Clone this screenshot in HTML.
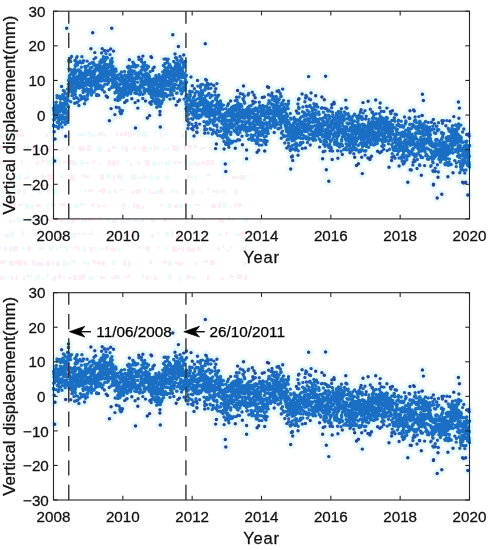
<!DOCTYPE html>
<html><head><meta charset="utf-8"><title>Vertical displacement</title>
<style>html,body{margin:0;padding:0;background:#fff;width:488px;height:550px;overflow:hidden}svg{display:block}</style>
</head><body>
<svg width="488" height="550" viewBox="0 0 488 550">
<rect width="488" height="550" fill="#fff"/>
<g opacity="0.5"><path d="M16 131h2v6h-2zM20 133h4v4h-4zM45 134h3v3h-3zM67 132h3v2h-3zM98 132h5v4h-5zM116 132h2v4h-2zM120 132h3v4h-3zM124 131h3v5h-3zM128 132h3v5h-3zM134 132h2v3h-2zM160 132h2v5h-2zM198 132h4v5h-4zM207 131h2v6h-2zM222 132h4v6h-4zM234 132h3v5h-3zM239 132h4v5h-4zM244 132h5v3h-5zM0 146h5v3h-5zM24 146h2v5h-2zM32 145h4v5h-4zM47 146h4v6h-4zM56 149h5v2h-5zM66 147h2v4h-2zM78 146h5v5h-5zM83 147h2v4h-2zM87 145h4v6h-4zM107 149h4v3h-4zM112 146h4v3h-4zM125 146h3v6h-3zM133 147h3v3h-3zM142 146h5v6h-5zM154 145h2v5h-2zM172 145h5v6h-5zM184 145h2v5h-2zM188 145h4v4h-4zM194 145h3v3h-3zM202 147h4v2h-4zM216 146h3v4h-3zM232 147h4v2h-4zM237 146h4v6h-4zM0 160h2v4h-2zM4 160h2v5h-2zM8 164h2v2h-2zM11 163h3v2h-3zM21 160h2v5h-2zM36 161h3v4h-3zM41 160h4v3h-4zM52 161h5v4h-5zM63 160h2v4h-2zM66 160h2v4h-2zM69 160h5v5h-5zM85 162h4v2h-4zM93 160h2v4h-2zM108 160h3v6h-3zM112 160h4v6h-4zM117 160h2v5h-2zM130 163h2v3h-2zM138 161h2v4h-2zM145 160h5v6h-5zM158 162h2v3h-2zM173 161h4v3h-4zM178 161h4v3h-4zM196 162h4v4h-4zM201 161h4v4h-4zM206 160h3v6h-3zM210 160h4v5h-4zM3 175h2v4h-2zM23 177h4v2h-4zM35 176h3v5h-3zM41 174h3v6h-3zM48 174h5v6h-5zM70 175h5v6h-5zM82 174h2v3h-2zM84 175h5v3h-5zM100 174h4v6h-4zM113 175h2v6h-2zM117 174h4v5h-4zM143 174h2v5h-2zM187 175h2v5h-2zM206 174h5v2h-5zM223 175h2v3h-2zM232 176h4v3h-4zM237 176h2v3h-2zM240 175h4v5h-4zM6 190h2v4h-2zM17 190h4v4h-4zM47 190h3v3h-3zM88 189h5v3h-5zM98 190h4v2h-4zM102 188h3v6h-3zM113 190h4v3h-4zM131 191h4v3h-4zM136 189h5v5h-5zM149 189h2v5h-2zM152 192h4v2h-4zM160 188h3v6h-3zM191 189h3v6h-3zM207 188h2v3h-2zM216 189h2v5h-2zM222 190h4v3h-4zM235 189h2v6h-2zM3 204h5v3h-5zM10 203h5v6h-5zM18 204h5v2h-5zM36 204h5v3h-5zM51 203h2v4h-2zM60 203h5v3h-5zM91 204h2v3h-2zM93 204h2v2h-2zM97 204h3v4h-3zM101 205h5v2h-5zM122 203h2v6h-2zM133 203h2v5h-2zM136 204h4v5h-4zM142 206h2v3h-2zM174 204h4v4h-4zM184 204h2v3h-2zM195 204h5v2h-5zM211 204h5v4h-5zM218 203h3v5h-3zM234 203h3v4h-3zM238 203h4v4h-4zM9 220h3v3h-3zM34 219h4v3h-4zM49 218h4v4h-4zM55 217h3v4h-3zM60 220h3v3h-3zM71 217h4v6h-4zM75 217h5v3h-5zM85 219h2v3h-2zM88 217h5v4h-5zM94 217h3v2h-3zM99 217h3v3h-3zM112 220h3v3h-3zM122 217h2v6h-2zM142 218h2v5h-2zM151 219h4v3h-4zM163 217h4v5h-4zM202 217h2v3h-2zM204 219h2v2h-2zM219 218h5v5h-5zM228 217h2v4h-2zM5 234h4v3h-4zM33 233h4v3h-4zM47 231h3v3h-3zM51 233h4v4h-4zM58 233h4v4h-4zM64 233h2v4h-2zM77 233h3v2h-3zM82 233h4v2h-4zM91 231h2v4h-2zM110 231h3v4h-3zM126 232h4v5h-4zM134 233h3v3h-3zM151 234h3v4h-3zM176 232h4v5h-4zM181 234h2v4h-2zM193 232h3v3h-3zM204 232h3v3h-3zM225 232h3v3h-3zM240 232h3v4h-3zM243 231h3v4h-3zM4 247h3v4h-3zM14 246h4v5h-4zM27 246h4v5h-4zM74 246h3v3h-3zM78 247h2v4h-2zM90 247h3v5h-3zM94 247h3v2h-3zM105 246h4v4h-4zM111 248h5v4h-5zM138 246h3v3h-3zM146 246h4v5h-4zM157 246h2v3h-2zM172 246h5v6h-5zM178 248h3v2h-3zM182 247h2v5h-2zM187 247h4v5h-4zM191 248h4v4h-4zM197 246h4v5h-4zM217 247h3v4h-3zM222 245h2v3h-2zM230 246h2v3h-2zM245 246h2v5h-2zM0 260h4v4h-4zM4 260h2v3h-2zM9 261h5v5h-5zM15 260h3v5h-3zM18 260h4v6h-4zM23 261h4v4h-4zM32 260h2v5h-2zM35 262h2v4h-2zM38 262h4v4h-4zM46 261h4v5h-4zM52 262h2v3h-2zM56 261h4v5h-4zM92 260h4v3h-4zM97 261h4v4h-4zM102 261h3v5h-3zM123 260h3v6h-3zM128 261h2v6h-2zM149 260h3v4h-3zM161 261h3v2h-3zM164 260h3v4h-3zM175 261h2v3h-2zM178 262h5v4h-5zM195 262h2v4h-2zM204 260h4v3h-4zM210 260h5v5h-5zM244 262h2v4h-2zM0 276h3v4h-3zM11 276h2v4h-2zM16 275h2v5h-2zM23 276h2v4h-2zM29 275h3v2h-3zM53 276h3v5h-3zM58 274h3v5h-3zM68 277h4v2h-4zM73 275h4v5h-4zM79 275h4v5h-4zM83 274h2v5h-2zM100 276h5v3h-5zM111 277h3v2h-3zM114 275h3v4h-3zM124 276h3v2h-3zM128 274h2v3h-2zM146 275h2v5h-2zM149 276h2v3h-2zM154 276h3v4h-3zM188 275h3v4h-3zM207 275h2v5h-2zM220 278h2v2h-2zM222 277h2v3h-2zM230 275h4v3h-4zM237 274h5v5h-5zM244 275h3v5h-3z" fill="#ffdcef"/><path d="M0 134h2v3h-2zM5 132h3v4h-3zM11 133h5v3h-5zM51 132h2v4h-2zM54 132h2v5h-2zM77 133h4v3h-4zM81 133h4v3h-4zM87 131h3v4h-3zM90 133h3v4h-3zM94 134h3v3h-3zM104 133h2v4h-2zM137 131h3v6h-3zM142 131h5v6h-5zM154 131h3v2h-3zM164 133h3v3h-3zM181 133h3v5h-3zM186 132h3v5h-3zM192 131h4v4h-4zM210 133h4v3h-4zM216 132h2v5h-2zM219 131h2v6h-2zM227 133h5v3h-5zM11 146h4v5h-4zM26 146h4v6h-4zM39 147h3v5h-3zM62 147h2v4h-2zM71 146h3v3h-3zM97 146h5v6h-5zM122 146h2v5h-2zM139 148h2v3h-2zM148 147h4v3h-4zM157 146h2v5h-2zM163 148h3v3h-3zM167 147h3v4h-3zM177 146h3v5h-3zM200 147h2v4h-2zM221 146h2v4h-2zM225 146h5v4h-5zM47 160h5v5h-5zM59 160h2v6h-2zM74 161h3v5h-3zM80 160h4v5h-4zM90 161h2v2h-2zM100 162h2v3h-2zM126 160h3v2h-3zM152 161h5v5h-5zM161 161h2v4h-2zM165 161h4v5h-4zM169 160h2v5h-2zM184 160h3v5h-3zM189 161h5v5h-5zM193 160h3v5h-3zM220 160h5v6h-5zM230 160h5v2h-5zM242 162h3v3h-3zM0 174h2v3h-2zM7 177h2v2h-2zM12 176h5v4h-5zM18 174h3v6h-3zM27 175h3v4h-3zM45 175h3v3h-3zM60 175h3v3h-3zM106 174h5v5h-5zM121 176h2v4h-2zM131 174h5v6h-5zM138 177h4v2h-4zM145 176h3v3h-3zM150 175h3v5h-3zM155 176h5v4h-5zM165 175h4v5h-4zM189 176h4v3h-4zM195 175h2v5h-2zM243 175h3v5h-3zM247 175h2v2h-2zM0 191h4v3h-4zM11 188h4v6h-4zM23 189h3v6h-3zM34 188h3v3h-3zM38 190h4v4h-4zM52 189h5v6h-5zM85 189h2v3h-2zM107 191h5v3h-5zM119 189h5v2h-5zM144 188h2v3h-2zM156 190h4v4h-4zM171 189h3v4h-3zM175 189h3v5h-3zM201 191h3v3h-3zM212 190h4v3h-4zM219 190h2v4h-2zM0 203h2v4h-2zM25 203h4v6h-4zM30 205h4v4h-4zM47 203h2v6h-2zM53 203h3v4h-3zM67 203h2v4h-2zM69 206h2v3h-2zM74 204h5v4h-5zM80 203h4v3h-4zM124 203h2v4h-2zM128 206h2v2h-2zM160 204h3v2h-3zM168 203h4v5h-4zM179 203h4v5h-4zM188 205h4v3h-4zM222 203h5v5h-5zM230 206h2v2h-2zM13 219h2v4h-2zM17 217h3v5h-3zM21 217h3v5h-3zM25 218h5v3h-5zM30 217h4v6h-4zM40 217h3v6h-3zM66 221h4v2h-4zM82 217h2v6h-2zM105 217h2v2h-2zM106 218h3v3h-3zM115 217h2v6h-2zM126 218h4v3h-4zM133 220h5v2h-5zM139 220h3v2h-3zM186 218h2v5h-2zM232 218h2v4h-2zM244 217h4v5h-4zM10 231h2v6h-2zM12 232h2v5h-2zM21 231h3v6h-3zM37 232h5v4h-5zM72 233h4v5h-4zM87 233h3v2h-3zM104 234h2v3h-2zM107 233h2v4h-2zM131 233h3v3h-3zM138 232h3v3h-3zM157 232h2v3h-2zM165 232h4v5h-4zM171 231h3v6h-3zM208 232h3v2h-3zM218 233h4v3h-4zM235 233h5v3h-5zM0 247h2v2h-2zM9 246h5v6h-5zM21 247h4v3h-4zM39 246h5v4h-5zM49 246h4v5h-4zM56 248h2v3h-2zM59 245h2v3h-2zM61 246h4v2h-4zM66 246h2v6h-2zM69 246h2v2h-2zM83 246h3v6h-3zM99 248h5v2h-5zM117 248h4v3h-4zM142 247h4v2h-4zM164 247h3v3h-3zM227 249h2v3h-2zM241 246h4v4h-4zM42 263h3v3h-3zM62 260h4v6h-4zM68 262h2v4h-2zM71 260h5v3h-5zM83 260h2v4h-2zM85 262h5v3h-5zM112 260h4v5h-4zM168 261h4v5h-4zM3 276h2v4h-2zM7 276h2v2h-2zM26 274h3v4h-3zM35 275h5v5h-5zM42 278h2v2h-2zM46 274h3v3h-3zM51 278h2v3h-2zM63 275h2v4h-2zM88 276h5v4h-5zM94 276h3v2h-3zM117 275h3v4h-3zM142 274h2v4h-2zM168 274h4v5h-4zM179 276h2v5h-2zM186 275h2v5h-2zM192 276h4v3h-4z" fill="#d4f8f8"/></g>
<path d="M53.5 125.1h0M53.6 126.0h0M53.7 108.2h0M53.8 119.8h0M53.9 110.6h0M54.0 126.2h0M54.1 113.9h0M54.2 131.8h0M54.3 119.6h0M54.4 119.8h0M54.5 108.8h0M54.6 112.8h0M54.7 161.0h0M54.8 106.0h0M54.9 112.4h0M55.0 139.0h0M55.2 106.5h0M55.3 114.7h0M55.4 116.9h0M55.5 110.6h0M55.6 118.0h0M55.7 109.8h0M55.8 102.5h0M55.9 105.0h0M56.0 117.3h0M56.1 126.3h0M56.2 113.9h0M56.3 114.5h0M56.4 102.1h0M56.5 117.0h0M56.6 115.1h0M56.7 105.6h0M56.8 117.7h0M56.9 114.4h0M57.0 95.6h0M57.1 97.8h0M57.2 106.3h0M57.2 109.8h0M57.3 122.2h0M57.4 106.8h0M57.5 111.7h0M57.6 110.0h0M57.7 117.3h0M57.8 112.2h0M57.9 113.8h0M58.0 108.8h0M58.1 97.5h0M58.2 108.2h0M58.3 128.3h0M58.4 121.3h0M58.5 127.4h0M58.6 119.4h0M58.7 105.8h0M58.8 107.3h0M58.9 117.2h0M59.0 108.4h0M59.1 118.4h0M59.2 124.9h0M59.3 124.7h0M59.4 119.1h0M59.5 96.2h0M59.6 123.7h0M59.7 97.7h0M59.8 96.8h0M59.9 111.8h0M60.1 110.2h0M60.2 115.7h0M60.3 124.3h0M60.4 102.8h0M60.5 109.2h0M60.6 99.2h0M60.7 97.2h0M60.9 105.4h0M61.0 105.4h0M61.0 109.2h0M61.1 105.0h0M61.2 119.5h0M61.3 104.2h0M61.4 106.1h0M61.5 116.7h0M61.6 86.4h0M61.7 117.5h0M61.8 116.4h0M61.9 104.8h0M62.0 126.9h0M62.1 115.3h0M62.2 122.5h0M62.3 116.8h0M62.4 108.3h0M62.5 103.7h0M62.6 95.8h0M62.7 98.6h0M62.8 94.7h0M62.8 110.4h0M62.9 111.0h0M63.1 95.0h0M63.2 110.9h0M63.3 112.0h0M63.4 90.5h0M63.5 97.8h0M63.6 103.4h0M63.7 97.9h0M63.8 96.5h0M63.9 118.9h0M64.0 106.1h0M64.1 109.3h0M64.2 103.9h0M64.4 111.9h0M64.5 91.5h0M64.6 99.9h0M64.7 113.2h0M64.7 121.7h0M64.8 117.2h0M64.9 104.7h0M65.0 99.6h0M65.1 102.4h0M65.2 124.3h0M65.3 108.4h0M65.4 99.9h0M65.5 101.9h0M65.6 93.4h0M65.7 136.2h0M65.8 99.7h0M66.0 111.4h0M66.1 102.9h0M66.2 100.8h0M66.4 98.0h0M66.6 110.6h0M66.6 97.9h0M66.7 116.5h0M66.8 118.9h0M66.9 99.2h0M67.0 105.3h0M67.1 121.0h0M67.2 113.2h0M67.3 104.5h0M67.4 89.1h0M67.5 94.2h0M67.6 96.7h0M67.8 122.5h0M67.9 105.6h0M68.0 99.8h0M68.1 100.7h0M68.2 100.4h0M68.4 106.9h0M68.4 84.1h0M68.5 80.5h0M68.6 89.8h0M68.7 92.2h0M68.8 60.4h0M68.9 86.5h0M69.0 69.0h0M69.1 61.8h0M69.2 90.4h0M69.3 78.0h0M69.4 84.4h0M69.5 75.7h0M69.7 77.6h0M69.8 61.3h0M69.9 74.9h0M70.0 80.9h0M70.1 69.5h0M70.2 83.5h0M70.3 87.1h0M70.3 58.3h0M70.4 88.9h0M70.5 85.6h0M70.6 80.2h0M70.7 61.5h0M70.8 101.8h0M70.9 70.0h0M71.0 88.5h0M71.1 86.0h0M71.2 84.3h0M71.3 90.4h0M71.4 91.3h0M71.5 78.9h0M71.6 56.5h0M71.7 73.1h0M71.8 73.0h0M71.9 95.5h0M72.0 80.7h0M72.1 92.3h0M72.2 72.7h0M72.2 82.7h0M72.4 80.0h0M72.5 81.2h0M72.6 86.1h0M72.7 95.5h0M72.8 74.5h0M72.9 94.1h0M73.0 92.0h0M73.1 83.2h0M73.3 87.2h0M73.4 77.5h0M73.5 70.0h0M73.6 77.6h0M73.7 78.1h0M73.8 79.9h0M73.9 71.5h0M74.0 98.5h0M74.0 76.4h0M74.1 89.4h0M74.2 92.3h0M74.3 79.9h0M74.4 83.9h0M74.5 74.1h0M74.6 69.0h0M74.7 103.3h0M74.8 80.7h0M74.9 60.4h0M75.0 90.4h0M75.1 65.5h0M75.2 79.0h0M75.3 94.4h0M75.4 91.2h0M75.5 72.9h0M75.6 70.4h0M75.7 87.3h0M75.8 82.7h0M75.9 77.4h0M75.9 97.5h0M76.0 65.9h0M76.1 63.8h0M76.3 58.1h0M76.4 81.1h0M76.5 61.7h0M76.6 85.2h0M76.7 88.1h0M76.8 102.4h0M76.9 70.4h0M77.0 83.7h0M77.1 56.6h0M77.2 76.7h0M77.3 78.1h0M77.4 98.1h0M77.5 65.0h0M77.6 83.6h0M77.7 81.6h0M77.8 102.1h0M77.8 70.7h0M77.9 70.1h0M78.0 86.0h0M78.1 79.0h0M78.2 76.0h0M78.3 70.3h0M78.4 78.9h0M78.5 62.7h0M78.6 82.4h0M78.7 86.0h0M78.8 84.6h0M78.9 105.4h0M79.0 88.0h0M79.1 69.9h0M79.2 77.3h0M79.3 88.1h0M79.4 76.5h0M79.5 100.1h0M79.6 82.8h0M79.6 74.7h0M79.7 73.0h0M79.8 87.7h0M79.9 70.8h0M80.0 61.2h0M80.1 84.2h0M80.2 72.5h0M80.3 95.5h0M80.4 99.6h0M80.5 73.8h0M80.6 79.5h0M80.7 77.9h0M80.8 85.8h0M80.9 82.9h0M81.0 71.8h0M81.1 62.7h0M81.2 82.1h0M81.3 96.4h0M81.4 67.2h0M81.5 73.9h0M81.7 73.1h0M81.8 78.1h0M81.9 56.7h0M82.0 79.2h0M82.1 74.8h0M82.2 98.4h0M82.3 85.7h0M82.4 86.8h0M82.5 80.2h0M82.6 76.4h0M82.7 87.4h0M82.8 62.6h0M82.9 90.6h0M83.0 84.4h0M83.1 77.5h0M83.2 92.4h0M83.3 74.2h0M83.3 73.6h0M83.4 82.8h0M83.5 60.8h0M83.6 79.1h0M83.7 77.1h0M83.8 89.5h0M84.0 96.7h0M84.1 86.2h0M84.2 83.1h0M84.3 84.5h0M84.4 98.0h0M84.5 103.8h0M84.7 91.3h0M84.8 98.2h0M84.9 66.5h0M85.0 85.6h0M85.1 85.1h0M85.2 90.9h0M85.2 70.9h0M85.3 73.8h0M85.4 77.5h0M85.5 100.3h0M85.6 68.2h0M85.7 76.0h0M85.8 74.4h0M85.9 67.5h0M86.0 81.8h0M86.1 81.6h0M86.2 72.7h0M86.4 75.6h0M86.5 82.3h0M86.6 79.5h0M86.7 84.9h0M86.8 88.8h0M86.9 70.5h0M87.0 79.8h0M87.1 61.1h0M87.1 95.3h0M87.2 82.2h0M87.3 98.9h0M87.4 84.1h0M87.5 95.9h0M87.6 65.9h0M87.7 74.4h0M87.8 91.8h0M87.9 72.1h0M88.0 90.1h0M88.1 93.3h0M88.2 81.4h0M88.3 84.6h0M88.4 90.8h0M88.5 83.4h0M88.6 89.7h0M88.7 79.0h0M88.8 79.8h0M89.0 72.0h0M89.2 83.9h0M89.3 92.7h0M89.4 92.5h0M89.5 81.7h0M89.6 63.8h0M89.7 70.7h0M89.8 85.5h0M89.9 69.6h0M90.0 90.6h0M90.1 68.8h0M90.2 82.8h0M90.3 71.2h0M90.4 72.6h0M90.5 81.6h0M90.6 75.5h0M90.7 89.4h0M90.8 79.4h0M90.8 67.8h0M90.9 48.7h0M91.0 71.5h0M91.1 77.6h0M91.2 88.6h0M91.3 67.8h0M91.4 94.9h0M91.5 86.3h0M91.7 74.6h0M91.8 90.2h0M91.9 62.7h0M92.1 67.1h0M92.2 83.7h0M92.3 83.5h0M92.4 91.1h0M92.5 91.9h0M92.6 73.4h0M92.7 71.5h0M92.8 74.2h0M92.9 75.0h0M93.0 83.2h0M93.1 73.9h0M93.2 92.2h0M93.3 77.4h0M93.4 62.6h0M93.5 64.1h0M93.6 81.9h0M93.7 80.6h0M93.8 63.3h0M94.0 59.1h0M94.1 91.9h0M94.2 81.2h0M94.3 74.5h0M94.4 64.5h0M94.5 85.1h0M94.5 70.2h0M94.6 79.6h0M94.8 52.6h0M94.9 72.1h0M95.0 77.7h0M95.1 79.6h0M95.2 65.6h0M95.3 69.3h0M95.4 86.9h0M95.5 78.1h0M95.6 89.3h0M95.7 57.6h0M95.8 88.8h0M95.9 89.0h0M96.0 82.5h0M96.1 85.4h0M96.2 70.2h0M96.3 67.5h0M96.4 77.8h0M96.4 86.5h0M96.5 67.2h0M96.6 95.5h0M96.7 94.5h0M96.8 67.8h0M96.9 77.9h0M97.0 65.2h0M97.1 77.0h0M97.2 87.5h0M97.3 79.9h0M97.4 69.0h0M97.5 82.3h0M97.6 81.6h0M97.7 88.5h0M97.8 86.1h0M97.9 65.9h0M98.0 69.7h0M98.1 85.9h0M98.2 85.0h0M98.3 79.7h0M98.3 68.5h0M98.4 85.7h0M98.5 75.6h0M98.6 95.3h0M98.7 86.4h0M98.8 69.5h0M98.9 64.7h0M99.0 85.2h0M99.1 81.3h0M99.2 65.5h0M99.3 77.3h0M99.5 78.7h0M99.6 68.0h0M99.7 71.2h0M99.8 61.9h0M100.0 65.0h0M100.1 78.6h0M100.1 74.0h0M100.2 73.3h0M100.3 86.3h0M100.4 85.2h0M100.5 62.8h0M100.6 88.4h0M100.7 62.4h0M100.8 69.5h0M100.9 73.7h0M101.0 66.8h0M101.1 67.4h0M101.2 60.0h0M101.3 76.0h0M101.4 74.2h0M101.5 74.4h0M101.6 53.0h0M101.7 62.3h0M101.8 80.9h0M101.9 75.0h0M102.0 78.6h0M102.0 71.4h0M102.1 69.4h0M102.2 48.6h0M102.3 89.8h0M102.4 61.3h0M102.5 67.2h0M102.6 78.6h0M102.7 73.1h0M102.8 76.6h0M102.9 71.1h0M103.0 61.6h0M103.1 86.8h0M103.2 58.5h0M103.3 75.4h0M103.4 56.7h0M103.5 67.6h0M103.7 59.4h0M103.8 66.1h0M103.9 60.9h0M103.9 71.2h0M104.0 80.1h0M104.1 65.1h0M104.2 64.7h0M104.3 50.8h0M104.4 91.9h0M104.5 73.8h0M104.6 61.2h0M104.7 84.4h0M104.8 74.1h0M104.9 50.7h0M105.0 57.7h0M105.1 80.7h0M105.2 57.7h0M105.3 60.1h0M105.4 64.2h0M105.5 68.2h0M105.6 69.6h0M105.7 80.7h0M105.7 77.2h0M105.8 64.7h0M105.9 70.6h0M106.0 53.6h0M106.1 75.4h0M106.2 96.0h0M106.4 75.4h0M106.5 69.3h0M106.6 68.3h0M106.7 71.4h0M106.8 80.4h0M106.9 57.2h0M107.0 78.8h0M107.1 65.1h0M107.2 75.1h0M107.3 84.2h0M107.4 58.1h0M107.5 97.3h0M107.6 80.7h0M107.6 67.9h0M107.7 75.8h0M107.8 64.8h0M107.9 73.3h0M108.0 76.8h0M108.1 50.7h0M108.2 74.5h0M108.3 73.9h0M108.4 83.1h0M108.5 79.8h0M108.7 65.9h0M108.8 66.8h0M108.9 72.4h0M109.0 79.4h0M109.1 65.6h0M109.2 89.4h0M109.4 120.7h0M109.5 75.0h0M109.5 80.9h0M109.6 71.0h0M109.8 79.2h0M109.9 80.5h0M110.0 54.6h0M110.1 65.2h0M110.2 71.7h0M110.3 72.1h0M110.4 63.0h0M110.5 64.8h0M110.6 60.5h0M110.7 49.0h0M110.8 75.1h0M110.9 70.5h0M111.0 73.8h0M111.1 108.6h0M111.2 87.7h0M111.3 73.9h0M111.3 68.0h0M111.4 80.3h0M111.5 63.5h0M111.6 62.3h0M111.7 79.5h0M111.8 61.4h0M111.9 58.4h0M112.0 71.5h0M112.1 86.1h0M112.2 62.0h0M112.3 78.5h0M112.4 80.9h0M112.5 76.2h0M112.7 83.3h0M112.8 67.5h0M112.9 70.7h0M113.0 66.5h0M113.1 73.1h0M113.2 87.1h0M113.2 81.0h0M113.3 71.0h0M113.4 84.0h0M113.5 51.1h0M113.6 82.9h0M113.7 86.6h0M113.8 69.5h0M113.9 73.8h0M114.0 81.8h0M114.1 84.0h0M114.2 77.8h0M114.3 74.0h0M114.4 74.9h0M114.5 85.8h0M114.6 78.7h0M114.7 74.9h0M114.8 76.0h0M114.9 114.6h0M115.0 93.0h0M115.1 92.1h0M115.2 99.8h0M115.3 83.3h0M115.4 76.2h0M115.5 79.5h0M115.6 87.2h0M115.7 85.9h0M115.8 68.9h0M115.9 84.3h0M116.0 83.7h0M116.1 71.2h0M116.2 83.4h0M116.3 107.3h0M116.4 83.3h0M116.5 90.9h0M116.6 88.2h0M116.7 76.7h0M116.8 82.6h0M116.9 89.9h0M116.9 78.5h0M117.0 83.1h0M117.1 86.4h0M117.2 84.6h0M117.3 85.1h0M117.4 91.1h0M117.5 92.3h0M117.6 87.6h0M117.7 97.4h0M117.8 100.5h0M117.9 75.0h0M118.0 90.4h0M118.1 88.4h0M118.2 89.5h0M118.3 88.0h0M118.4 88.1h0M118.5 87.7h0M118.6 96.4h0M118.7 79.2h0M118.8 95.5h0M118.8 78.3h0M119.0 107.8h0M119.1 99.4h0M119.2 79.0h0M119.3 90.4h0M119.4 95.7h0M119.5 85.3h0M119.7 99.6h0M119.8 88.5h0M119.9 111.4h0M120.0 93.9h0M120.1 95.9h0M120.2 84.1h0M120.3 80.9h0M120.4 98.1h0M120.5 73.7h0M120.6 95.7h0M120.7 110.3h0M120.7 113.6h0M120.8 74.6h0M120.9 90.9h0M121.0 96.5h0M121.1 97.5h0M121.2 113.7h0M121.3 76.5h0M121.4 90.7h0M121.5 71.9h0M121.6 91.6h0M121.7 112.9h0M121.8 81.0h0M121.9 93.0h0M122.0 91.6h0M122.1 79.5h0M122.2 91.7h0M122.3 77.4h0M122.4 88.9h0M122.5 110.6h0M122.5 83.6h0M122.6 94.6h0M122.7 76.3h0M122.8 78.8h0M122.9 87.7h0M123.0 82.1h0M123.1 82.5h0M123.2 90.8h0M123.3 79.0h0M123.4 90.1h0M123.5 81.6h0M123.6 97.1h0M123.7 86.5h0M123.8 83.3h0M124.0 95.1h0M124.1 91.3h0M124.2 92.4h0M124.3 79.7h0M124.4 94.0h0M124.4 82.4h0M124.5 71.5h0M124.6 83.0h0M124.7 102.5h0M124.8 85.1h0M124.9 75.9h0M125.0 89.0h0M125.1 75.0h0M125.2 79.8h0M125.3 81.7h0M125.4 88.4h0M125.5 90.8h0M125.6 88.1h0M125.7 84.8h0M125.8 80.2h0M125.9 81.1h0M126.0 88.2h0M126.1 84.4h0M126.2 81.1h0M126.3 101.0h0M126.3 92.4h0M126.4 92.7h0M126.5 86.7h0M126.6 87.3h0M126.7 87.1h0M126.8 93.1h0M126.9 77.7h0M127.0 81.5h0M127.1 100.5h0M127.2 84.0h0M127.3 95.2h0M127.5 67.0h0M127.6 88.4h0M127.7 87.7h0M127.8 82.8h0M128.0 85.5h0M128.1 84.0h0M128.1 68.0h0M128.2 81.1h0M128.3 74.9h0M128.4 72.0h0M128.6 92.7h0M128.7 66.2h0M128.8 76.0h0M128.9 73.3h0M129.0 91.3h0M129.1 74.5h0M129.2 78.5h0M129.3 87.9h0M129.4 59.8h0M129.6 76.7h0M129.7 84.6h0M129.8 80.2h0M129.9 73.0h0M130.0 70.8h0M130.1 76.1h0M130.2 69.7h0M130.5 67.0h0M130.7 93.7h0M130.8 86.2h0M130.9 90.6h0M131.0 80.3h0M131.1 66.8h0M131.2 88.7h0M131.3 91.4h0M131.4 83.9h0M131.5 70.6h0M131.6 86.1h0M131.7 81.7h0M131.8 77.6h0M131.8 98.7h0M131.9 72.8h0M132.0 77.0h0M132.1 74.7h0M132.2 90.0h0M132.3 87.9h0M132.4 86.1h0M132.5 77.6h0M132.6 79.3h0M132.7 78.7h0M132.8 62.1h0M132.9 66.8h0M133.0 86.9h0M133.1 86.1h0M133.2 62.5h0M133.3 82.7h0M133.4 65.8h0M133.5 63.6h0M133.6 84.9h0M133.7 82.2h0M133.7 78.7h0M133.8 88.1h0M133.9 89.2h0M134.0 83.4h0M134.1 71.0h0M134.3 83.9h0M134.4 81.5h0M134.5 84.0h0M134.7 93.0h0M134.8 64.6h0M135.1 102.6h0M135.2 85.8h0M135.3 73.8h0M135.4 93.2h0M135.5 128.0h0M135.6 66.9h0M135.6 87.8h0M135.7 77.2h0M135.8 90.3h0M135.9 74.2h0M136.0 78.4h0M136.1 77.1h0M136.2 65.7h0M136.3 74.6h0M136.4 65.9h0M136.5 72.9h0M136.6 91.1h0M136.7 76.6h0M136.8 74.3h0M136.9 93.5h0M137.1 65.9h0M137.2 78.5h0M137.3 75.5h0M137.4 88.0h0M137.4 78.4h0M137.5 76.1h0M137.6 82.3h0M137.7 78.3h0M137.8 108.1h0M137.9 65.6h0M138.0 90.1h0M138.1 100.7h0M138.2 88.6h0M138.3 87.3h0M138.4 73.6h0M138.5 88.1h0M138.6 76.2h0M138.7 88.5h0M138.8 57.1h0M138.9 73.6h0M139.0 59.6h0M139.1 89.0h0M139.3 72.4h0M139.3 88.4h0M139.4 73.2h0M139.5 72.2h0M139.6 94.8h0M139.7 90.2h0M139.8 90.5h0M139.9 93.8h0M140.0 86.2h0M140.1 88.4h0M140.2 93.2h0M140.3 77.9h0M140.4 73.5h0M140.5 91.9h0M140.7 84.4h0M140.8 78.8h0M140.9 81.1h0M141.0 85.8h0M141.1 70.8h0M141.2 70.4h0M141.2 72.1h0M141.3 80.9h0M141.4 59.1h0M141.5 61.5h0M141.6 82.8h0M141.7 80.0h0M141.8 67.0h0M141.9 86.7h0M142.1 74.8h0M142.2 78.3h0M142.3 85.7h0M142.5 81.0h0M142.6 94.3h0M142.7 84.1h0M142.8 98.5h0M142.9 56.1h0M143.1 63.7h0M143.2 66.5h0M143.3 75.6h0M143.4 68.7h0M143.5 66.0h0M143.6 68.5h0M143.7 69.6h0M143.8 87.9h0M143.9 74.6h0M144.0 84.3h0M144.1 90.8h0M144.2 90.5h0M144.3 75.0h0M144.5 69.0h0M144.6 93.1h0M144.7 62.4h0M144.8 65.2h0M144.9 83.6h0M144.9 84.6h0M145.0 80.8h0M145.1 70.4h0M145.2 84.1h0M145.3 91.3h0M145.4 77.1h0M145.5 101.0h0M145.6 79.3h0M145.7 69.3h0M145.9 77.9h0M146.0 73.3h0M146.1 76.2h0M146.2 74.0h0M146.3 79.9h0M146.4 89.7h0M146.5 83.8h0M146.6 82.4h0M146.7 69.2h0M146.8 65.7h0M146.8 77.7h0M146.9 89.5h0M147.0 89.3h0M147.1 84.1h0M147.2 68.5h0M147.3 117.9h0M147.4 83.0h0M147.5 90.2h0M147.6 73.9h0M147.7 79.9h0M148.0 83.6h0M148.1 82.1h0M148.2 66.5h0M148.4 85.0h0M148.5 66.8h0M148.6 89.9h0M148.6 83.2h0M148.7 75.0h0M148.8 85.1h0M148.9 92.2h0M149.0 86.7h0M149.1 93.2h0M149.2 79.2h0M149.3 84.2h0M149.4 78.8h0M149.5 76.4h0M149.6 115.6h0M149.7 81.7h0M149.8 102.7h0M149.9 83.3h0M150.0 93.7h0M150.1 84.1h0M150.2 71.7h0M150.3 102.2h0M150.4 83.5h0M150.5 86.3h0M150.5 87.3h0M150.6 79.3h0M150.7 85.5h0M150.8 91.0h0M150.9 93.3h0M151.0 56.8h0M151.1 90.3h0M151.2 104.3h0M151.3 95.8h0M151.4 90.4h0M151.5 90.7h0M151.6 57.6h0M151.7 97.5h0M151.9 82.0h0M152.0 92.3h0M152.2 101.2h0M152.3 96.0h0M152.4 91.8h0M152.4 79.7h0M152.5 83.5h0M152.6 91.7h0M152.7 70.6h0M152.8 86.5h0M152.9 68.6h0M153.0 95.0h0M153.1 84.4h0M153.2 81.9h0M153.3 98.8h0M153.4 87.5h0M153.5 87.9h0M153.6 94.3h0M153.7 84.1h0M153.8 79.7h0M153.9 78.8h0M154.0 92.1h0M154.1 88.4h0M154.2 67.1h0M154.2 101.5h0M154.4 88.6h0M154.5 82.1h0M154.6 89.5h0M154.7 84.7h0M154.8 89.6h0M154.9 83.9h0M155.0 78.8h0M155.1 93.9h0M155.2 89.8h0M155.3 92.5h0M155.4 96.0h0M155.5 92.4h0M155.6 103.5h0M155.7 85.1h0M155.8 75.7h0M155.9 75.6h0M156.1 79.7h0M156.3 101.7h0M156.4 77.1h0M156.5 99.1h0M156.6 92.5h0M156.7 107.2h0M156.8 102.5h0M156.9 83.5h0M157.0 88.9h0M157.1 93.2h0M157.2 100.3h0M157.4 87.3h0M157.5 96.0h0M157.6 81.0h0M157.7 79.2h0M157.9 104.8h0M158.0 96.1h0M158.0 94.2h0M158.1 102.7h0M158.2 102.0h0M158.3 90.0h0M158.4 92.8h0M158.5 93.5h0M158.6 96.0h0M158.7 85.5h0M158.8 102.5h0M158.9 99.6h0M159.0 74.7h0M159.1 77.3h0M159.2 106.3h0M159.3 103.6h0M159.4 86.4h0M159.5 101.9h0M159.6 92.5h0M159.8 94.4h0M159.8 84.3h0M159.9 114.8h0M160.0 111.5h0M160.1 101.8h0M160.2 79.5h0M160.3 126.9h0M160.4 106.4h0M160.5 84.5h0M160.6 82.3h0M160.7 91.7h0M160.8 92.5h0M160.9 84.8h0M161.0 77.1h0M161.1 87.2h0M161.3 103.8h0M161.4 88.4h0M161.5 91.4h0M161.6 96.4h0M161.7 84.5h0M161.7 89.7h0M161.8 88.9h0M161.9 77.0h0M162.0 81.1h0M162.1 101.9h0M162.2 100.9h0M162.3 79.5h0M162.4 90.6h0M162.5 92.5h0M162.6 92.6h0M162.7 71.9h0M162.8 75.4h0M162.9 90.4h0M163.1 94.0h0M163.2 82.3h0M163.3 86.7h0M163.4 65.5h0M163.5 96.1h0M163.6 99.5h0M163.6 83.6h0M163.7 80.7h0M163.9 78.9h0M164.0 72.5h0M164.1 59.1h0M164.2 82.7h0M164.3 84.5h0M164.4 96.2h0M164.5 76.3h0M164.6 70.2h0M164.7 81.2h0M164.8 66.9h0M165.0 78.2h0M165.1 63.5h0M165.2 75.2h0M165.3 88.9h0M165.4 84.7h0M165.4 93.5h0M165.5 95.5h0M165.6 75.7h0M165.7 69.7h0M165.8 58.9h0M165.9 78.8h0M166.0 80.5h0M166.1 89.1h0M166.2 68.3h0M166.3 85.5h0M166.5 83.9h0M166.6 71.2h0M166.7 72.4h0M166.8 96.4h0M166.9 70.5h0M167.0 76.5h0M167.1 81.7h0M167.2 81.9h0M167.3 60.5h0M167.3 62.5h0M167.4 59.6h0M167.5 89.0h0M167.6 84.1h0M167.7 68.7h0M167.8 89.5h0M168.0 84.6h0M168.1 95.3h0M168.2 59.1h0M168.4 66.9h0M168.5 72.8h0M168.6 75.2h0M168.7 81.4h0M168.9 81.2h0M169.0 71.1h0M169.1 84.2h0M169.2 65.0h0M169.2 82.0h0M169.3 85.7h0M169.4 64.2h0M169.5 78.4h0M169.7 71.5h0M169.8 81.0h0M170.0 99.1h0M170.2 71.4h0M170.3 90.1h0M170.4 66.0h0M170.5 92.0h0M170.6 95.1h0M170.7 73.6h0M170.8 72.4h0M170.9 75.5h0M171.0 88.5h0M171.0 67.7h0M171.1 90.9h0M171.2 81.0h0M171.3 84.2h0M171.4 80.1h0M171.5 67.9h0M171.6 82.6h0M171.7 70.7h0M171.8 69.4h0M171.9 93.1h0M172.0 87.7h0M172.1 79.9h0M172.2 82.0h0M172.3 73.0h0M172.4 95.1h0M172.5 75.9h0M172.7 68.6h0M172.8 77.6h0M172.9 89.6h0M172.9 75.8h0M173.1 81.1h0M173.2 70.2h0M173.3 76.6h0M173.4 68.5h0M173.6 79.9h0M173.7 61.4h0M173.8 98.4h0M173.9 85.6h0M174.0 70.7h0M174.1 90.4h0M174.3 68.2h0M174.4 87.4h0M174.5 74.4h0M174.6 84.4h0M174.7 79.7h0M174.8 73.5h0M174.8 76.3h0M174.9 79.0h0M175.0 54.0h0M175.1 75.2h0M175.2 84.9h0M175.3 66.2h0M175.4 67.2h0M175.5 63.3h0M175.6 57.7h0M175.7 84.7h0M175.8 64.9h0M175.9 64.2h0M176.0 75.4h0M176.1 73.0h0M176.2 105.1h0M176.4 81.2h0M176.6 57.9h0M176.6 93.2h0M176.7 80.8h0M176.8 72.7h0M176.9 69.9h0M177.0 59.5h0M177.1 93.0h0M177.2 75.2h0M177.3 67.1h0M177.4 88.6h0M177.5 76.1h0M177.6 66.1h0M177.7 62.7h0M177.8 70.4h0M177.9 101.5h0M178.0 77.0h0M178.1 71.9h0M178.2 78.8h0M178.3 76.4h0M178.4 46.4h0M178.5 77.9h0M178.5 85.4h0M178.6 73.5h0M178.7 79.0h0M178.8 78.9h0M178.9 76.8h0M179.0 68.3h0M179.1 73.6h0M179.2 87.8h0M179.3 77.3h0M179.4 71.3h0M179.5 100.0h0M179.6 64.7h0M179.7 68.3h0M179.8 85.8h0M179.9 72.9h0M180.0 56.5h0M180.1 60.7h0M180.2 76.7h0M180.3 67.3h0M180.4 82.8h0M180.4 90.4h0M180.5 70.7h0M180.6 73.7h0M180.7 71.1h0M180.8 76.4h0M180.9 73.0h0M181.0 81.3h0M181.1 71.6h0M181.2 68.0h0M181.3 76.9h0M181.4 68.3h0M181.5 93.8h0M181.6 84.1h0M181.7 62.1h0M181.8 59.0h0M181.9 73.9h0M182.0 77.4h0M182.1 88.9h0M182.2 72.8h0M182.2 68.8h0M182.3 91.1h0M182.4 70.9h0M182.5 71.6h0M182.6 72.1h0M182.7 87.6h0M182.8 71.2h0M183.0 91.3h0M183.1 61.9h0M183.2 75.3h0M183.3 88.1h0M183.4 63.3h0M183.5 65.2h0M183.6 83.1h0M183.7 54.9h0M183.8 86.6h0M183.9 73.6h0M184.0 65.0h0M184.1 99.1h0M184.2 66.9h0M184.4 77.4h0M184.5 77.0h0M184.6 87.4h0M184.7 73.6h0M184.8 87.5h0M184.9 86.4h0M185.0 81.3h0M185.1 89.0h0M185.2 61.4h0M185.3 90.1h0M185.4 84.4h0M185.5 80.1h0M185.6 76.9h0M185.7 75.8h0M185.8 83.0h0M185.9 102.0h0M185.9 108.6h0M186.0 104.3h0M186.1 96.2h0M186.2 97.4h0M186.3 110.1h0M186.4 75.3h0M186.5 82.1h0M186.6 94.6h0M186.7 101.9h0M186.9 101.1h0M187.0 110.4h0M187.1 115.7h0M187.2 108.4h0M187.3 107.3h0M187.4 111.7h0M187.5 121.0h0M187.6 108.3h0M187.7 98.4h0M187.8 110.4h0M187.8 104.6h0M187.9 128.4h0M188.0 107.3h0M188.1 106.3h0M188.2 119.0h0M188.3 124.9h0M188.4 100.1h0M188.5 114.4h0M188.6 99.2h0M188.7 109.9h0M188.9 97.6h0M189.0 109.0h0M189.1 122.7h0M189.2 106.0h0M189.4 108.9h0M189.5 97.3h0M189.6 110.4h0M189.7 109.7h0M189.7 94.9h0M189.8 91.3h0M189.9 96.1h0M190.0 92.9h0M190.1 99.8h0M190.2 96.0h0M190.3 94.8h0M190.5 100.4h0M190.6 104.4h0M190.8 103.5h0M191.0 76.9h0M191.1 105.0h0M191.2 108.0h0M191.3 112.8h0M191.4 105.6h0M191.5 102.4h0M191.5 118.6h0M191.6 128.6h0M191.7 101.8h0M191.8 124.2h0M192.0 102.3h0M192.1 103.7h0M192.2 91.8h0M192.3 85.7h0M192.4 101.0h0M192.6 111.9h0M192.7 119.2h0M192.8 114.7h0M192.9 104.9h0M193.0 129.8h0M193.1 104.5h0M193.2 105.6h0M193.3 97.8h0M193.4 109.4h0M193.4 104.3h0M193.5 114.1h0M193.6 110.9h0M193.7 126.4h0M193.9 104.0h0M194.0 135.9h0M194.1 103.6h0M194.2 101.2h0M194.3 117.1h0M194.4 88.7h0M194.5 114.6h0M194.7 96.1h0M194.8 104.3h0M194.9 116.9h0M195.0 93.5h0M195.1 105.4h0M195.2 103.5h0M195.3 100.3h0M195.3 105.9h0M195.4 110.1h0M195.5 100.2h0M195.6 110.5h0M195.7 104.9h0M195.8 113.6h0M195.9 123.3h0M196.0 113.7h0M196.1 111.6h0M196.2 105.6h0M196.3 91.8h0M196.4 125.7h0M196.5 104.3h0M196.7 131.9h0M196.8 118.1h0M196.9 111.8h0M197.0 132.4h0M197.1 127.7h0M197.1 104.0h0M197.2 104.9h0M197.3 107.2h0M197.4 115.3h0M197.5 80.5h0M197.6 107.8h0M197.7 116.1h0M197.8 86.1h0M197.9 98.7h0M198.0 110.3h0M198.1 91.9h0M198.3 104.1h0M198.4 98.4h0M198.5 103.2h0M198.6 118.1h0M198.7 117.9h0M198.8 104.1h0M198.9 117.9h0M199.0 115.0h0M199.0 94.8h0M199.1 110.4h0M199.3 105.5h0M199.4 98.4h0M199.5 104.6h0M199.6 124.1h0M199.7 98.7h0M199.8 95.1h0M199.9 96.0h0M200.0 109.7h0M200.1 102.0h0M200.2 97.1h0M200.3 87.6h0M200.4 109.7h0M200.5 85.9h0M200.6 85.9h0M200.7 97.1h0M200.8 84.7h0M200.9 96.4h0M200.9 116.8h0M201.0 93.0h0M201.1 102.6h0M201.2 101.6h0M201.3 104.7h0M201.4 90.5h0M201.5 100.0h0M201.6 114.8h0M201.7 100.8h0M201.8 98.0h0M201.9 115.2h0M202.0 111.7h0M202.1 111.2h0M202.2 113.8h0M202.3 102.6h0M202.4 94.7h0M202.5 84.4h0M202.6 92.7h0M202.7 94.7h0M202.7 93.3h0M202.8 91.1h0M202.9 111.3h0M203.0 98.7h0M203.1 103.1h0M203.2 108.4h0M203.6 112.3h0M203.7 112.9h0M203.8 110.1h0M203.9 121.6h0M204.0 100.9h0M204.1 107.3h0M204.2 105.8h0M204.3 103.1h0M204.4 98.6h0M204.5 114.1h0M204.6 108.4h0M204.6 126.1h0M204.7 133.3h0M204.8 130.1h0M204.9 89.1h0M205.0 128.8h0M205.1 101.7h0M205.2 89.9h0M205.3 112.7h0M205.4 88.1h0M205.5 85.5h0M205.6 96.2h0M205.7 79.4h0M205.8 100.0h0M205.9 116.0h0M206.0 101.2h0M206.1 112.6h0M206.2 122.8h0M206.3 122.5h0M206.4 80.2h0M206.5 113.8h0M206.5 107.8h0M206.6 129.2h0M206.7 105.9h0M206.8 110.3h0M206.9 112.3h0M207.0 121.8h0M207.1 124.2h0M207.2 116.3h0M207.3 104.1h0M207.4 83.1h0M207.5 95.2h0M207.6 86.1h0M207.7 101.9h0M207.8 108.6h0M207.9 123.2h0M208.0 107.6h0M208.1 132.9h0M208.2 111.2h0M208.3 88.5h0M208.3 103.8h0M208.4 94.4h0M208.5 112.2h0M208.6 124.0h0M208.7 113.4h0M208.8 112.4h0M208.9 93.5h0M209.0 84.5h0M209.1 116.5h0M209.2 112.0h0M209.3 109.5h0M209.4 111.9h0M209.5 122.5h0M209.6 106.8h0M209.7 103.7h0M209.8 119.3h0M209.9 122.3h0M210.0 109.5h0M210.1 128.7h0M210.2 97.5h0M210.2 120.3h0M210.3 111.6h0M210.5 113.8h0M210.6 115.4h0M210.7 121.1h0M210.8 129.5h0M210.9 88.3h0M211.0 105.8h0M211.1 105.7h0M211.2 84.1h0M211.3 110.2h0M211.4 102.5h0M211.5 108.8h0M211.6 95.1h0M211.7 103.3h0M211.8 105.6h0M212.0 112.4h0M212.1 111.0h0M212.1 95.8h0M212.2 134.1h0M212.3 111.2h0M212.5 114.7h0M212.6 113.4h0M212.7 133.2h0M212.8 101.3h0M212.9 120.0h0M213.0 112.8h0M213.1 123.6h0M213.2 129.9h0M213.3 115.5h0M213.4 132.1h0M213.5 121.5h0M213.6 114.2h0M213.7 110.6h0M213.8 109.9h0M213.9 112.3h0M213.9 85.5h0M214.0 105.6h0M214.1 125.2h0M214.3 118.2h0M214.4 118.8h0M214.5 113.2h0M214.6 118.3h0M214.7 121.3h0M214.8 91.8h0M214.9 110.8h0M215.0 115.4h0M215.1 114.4h0M215.2 114.1h0M215.3 95.1h0M215.4 106.0h0M215.5 98.4h0M215.6 148.6h0M215.7 108.0h0M215.8 99.4h0M215.8 88.7h0M215.9 111.7h0M216.0 132.3h0M216.1 105.2h0M216.2 119.3h0M216.3 133.4h0M216.4 143.9h0M216.5 99.9h0M216.6 98.3h0M216.7 104.0h0M216.8 124.9h0M216.9 83.6h0M217.0 126.5h0M217.1 113.7h0M217.2 129.9h0M217.3 97.3h0M217.4 107.7h0M217.5 102.5h0M217.6 112.0h0M217.7 113.9h0M217.7 111.1h0M217.9 135.6h0M218.0 101.6h0M218.1 102.6h0M218.2 118.1h0M218.3 113.7h0M218.5 110.1h0M218.6 95.2h0M218.7 108.7h0M218.8 113.3h0M218.9 119.9h0M219.1 131.8h0M219.2 121.1h0M219.3 113.3h0M219.4 117.2h0M219.5 113.4h0M219.5 105.5h0M219.6 109.2h0M219.8 111.2h0M219.9 106.8h0M220.0 112.6h0M220.1 115.3h0M220.2 109.6h0M220.3 135.7h0M220.5 100.9h0M220.6 131.1h0M220.7 106.2h0M220.8 116.1h0M220.9 103.4h0M221.0 116.2h0M221.1 128.0h0M221.2 104.3h0M221.3 115.0h0M221.4 116.0h0M221.4 116.6h0M221.5 105.9h0M221.6 108.3h0M221.7 115.4h0M221.8 136.6h0M221.9 123.3h0M222.0 117.4h0M222.2 120.7h0M222.3 114.7h0M222.4 120.5h0M222.5 105.5h0M222.6 121.1h0M222.7 120.3h0M222.8 118.3h0M222.9 138.0h0M223.0 109.2h0M223.1 115.7h0M223.2 124.3h0M223.3 134.6h0M223.4 119.0h0M223.5 105.1h0M223.7 129.6h0M223.8 134.8h0M223.9 117.5h0M224.0 141.5h0M224.1 149.0h0M224.2 128.2h0M224.3 131.3h0M224.4 126.6h0M224.5 116.2h0M224.6 119.8h0M224.7 126.5h0M224.8 131.2h0M224.9 129.7h0M225.0 117.0h0M225.1 113.3h0M225.1 114.1h0M225.2 116.6h0M225.3 163.9h0M225.4 136.8h0M225.5 128.8h0M225.6 122.7h0M225.7 144.3h0M225.9 108.6h0M226.0 121.8h0M226.2 132.9h0M226.3 123.7h0M226.4 129.8h0M226.5 134.8h0M226.6 119.9h0M226.7 131.3h0M226.9 142.8h0M227.0 133.7h0M227.1 127.6h0M227.2 139.1h0M227.3 111.5h0M227.4 139.4h0M227.5 105.8h0M227.6 116.1h0M227.7 137.8h0M227.9 125.3h0M228.0 113.0h0M228.1 129.3h0M228.2 141.2h0M228.3 125.8h0M228.4 103.7h0M228.5 144.9h0M228.6 120.8h0M228.7 127.3h0M228.8 128.9h0M228.9 147.2h0M228.9 131.4h0M229.0 115.4h0M229.1 120.7h0M229.2 139.6h0M229.3 109.5h0M229.4 143.3h0M229.5 120.2h0M229.6 125.9h0M229.7 113.7h0M229.8 123.5h0M230.1 114.7h0M230.3 127.2h0M230.4 115.2h0M230.5 122.5h0M230.6 101.0h0M230.7 134.4h0M230.7 111.9h0M230.8 120.4h0M230.9 123.6h0M231.0 132.2h0M231.1 120.0h0M231.2 142.6h0M231.3 141.2h0M231.4 116.4h0M231.5 143.0h0M231.6 107.5h0M231.7 127.5h0M231.8 121.2h0M231.9 123.1h0M232.0 118.8h0M232.1 126.9h0M232.2 127.8h0M232.3 124.8h0M232.4 110.7h0M232.5 109.5h0M232.6 107.7h0M232.6 118.3h0M232.7 124.8h0M232.8 142.1h0M232.9 114.5h0M233.0 112.0h0M233.1 126.5h0M233.2 112.0h0M233.3 106.2h0M233.4 120.1h0M233.5 108.6h0M233.6 117.2h0M233.8 141.1h0M233.9 126.0h0M234.0 125.1h0M234.1 113.8h0M234.2 130.1h0M234.3 124.9h0M234.4 130.9h0M234.5 119.8h0M234.5 118.5h0M234.6 107.7h0M234.7 109.8h0M234.8 117.2h0M234.9 116.2h0M235.0 117.7h0M235.1 117.7h0M235.2 100.6h0M235.3 148.3h0M235.4 120.9h0M235.5 115.1h0M235.6 105.4h0M235.7 131.6h0M235.8 114.5h0M235.9 108.4h0M236.0 123.8h0M236.1 141.1h0M236.2 122.7h0M236.3 132.6h0M236.3 110.6h0M236.4 128.3h0M236.5 97.2h0M236.6 116.5h0M236.7 127.6h0M236.8 124.0h0M236.9 130.9h0M237.0 113.4h0M237.1 100.3h0M237.2 120.4h0M237.3 106.9h0M237.4 128.9h0M237.5 114.1h0M237.6 90.4h0M237.7 134.2h0M237.8 103.0h0M237.9 103.6h0M238.0 139.7h0M238.1 134.4h0M238.2 128.9h0M238.2 105.8h0M238.3 122.3h0M238.4 119.2h0M238.5 108.8h0M238.6 115.7h0M238.7 114.4h0M238.8 120.8h0M238.9 103.7h0M239.0 126.1h0M239.1 97.0h0M239.2 120.8h0M239.3 126.2h0M239.4 109.1h0M239.5 111.3h0M239.6 140.0h0M239.7 113.9h0M239.8 132.5h0M239.9 126.3h0M240.0 107.1h0M240.0 126.6h0M240.1 112.1h0M240.2 120.8h0M240.3 93.4h0M240.4 117.3h0M240.5 130.0h0M240.7 129.1h0M240.8 126.7h0M240.9 114.4h0M241.0 115.9h0M241.1 104.4h0M241.2 113.8h0M241.3 114.3h0M241.5 111.8h0M241.6 117.2h0M241.7 112.1h0M241.8 106.3h0M241.9 106.2h0M241.9 121.9h0M242.0 136.3h0M242.1 124.9h0M242.2 112.0h0M242.4 144.7h0M242.5 117.0h0M242.6 109.8h0M242.7 121.8h0M242.8 128.3h0M242.9 94.2h0M243.0 98.6h0M243.1 118.0h0M243.2 99.2h0M243.3 99.4h0M243.4 128.1h0M243.5 86.0h0M243.7 125.7h0M243.8 117.7h0M243.8 127.5h0M243.9 113.6h0M244.0 130.0h0M244.1 114.5h0M244.2 101.6h0M244.3 111.9h0M244.4 117.6h0M244.5 96.3h0M244.6 125.2h0M244.7 103.2h0M244.8 118.3h0M244.9 112.2h0M245.0 114.5h0M245.1 113.4h0M245.2 115.6h0M245.3 124.3h0M245.4 121.8h0M245.5 109.9h0M245.6 116.4h0M245.6 129.0h0M245.7 123.6h0M245.8 123.5h0M245.9 116.0h0M246.0 113.3h0M246.1 114.4h0M246.2 123.3h0M246.3 115.4h0M246.4 131.9h0M246.6 149.9h0M246.7 116.5h0M246.8 135.5h0M246.9 127.1h0M247.0 130.3h0M247.1 108.6h0M247.2 130.4h0M247.3 112.9h0M247.5 122.1h0M247.5 131.0h0M247.6 135.1h0M247.7 111.0h0M247.8 112.0h0M247.9 107.4h0M248.0 95.0h0M248.1 113.5h0M248.2 113.4h0M248.3 118.3h0M248.4 115.6h0M248.5 121.1h0M248.6 127.6h0M248.7 93.5h0M248.8 139.2h0M248.9 114.2h0M249.0 112.0h0M249.1 106.2h0M249.2 128.8h0M249.3 119.7h0M249.4 122.9h0M249.4 130.3h0M249.5 118.2h0M249.6 122.5h0M249.7 124.3h0M249.8 109.7h0M249.9 130.4h0M250.0 112.7h0M250.1 125.6h0M250.2 113.0h0M250.3 117.3h0M250.4 128.8h0M250.5 129.8h0M250.6 127.4h0M250.7 128.4h0M250.8 116.3h0M250.9 109.6h0M251.0 105.7h0M251.1 134.9h0M251.2 117.6h0M251.3 137.9h0M251.4 136.2h0M251.6 129.2h0M251.7 126.9h0M251.8 137.5h0M251.9 140.3h0M252.0 113.0h0M252.1 128.9h0M252.2 139.3h0M252.3 92.1h0M252.4 117.6h0M252.5 123.5h0M252.6 111.8h0M252.7 128.9h0M252.8 101.2h0M252.9 138.2h0M253.0 135.6h0M253.1 121.8h0M253.1 129.3h0M253.2 103.7h0M253.3 139.4h0M253.4 129.2h0M253.6 117.9h0M253.7 114.1h0M253.8 109.0h0M253.9 116.9h0M254.0 95.0h0M254.1 126.7h0M254.2 119.1h0M254.3 111.1h0M254.4 125.1h0M254.5 124.9h0M254.6 127.0h0M254.7 129.2h0M254.8 135.0h0M254.9 128.3h0M255.0 140.1h0M255.0 117.4h0M255.1 140.8h0M255.2 97.7h0M255.3 102.1h0M255.4 109.2h0M255.5 124.8h0M255.6 129.3h0M255.7 108.0h0M255.8 120.4h0M255.9 116.0h0M256.0 131.2h0M256.1 110.2h0M256.2 132.3h0M256.3 121.7h0M256.4 143.4h0M256.5 130.8h0M256.6 117.2h0M256.7 128.6h0M256.8 128.6h0M256.8 114.1h0M256.9 124.3h0M257.0 108.9h0M257.1 152.2h0M257.2 117.0h0M257.3 137.0h0M257.4 142.1h0M257.5 139.2h0M257.6 113.6h0M257.7 136.7h0M257.8 131.7h0M257.9 117.1h0M258.0 128.2h0M258.2 118.7h0M258.3 134.6h0M258.4 120.8h0M258.5 111.5h0M258.6 120.5h0M258.7 150.2h0M258.8 116.6h0M258.9 123.6h0M259.0 135.0h0M259.1 107.9h0M259.2 144.9h0M259.3 102.2h0M259.5 131.8h0M259.7 105.8h0M259.8 124.9h0M259.9 140.0h0M260.0 123.2h0M260.1 120.4h0M260.2 117.9h0M260.3 111.8h0M260.4 134.9h0M260.5 118.5h0M260.6 115.6h0M260.8 127.6h0M260.9 135.4h0M261.0 135.6h0M261.1 115.5h0M261.2 114.9h0M261.3 134.1h0M261.4 140.2h0M261.5 109.7h0M261.6 133.1h0M261.7 122.5h0M261.8 133.9h0M261.9 145.1h0M262.0 122.9h0M262.1 126.6h0M262.2 107.4h0M262.3 97.5h0M262.4 126.6h0M262.4 112.3h0M262.5 112.0h0M262.6 130.5h0M262.7 134.6h0M262.8 105.4h0M262.9 128.7h0M263.0 124.7h0M263.1 127.8h0M263.2 125.9h0M263.3 131.5h0M263.4 115.5h0M263.6 109.5h0M263.7 128.8h0M263.8 140.7h0M263.9 123.8h0M264.0 141.9h0M264.1 131.9h0M264.2 109.8h0M264.3 97.0h0M264.3 119.9h0M264.4 136.9h0M264.5 115.2h0M264.7 150.9h0M264.8 132.6h0M264.9 106.4h0M265.0 115.4h0M265.1 140.2h0M265.2 143.3h0M265.3 113.3h0M265.4 123.7h0M265.5 129.8h0M265.6 117.7h0M265.8 128.7h0M265.9 144.4h0M266.0 111.8h0M266.1 128.8h0M266.2 132.7h0M266.2 136.3h0M266.3 117.3h0M266.4 129.5h0M266.5 112.3h0M266.6 122.6h0M266.8 106.1h0M266.9 123.1h0M267.0 126.0h0M267.1 141.2h0M267.3 130.4h0M267.4 108.6h0M267.5 86.8h0M267.7 131.0h0M267.8 128.2h0M267.9 111.7h0M268.0 109.8h0M268.0 123.1h0M268.1 113.9h0M268.2 133.5h0M268.3 117.8h0M268.4 103.4h0M268.5 94.7h0M268.6 87.5h0M268.7 117.0h0M268.8 108.6h0M268.9 100.8h0M269.1 108.1h0M269.2 122.7h0M269.3 109.6h0M269.4 102.4h0M269.5 122.2h0M269.6 122.7h0M269.7 107.7h0M269.8 109.4h0M269.9 102.3h0M269.9 112.7h0M270.0 121.3h0M270.1 118.8h0M270.2 125.8h0M270.3 124.8h0M270.4 120.2h0M270.5 119.3h0M270.6 120.7h0M270.7 128.0h0M270.8 114.1h0M270.9 120.5h0M271.0 95.9h0M271.1 110.4h0M271.3 117.9h0M271.4 103.8h0M271.5 112.6h0M271.6 119.0h0M271.8 95.2h0M271.9 104.9h0M272.0 92.9h0M272.1 99.6h0M272.2 104.1h0M272.3 111.7h0M272.4 126.0h0M272.5 104.8h0M272.6 112.3h0M272.7 105.2h0M272.8 113.2h0M272.9 121.3h0M273.0 125.0h0M273.1 104.8h0M273.3 97.8h0M273.4 116.4h0M273.5 107.6h0M273.6 96.7h0M273.6 122.8h0M273.7 117.0h0M273.8 126.1h0M273.9 99.0h0M274.0 109.8h0M274.1 118.3h0M274.2 132.4h0M274.3 115.0h0M274.4 101.1h0M274.5 116.3h0M274.6 117.8h0M274.7 105.2h0M275.0 127.3h0M275.1 112.1h0M275.2 105.6h0M275.3 124.9h0M275.4 122.4h0M275.5 109.7h0M275.5 113.8h0M275.6 115.4h0M275.7 110.1h0M275.8 109.9h0M275.9 123.4h0M276.0 120.4h0M276.1 107.2h0M276.2 115.6h0M276.3 96.5h0M276.4 122.4h0M276.5 99.5h0M276.6 103.5h0M276.7 112.7h0M276.8 106.6h0M276.9 102.6h0M277.0 91.3h0M277.1 124.7h0M277.2 105.2h0M277.3 113.9h0M277.4 114.7h0M277.4 98.7h0M277.5 102.6h0M277.6 124.1h0M277.7 115.5h0M277.9 109.5h0M278.0 128.8h0M278.1 101.9h0M278.2 113.0h0M278.4 110.1h0M278.5 108.1h0M278.6 90.7h0M278.7 111.6h0M278.8 116.2h0M278.9 91.5h0M279.0 117.9h0M279.1 118.3h0M279.2 128.5h0M279.2 99.5h0M279.3 109.0h0M279.4 106.7h0M279.5 110.4h0M279.6 114.0h0M279.7 121.7h0M279.8 121.7h0M280.0 107.5h0M280.1 111.2h0M280.4 93.6h0M280.5 121.8h0M280.6 118.6h0M280.7 125.0h0M280.8 96.8h0M280.9 127.5h0M281.0 104.0h0M281.1 96.2h0M281.1 114.9h0M281.2 104.7h0M281.3 138.3h0M281.4 117.9h0M281.5 132.9h0M281.7 111.5h0M281.8 113.5h0M281.9 122.7h0M282.1 102.6h0M282.2 109.6h0M282.3 120.0h0M282.4 119.9h0M282.5 131.2h0M282.6 116.2h0M282.7 89.1h0M282.8 122.4h0M282.9 109.2h0M283.0 120.6h0M283.0 104.8h0M283.1 109.1h0M283.2 117.1h0M283.3 135.3h0M283.4 120.5h0M283.5 100.4h0M283.6 117.4h0M283.7 107.2h0M283.8 120.3h0M283.9 136.6h0M284.0 109.7h0M284.1 111.0h0M284.2 121.6h0M284.3 119.3h0M284.4 111.5h0M284.5 122.0h0M284.6 111.0h0M284.7 117.5h0M284.8 142.9h0M284.8 116.9h0M284.9 122.3h0M285.0 125.1h0M285.1 110.9h0M285.2 121.8h0M285.3 110.1h0M285.4 104.1h0M285.5 115.7h0M285.6 136.0h0M285.7 126.8h0M285.8 107.9h0M285.9 122.1h0M286.0 129.0h0M286.1 121.0h0M286.2 114.5h0M286.3 117.8h0M286.4 113.6h0M286.5 131.4h0M286.6 125.3h0M286.7 125.5h0M286.7 123.2h0M286.8 148.0h0M286.9 126.6h0M287.0 140.0h0M287.1 108.4h0M287.2 106.8h0M287.3 105.8h0M287.4 116.5h0M287.5 132.1h0M287.6 115.6h0M287.7 129.6h0M287.8 120.5h0M287.9 138.8h0M288.0 135.5h0M288.1 123.5h0M288.2 108.6h0M288.3 130.2h0M288.4 103.8h0M288.5 101.1h0M288.5 146.2h0M288.6 131.9h0M288.7 143.2h0M288.8 134.1h0M288.9 139.2h0M289.0 134.1h0M289.1 122.4h0M289.2 123.2h0M289.4 131.2h0M289.5 134.2h0M289.6 132.8h0M289.7 132.7h0M289.8 127.4h0M289.9 134.1h0M290.0 128.2h0M290.1 149.5h0M290.2 124.7h0M290.3 113.5h0M290.4 131.8h0M290.4 150.6h0M290.5 118.1h0M290.6 137.8h0M290.7 169.0h0M290.8 136.4h0M290.9 126.7h0M291.0 129.3h0M291.1 119.2h0M291.2 126.5h0M291.3 132.3h0M291.5 156.9h0M291.6 146.8h0M291.8 131.5h0M291.9 125.6h0M292.0 145.7h0M292.1 140.7h0M292.2 128.0h0M292.3 156.0h0M292.3 156.4h0M292.4 136.1h0M292.5 130.4h0M292.6 139.0h0M292.7 160.4h0M292.8 133.1h0M292.9 149.0h0M293.0 125.6h0M293.2 134.4h0M293.3 130.1h0M293.4 125.6h0M293.5 139.4h0M293.6 123.4h0M293.8 118.5h0M293.9 128.4h0M294.0 117.4h0M294.1 140.4h0M294.1 122.2h0M294.2 129.8h0M294.3 144.6h0M294.4 133.9h0M294.5 139.2h0M294.6 139.4h0M294.7 131.8h0M294.8 120.3h0M294.9 136.6h0M295.0 131.3h0M295.1 150.1h0M295.2 131.5h0M295.3 119.1h0M295.4 123.1h0M295.5 127.1h0M295.6 138.8h0M295.7 144.1h0M295.8 133.7h0M295.9 148.3h0M296.0 147.1h0M296.1 121.4h0M296.2 143.2h0M296.4 110.9h0M296.5 148.8h0M296.6 126.7h0M296.7 145.5h0M296.8 129.5h0M296.9 143.7h0M297.0 130.8h0M297.1 132.9h0M297.2 136.3h0M297.3 124.8h0M297.4 112.9h0M297.5 137.5h0M297.6 120.0h0M297.7 129.3h0M297.8 130.5h0M297.9 104.0h0M298.0 155.3h0M298.1 137.6h0M298.2 150.8h0M298.3 133.0h0M298.4 131.8h0M298.5 99.4h0M298.6 124.8h0M298.7 107.5h0M298.8 113.2h0M298.9 133.6h0M299.0 98.7h0M299.1 108.4h0M299.2 125.9h0M299.3 125.4h0M299.4 121.8h0M299.5 145.3h0M299.6 137.0h0M299.7 123.3h0M299.7 120.7h0M299.8 137.8h0M299.9 130.7h0M300.0 130.3h0M300.1 128.4h0M300.2 118.2h0M300.3 125.0h0M300.4 124.2h0M300.5 142.7h0M300.7 138.2h0M300.8 121.8h0M300.9 144.3h0M301.1 122.0h0M301.2 132.8h0M301.4 134.3h0M301.6 116.8h0M301.6 132.3h0M301.7 134.3h0M301.8 132.0h0M301.9 123.2h0M302.1 94.0h0M302.3 148.4h0M302.4 123.4h0M302.5 125.9h0M302.6 111.7h0M302.7 127.2h0M302.8 142.4h0M302.9 106.9h0M303.0 135.3h0M303.1 123.0h0M303.2 138.4h0M303.3 135.2h0M303.4 128.1h0M303.5 112.1h0M303.5 112.2h0M303.6 129.3h0M303.7 116.3h0M303.9 126.6h0M304.1 120.9h0M304.2 120.4h0M304.3 114.8h0M304.4 129.5h0M304.5 123.7h0M304.6 119.6h0M304.7 121.1h0M304.8 131.6h0M304.9 101.8h0M305.0 127.6h0M305.1 113.2h0M305.3 119.7h0M305.3 129.2h0M305.4 148.0h0M305.5 97.9h0M305.6 124.7h0M305.7 136.7h0M305.8 120.6h0M305.9 95.4h0M306.0 116.1h0M306.1 136.7h0M306.2 127.6h0M306.3 106.3h0M306.4 138.7h0M306.5 124.2h0M306.6 125.6h0M306.7 96.4h0M306.8 125.5h0M306.9 106.5h0M307.0 130.1h0M307.1 131.6h0M307.2 110.2h0M307.3 114.7h0M307.4 142.5h0M307.5 114.5h0M307.7 114.4h0M307.8 129.3h0M307.9 119.4h0M308.0 118.8h0M308.1 127.8h0M308.2 128.9h0M308.4 129.9h0M308.5 125.2h0M308.6 137.7h0M308.7 122.5h0M308.8 139.7h0M308.9 121.1h0M309.0 123.0h0M309.1 134.2h0M309.1 111.9h0M309.2 99.0h0M309.3 106.3h0M309.4 138.1h0M309.5 126.2h0M309.6 119.3h0M309.7 122.6h0M309.8 129.0h0M309.9 122.0h0M310.0 105.5h0M310.1 115.5h0M310.2 144.9h0M310.3 129.8h0M310.4 126.8h0M310.5 114.9h0M310.6 99.8h0M310.7 134.4h0M310.8 121.9h0M310.9 126.4h0M310.9 130.8h0M311.0 117.1h0M311.1 93.0h0M311.2 138.6h0M311.3 134.1h0M311.4 107.7h0M311.5 118.1h0M311.6 115.6h0M311.7 127.7h0M311.9 126.3h0M312.0 116.4h0M312.1 127.7h0M312.2 134.9h0M312.3 121.8h0M312.4 111.1h0M312.5 133.9h0M312.6 109.3h0M312.7 113.5h0M312.8 131.9h0M312.8 121.6h0M313.0 122.2h0M313.1 114.2h0M313.2 140.2h0M313.3 137.1h0M313.4 137.6h0M313.5 109.5h0M313.6 120.4h0M313.7 116.9h0M313.8 117.9h0M313.9 103.8h0M314.0 136.2h0M314.1 109.2h0M314.3 131.8h0M314.4 113.6h0M314.5 106.4h0M314.7 138.7h0M314.7 117.7h0M314.8 125.8h0M314.9 126.0h0M315.0 122.1h0M315.1 135.1h0M315.2 134.1h0M315.3 115.0h0M315.4 112.9h0M315.5 129.6h0M315.6 140.1h0M315.7 95.7h0M315.8 110.1h0M315.9 118.9h0M316.0 135.3h0M316.1 130.1h0M316.2 120.4h0M316.3 134.7h0M316.4 104.5h0M316.5 121.8h0M316.5 118.9h0M316.6 135.7h0M316.7 134.3h0M316.8 133.0h0M316.9 120.5h0M317.0 126.9h0M317.1 127.3h0M317.2 120.2h0M317.3 121.3h0M317.4 106.6h0M317.6 126.5h0M317.7 136.1h0M317.8 124.4h0M317.9 107.1h0M318.0 130.9h0M318.1 123.8h0M318.2 128.7h0M318.3 119.8h0M318.4 121.6h0M318.4 134.2h0M318.5 127.4h0M318.6 113.7h0M318.7 112.0h0M318.8 114.0h0M318.9 114.8h0M319.0 128.9h0M319.1 129.3h0M319.2 114.2h0M319.3 138.9h0M319.5 125.9h0M319.6 147.1h0M319.7 129.8h0M319.8 133.7h0M320.0 139.7h0M320.1 118.8h0M320.2 134.3h0M320.3 130.0h0M320.3 128.8h0M320.4 134.5h0M320.5 127.0h0M320.6 131.7h0M320.7 123.7h0M320.8 141.4h0M320.9 131.7h0M321.0 130.0h0M321.2 129.9h0M321.3 133.2h0M321.4 124.7h0M321.5 108.2h0M321.6 128.1h0M321.7 128.2h0M321.8 131.2h0M321.9 97.0h0M322.0 107.8h0M322.1 120.3h0M322.1 118.6h0M322.2 135.2h0M322.3 128.7h0M322.6 158.8h0M322.7 125.6h0M322.8 137.1h0M322.9 136.2h0M323.0 121.0h0M323.1 123.5h0M323.2 151.8h0M323.3 126.1h0M323.4 112.3h0M323.5 134.8h0M323.6 124.4h0M323.7 144.3h0M324.0 117.6h0M324.0 140.4h0M324.1 142.1h0M324.2 131.1h0M324.3 99.7h0M324.4 134.6h0M324.5 142.3h0M324.6 122.1h0M324.7 124.9h0M324.8 108.2h0M324.9 151.1h0M325.0 146.3h0M325.1 131.3h0M325.2 123.3h0M325.3 123.5h0M325.4 115.0h0M325.5 145.2h0M325.6 137.4h0M325.7 129.4h0M325.8 118.0h0M325.9 122.3h0M325.9 132.8h0M326.0 139.9h0M326.1 117.6h0M326.2 116.9h0M326.3 169.7h0M326.4 130.1h0M326.5 109.0h0M326.6 142.2h0M326.7 134.5h0M326.8 136.1h0M326.9 133.6h0M327.0 138.4h0M327.1 134.6h0M327.2 128.9h0M327.3 133.5h0M327.4 120.6h0M327.5 129.3h0M327.6 128.4h0M327.7 111.1h0M327.7 124.7h0M327.8 126.6h0M327.9 128.7h0M328.0 127.7h0M328.1 121.8h0M328.2 137.9h0M328.3 145.3h0M328.4 110.2h0M328.5 115.1h0M328.6 134.4h0M328.7 147.3h0M328.8 133.8h0M329.0 126.9h0M329.1 119.1h0M329.2 130.9h0M329.3 132.4h0M329.4 111.0h0M329.5 136.7h0M329.6 116.4h0M329.6 118.3h0M329.7 144.5h0M329.8 125.7h0M329.9 135.5h0M330.0 140.1h0M330.1 150.7h0M330.2 147.4h0M330.3 124.2h0M330.4 133.7h0M330.5 126.0h0M330.6 141.6h0M330.8 133.0h0M330.9 132.4h0M331.0 147.3h0M331.1 148.7h0M331.2 124.1h0M331.3 127.5h0M331.4 140.1h0M331.5 130.4h0M331.5 121.4h0M331.6 107.8h0M331.7 139.6h0M331.8 122.0h0M331.9 104.4h0M332.0 128.4h0M332.1 112.0h0M332.2 159.4h0M332.4 112.2h0M332.5 129.3h0M332.6 151.1h0M332.7 120.0h0M332.8 116.8h0M332.9 115.0h0M333.0 115.1h0M333.1 129.4h0M333.2 137.8h0M333.3 134.5h0M333.3 129.5h0M333.5 124.3h0M333.6 134.7h0M333.7 128.5h0M333.8 118.8h0M333.9 125.2h0M334.0 102.2h0M334.2 103.7h0M334.4 142.5h0M334.5 135.7h0M334.6 144.3h0M334.7 142.6h0M334.8 122.6h0M334.9 140.6h0M335.0 141.2h0M335.1 132.1h0M335.2 119.6h0M335.2 133.1h0M335.3 133.1h0M335.4 118.2h0M335.5 123.4h0M335.6 123.6h0M335.7 117.8h0M335.8 140.8h0M335.9 126.4h0M336.0 136.3h0M336.1 116.8h0M336.2 119.3h0M336.3 141.1h0M336.4 113.2h0M336.5 142.6h0M336.6 115.1h0M336.7 126.4h0M336.8 139.1h0M336.9 142.0h0M337.0 132.4h0M337.1 129.1h0M337.1 137.2h0M337.2 122.2h0M337.3 145.3h0M337.4 128.9h0M337.5 128.8h0M337.6 150.8h0M337.7 125.2h0M337.8 143.6h0M337.9 158.2h0M338.0 136.0h0M338.1 131.5h0M338.3 118.1h0M338.4 134.5h0M338.5 111.4h0M338.6 111.8h0M338.7 115.9h0M338.8 113.1h0M338.9 124.6h0M338.9 135.3h0M339.0 121.1h0M339.2 117.3h0M339.3 125.9h0M339.4 131.6h0M339.5 147.1h0M339.6 120.7h0M339.7 124.5h0M339.8 144.0h0M340.0 127.5h0M340.1 120.1h0M340.2 129.9h0M340.3 119.4h0M340.4 119.7h0M340.5 146.0h0M340.7 132.2h0M340.8 122.9h0M340.8 117.8h0M340.9 112.0h0M341.0 151.2h0M341.1 129.4h0M341.2 120.1h0M341.3 114.2h0M341.4 108.7h0M341.5 139.7h0M341.6 133.1h0M341.7 141.1h0M341.8 119.1h0M341.9 144.4h0M342.0 114.8h0M342.1 117.8h0M342.2 123.1h0M342.3 154.5h0M342.4 136.9h0M342.5 120.1h0M342.6 145.7h0M342.6 131.8h0M342.7 130.3h0M342.8 118.5h0M342.9 125.7h0M343.1 125.9h0M343.2 134.4h0M343.3 129.1h0M343.4 130.8h0M343.5 120.7h0M343.6 131.4h0M343.7 117.1h0M343.9 149.4h0M344.0 115.2h0M344.2 131.5h0M344.3 116.2h0M344.4 128.5h0M344.5 119.4h0M344.5 111.9h0M344.6 136.2h0M344.7 128.7h0M344.9 131.7h0M345.0 127.3h0M345.1 148.9h0M345.2 131.8h0M345.3 132.8h0M345.4 139.1h0M345.5 132.2h0M345.6 148.1h0M345.7 113.4h0M345.8 100.1h0M345.9 107.7h0M346.0 140.3h0M346.1 143.8h0M346.2 126.7h0M346.3 149.8h0M346.4 127.5h0M346.5 138.5h0M346.6 134.2h0M346.7 127.2h0M346.8 129.7h0M346.9 108.3h0M347.0 122.9h0M347.1 145.6h0M347.2 118.8h0M347.3 146.3h0M347.4 129.4h0M347.5 145.2h0M347.6 140.3h0M347.8 115.0h0M347.9 137.2h0M348.0 138.3h0M348.1 137.3h0M348.2 134.4h0M348.2 113.7h0M348.3 144.7h0M348.4 145.4h0M348.5 124.0h0M348.6 149.7h0M348.7 135.2h0M348.8 117.6h0M348.9 130.9h0M349.0 136.7h0M349.1 139.4h0M349.2 141.9h0M349.3 144.1h0M349.4 129.5h0M349.5 116.5h0M349.6 119.8h0M349.7 137.9h0M349.8 139.9h0M349.9 123.1h0M350.0 152.8h0M350.1 136.6h0M350.2 135.3h0M350.3 144.6h0M350.4 147.8h0M350.5 127.4h0M350.6 151.2h0M350.7 143.7h0M350.8 139.3h0M350.9 130.7h0M351.0 148.0h0M351.1 118.9h0M351.2 135.5h0M351.3 134.9h0M351.4 136.2h0M351.5 139.9h0M351.6 143.6h0M351.7 118.5h0M351.8 129.7h0M351.9 133.4h0M352.0 120.4h0M352.0 140.6h0M352.1 124.8h0M352.2 132.0h0M352.3 142.8h0M352.4 123.4h0M352.5 150.0h0M352.6 124.7h0M352.7 142.9h0M352.8 127.6h0M352.9 116.2h0M353.0 125.8h0M353.1 139.7h0M353.2 133.0h0M353.3 137.0h0M353.4 146.5h0M353.5 145.8h0M353.6 132.3h0M353.7 126.5h0M353.8 153.7h0M353.8 133.7h0M353.9 127.0h0M354.0 131.7h0M354.1 144.8h0M354.3 120.9h0M354.4 147.4h0M354.5 125.5h0M354.6 114.3h0M354.7 157.3h0M354.8 130.2h0M354.9 129.6h0M355.0 130.7h0M355.1 142.4h0M355.2 137.1h0M355.3 149.8h0M355.4 131.8h0M355.5 127.0h0M355.6 141.2h0M355.7 144.2h0M355.7 138.9h0M355.8 133.4h0M355.9 132.6h0M356.1 134.5h0M356.2 132.5h0M356.3 148.7h0M356.5 165.4h0M356.6 126.0h0M356.7 116.5h0M356.8 149.9h0M356.9 141.1h0M357.0 129.7h0M357.1 122.0h0M357.2 125.6h0M357.3 118.2h0M357.4 133.8h0M357.5 128.3h0M357.6 128.3h0M357.6 138.2h0M357.7 119.0h0M357.8 125.8h0M357.9 121.6h0M358.0 137.7h0M358.1 121.0h0M358.2 145.5h0M358.3 128.5h0M358.4 163.8h0M358.5 144.9h0M358.6 124.4h0M358.7 138.3h0M358.9 131.0h0M359.0 152.1h0M359.1 114.9h0M359.2 126.0h0M359.3 133.3h0M359.4 128.1h0M359.4 129.1h0M359.5 116.4h0M359.6 130.4h0M359.7 150.2h0M359.8 135.9h0M359.9 117.9h0M360.0 126.2h0M360.1 137.8h0M360.2 125.7h0M360.3 131.5h0M360.4 112.2h0M360.5 151.4h0M360.6 143.3h0M360.8 125.0h0M360.9 135.4h0M361.0 128.7h0M361.1 109.8h0M361.2 136.4h0M361.3 129.9h0M361.3 139.2h0M361.4 140.0h0M361.5 144.2h0M361.6 149.7h0M361.7 157.3h0M361.8 116.7h0M361.9 133.9h0M362.1 119.5h0M362.2 131.2h0M362.3 173.6h0M362.4 124.7h0M362.5 124.2h0M362.6 146.6h0M362.7 118.4h0M362.8 143.9h0M362.9 137.8h0M363.0 102.6h0M363.1 131.5h0M363.2 113.0h0M363.2 136.5h0M363.3 125.3h0M363.5 131.8h0M363.6 127.5h0M363.7 142.4h0M363.8 143.1h0M363.9 128.4h0M364.0 150.7h0M364.1 142.2h0M364.2 124.8h0M364.3 139.5h0M364.4 142.7h0M364.5 145.3h0M364.6 130.6h0M364.7 136.5h0M364.8 130.5h0M364.9 134.4h0M365.0 110.6h0M365.0 137.3h0M365.1 155.1h0M365.2 130.8h0M365.3 132.1h0M365.4 130.3h0M365.5 150.9h0M365.6 118.9h0M365.7 132.5h0M365.8 132.6h0M365.9 150.6h0M366.0 126.5h0M366.1 132.8h0M366.2 116.3h0M366.3 136.9h0M366.4 146.5h0M366.5 130.5h0M366.6 142.7h0M366.7 127.1h0M366.8 144.6h0M366.9 133.5h0M366.9 134.6h0M367.0 132.3h0M367.1 137.9h0M367.3 141.3h0M367.4 132.6h0M367.6 138.6h0M367.7 130.0h0M367.8 135.0h0M367.9 158.0h0M368.0 132.5h0M368.1 101.2h0M368.2 128.2h0M368.3 124.8h0M368.4 140.9h0M368.5 137.2h0M368.6 147.2h0M368.7 122.3h0M368.8 119.4h0M368.8 125.1h0M368.9 126.7h0M369.0 127.0h0M369.1 131.9h0M369.2 128.4h0M369.3 131.4h0M369.4 127.8h0M369.5 142.5h0M369.6 138.8h0M369.7 124.9h0M369.8 135.4h0M369.9 159.5h0M370.1 130.0h0M370.2 157.9h0M370.3 109.3h0M370.4 123.1h0M370.5 123.6h0M370.6 139.1h0M370.6 144.4h0M370.7 133.8h0M370.8 131.1h0M370.9 140.2h0M371.0 129.5h0M371.2 123.3h0M371.3 124.3h0M371.4 143.2h0M371.5 156.2h0M371.7 122.0h0M371.8 138.7h0M371.9 126.0h0M372.0 112.2h0M372.1 112.2h0M372.2 127.8h0M372.3 118.3h0M372.4 112.1h0M372.5 130.5h0M372.5 127.9h0M372.6 121.2h0M372.7 131.4h0M372.8 136.7h0M372.9 139.5h0M373.0 130.8h0M373.1 138.0h0M373.2 121.7h0M373.3 134.7h0M373.4 114.0h0M373.5 116.9h0M373.6 145.0h0M373.7 118.3h0M373.8 135.3h0M373.9 115.0h0M374.0 124.8h0M374.1 140.9h0M374.2 122.9h0M374.3 137.0h0M374.4 126.8h0M374.6 126.1h0M374.7 132.2h0M374.8 126.1h0M375.0 141.9h0M375.1 124.1h0M375.2 144.3h0M375.3 123.3h0M375.4 125.0h0M375.5 122.2h0M375.6 136.7h0M375.7 100.0h0M375.8 132.9h0M375.9 128.5h0M376.0 138.8h0M376.1 113.8h0M376.2 135.5h0M376.2 118.8h0M376.3 140.9h0M376.4 126.5h0M376.5 134.3h0M376.6 119.4h0M376.7 133.3h0M376.8 139.8h0M377.2 124.8h0M377.3 143.5h0M377.4 140.8h0M377.5 121.1h0M377.6 151.2h0M377.7 121.2h0M377.8 134.4h0M377.9 140.2h0M378.0 127.0h0M378.1 122.5h0M378.1 136.3h0M378.2 131.7h0M378.3 120.5h0M378.4 121.0h0M378.5 130.2h0M378.7 138.3h0M378.9 140.3h0M379.0 136.3h0M379.1 121.7h0M379.2 122.9h0M379.3 126.0h0M379.4 113.6h0M379.5 132.8h0M379.6 118.5h0M379.7 133.8h0M379.8 107.8h0M379.9 152.8h0M380.0 126.2h0M380.0 124.4h0M380.1 128.8h0M380.2 103.0h0M380.3 116.2h0M380.4 120.8h0M380.5 139.7h0M380.6 123.9h0M380.7 133.8h0M380.9 129.1h0M381.0 127.3h0M381.1 135.1h0M381.2 122.5h0M381.3 111.2h0M381.4 117.9h0M381.5 127.2h0M381.6 151.5h0M381.7 117.4h0M381.8 146.1h0M381.8 131.9h0M381.9 135.1h0M382.0 122.3h0M382.1 138.9h0M382.2 120.8h0M382.3 142.0h0M382.4 140.2h0M382.5 129.6h0M382.7 146.3h0M382.8 129.8h0M382.9 123.9h0M383.0 144.7h0M383.1 119.4h0M383.2 136.3h0M383.3 123.7h0M383.4 127.5h0M383.5 135.1h0M383.6 135.9h0M383.7 149.3h0M383.7 137.9h0M383.8 138.7h0M383.9 111.5h0M384.0 118.6h0M384.1 145.5h0M384.2 121.1h0M384.3 127.6h0M384.4 134.4h0M384.5 125.0h0M384.6 121.3h0M384.7 136.6h0M384.8 133.3h0M384.9 128.4h0M385.1 141.4h0M385.2 128.2h0M385.3 131.2h0M385.4 138.0h0M385.5 139.8h0M385.6 126.9h0M385.6 120.5h0M385.7 126.7h0M385.8 140.1h0M386.0 122.0h0M386.1 128.6h0M386.2 123.8h0M386.3 117.4h0M386.4 140.7h0M386.6 132.2h0M386.7 137.3h0M386.8 140.5h0M386.9 108.1h0M387.0 120.1h0M387.2 150.6h0M387.3 125.9h0M387.4 137.0h0M387.4 117.9h0M387.5 129.9h0M387.7 132.8h0M387.8 129.3h0M387.9 126.6h0M388.1 130.6h0M388.2 133.4h0M388.3 132.5h0M388.4 125.2h0M388.5 143.7h0M388.6 131.0h0M388.7 132.4h0M388.8 136.5h0M388.9 122.8h0M389.0 167.3h0M389.2 135.2h0M389.3 140.7h0M389.3 125.1h0M389.4 136.5h0M389.5 130.7h0M389.6 126.9h0M389.7 149.2h0M389.8 126.2h0M389.9 139.7h0M390.0 134.2h0M390.1 132.6h0M390.2 122.3h0M390.3 123.1h0M390.4 111.6h0M390.5 129.5h0M390.6 136.8h0M390.7 137.1h0M390.8 124.2h0M390.9 113.5h0M391.0 127.7h0M391.1 138.0h0M391.2 128.5h0M391.2 128.7h0M391.3 131.3h0M391.4 140.0h0M391.6 160.4h0M391.7 144.6h0M391.8 120.4h0M391.9 130.0h0M392.0 157.3h0M392.1 132.6h0M392.2 153.6h0M392.4 110.8h0M392.5 131.2h0M392.6 147.0h0M392.8 124.8h0M393.0 142.9h0M393.0 127.9h0M393.1 134.2h0M393.2 147.8h0M393.3 127.3h0M393.4 149.9h0M393.7 120.3h0M393.8 134.8h0M393.9 147.2h0M394.0 156.2h0M394.1 117.8h0M394.2 119.8h0M394.3 150.4h0M394.4 118.0h0M394.5 134.7h0M394.6 139.3h0M394.7 137.9h0M394.8 140.1h0M394.9 121.2h0M394.9 135.7h0M395.0 158.2h0M395.1 114.2h0M395.2 128.0h0M395.3 150.3h0M395.4 142.2h0M395.5 148.5h0M395.6 138.0h0M395.7 134.2h0M395.8 136.1h0M395.9 145.7h0M396.1 148.3h0M396.2 129.9h0M396.3 140.7h0M396.5 114.7h0M396.6 149.2h0M396.7 131.4h0M396.7 139.8h0M396.8 148.9h0M396.9 125.1h0M397.0 139.1h0M397.2 150.6h0M397.3 144.2h0M397.4 129.2h0M397.5 154.4h0M397.6 125.2h0M397.7 133.0h0M397.8 143.9h0M397.9 125.6h0M398.1 121.2h0M398.2 134.2h0M398.3 139.0h0M398.4 120.2h0M398.5 124.2h0M398.6 151.5h0M398.6 143.4h0M398.7 143.6h0M398.9 145.8h0M399.0 158.1h0M399.1 166.0h0M399.2 140.4h0M399.3 140.3h0M399.4 125.5h0M399.5 147.8h0M399.7 142.2h0M399.8 138.5h0M399.9 146.5h0M400.0 142.9h0M400.1 133.0h0M400.2 141.8h0M400.3 126.7h0M400.4 150.3h0M400.5 139.5h0M400.5 157.8h0M400.6 143.2h0M400.7 149.9h0M400.8 126.6h0M400.9 133.6h0M401.0 136.3h0M401.2 121.3h0M401.3 125.8h0M401.4 134.1h0M401.5 150.0h0M401.6 158.6h0M401.7 142.6h0M401.8 146.4h0M401.9 149.7h0M402.0 145.7h0M402.1 161.2h0M402.2 125.6h0M402.3 155.5h0M402.3 150.2h0M402.4 136.2h0M402.5 161.1h0M402.6 132.2h0M402.7 132.1h0M402.8 146.3h0M402.9 155.0h0M403.1 148.3h0M403.2 163.9h0M403.3 127.2h0M403.4 142.4h0M403.5 151.4h0M403.6 153.4h0M403.8 136.5h0M403.9 125.9h0M404.0 157.4h0M404.1 149.4h0M404.2 162.9h0M404.2 135.1h0M404.4 140.9h0M404.5 117.0h0M404.6 144.0h0M404.7 147.6h0M404.8 150.6h0M404.9 132.8h0M405.0 161.0h0M405.1 133.9h0M405.2 139.6h0M405.3 148.1h0M405.4 123.5h0M405.6 130.2h0M405.8 120.9h0M405.9 147.2h0M406.0 136.0h0M406.1 122.1h0M406.1 149.0h0M406.2 144.8h0M406.3 155.8h0M406.4 143.5h0M406.5 142.7h0M406.6 146.5h0M406.7 150.1h0M406.8 159.7h0M406.9 157.0h0M407.0 142.3h0M407.1 134.2h0M407.2 147.3h0M407.4 151.1h0M407.5 133.9h0M407.6 134.9h0M407.7 149.9h0M407.8 182.3h0M407.9 133.6h0M407.9 137.0h0M408.0 150.7h0M408.1 138.3h0M408.2 141.4h0M408.3 128.2h0M408.4 150.9h0M408.5 130.8h0M408.6 135.9h0M408.7 152.4h0M408.8 128.7h0M408.9 130.3h0M409.0 155.8h0M409.1 117.9h0M409.2 153.8h0M409.3 151.1h0M409.4 144.2h0M409.5 131.6h0M409.6 133.7h0M409.7 141.5h0M409.8 124.6h0M409.8 118.5h0M409.9 124.2h0M410.0 110.8h0M410.1 137.9h0M410.2 169.8h0M410.4 145.3h0M410.5 152.4h0M410.6 138.9h0M410.7 138.8h0M410.8 154.1h0M410.9 153.2h0M411.0 143.0h0M411.1 142.2h0M411.3 170.0h0M411.4 128.6h0M411.5 139.5h0M411.6 139.9h0M411.7 136.4h0M411.7 151.7h0M411.8 140.4h0M411.9 127.7h0M412.1 127.2h0M412.2 134.3h0M412.3 142.9h0M412.4 149.2h0M412.5 124.3h0M412.7 149.4h0M412.8 144.5h0M412.9 164.9h0M413.0 149.7h0M413.1 162.1h0M413.3 125.0h0M413.4 137.3h0M413.5 148.2h0M413.5 142.7h0M413.6 110.0h0M413.7 125.2h0M413.8 155.2h0M413.9 141.0h0M414.0 153.9h0M414.1 159.6h0M414.2 137.3h0M414.3 110.9h0M414.4 121.0h0M414.5 138.8h0M414.6 143.7h0M414.7 136.9h0M414.8 127.1h0M414.9 156.5h0M415.0 161.3h0M415.1 117.0h0M415.2 135.9h0M415.3 120.2h0M415.4 136.4h0M415.4 121.7h0M415.5 146.4h0M415.6 133.2h0M415.7 120.7h0M415.8 127.0h0M415.9 144.5h0M416.0 128.4h0M416.1 146.9h0M416.2 156.0h0M416.3 132.8h0M416.4 122.4h0M416.5 128.9h0M416.6 153.9h0M416.7 128.6h0M416.8 138.7h0M416.9 144.4h0M417.0 168.5h0M417.1 126.8h0M417.2 128.3h0M417.3 132.9h0M417.3 159.5h0M417.4 143.3h0M417.5 126.7h0M417.6 129.2h0M417.7 132.9h0M417.8 141.7h0M417.9 145.5h0M418.0 145.2h0M418.1 142.5h0M418.2 149.1h0M418.3 154.1h0M418.4 143.7h0M418.5 127.3h0M418.6 130.0h0M418.7 148.4h0M418.8 116.6h0M419.0 152.0h0M419.1 133.2h0M419.1 125.6h0M419.3 123.1h0M419.4 165.0h0M419.5 126.5h0M419.6 123.8h0M419.7 121.2h0M419.8 165.2h0M419.9 146.5h0M420.0 139.6h0M420.1 143.7h0M420.2 122.3h0M420.3 146.5h0M420.4 123.6h0M420.5 131.6h0M420.6 155.8h0M420.7 150.2h0M420.8 143.9h0M420.9 137.1h0M421.0 126.3h0M421.0 140.5h0M421.1 127.4h0M421.2 157.4h0M421.3 175.2h0M421.4 142.6h0M421.5 133.1h0M421.6 143.0h0M421.7 150.9h0M421.8 133.7h0M421.9 115.5h0M422.0 140.2h0M422.1 147.7h0M422.2 149.2h0M422.3 115.4h0M422.4 139.6h0M422.5 157.5h0M422.6 124.6h0M422.7 126.4h0M422.8 150.5h0M422.9 127.9h0M422.9 129.4h0M423.0 133.7h0M423.1 127.5h0M423.2 146.5h0M423.3 140.7h0M423.4 146.2h0M423.5 130.8h0M423.6 147.8h0M423.7 135.3h0M423.8 123.6h0M423.9 141.6h0M424.0 144.6h0M424.1 141.7h0M424.2 138.7h0M424.4 142.7h0M424.5 143.2h0M424.6 165.6h0M424.7 127.3h0M424.7 148.2h0M424.8 143.7h0M425.0 150.9h0M425.1 128.9h0M425.2 151.9h0M425.3 135.0h0M425.4 126.9h0M425.5 121.4h0M425.6 143.5h0M425.7 133.9h0M425.8 155.8h0M425.9 125.9h0M426.0 127.2h0M426.1 131.5h0M426.2 131.9h0M426.3 140.7h0M426.4 147.9h0M426.5 128.8h0M426.6 126.5h0M426.6 154.4h0M426.7 130.9h0M426.8 139.0h0M426.9 131.4h0M427.1 138.9h0M427.2 128.8h0M427.3 129.9h0M427.4 131.7h0M427.5 159.0h0M427.6 132.5h0M427.7 141.9h0M427.8 156.1h0M427.9 134.1h0M428.0 159.1h0M428.1 132.0h0M428.2 122.4h0M428.3 148.9h0M428.4 131.8h0M428.5 137.5h0M428.5 135.2h0M428.7 159.3h0M428.8 135.8h0M428.9 141.6h0M429.0 134.4h0M429.1 143.2h0M429.3 130.3h0M429.4 140.2h0M429.5 135.4h0M429.6 127.2h0M429.7 141.5h0M429.8 131.8h0M429.9 141.0h0M430.0 137.6h0M430.1 150.2h0M430.2 134.7h0M430.3 129.3h0M430.3 145.0h0M430.4 134.7h0M430.5 139.1h0M430.6 157.5h0M430.7 140.1h0M430.8 166.2h0M431.0 150.3h0M431.1 165.8h0M431.2 142.2h0M431.3 152.4h0M431.4 122.2h0M431.5 145.4h0M431.6 145.0h0M431.7 152.5h0M431.8 142.1h0M431.9 151.8h0M432.0 155.9h0M432.1 146.0h0M432.2 155.0h0M432.2 129.8h0M432.4 159.4h0M432.5 146.5h0M432.6 153.9h0M432.7 162.1h0M432.8 126.1h0M432.9 170.8h0M433.0 128.7h0M433.1 162.8h0M433.2 145.0h0M433.3 119.4h0M433.4 171.5h0M433.5 184.2h0M433.6 158.7h0M433.7 144.4h0M433.8 153.0h0M433.9 147.0h0M434.0 158.1h0M434.1 145.3h0M434.1 129.1h0M434.2 151.4h0M434.3 145.3h0M434.4 132.8h0M434.5 123.6h0M434.6 154.1h0M434.7 143.7h0M434.8 154.0h0M434.9 155.0h0M435.0 152.2h0M435.1 155.0h0M435.2 168.1h0M435.3 171.2h0M435.4 156.4h0M435.5 146.3h0M435.6 133.5h0M435.7 154.2h0M435.8 150.0h0M435.9 140.4h0M436.0 139.5h0M436.1 149.7h0M436.2 149.0h0M436.3 126.3h0M436.4 152.5h0M436.5 154.4h0M436.6 153.8h0M436.7 143.6h0M436.8 151.9h0M436.9 126.3h0M437.0 152.9h0M437.1 139.4h0M437.2 198.0h0M437.3 129.7h0M437.4 164.7h0M437.5 130.8h0M437.6 149.2h0M437.7 150.7h0M437.8 153.2h0M437.8 154.3h0M437.9 153.7h0M438.0 177.3h0M438.1 154.8h0M438.2 149.1h0M438.3 172.0h0M438.4 150.7h0M438.5 122.8h0M438.6 145.4h0M438.7 154.5h0M438.8 129.7h0M438.9 159.3h0M439.0 151.7h0M439.1 156.4h0M439.2 152.7h0M439.3 141.3h0M439.4 143.0h0M439.5 158.5h0M439.6 151.4h0M439.7 148.9h0M439.7 154.7h0M439.8 150.3h0M440.0 158.4h0M440.2 158.5h0M440.3 149.4h0M440.4 162.0h0M440.5 144.9h0M440.6 152.2h0M440.7 160.7h0M440.8 157.1h0M440.9 155.5h0M441.0 151.8h0M441.1 148.5h0M441.2 152.3h0M441.3 160.1h0M441.4 133.0h0M441.5 139.2h0M441.5 148.6h0M441.6 132.4h0M441.7 146.0h0M441.8 194.3h0M441.9 148.8h0M442.0 120.8h0M442.1 138.2h0M442.2 137.6h0M442.3 154.5h0M442.4 142.8h0M442.5 123.3h0M442.6 144.8h0M442.7 137.2h0M442.8 135.1h0M442.9 142.3h0M443.0 152.8h0M443.1 147.1h0M443.2 144.0h0M443.3 157.2h0M443.4 120.7h0M443.4 146.2h0M443.5 148.5h0M443.6 133.5h0M443.7 155.5h0M443.8 149.9h0M443.9 158.9h0M444.0 149.5h0M444.1 154.3h0M444.2 143.4h0M444.3 151.3h0M444.4 156.8h0M444.5 153.2h0M444.6 151.2h0M444.8 155.8h0M444.9 163.9h0M445.0 141.9h0M445.1 148.1h0M445.2 163.7h0M445.2 143.7h0M445.3 164.7h0M445.4 147.6h0M445.5 149.2h0M445.6 156.6h0M445.7 159.4h0M445.8 157.9h0M445.9 125.7h0M446.0 152.8h0M446.1 152.1h0M446.2 138.5h0M446.3 144.8h0M446.5 137.4h0M446.6 164.0h0M446.7 162.4h0M446.8 120.6h0M446.9 150.2h0M447.0 153.1h0M447.1 147.7h0M447.1 137.9h0M447.2 163.2h0M447.3 145.8h0M447.4 153.2h0M447.5 141.0h0M447.6 146.7h0M447.7 154.8h0M447.8 158.6h0M447.9 176.7h0M448.0 136.8h0M448.1 165.2h0M448.2 152.6h0M448.3 128.4h0M448.4 152.5h0M448.5 140.4h0M448.6 149.8h0M448.7 139.1h0M448.8 146.7h0M448.9 152.9h0M449.0 131.1h0M449.0 149.7h0M449.1 162.1h0M449.2 150.2h0M449.3 140.0h0M449.4 159.1h0M449.5 136.8h0M449.6 163.9h0M449.7 121.0h0M449.8 153.0h0M449.9 137.7h0M450.0 164.7h0M450.1 150.0h0M450.2 143.8h0M450.3 140.1h0M450.4 145.3h0M450.5 145.6h0M450.6 151.6h0M450.7 149.5h0M450.8 140.6h0M450.8 137.5h0M450.9 136.4h0M451.0 132.2h0M451.1 129.8h0M451.2 164.4h0M451.3 149.4h0M451.4 145.1h0M451.5 150.5h0M451.6 130.8h0M451.7 134.1h0M451.8 143.9h0M451.9 141.1h0M452.0 127.7h0M452.1 146.2h0M452.2 145.7h0M452.3 131.6h0M452.4 136.6h0M452.5 125.6h0M452.6 137.8h0M452.7 133.4h0M452.7 148.4h0M452.8 152.9h0M452.9 142.1h0M453.0 172.8h0M453.1 137.3h0M453.2 130.8h0M453.3 141.1h0M453.4 144.6h0M453.5 129.4h0M453.6 142.5h0M453.7 130.6h0M453.8 116.6h0M454.0 133.6h0M454.2 131.1h0M454.3 136.2h0M454.4 139.0h0M454.5 138.7h0M454.6 141.1h0M454.6 129.4h0M454.8 160.6h0M454.9 145.0h0M455.0 134.3h0M455.1 151.6h0M455.2 143.1h0M455.3 149.9h0M455.4 136.8h0M455.5 131.9h0M455.6 125.0h0M455.7 136.0h0M455.8 150.2h0M455.9 138.9h0M456.0 135.2h0M456.1 125.5h0M456.2 166.6h0M456.3 137.5h0M456.4 162.9h0M456.4 133.5h0M456.5 136.6h0M456.6 136.0h0M456.7 131.5h0M456.8 137.3h0M457.0 149.2h0M457.1 137.7h0M457.3 127.9h0M457.4 143.1h0M457.5 141.7h0M457.6 156.2h0M457.7 128.9h0M457.8 148.4h0M457.9 151.3h0M458.0 148.1h0M458.1 153.1h0M458.2 146.2h0M458.3 128.8h0M458.3 134.5h0M458.4 127.4h0M458.5 126.9h0M458.6 123.9h0M458.7 138.9h0M458.8 127.3h0M458.9 118.3h0M459.0 161.4h0M459.1 161.7h0M459.2 140.0h0M459.4 149.7h0M459.5 157.5h0M459.6 141.8h0M459.7 155.5h0M459.8 172.8h0M459.9 147.0h0M460.0 145.5h0M460.1 139.8h0M460.2 136.5h0M460.2 145.4h0M460.3 150.4h0M460.4 155.6h0M460.5 167.1h0M460.6 164.7h0M460.7 136.9h0M460.8 141.1h0M460.9 125.1h0M461.0 150.8h0M461.1 169.9h0M461.2 139.9h0M461.3 137.6h0M461.4 163.3h0M461.5 168.6h0M461.6 148.4h0M461.7 142.2h0M461.8 163.5h0M461.9 154.7h0M462.0 159.9h0M462.0 164.8h0M462.1 166.6h0M462.2 149.9h0M462.3 156.0h0M462.4 159.7h0M462.5 182.3h0M462.6 132.0h0M462.7 163.2h0M462.8 154.0h0M462.9 165.6h0M463.0 148.2h0M463.1 170.1h0M463.2 151.6h0M463.3 154.9h0M463.4 142.2h0M463.5 183.0h0M463.6 160.5h0M463.7 155.8h0M463.8 128.9h0M463.9 170.3h0M463.9 149.9h0M464.0 159.7h0M464.1 149.8h0M464.2 146.0h0M464.3 152.0h0M464.4 150.6h0M464.5 150.5h0M464.6 160.6h0M464.7 156.4h0M464.8 173.1h0M464.9 158.1h0M465.0 163.0h0M465.1 157.1h0M465.3 145.8h0M465.4 150.0h0M465.5 149.0h0M465.6 141.8h0M465.7 182.2h0M465.8 149.7h0M465.8 155.1h0M465.9 156.0h0M466.0 170.0h0M466.1 148.7h0M466.2 141.8h0M466.3 152.2h0M466.4 156.2h0M466.5 147.9h0M466.6 144.7h0M466.7 134.4h0M466.8 141.3h0M467.0 154.0h0M467.2 154.7h0M467.3 154.0h0M467.4 153.3h0M467.5 161.8h0M467.6 147.2h0M467.6 164.2h0M467.7 165.5h0M467.8 152.2h0M467.9 163.0h0M468.0 159.3h0M468.1 157.2h0M468.2 147.4h0M468.3 156.8h0M468.4 158.2h0M468.5 151.5h0M468.6 154.5h0M468.7 165.1h0M468.8 133.9h0M468.9 162.3h0M469.0 145.9h0M469.1 136.1h0M469.2 164.5h0M469.3 156.3h0M469.4 166.9h0M469.5 145.4h0M66.7 28.2h0M92.7 32.7h0M111.7 28.2h0M172.8 34.7h0M205.3 43.7h0M225.8 171.5h0M246.6 158.7h0M308.6 76.6h0M325.6 76.3h0M328.8 181.2h0M433.4 185.0h0M467.8 195.0h0M422.4 94.3h0M423.4 100.5h0M458.4 101.9h0M459.4 108.1h0" stroke="#e4fafa" stroke-width="9" stroke-linecap="round" fill="none"/>
<path d="M54.7 161.0h0M55.0 139.0h0M65.7 136.2h0M90.9 48.7h0M107.5 97.3h0M109.4 120.7h0M111.1 108.6h0M135.5 128.0h0M137.8 108.1h0M147.3 117.9h0M149.6 115.6h0M151.0 56.8h0M151.6 57.6h0M159.9 114.8h0M160.3 126.9h0M176.2 105.1h0M178.4 46.4h0M215.6 148.6h0M216.4 143.9h0M225.3 163.9h0M235.3 148.3h0M237.6 90.4h0M242.4 144.7h0M243.5 86.0h0M246.6 149.9h0M257.1 152.2h0M264.7 150.9h0M267.5 86.8h0M268.6 87.5h0M290.7 169.0h0M315.7 95.7h0M321.9 97.0h0M322.6 158.8h0M324.3 99.7h0M326.3 169.7h0M332.2 159.4h0M345.8 100.1h0M354.7 157.3h0M356.5 165.4h0M358.4 163.8h0M362.3 173.6h0M363.0 102.6h0M368.1 101.2h0M375.7 100.0h0M389.0 167.3h0M407.8 182.3h0M421.3 175.2h0M433.5 184.2h0M437.2 198.0h0M438.0 177.3h0M441.8 194.3h0M447.9 176.7h0M453.0 172.8h0M453.8 116.6h0M66.7 28.2h0M92.7 32.7h0M111.7 28.2h0M172.8 34.7h0M205.3 43.7h0M225.8 171.5h0M246.6 158.7h0M308.6 76.6h0M325.6 76.3h0M328.8 181.2h0M433.4 185.0h0M467.8 195.0h0M422.4 94.3h0M423.4 100.5h0M458.4 101.9h0M459.4 108.1h0" stroke="#2a3a94" stroke-width="3.45" stroke-linecap="round" fill="none"/>
<path d="M54.2 131.8h0M61.6 86.4h0M94.8 52.6h0M98.6 95.3h0M102.2 48.6h0M106.2 96.0h0M110.7 49.0h0M113.5 51.1h0M114.9 114.6h0M116.3 107.3h0M124.7 102.5h0M126.3 101.0h0M129.4 59.8h0M131.8 98.7h0M135.1 102.6h0M138.1 100.7h0M138.8 57.1h0M142.9 56.1h0M145.5 101.0h0M154.2 67.1h0M160.0 111.5h0M175.0 54.0h0M177.9 101.5h0M179.5 100.0h0M183.7 54.9h0M191.0 76.9h0M192.3 85.7h0M194.0 135.9h0M197.0 132.4h0M197.5 80.5h0M204.7 133.3h0M205.7 79.4h0M215.8 88.7h0M216.9 83.6h0M224.1 149.0h0M230.6 101.0h0M252.3 92.1h0M252.8 101.2h0M254.0 95.0h0M255.2 97.7h0M258.7 150.2h0M262.3 97.5h0M264.3 97.0h0M274.2 132.4h0M278.6 90.7h0M282.7 89.1h0M291.5 156.9h0M292.3 156.4h0M292.7 160.4h0M296.4 110.9h0M298.0 155.3h0M298.5 99.4h0M299.0 98.7h0M302.1 94.0h0M305.4 148.0h0M310.2 144.9h0M311.1 93.0h0M319.6 147.1h0M323.2 151.8h0M331.9 104.4h0M334.0 102.2h0M334.2 103.7h0M337.9 158.2h0M342.3 154.5h0M345.9 107.7h0M361.1 109.8h0M361.7 157.3h0M367.9 158.0h0M369.9 159.5h0M370.2 157.9h0M371.5 156.2h0M377.6 151.2h0M379.8 107.8h0M379.9 152.8h0M380.2 103.0h0M386.9 108.1h0M390.4 111.6h0M391.6 160.4h0M392.0 157.3h0M392.4 110.8h0M399.1 166.0h0M409.1 117.9h0M410.0 110.8h0M410.2 169.8h0M411.3 170.0h0M413.6 110.0h0M414.3 110.9h0M417.0 168.5h0M419.8 165.2h0M421.9 115.5h0M422.3 115.4h0M424.6 165.6h0M433.3 119.4h0M435.3 171.2h0M442.0 120.8h0M445.9 125.7h0M449.7 121.0h0M458.9 118.3h0M462.5 182.3h0M463.5 183.0h0M465.7 182.2h0M466.7 134.4h0M468.8 133.9h0M469.1 136.1h0" stroke="#2548a6" stroke-width="3.45" stroke-linecap="round" fill="none"/>
<path d="M67.1 121.0h0M67.8 122.5h0M68.8 60.4h0M69.1 61.8h0M69.8 61.3h0M70.3 58.3h0M71.6 56.5h0M74.7 103.3h0M76.8 102.4h0M77.1 56.6h0M78.9 105.4h0M81.9 56.7h0M83.5 60.8h0M84.5 103.8h0M87.1 61.1h0M94.0 59.1h0M95.7 57.6h0M96.6 95.5h0M101.6 53.0h0M104.3 50.8h0M104.4 91.9h0M104.9 50.7h0M108.1 50.7h0M109.2 89.4h0M115.2 99.8h0M119.0 107.8h0M119.9 111.4h0M120.7 110.3h0M120.7 113.6h0M121.2 113.7h0M121.7 112.9h0M122.5 110.6h0M127.1 100.5h0M139.0 59.6h0M141.4 59.1h0M142.8 98.5h0M149.8 102.7h0M150.3 102.2h0M151.2 104.3h0M152.7 70.6h0M152.9 68.6h0M164.1 59.1h0M165.8 58.9h0M167.3 60.5h0M167.4 59.6h0M170.0 99.1h0M173.8 98.4h0M175.6 57.7h0M180.0 56.5h0M185.2 61.4h0M187.5 121.0h0M187.9 128.4h0M188.2 119.0h0M188.3 124.9h0M189.1 122.7h0M191.6 128.6h0M193.0 129.8h0M193.7 126.4h0M194.4 88.7h0M195.9 123.3h0M196.4 125.7h0M196.7 131.9h0M197.1 127.7h0M199.6 124.1h0M204.8 130.1h0M205.0 128.8h0M206.4 80.2h0M211.2 84.1h0M213.9 85.5h0M214.8 91.8h0M218.6 95.2h0M228.4 103.7h0M228.9 147.2h0M236.1 141.1h0M236.5 97.2h0M238.0 139.7h0M239.6 140.0h0M240.3 93.4h0M242.0 136.3h0M242.9 94.2h0M243.0 98.6h0M243.2 99.2h0M243.3 99.4h0M248.0 95.0h0M248.7 93.5h0M253.2 103.7h0M255.3 102.1h0M259.3 102.2h0M265.2 143.3h0M265.9 144.4h0M267.1 141.2h0M268.5 94.7h0M271.8 95.2h0M272.0 92.9h0M277.0 91.3h0M278.9 91.5h0M281.1 96.2h0M281.3 138.3h0M284.8 142.9h0M286.8 148.0h0M288.5 101.1h0M288.5 146.2h0M290.1 149.5h0M292.3 156.0h0M297.4 112.9h0M297.9 104.0h0M298.7 107.5h0M302.3 148.4h0M304.9 101.8h0M305.5 97.9h0M305.9 95.4h0M306.3 106.3h0M306.7 96.4h0M306.9 106.5h0M309.2 99.0h0M310.6 99.8h0M316.4 104.5h0M321.5 108.2h0M322.0 107.8h0M324.8 108.2h0M324.9 151.1h0M326.5 109.0h0M330.1 150.7h0M331.1 148.7h0M331.6 107.8h0M332.6 151.1h0M337.6 150.8h0M341.4 108.7h0M346.9 108.3h0M350.0 152.8h0M353.8 153.7h0M360.4 112.2h0M365.0 110.6h0M365.1 155.1h0M365.6 118.9h0M366.2 116.3h0M370.3 109.3h0M372.0 112.2h0M372.1 112.2h0M372.4 112.1h0M381.3 111.2h0M381.6 151.5h0M382.7 146.3h0M383.7 149.3h0M383.9 111.5h0M387.2 150.6h0M390.9 113.5h0M394.0 156.2h0M395.0 158.2h0M395.1 114.2h0M396.5 114.7h0M403.2 163.9h0M404.2 162.9h0M404.5 117.0h0M409.8 118.5h0M412.9 164.9h0M413.1 162.1h0M414.1 159.6h0M415.0 161.3h0M415.1 117.0h0M418.8 116.6h0M419.4 165.0h0M421.2 157.4h0M430.8 166.2h0M431.1 165.8h0M431.4 122.2h0M432.9 170.8h0M433.4 171.5h0M434.5 123.6h0M435.2 168.1h0M437.4 164.7h0M438.3 172.0h0M438.5 122.8h0M442.5 123.3h0M443.4 120.7h0M446.8 120.6h0M454.8 160.6h0M459.8 172.8h0M463.8 128.9h0M464.8 173.1h0" stroke="#2058b4" stroke-width="3.45" stroke-linecap="round" fill="none"/>
<path d="M53.5 125.1h0M53.6 126.0h0M54.0 126.2h0M56.1 126.3h0M57.0 95.6h0M57.1 97.8h0M58.3 128.3h0M58.5 127.4h0M59.5 96.2h0M62.0 126.9h0M63.4 90.5h0M64.5 91.5h0M65.2 124.3h0M67.2 113.2h0M69.0 69.0h0M70.1 69.5h0M70.7 61.5h0M74.0 98.5h0M74.9 60.4h0M75.9 97.5h0M76.1 63.8h0M76.3 58.1h0M76.5 61.7h0M77.4 98.1h0M77.8 102.1h0M78.5 62.7h0M79.5 100.1h0M80.0 61.2h0M80.3 95.5h0M80.4 99.6h0M81.1 62.7h0M81.3 96.4h0M82.2 98.4h0M82.8 62.6h0M84.4 98.0h0M84.8 98.2h0M84.9 66.5h0M85.5 100.3h0M87.3 98.9h0M91.9 62.7h0M96.7 94.5h0M102.3 89.8h0M106.0 53.6h0M106.9 57.2h0M110.0 54.6h0M111.8 61.4h0M111.9 58.4h0M115.8 68.9h0M117.8 100.5h0M121.5 71.9h0M127.5 67.0h0M128.1 68.0h0M128.7 66.2h0M132.8 62.1h0M133.2 62.5h0M133.5 63.6h0M134.8 64.6h0M135.6 66.9h0M136.2 65.7h0M136.4 65.9h0M137.1 65.9h0M141.5 61.5h0M142.6 94.3h0M144.7 62.4h0M150.2 71.7h0M152.2 101.2h0M155.8 75.7h0M155.9 75.6h0M156.7 107.2h0M163.4 65.5h0M165.1 63.5h0M166.8 96.4h0M167.3 62.5h0M168.1 95.3h0M168.2 59.1h0M170.6 95.1h0M172.4 95.1h0M173.7 61.4h0M176.6 57.9h0M176.6 93.2h0M177.0 59.5h0M177.1 93.0h0M181.5 93.8h0M181.8 59.0h0M183.1 61.9h0M183.4 63.3h0M184.0 65.0h0M184.1 99.1h0M186.5 82.1h0M187.1 115.7h0M189.8 91.3h0M191.5 118.6h0M191.8 124.2h0M192.2 91.8h0M192.7 119.2h0M196.3 91.8h0M197.8 86.1h0M200.5 85.9h0M200.6 85.9h0M200.8 84.7h0M202.5 84.4h0M203.9 121.6h0M204.6 126.1h0M205.5 85.5h0M206.2 122.8h0M206.3 122.5h0M206.6 129.2h0M207.4 83.1h0M207.5 95.2h0M207.6 86.1h0M208.1 132.9h0M208.3 88.5h0M208.4 94.4h0M208.9 93.5h0M209.0 84.5h0M210.1 128.7h0M210.8 129.5h0M210.9 88.3h0M211.6 95.1h0M212.1 95.8h0M212.2 134.1h0M212.7 133.2h0M213.2 129.9h0M213.4 132.1h0M214.1 125.2h0M215.3 95.1h0M216.0 132.3h0M216.3 133.4h0M216.6 98.3h0M216.8 124.9h0M217.0 126.5h0M217.2 129.9h0M217.3 97.3h0M217.9 135.6h0M220.3 135.7h0M221.8 136.6h0M222.9 138.0h0M224.0 141.5h0M225.7 144.3h0M226.9 142.8h0M227.5 105.8h0M228.5 144.9h0M231.3 141.2h0M231.5 143.0h0M232.8 142.1h0M233.8 141.1h0M235.2 100.6h0M237.1 100.3h0M237.7 134.2h0M238.1 134.4h0M239.1 97.0h0M244.2 101.6h0M244.5 96.3h0M244.7 103.2h0M246.8 135.5h0M248.8 139.2h0M249.1 106.2h0M251.0 105.7h0M251.3 137.9h0M256.4 143.4h0M257.0 108.9h0M257.4 142.1h0M259.2 144.9h0M259.7 105.8h0M261.9 145.1h0M262.8 105.4h0M263.8 140.7h0M264.0 141.9h0M265.1 140.2h0M268.2 133.5h0M271.0 95.9h0M273.3 97.8h0M273.6 96.7h0M278.0 128.8h0M279.2 128.5h0M280.4 93.6h0M280.8 96.8h0M281.5 132.9h0M282.5 131.2h0M283.3 135.3h0M283.5 100.4h0M283.9 136.6h0M287.0 140.0h0M288.4 103.8h0M288.7 143.2h0M290.3 113.5h0M290.4 150.6h0M292.9 149.0h0M293.8 118.5h0M294.0 117.4h0M295.1 150.1h0M295.3 119.1h0M296.0 147.1h0M296.5 148.8h0M298.2 150.8h0M298.8 113.2h0M299.1 108.4h0M299.5 145.3h0M300.5 142.7h0M300.9 144.3h0M302.8 142.4h0M302.9 106.9h0M305.1 113.2h0M306.4 138.7h0M307.4 142.5h0M309.3 106.3h0M310.0 105.5h0M313.2 140.2h0M313.9 103.8h0M314.5 106.4h0M317.4 106.6h0M317.9 107.1h0M320.8 141.4h0M323.7 144.3h0M325.0 146.3h0M325.4 115.0h0M325.5 145.2h0M327.7 111.1h0M328.4 110.2h0M328.7 147.3h0M329.4 111.0h0M330.2 147.4h0M331.0 147.3h0M332.1 112.0h0M332.4 112.2h0M338.5 111.4h0M338.6 111.8h0M339.5 147.1h0M340.5 146.0h0M341.0 151.2h0M343.9 149.4h0M344.5 111.9h0M348.2 113.7h0M350.6 151.2h0M352.5 150.0h0M352.9 116.2h0M354.6 114.3h0M356.7 116.5h0M359.0 152.1h0M359.1 114.9h0M359.5 116.4h0M359.7 150.2h0M359.9 117.9h0M360.5 151.4h0M361.8 116.7h0M362.7 118.4h0M363.2 113.0h0M364.0 150.7h0M365.5 150.9h0M365.9 150.6h0M368.6 147.2h0M373.4 114.0h0M373.6 145.0h0M373.9 115.0h0M376.1 113.8h0M379.4 113.6h0M381.8 146.1h0M384.1 145.5h0M386.3 117.4h0M388.5 143.7h0M389.7 149.2h0M391.8 120.4h0M392.2 153.6h0M393.7 120.3h0M394.1 117.8h0M394.2 119.8h0M394.4 118.0h0M398.1 121.2h0M398.4 120.2h0M399.0 158.1h0M400.5 157.8h0M401.3 125.8h0M402.1 161.2h0M402.5 161.1h0M404.0 157.4h0M405.0 161.0h0M405.4 123.5h0M405.8 120.9h0M406.1 122.1h0M406.8 159.7h0M415.3 120.2h0M416.2 156.0h0M417.3 159.5h0M420.6 155.8h0M422.5 157.5h0M425.5 121.4h0M425.8 155.8h0M427.5 159.0h0M428.0 159.1h0M428.2 122.4h0M428.7 159.3h0M432.7 162.1h0M432.8 126.1h0M433.1 162.8h0M434.4 132.8h0M435.6 133.5h0M436.0 139.5h0M436.3 126.3h0M436.9 126.3h0M437.1 139.4h0M437.3 129.7h0M437.5 130.8h0M438.8 129.7h0M441.4 133.0h0M441.6 132.4h0M442.8 135.1h0M443.6 133.5h0M444.9 163.9h0M445.3 164.7h0M446.6 164.0h0M448.1 165.2h0M448.3 128.4h0M449.6 163.9h0M450.0 164.7h0M451.2 164.4h0M452.5 125.6h0M455.6 125.0h0M456.2 166.6h0M456.4 162.9h0M458.5 126.9h0M458.6 123.9h0M460.9 125.1h0M461.1 169.9h0M462.6 132.0h0M463.1 170.1h0M463.9 170.3h0M466.0 170.0h0M466.2 141.8h0M466.8 141.3h0M467.7 165.5h0M468.7 165.1h0M469.2 164.5h0M469.4 166.9h0M469.5 145.4h0" stroke="#1c66be" stroke-width="3.45" stroke-linecap="round" fill="none"/>
<path d="M53.7 108.2h0M53.8 119.8h0M53.9 110.6h0M54.1 113.9h0M54.3 119.6h0M54.4 119.8h0M54.5 108.8h0M54.6 112.8h0M54.8 106.0h0M54.9 112.4h0M55.2 106.5h0M55.3 114.7h0M55.4 116.9h0M55.5 110.6h0M55.6 118.0h0M55.7 109.8h0M55.8 102.5h0M55.9 105.0h0M56.0 117.3h0M56.2 113.9h0M56.3 114.5h0M56.4 102.1h0M56.5 117.0h0M56.6 115.1h0M56.7 105.6h0M56.8 117.7h0M56.9 114.4h0M57.2 106.3h0M57.2 109.8h0M57.3 122.2h0M57.4 106.8h0M57.5 111.7h0M57.6 110.0h0M57.7 117.3h0M57.8 112.2h0M57.9 113.8h0M58.0 108.8h0M58.1 97.5h0M58.2 108.2h0M58.4 121.3h0M58.6 119.4h0M58.7 105.8h0M58.8 107.3h0M58.9 117.2h0M59.0 108.4h0M59.1 118.4h0M59.2 124.9h0M59.3 124.7h0M59.4 119.1h0M59.6 123.7h0M59.7 97.7h0M59.8 96.8h0M59.9 111.8h0M60.1 110.2h0M60.2 115.7h0M60.3 124.3h0M60.4 102.8h0M60.5 109.2h0M60.6 99.2h0M60.7 97.2h0M60.9 105.4h0M61.0 105.4h0M61.0 109.2h0M61.1 105.0h0M61.2 119.5h0M61.3 104.2h0M61.4 106.1h0M61.5 116.7h0M61.7 117.5h0M61.8 116.4h0M61.9 104.8h0M62.1 115.3h0M62.2 122.5h0M62.3 116.8h0M62.4 108.3h0M62.5 103.7h0M62.6 95.8h0M62.7 98.6h0M62.8 94.7h0M62.8 110.4h0M62.9 111.0h0M63.1 95.0h0M63.2 110.9h0M63.3 112.0h0M63.5 97.8h0M63.6 103.4h0M63.7 97.9h0M63.8 96.5h0M63.9 118.9h0M64.0 106.1h0M64.1 109.3h0M64.2 103.9h0M64.4 111.9h0M64.6 99.9h0M64.7 113.2h0M64.7 121.7h0M64.8 117.2h0M64.9 104.7h0M65.0 99.6h0M65.1 102.4h0M65.3 108.4h0M65.4 99.9h0M65.5 101.9h0M65.6 93.4h0M65.8 99.7h0M66.0 111.4h0M66.1 102.9h0M66.2 100.8h0M66.4 98.0h0M66.6 110.6h0M66.6 97.9h0M66.7 116.5h0M66.8 118.9h0M66.9 99.2h0M67.0 105.3h0M67.3 104.5h0M67.4 89.1h0M67.5 94.2h0M67.6 96.7h0M67.9 105.6h0M68.0 99.8h0M68.1 100.7h0M68.2 100.4h0M68.4 106.9h0M68.4 84.1h0M68.5 80.5h0M68.6 89.8h0M68.7 92.2h0M68.9 86.5h0M69.2 90.4h0M69.3 78.0h0M69.4 84.4h0M69.5 75.7h0M69.7 77.6h0M69.9 74.9h0M70.0 80.9h0M70.2 83.5h0M70.3 87.1h0M70.4 88.9h0M70.5 85.6h0M70.6 80.2h0M70.8 101.8h0M70.9 70.0h0M71.0 88.5h0M71.1 86.0h0M71.2 84.3h0M71.3 90.4h0M71.4 91.3h0M71.5 78.9h0M71.7 73.1h0M71.8 73.0h0M71.9 95.5h0M72.0 80.7h0M72.1 92.3h0M72.2 72.7h0M72.2 82.7h0M72.4 80.0h0M72.5 81.2h0M72.6 86.1h0M72.7 95.5h0M72.8 74.5h0M72.9 94.1h0M73.0 92.0h0M73.1 83.2h0M73.3 87.2h0M73.4 77.5h0M73.5 70.0h0M73.6 77.6h0M73.7 78.1h0M73.8 79.9h0M73.9 71.5h0M74.0 76.4h0M74.1 89.4h0M74.2 92.3h0M74.3 79.9h0M74.4 83.9h0M74.5 74.1h0M74.6 69.0h0M74.8 80.7h0M75.0 90.4h0M75.1 65.5h0M75.2 79.0h0M75.3 94.4h0M75.4 91.2h0M75.5 72.9h0M75.6 70.4h0M75.7 87.3h0M75.8 82.7h0M75.9 77.4h0M76.0 65.9h0M76.4 81.1h0M76.6 85.2h0M76.7 88.1h0M76.9 70.4h0M77.0 83.7h0M77.2 76.7h0M77.3 78.1h0M77.5 65.0h0M77.6 83.6h0M77.7 81.6h0M77.8 70.7h0M77.9 70.1h0M78.0 86.0h0M78.1 79.0h0M78.2 76.0h0M78.3 70.3h0M78.4 78.9h0M78.6 82.4h0M78.7 86.0h0M78.8 84.6h0M79.0 88.0h0M79.1 69.9h0M79.2 77.3h0M79.3 88.1h0M79.4 76.5h0M79.6 82.8h0M79.6 74.7h0M79.7 73.0h0M79.8 87.7h0M79.9 70.8h0M80.1 84.2h0M80.2 72.5h0M80.5 73.8h0M80.6 79.5h0M80.7 77.9h0M80.8 85.8h0M80.9 82.9h0M81.0 71.8h0M81.2 82.1h0M81.4 67.2h0M81.5 73.9h0M81.7 73.1h0M81.8 78.1h0M82.0 79.2h0M82.1 74.8h0M82.3 85.7h0M82.4 86.8h0M82.5 80.2h0M82.6 76.4h0M82.7 87.4h0M82.9 90.6h0M83.0 84.4h0M83.1 77.5h0M83.2 92.4h0M83.3 74.2h0M83.3 73.6h0M83.4 82.8h0M83.6 79.1h0M83.7 77.1h0M83.8 89.5h0M84.0 96.7h0M84.1 86.2h0M84.2 83.1h0M84.3 84.5h0M84.7 91.3h0M85.0 85.6h0M85.1 85.1h0M85.2 90.9h0M85.2 70.9h0M85.3 73.8h0M85.4 77.5h0M85.6 68.2h0M85.7 76.0h0M85.8 74.4h0M85.9 67.5h0M86.0 81.8h0M86.1 81.6h0M86.2 72.7h0M86.4 75.6h0M86.5 82.3h0M86.6 79.5h0M86.7 84.9h0M86.8 88.8h0M86.9 70.5h0M87.0 79.8h0M87.1 95.3h0M87.2 82.2h0M87.4 84.1h0M87.5 95.9h0M87.6 65.9h0M87.7 74.4h0M87.8 91.8h0M87.9 72.1h0M88.0 90.1h0M88.1 93.3h0M88.2 81.4h0M88.3 84.6h0M88.4 90.8h0M88.5 83.4h0M88.6 89.7h0M88.7 79.0h0M88.8 79.8h0M89.0 72.0h0M89.2 83.9h0M89.3 92.7h0M89.4 92.5h0M89.5 81.7h0M89.6 63.8h0M89.7 70.7h0M89.8 85.5h0M89.9 69.6h0M90.0 90.6h0M90.1 68.8h0M90.2 82.8h0M90.3 71.2h0M90.4 72.6h0M90.5 81.6h0M90.6 75.5h0M90.7 89.4h0M90.8 79.4h0M90.8 67.8h0M91.0 71.5h0M91.1 77.6h0M91.2 88.6h0M91.3 67.8h0M91.4 94.9h0M91.5 86.3h0M91.7 74.6h0M91.8 90.2h0M92.1 67.1h0M92.2 83.7h0M92.3 83.5h0M92.4 91.1h0M92.5 91.9h0M92.6 73.4h0M92.7 71.5h0M92.8 74.2h0M92.9 75.0h0M93.0 83.2h0M93.1 73.9h0M93.2 92.2h0M93.3 77.4h0M93.4 62.6h0M93.5 64.1h0M93.6 81.9h0M93.7 80.6h0M93.8 63.3h0M94.1 91.9h0M94.2 81.2h0M94.3 74.5h0M94.4 64.5h0M94.5 85.1h0M94.5 70.2h0M94.6 79.6h0M94.9 72.1h0M95.0 77.7h0M95.1 79.6h0M95.2 65.6h0M95.3 69.3h0M95.4 86.9h0M95.5 78.1h0M95.6 89.3h0M95.8 88.8h0M95.9 89.0h0M96.0 82.5h0M96.1 85.4h0M96.2 70.2h0M96.3 67.5h0M96.4 77.8h0M96.4 86.5h0M96.5 67.2h0M96.8 67.8h0M96.9 77.9h0M97.0 65.2h0M97.1 77.0h0M97.2 87.5h0M97.3 79.9h0M97.4 69.0h0M97.5 82.3h0M97.6 81.6h0M97.7 88.5h0M97.8 86.1h0M97.9 65.9h0M98.0 69.7h0M98.1 85.9h0M98.2 85.0h0M98.3 79.7h0M98.3 68.5h0M98.4 85.7h0M98.5 75.6h0M98.7 86.4h0M98.8 69.5h0M98.9 64.7h0M99.0 85.2h0M99.1 81.3h0M99.2 65.5h0M99.3 77.3h0M99.5 78.7h0M99.6 68.0h0M99.7 71.2h0M99.8 61.9h0M100.0 65.0h0M100.1 78.6h0M100.1 74.0h0M100.2 73.3h0M100.3 86.3h0M100.4 85.2h0M100.5 62.8h0M100.6 88.4h0M100.7 62.4h0M100.8 69.5h0M100.9 73.7h0M101.0 66.8h0M101.1 67.4h0M101.2 60.0h0M101.3 76.0h0M101.4 74.2h0M101.5 74.4h0M101.7 62.3h0M101.8 80.9h0M101.9 75.0h0M102.0 78.6h0M102.0 71.4h0M102.1 69.4h0M102.4 61.3h0M102.5 67.2h0M102.6 78.6h0M102.7 73.1h0M102.8 76.6h0M102.9 71.1h0M103.0 61.6h0M103.1 86.8h0M103.2 58.5h0M103.3 75.4h0M103.4 56.7h0M103.5 67.6h0M103.7 59.4h0M103.8 66.1h0M103.9 60.9h0M103.9 71.2h0M104.0 80.1h0M104.1 65.1h0M104.2 64.7h0M104.5 73.8h0M104.6 61.2h0M104.7 84.4h0M104.8 74.1h0M105.0 57.7h0M105.1 80.7h0M105.2 57.7h0M105.3 60.1h0M105.4 64.2h0M105.5 68.2h0M105.6 69.6h0M105.7 80.7h0M105.7 77.2h0M105.8 64.7h0M105.9 70.6h0M106.1 75.4h0M106.4 75.4h0M106.5 69.3h0M106.6 68.3h0M106.7 71.4h0M106.8 80.4h0M107.0 78.8h0M107.1 65.1h0M107.2 75.1h0M107.3 84.2h0M107.4 58.1h0M107.6 80.7h0M107.6 67.9h0M107.7 75.8h0M107.8 64.8h0M107.9 73.3h0M108.0 76.8h0M108.2 74.5h0M108.3 73.9h0M108.4 83.1h0M108.5 79.8h0M108.7 65.9h0M108.8 66.8h0M108.9 72.4h0M109.0 79.4h0M109.1 65.6h0M109.5 75.0h0M109.5 80.9h0M109.6 71.0h0M109.8 79.2h0M109.9 80.5h0M110.1 65.2h0M110.2 71.7h0M110.3 72.1h0M110.4 63.0h0M110.5 64.8h0M110.6 60.5h0M110.8 75.1h0M110.9 70.5h0M111.0 73.8h0M111.2 87.7h0M111.3 73.9h0M111.3 68.0h0M111.4 80.3h0M111.5 63.5h0M111.6 62.3h0M111.7 79.5h0M112.0 71.5h0M112.1 86.1h0M112.2 62.0h0M112.3 78.5h0M112.4 80.9h0M112.5 76.2h0M112.7 83.3h0M112.8 67.5h0M112.9 70.7h0M113.0 66.5h0M113.1 73.1h0M113.2 87.1h0M113.2 81.0h0M113.3 71.0h0M113.4 84.0h0M113.6 82.9h0M113.7 86.6h0M113.8 69.5h0M113.9 73.8h0M114.0 81.8h0M114.1 84.0h0M114.2 77.8h0M114.3 74.0h0M114.4 74.9h0M114.5 85.8h0M114.6 78.7h0M114.7 74.9h0M114.8 76.0h0M115.0 93.0h0M115.1 92.1h0M115.3 83.3h0M115.4 76.2h0M115.5 79.5h0M115.6 87.2h0M115.7 85.9h0M115.9 84.3h0M116.0 83.7h0M116.1 71.2h0M116.2 83.4h0M116.4 83.3h0M116.5 90.9h0M116.6 88.2h0M116.7 76.7h0M116.8 82.6h0M116.9 89.9h0M116.9 78.5h0M117.0 83.1h0M117.1 86.4h0M117.2 84.6h0M117.3 85.1h0M117.4 91.1h0M117.5 92.3h0M117.6 87.6h0M117.7 97.4h0M117.9 75.0h0M118.0 90.4h0M118.1 88.4h0M118.2 89.5h0M118.3 88.0h0M118.4 88.1h0M118.5 87.7h0M118.6 96.4h0M118.7 79.2h0M118.8 95.5h0M118.8 78.3h0M119.1 99.4h0M119.2 79.0h0M119.3 90.4h0M119.4 95.7h0M119.5 85.3h0M119.7 99.6h0M119.8 88.5h0M120.0 93.9h0M120.1 95.9h0M120.2 84.1h0M120.3 80.9h0M120.4 98.1h0M120.5 73.7h0M120.6 95.7h0M120.8 74.6h0M120.9 90.9h0M121.0 96.5h0M121.1 97.5h0M121.3 76.5h0M121.4 90.7h0M121.6 91.6h0M121.8 81.0h0M121.9 93.0h0M122.0 91.6h0M122.1 79.5h0M122.2 91.7h0M122.3 77.4h0M122.4 88.9h0M122.5 83.6h0M122.6 94.6h0M122.7 76.3h0M122.8 78.8h0M122.9 87.7h0M123.0 82.1h0M123.1 82.5h0M123.2 90.8h0M123.3 79.0h0M123.4 90.1h0M123.5 81.6h0M123.6 97.1h0M123.7 86.5h0M123.8 83.3h0M124.0 95.1h0M124.1 91.3h0M124.2 92.4h0M124.3 79.7h0M124.4 94.0h0M124.4 82.4h0M124.5 71.5h0M124.6 83.0h0M124.8 85.1h0M124.9 75.9h0M125.0 89.0h0M125.1 75.0h0M125.2 79.8h0M125.3 81.7h0M125.4 88.4h0M125.5 90.8h0M125.6 88.1h0M125.7 84.8h0M125.8 80.2h0M125.9 81.1h0M126.0 88.2h0M126.1 84.4h0M126.2 81.1h0M126.3 92.4h0M126.4 92.7h0M126.5 86.7h0M126.6 87.3h0M126.7 87.1h0M126.8 93.1h0M126.9 77.7h0M127.0 81.5h0M127.2 84.0h0M127.3 95.2h0M127.6 88.4h0M127.7 87.7h0M127.8 82.8h0M128.0 85.5h0M128.1 84.0h0M128.2 81.1h0M128.3 74.9h0M128.4 72.0h0M128.6 92.7h0M128.8 76.0h0M128.9 73.3h0M129.0 91.3h0M129.1 74.5h0M129.2 78.5h0M129.3 87.9h0M129.6 76.7h0M129.7 84.6h0M129.8 80.2h0M129.9 73.0h0M130.0 70.8h0M130.1 76.1h0M130.2 69.7h0M130.5 67.0h0M130.7 93.7h0M130.8 86.2h0M130.9 90.6h0M131.0 80.3h0M131.1 66.8h0M131.2 88.7h0M131.3 91.4h0M131.4 83.9h0M131.5 70.6h0M131.6 86.1h0M131.7 81.7h0M131.8 77.6h0M131.9 72.8h0M132.0 77.0h0M132.1 74.7h0M132.2 90.0h0M132.3 87.9h0M132.4 86.1h0M132.5 77.6h0M132.6 79.3h0M132.7 78.7h0M132.9 66.8h0M133.0 86.9h0M133.1 86.1h0M133.3 82.7h0M133.4 65.8h0M133.6 84.9h0M133.7 82.2h0M133.7 78.7h0M133.8 88.1h0M133.9 89.2h0M134.0 83.4h0M134.1 71.0h0M134.3 83.9h0M134.4 81.5h0M134.5 84.0h0M134.7 93.0h0M135.2 85.8h0M135.3 73.8h0M135.4 93.2h0M135.6 87.8h0M135.7 77.2h0M135.8 90.3h0M135.9 74.2h0M136.0 78.4h0M136.1 77.1h0M136.3 74.6h0M136.5 72.9h0M136.6 91.1h0M136.7 76.6h0M136.8 74.3h0M136.9 93.5h0M137.2 78.5h0M137.3 75.5h0M137.4 88.0h0M137.4 78.4h0M137.5 76.1h0M137.6 82.3h0M137.7 78.3h0M137.9 65.6h0M138.0 90.1h0M138.2 88.6h0M138.3 87.3h0M138.4 73.6h0M138.5 88.1h0M138.6 76.2h0M138.7 88.5h0M138.9 73.6h0M139.1 89.0h0M139.3 72.4h0M139.3 88.4h0M139.4 73.2h0M139.5 72.2h0M139.6 94.8h0M139.7 90.2h0M139.8 90.5h0M139.9 93.8h0M140.0 86.2h0M140.1 88.4h0M140.2 93.2h0M140.3 77.9h0M140.4 73.5h0M140.5 91.9h0M140.7 84.4h0M140.8 78.8h0M140.9 81.1h0M141.0 85.8h0M141.1 70.8h0M141.2 70.4h0M141.2 72.1h0M141.3 80.9h0M141.6 82.8h0M141.7 80.0h0M141.8 67.0h0M141.9 86.7h0M142.1 74.8h0M142.2 78.3h0M142.3 85.7h0M142.5 81.0h0M142.7 84.1h0M143.1 63.7h0M143.2 66.5h0M143.3 75.6h0M143.4 68.7h0M143.5 66.0h0M143.6 68.5h0M143.7 69.6h0M143.8 87.9h0M143.9 74.6h0M144.0 84.3h0M144.1 90.8h0M144.2 90.5h0M144.3 75.0h0M144.5 69.0h0M144.6 93.1h0M144.8 65.2h0M144.9 83.6h0M144.9 84.6h0M145.0 80.8h0M145.1 70.4h0M145.2 84.1h0M145.3 91.3h0M145.4 77.1h0M145.6 79.3h0M145.7 69.3h0M145.9 77.9h0M146.0 73.3h0M146.1 76.2h0M146.2 74.0h0M146.3 79.9h0M146.4 89.7h0M146.5 83.8h0M146.6 82.4h0M146.7 69.2h0M146.8 65.7h0M146.8 77.7h0M146.9 89.5h0M147.0 89.3h0M147.1 84.1h0M147.2 68.5h0M147.4 83.0h0M147.5 90.2h0M147.6 73.9h0M147.7 79.9h0M148.0 83.6h0M148.1 82.1h0M148.2 66.5h0M148.4 85.0h0M148.5 66.8h0M148.6 89.9h0M148.6 83.2h0M148.7 75.0h0M148.8 85.1h0M148.9 92.2h0M149.0 86.7h0M149.1 93.2h0M149.2 79.2h0M149.3 84.2h0M149.4 78.8h0M149.5 76.4h0M149.7 81.7h0M149.9 83.3h0M150.0 93.7h0M150.1 84.1h0M150.4 83.5h0M150.5 86.3h0M150.5 87.3h0M150.6 79.3h0M150.7 85.5h0M150.8 91.0h0M150.9 93.3h0M151.1 90.3h0M151.3 95.8h0M151.4 90.4h0M151.5 90.7h0M151.7 97.5h0M151.9 82.0h0M152.0 92.3h0M152.3 96.0h0M152.4 91.8h0M152.4 79.7h0M152.5 83.5h0M152.6 91.7h0M152.8 86.5h0M153.0 95.0h0M153.1 84.4h0M153.2 81.9h0M153.3 98.8h0M153.4 87.5h0M153.5 87.9h0M153.6 94.3h0M153.7 84.1h0M153.8 79.7h0M153.9 78.8h0M154.0 92.1h0M154.1 88.4h0M154.2 101.5h0M154.4 88.6h0M154.5 82.1h0M154.6 89.5h0M154.7 84.7h0M154.8 89.6h0M154.9 83.9h0M155.0 78.8h0M155.1 93.9h0M155.2 89.8h0M155.3 92.5h0M155.4 96.0h0M155.5 92.4h0M155.6 103.5h0M155.7 85.1h0M156.1 79.7h0M156.3 101.7h0M156.4 77.1h0M156.5 99.1h0M156.6 92.5h0M156.8 102.5h0M156.9 83.5h0M157.0 88.9h0M157.1 93.2h0M157.2 100.3h0M157.4 87.3h0M157.5 96.0h0M157.6 81.0h0M157.7 79.2h0M157.9 104.8h0M158.0 96.1h0M158.0 94.2h0M158.1 102.7h0M158.2 102.0h0M158.3 90.0h0M158.4 92.8h0M158.5 93.5h0M158.6 96.0h0M158.7 85.5h0M158.8 102.5h0M158.9 99.6h0M159.0 74.7h0M159.1 77.3h0M159.2 106.3h0M159.3 103.6h0M159.4 86.4h0M159.5 101.9h0M159.6 92.5h0M159.8 94.4h0M159.8 84.3h0M160.1 101.8h0M160.2 79.5h0M160.4 106.4h0M160.5 84.5h0M160.6 82.3h0M160.7 91.7h0M160.8 92.5h0M160.9 84.8h0M161.0 77.1h0M161.1 87.2h0M161.3 103.8h0M161.4 88.4h0M161.5 91.4h0M161.6 96.4h0M161.7 84.5h0M161.7 89.7h0M161.8 88.9h0M161.9 77.0h0M162.0 81.1h0M162.1 101.9h0M162.2 100.9h0M162.3 79.5h0M162.4 90.6h0M162.5 92.5h0M162.6 92.6h0M162.7 71.9h0M162.8 75.4h0M162.9 90.4h0M163.1 94.0h0M163.2 82.3h0M163.3 86.7h0M163.5 96.1h0M163.6 99.5h0M163.6 83.6h0M163.7 80.7h0M163.9 78.9h0M164.0 72.5h0M164.2 82.7h0M164.3 84.5h0M164.4 96.2h0M164.5 76.3h0M164.6 70.2h0M164.7 81.2h0M164.8 66.9h0M165.0 78.2h0M165.2 75.2h0M165.3 88.9h0M165.4 84.7h0M165.4 93.5h0M165.5 95.5h0M165.6 75.7h0M165.7 69.7h0M165.9 78.8h0M166.0 80.5h0M166.1 89.1h0M166.2 68.3h0M166.3 85.5h0M166.5 83.9h0M166.6 71.2h0M166.7 72.4h0M166.9 70.5h0M167.0 76.5h0M167.1 81.7h0M167.2 81.9h0M167.5 89.0h0M167.6 84.1h0M167.7 68.7h0M167.8 89.5h0M168.0 84.6h0M168.4 66.9h0M168.5 72.8h0M168.6 75.2h0M168.7 81.4h0M168.9 81.2h0M169.0 71.1h0M169.1 84.2h0M169.2 65.0h0M169.2 82.0h0M169.3 85.7h0M169.4 64.2h0M169.5 78.4h0M169.7 71.5h0M169.8 81.0h0M170.2 71.4h0M170.3 90.1h0M170.4 66.0h0M170.5 92.0h0M170.7 73.6h0M170.8 72.4h0M170.9 75.5h0M171.0 88.5h0M171.0 67.7h0M171.1 90.9h0M171.2 81.0h0M171.3 84.2h0M171.4 80.1h0M171.5 67.9h0M171.6 82.6h0M171.7 70.7h0M171.8 69.4h0M171.9 93.1h0M172.0 87.7h0M172.1 79.9h0M172.2 82.0h0M172.3 73.0h0M172.5 75.9h0M172.7 68.6h0M172.8 77.6h0M172.9 89.6h0M172.9 75.8h0M173.1 81.1h0M173.2 70.2h0M173.3 76.6h0M173.4 68.5h0M173.6 79.9h0M173.9 85.6h0M174.0 70.7h0M174.1 90.4h0M174.3 68.2h0M174.4 87.4h0M174.5 74.4h0M174.6 84.4h0M174.7 79.7h0M174.8 73.5h0M174.8 76.3h0M174.9 79.0h0M175.1 75.2h0M175.2 84.9h0M175.3 66.2h0M175.4 67.2h0M175.5 63.3h0M175.7 84.7h0M175.8 64.9h0M175.9 64.2h0M176.0 75.4h0M176.1 73.0h0M176.4 81.2h0M176.7 80.8h0M176.8 72.7h0M176.9 69.9h0M177.2 75.2h0M177.3 67.1h0M177.4 88.6h0M177.5 76.1h0M177.6 66.1h0M177.7 62.7h0M177.8 70.4h0M178.0 77.0h0M178.1 71.9h0M178.2 78.8h0M178.3 76.4h0M178.5 77.9h0M178.5 85.4h0M178.6 73.5h0M178.7 79.0h0M178.8 78.9h0M178.9 76.8h0M179.0 68.3h0M179.1 73.6h0M179.2 87.8h0M179.3 77.3h0M179.4 71.3h0M179.6 64.7h0M179.7 68.3h0M179.8 85.8h0M179.9 72.9h0M180.1 60.7h0M180.2 76.7h0M180.3 67.3h0M180.4 82.8h0M180.4 90.4h0M180.5 70.7h0M180.6 73.7h0M180.7 71.1h0M180.8 76.4h0M180.9 73.0h0M181.0 81.3h0M181.1 71.6h0M181.2 68.0h0M181.3 76.9h0M181.4 68.3h0M181.6 84.1h0M181.7 62.1h0M181.9 73.9h0M182.0 77.4h0M182.1 88.9h0M182.2 72.8h0M182.2 68.8h0M182.3 91.1h0M182.4 70.9h0M182.5 71.6h0M182.6 72.1h0M182.7 87.6h0M182.8 71.2h0M183.0 91.3h0M183.2 75.3h0M183.3 88.1h0M183.5 65.2h0M183.6 83.1h0M183.8 86.6h0M183.9 73.6h0M184.2 66.9h0M184.4 77.4h0M184.5 77.0h0M184.6 87.4h0M184.7 73.6h0M184.8 87.5h0M184.9 86.4h0M185.0 81.3h0M185.1 89.0h0M185.3 90.1h0M185.4 84.4h0M185.5 80.1h0M185.6 76.9h0M185.7 75.8h0M185.8 83.0h0M185.9 102.0h0M185.9 108.6h0M186.0 104.3h0M186.1 96.2h0M186.2 97.4h0M186.3 110.1h0M186.4 75.3h0M186.6 94.6h0M186.7 101.9h0M186.9 101.1h0M187.0 110.4h0M187.2 108.4h0M187.3 107.3h0M187.4 111.7h0M187.6 108.3h0M187.7 98.4h0M187.8 110.4h0M187.8 104.6h0M188.0 107.3h0M188.1 106.3h0M188.4 100.1h0M188.5 114.4h0M188.6 99.2h0M188.7 109.9h0M188.9 97.6h0M189.0 109.0h0M189.2 106.0h0M189.4 108.9h0M189.5 97.3h0M189.6 110.4h0M189.7 109.7h0M189.7 94.9h0M189.9 96.1h0M190.0 92.9h0M190.1 99.8h0M190.2 96.0h0M190.3 94.8h0M190.5 100.4h0M190.6 104.4h0M190.8 103.5h0M191.1 105.0h0M191.2 108.0h0M191.3 112.8h0M191.4 105.6h0M191.5 102.4h0M191.7 101.8h0M192.0 102.3h0M192.1 103.7h0M192.4 101.0h0M192.6 111.9h0M192.8 114.7h0M192.9 104.9h0M193.1 104.5h0M193.2 105.6h0M193.3 97.8h0M193.4 109.4h0M193.4 104.3h0M193.5 114.1h0M193.6 110.9h0M193.9 104.0h0M194.1 103.6h0M194.2 101.2h0M194.3 117.1h0M194.5 114.6h0M194.7 96.1h0M194.8 104.3h0M194.9 116.9h0M195.0 93.5h0M195.1 105.4h0M195.2 103.5h0M195.3 100.3h0M195.3 105.9h0M195.4 110.1h0M195.5 100.2h0M195.6 110.5h0M195.7 104.9h0M195.8 113.6h0M196.0 113.7h0M196.1 111.6h0M196.2 105.6h0M196.5 104.3h0M196.8 118.1h0M196.9 111.8h0M197.1 104.0h0M197.2 104.9h0M197.3 107.2h0M197.4 115.3h0M197.6 107.8h0M197.7 116.1h0M197.9 98.7h0M198.0 110.3h0M198.1 91.9h0M198.3 104.1h0M198.4 98.4h0M198.5 103.2h0M198.6 118.1h0M198.7 117.9h0M198.8 104.1h0M198.9 117.9h0M199.0 115.0h0M199.0 94.8h0M199.1 110.4h0M199.3 105.5h0M199.4 98.4h0M199.5 104.6h0M199.7 98.7h0M199.8 95.1h0M199.9 96.0h0M200.0 109.7h0M200.1 102.0h0M200.2 97.1h0M200.3 87.6h0M200.4 109.7h0M200.7 97.1h0M200.9 96.4h0M200.9 116.8h0M201.0 93.0h0M201.1 102.6h0M201.2 101.6h0M201.3 104.7h0M201.4 90.5h0M201.5 100.0h0M201.6 114.8h0M201.7 100.8h0M201.8 98.0h0M201.9 115.2h0M202.0 111.7h0M202.1 111.2h0M202.2 113.8h0M202.3 102.6h0M202.4 94.7h0M202.6 92.7h0M202.7 94.7h0M202.7 93.3h0M202.8 91.1h0M202.9 111.3h0M203.0 98.7h0M203.1 103.1h0M203.2 108.4h0M203.6 112.3h0M203.7 112.9h0M203.8 110.1h0M204.0 100.9h0M204.1 107.3h0M204.2 105.8h0M204.3 103.1h0M204.4 98.6h0M204.5 114.1h0M204.6 108.4h0M204.9 89.1h0M205.1 101.7h0M205.2 89.9h0M205.3 112.7h0M205.4 88.1h0M205.6 96.2h0M205.8 100.0h0M205.9 116.0h0M206.0 101.2h0M206.1 112.6h0M206.5 113.8h0M206.5 107.8h0M206.7 105.9h0M206.8 110.3h0M206.9 112.3h0M207.0 121.8h0M207.1 124.2h0M207.2 116.3h0M207.3 104.1h0M207.7 101.9h0M207.8 108.6h0M207.9 123.2h0M208.0 107.6h0M208.2 111.2h0M208.3 103.8h0M208.5 112.2h0M208.6 124.0h0M208.7 113.4h0M208.8 112.4h0M209.1 116.5h0M209.2 112.0h0M209.3 109.5h0M209.4 111.9h0M209.5 122.5h0M209.6 106.8h0M209.7 103.7h0M209.8 119.3h0M209.9 122.3h0M210.0 109.5h0M210.2 97.5h0M210.2 120.3h0M210.3 111.6h0M210.5 113.8h0M210.6 115.4h0M210.7 121.1h0M211.0 105.8h0M211.1 105.7h0M211.3 110.2h0M211.4 102.5h0M211.5 108.8h0M211.7 103.3h0M211.8 105.6h0M212.0 112.4h0M212.1 111.0h0M212.3 111.2h0M212.5 114.7h0M212.6 113.4h0M212.8 101.3h0M212.9 120.0h0M213.0 112.8h0M213.1 123.6h0M213.3 115.5h0M213.5 121.5h0M213.6 114.2h0M213.7 110.6h0M213.8 109.9h0M213.9 112.3h0M214.0 105.6h0M214.3 118.2h0M214.4 118.8h0M214.5 113.2h0M214.6 118.3h0M214.7 121.3h0M214.9 110.8h0M215.0 115.4h0M215.1 114.4h0M215.2 114.1h0M215.4 106.0h0M215.5 98.4h0M215.7 108.0h0M215.8 99.4h0M215.9 111.7h0M216.1 105.2h0M216.2 119.3h0M216.5 99.9h0M216.7 104.0h0M217.1 113.7h0M217.4 107.7h0M217.5 102.5h0M217.6 112.0h0M217.7 113.9h0M217.7 111.1h0M218.0 101.6h0M218.1 102.6h0M218.2 118.1h0M218.3 113.7h0M218.5 110.1h0M218.7 108.7h0M218.8 113.3h0M218.9 119.9h0M219.1 131.8h0M219.2 121.1h0M219.3 113.3h0M219.4 117.2h0M219.5 113.4h0M219.5 105.5h0M219.6 109.2h0M219.8 111.2h0M219.9 106.8h0M220.0 112.6h0M220.1 115.3h0M220.2 109.6h0M220.5 100.9h0M220.6 131.1h0M220.7 106.2h0M220.8 116.1h0M220.9 103.4h0M221.0 116.2h0M221.1 128.0h0M221.2 104.3h0M221.3 115.0h0M221.4 116.0h0M221.4 116.6h0M221.5 105.9h0M221.6 108.3h0M221.7 115.4h0M221.9 123.3h0M222.0 117.4h0M222.2 120.7h0M222.3 114.7h0M222.4 120.5h0M222.5 105.5h0M222.6 121.1h0M222.7 120.3h0M222.8 118.3h0M223.0 109.2h0M223.1 115.7h0M223.2 124.3h0M223.3 134.6h0M223.4 119.0h0M223.5 105.1h0M223.7 129.6h0M223.8 134.8h0M223.9 117.5h0M224.2 128.2h0M224.3 131.3h0M224.4 126.6h0M224.5 116.2h0M224.6 119.8h0M224.7 126.5h0M224.8 131.2h0M224.9 129.7h0M225.0 117.0h0M225.1 113.3h0M225.1 114.1h0M225.2 116.6h0M225.4 136.8h0M225.5 128.8h0M225.6 122.7h0M225.9 108.6h0M226.0 121.8h0M226.2 132.9h0M226.3 123.7h0M226.4 129.8h0M226.5 134.8h0M226.6 119.9h0M226.7 131.3h0M227.0 133.7h0M227.1 127.6h0M227.2 139.1h0M227.3 111.5h0M227.4 139.4h0M227.6 116.1h0M227.7 137.8h0M227.9 125.3h0M228.0 113.0h0M228.1 129.3h0M228.2 141.2h0M228.3 125.8h0M228.6 120.8h0M228.7 127.3h0M228.8 128.9h0M228.9 131.4h0M229.0 115.4h0M229.1 120.7h0M229.2 139.6h0M229.3 109.5h0M229.4 143.3h0M229.5 120.2h0M229.6 125.9h0M229.7 113.7h0M229.8 123.5h0M230.1 114.7h0M230.3 127.2h0M230.4 115.2h0M230.5 122.5h0M230.7 134.4h0M230.7 111.9h0M230.8 120.4h0M230.9 123.6h0M231.0 132.2h0M231.1 120.0h0M231.2 142.6h0M231.4 116.4h0M231.6 107.5h0M231.7 127.5h0M231.8 121.2h0M231.9 123.1h0M232.0 118.8h0M232.1 126.9h0M232.2 127.8h0M232.3 124.8h0M232.4 110.7h0M232.5 109.5h0M232.6 107.7h0M232.6 118.3h0M232.7 124.8h0M232.9 114.5h0M233.0 112.0h0M233.1 126.5h0M233.2 112.0h0M233.3 106.2h0M233.4 120.1h0M233.5 108.6h0M233.6 117.2h0M233.9 126.0h0M234.0 125.1h0M234.1 113.8h0M234.2 130.1h0M234.3 124.9h0M234.4 130.9h0M234.5 119.8h0M234.5 118.5h0M234.6 107.7h0M234.7 109.8h0M234.8 117.2h0M234.9 116.2h0M235.0 117.7h0M235.1 117.7h0M235.4 120.9h0M235.5 115.1h0M235.6 105.4h0M235.7 131.6h0M235.8 114.5h0M235.9 108.4h0M236.0 123.8h0M236.2 122.7h0M236.3 132.6h0M236.3 110.6h0M236.4 128.3h0M236.6 116.5h0M236.7 127.6h0M236.8 124.0h0M236.9 130.9h0M237.0 113.4h0M237.2 120.4h0M237.3 106.9h0M237.4 128.9h0M237.5 114.1h0M237.8 103.0h0M237.9 103.6h0M238.2 128.9h0M238.2 105.8h0M238.3 122.3h0M238.4 119.2h0M238.5 108.8h0M238.6 115.7h0M238.7 114.4h0M238.8 120.8h0M238.9 103.7h0M239.0 126.1h0M239.2 120.8h0M239.3 126.2h0M239.4 109.1h0M239.5 111.3h0M239.7 113.9h0M239.8 132.5h0M239.9 126.3h0M240.0 107.1h0M240.0 126.6h0M240.1 112.1h0M240.2 120.8h0M240.4 117.3h0M240.5 130.0h0M240.7 129.1h0M240.8 126.7h0M240.9 114.4h0M241.0 115.9h0M241.1 104.4h0M241.2 113.8h0M241.3 114.3h0M241.5 111.8h0M241.6 117.2h0M241.7 112.1h0M241.8 106.3h0M241.9 106.2h0M241.9 121.9h0M242.1 124.9h0M242.2 112.0h0M242.5 117.0h0M242.6 109.8h0M242.7 121.8h0M242.8 128.3h0M243.1 118.0h0M243.4 128.1h0M243.7 125.7h0M243.8 117.7h0M243.8 127.5h0M243.9 113.6h0M244.0 130.0h0M244.1 114.5h0M244.3 111.9h0M244.4 117.6h0M244.6 125.2h0M244.8 118.3h0M244.9 112.2h0M245.0 114.5h0M245.1 113.4h0M245.2 115.6h0M245.3 124.3h0M245.4 121.8h0M245.5 109.9h0M245.6 116.4h0M245.6 129.0h0M245.7 123.6h0M245.8 123.5h0M245.9 116.0h0M246.0 113.3h0M246.1 114.4h0M246.2 123.3h0M246.3 115.4h0M246.4 131.9h0M246.7 116.5h0M246.9 127.1h0M247.0 130.3h0M247.1 108.6h0M247.2 130.4h0M247.3 112.9h0M247.5 122.1h0M247.5 131.0h0M247.6 135.1h0M247.7 111.0h0M247.8 112.0h0M247.9 107.4h0M248.1 113.5h0M248.2 113.4h0M248.3 118.3h0M248.4 115.6h0M248.5 121.1h0M248.6 127.6h0M248.9 114.2h0M249.0 112.0h0M249.2 128.8h0M249.3 119.7h0M249.4 122.9h0M249.4 130.3h0M249.5 118.2h0M249.6 122.5h0M249.7 124.3h0M249.8 109.7h0M249.9 130.4h0M250.0 112.7h0M250.1 125.6h0M250.2 113.0h0M250.3 117.3h0M250.4 128.8h0M250.5 129.8h0M250.6 127.4h0M250.7 128.4h0M250.8 116.3h0M250.9 109.6h0M251.1 134.9h0M251.2 117.6h0M251.4 136.2h0M251.6 129.2h0M251.7 126.9h0M251.8 137.5h0M251.9 140.3h0M252.0 113.0h0M252.1 128.9h0M252.2 139.3h0M252.4 117.6h0M252.5 123.5h0M252.6 111.8h0M252.7 128.9h0M252.9 138.2h0M253.0 135.6h0M253.1 121.8h0M253.1 129.3h0M253.3 139.4h0M253.4 129.2h0M253.6 117.9h0M253.7 114.1h0M253.8 109.0h0M253.9 116.9h0M254.1 126.7h0M254.2 119.1h0M254.3 111.1h0M254.4 125.1h0M254.5 124.9h0M254.6 127.0h0M254.7 129.2h0M254.8 135.0h0M254.9 128.3h0M255.0 140.1h0M255.0 117.4h0M255.1 140.8h0M255.4 109.2h0M255.5 124.8h0M255.6 129.3h0M255.7 108.0h0M255.8 120.4h0M255.9 116.0h0M256.0 131.2h0M256.1 110.2h0M256.2 132.3h0M256.3 121.7h0M256.5 130.8h0M256.6 117.2h0M256.7 128.6h0M256.8 128.6h0M256.8 114.1h0M256.9 124.3h0M257.2 117.0h0M257.3 137.0h0M257.5 139.2h0M257.6 113.6h0M257.7 136.7h0M257.8 131.7h0M257.9 117.1h0M258.0 128.2h0M258.2 118.7h0M258.3 134.6h0M258.4 120.8h0M258.5 111.5h0M258.6 120.5h0M258.8 116.6h0M258.9 123.6h0M259.0 135.0h0M259.1 107.9h0M259.5 131.8h0M259.8 124.9h0M259.9 140.0h0M260.0 123.2h0M260.1 120.4h0M260.2 117.9h0M260.3 111.8h0M260.4 134.9h0M260.5 118.5h0M260.6 115.6h0M260.8 127.6h0M260.9 135.4h0M261.0 135.6h0M261.1 115.5h0M261.2 114.9h0M261.3 134.1h0M261.4 140.2h0M261.5 109.7h0M261.6 133.1h0M261.7 122.5h0M261.8 133.9h0M262.0 122.9h0M262.1 126.6h0M262.2 107.4h0M262.4 126.6h0M262.4 112.3h0M262.5 112.0h0M262.6 130.5h0M262.7 134.6h0M262.9 128.7h0M263.0 124.7h0M263.1 127.8h0M263.2 125.9h0M263.3 131.5h0M263.4 115.5h0M263.6 109.5h0M263.7 128.8h0M263.9 123.8h0M264.1 131.9h0M264.2 109.8h0M264.3 119.9h0M264.4 136.9h0M264.5 115.2h0M264.8 132.6h0M264.9 106.4h0M265.0 115.4h0M265.3 113.3h0M265.4 123.7h0M265.5 129.8h0M265.6 117.7h0M265.8 128.7h0M266.0 111.8h0M266.1 128.8h0M266.2 132.7h0M266.2 136.3h0M266.3 117.3h0M266.4 129.5h0M266.5 112.3h0M266.6 122.6h0M266.8 106.1h0M266.9 123.1h0M267.0 126.0h0M267.3 130.4h0M267.4 108.6h0M267.7 131.0h0M267.8 128.2h0M267.9 111.7h0M268.0 109.8h0M268.0 123.1h0M268.1 113.9h0M268.3 117.8h0M268.4 103.4h0M268.7 117.0h0M268.8 108.6h0M268.9 100.8h0M269.1 108.1h0M269.2 122.7h0M269.3 109.6h0M269.4 102.4h0M269.5 122.2h0M269.6 122.7h0M269.7 107.7h0M269.8 109.4h0M269.9 102.3h0M269.9 112.7h0M270.0 121.3h0M270.1 118.8h0M270.2 125.8h0M270.3 124.8h0M270.4 120.2h0M270.5 119.3h0M270.6 120.7h0M270.7 128.0h0M270.8 114.1h0M270.9 120.5h0M271.1 110.4h0M271.3 117.9h0M271.4 103.8h0M271.5 112.6h0M271.6 119.0h0M271.9 104.9h0M272.1 99.6h0M272.2 104.1h0M272.3 111.7h0M272.4 126.0h0M272.5 104.8h0M272.6 112.3h0M272.7 105.2h0M272.8 113.2h0M272.9 121.3h0M273.0 125.0h0M273.1 104.8h0M273.4 116.4h0M273.5 107.6h0M273.6 122.8h0M273.7 117.0h0M273.8 126.1h0M273.9 99.0h0M274.0 109.8h0M274.1 118.3h0M274.3 115.0h0M274.4 101.1h0M274.5 116.3h0M274.6 117.8h0M274.7 105.2h0M275.0 127.3h0M275.1 112.1h0M275.2 105.6h0M275.3 124.9h0M275.4 122.4h0M275.5 109.7h0M275.5 113.8h0M275.6 115.4h0M275.7 110.1h0M275.8 109.9h0M275.9 123.4h0M276.0 120.4h0M276.1 107.2h0M276.2 115.6h0M276.3 96.5h0M276.4 122.4h0M276.5 99.5h0M276.6 103.5h0M276.7 112.7h0M276.8 106.6h0M276.9 102.6h0M277.1 124.7h0M277.2 105.2h0M277.3 113.9h0M277.4 114.7h0M277.4 98.7h0M277.5 102.6h0M277.6 124.1h0M277.7 115.5h0M277.9 109.5h0M278.1 101.9h0M278.2 113.0h0M278.4 110.1h0M278.5 108.1h0M278.7 111.6h0M278.8 116.2h0M279.0 117.9h0M279.1 118.3h0M279.2 99.5h0M279.3 109.0h0M279.4 106.7h0M279.5 110.4h0M279.6 114.0h0M279.7 121.7h0M279.8 121.7h0M280.0 107.5h0M280.1 111.2h0M280.5 121.8h0M280.6 118.6h0M280.7 125.0h0M280.9 127.5h0M281.0 104.0h0M281.1 114.9h0M281.2 104.7h0M281.4 117.9h0M281.7 111.5h0M281.8 113.5h0M281.9 122.7h0M282.1 102.6h0M282.2 109.6h0M282.3 120.0h0M282.4 119.9h0M282.6 116.2h0M282.8 122.4h0M282.9 109.2h0M283.0 120.6h0M283.0 104.8h0M283.1 109.1h0M283.2 117.1h0M283.4 120.5h0M283.6 117.4h0M283.7 107.2h0M283.8 120.3h0M284.0 109.7h0M284.1 111.0h0M284.2 121.6h0M284.3 119.3h0M284.4 111.5h0M284.5 122.0h0M284.6 111.0h0M284.7 117.5h0M284.8 116.9h0M284.9 122.3h0M285.0 125.1h0M285.1 110.9h0M285.2 121.8h0M285.3 110.1h0M285.4 104.1h0M285.5 115.7h0M285.6 136.0h0M285.7 126.8h0M285.8 107.9h0M285.9 122.1h0M286.0 129.0h0M286.1 121.0h0M286.2 114.5h0M286.3 117.8h0M286.4 113.6h0M286.5 131.4h0M286.6 125.3h0M286.7 125.5h0M286.7 123.2h0M286.9 126.6h0M287.1 108.4h0M287.2 106.8h0M287.3 105.8h0M287.4 116.5h0M287.5 132.1h0M287.6 115.6h0M287.7 129.6h0M287.8 120.5h0M287.9 138.8h0M288.0 135.5h0M288.1 123.5h0M288.2 108.6h0M288.3 130.2h0M288.6 131.9h0M288.8 134.1h0M288.9 139.2h0M289.0 134.1h0M289.1 122.4h0M289.2 123.2h0M289.4 131.2h0M289.5 134.2h0M289.6 132.8h0M289.7 132.7h0M289.8 127.4h0M289.9 134.1h0M290.0 128.2h0M290.2 124.7h0M290.4 131.8h0M290.5 118.1h0M290.6 137.8h0M290.8 136.4h0M290.9 126.7h0M291.0 129.3h0M291.1 119.2h0M291.2 126.5h0M291.3 132.3h0M291.6 146.8h0M291.8 131.5h0M291.9 125.6h0M292.0 145.7h0M292.1 140.7h0M292.2 128.0h0M292.4 136.1h0M292.5 130.4h0M292.6 139.0h0M292.8 133.1h0M293.0 125.6h0M293.2 134.4h0M293.3 130.1h0M293.4 125.6h0M293.5 139.4h0M293.6 123.4h0M293.9 128.4h0M294.1 140.4h0M294.1 122.2h0M294.2 129.8h0M294.3 144.6h0M294.4 133.9h0M294.5 139.2h0M294.6 139.4h0M294.7 131.8h0M294.8 120.3h0M294.9 136.6h0M295.0 131.3h0M295.2 131.5h0M295.4 123.1h0M295.5 127.1h0M295.6 138.8h0M295.7 144.1h0M295.8 133.7h0M295.9 148.3h0M296.1 121.4h0M296.2 143.2h0M296.6 126.7h0M296.7 145.5h0M296.8 129.5h0M296.9 143.7h0M297.0 130.8h0M297.1 132.9h0M297.2 136.3h0M297.3 124.8h0M297.5 137.5h0M297.6 120.0h0M297.7 129.3h0M297.8 130.5h0M298.1 137.6h0M298.3 133.0h0M298.4 131.8h0M298.6 124.8h0M298.9 133.6h0M299.2 125.9h0M299.3 125.4h0M299.4 121.8h0M299.6 137.0h0M299.7 123.3h0M299.7 120.7h0M299.8 137.8h0M299.9 130.7h0M300.0 130.3h0M300.1 128.4h0M300.2 118.2h0M300.3 125.0h0M300.4 124.2h0M300.7 138.2h0M300.8 121.8h0M301.1 122.0h0M301.2 132.8h0M301.4 134.3h0M301.6 116.8h0M301.6 132.3h0M301.7 134.3h0M301.8 132.0h0M301.9 123.2h0M302.4 123.4h0M302.5 125.9h0M302.6 111.7h0M302.7 127.2h0M303.0 135.3h0M303.1 123.0h0M303.2 138.4h0M303.3 135.2h0M303.4 128.1h0M303.5 112.1h0M303.5 112.2h0M303.6 129.3h0M303.7 116.3h0M303.9 126.6h0M304.1 120.9h0M304.2 120.4h0M304.3 114.8h0M304.4 129.5h0M304.5 123.7h0M304.6 119.6h0M304.7 121.1h0M304.8 131.6h0M305.0 127.6h0M305.3 119.7h0M305.3 129.2h0M305.6 124.7h0M305.7 136.7h0M305.8 120.6h0M306.0 116.1h0M306.1 136.7h0M306.2 127.6h0M306.5 124.2h0M306.6 125.6h0M306.8 125.5h0M307.0 130.1h0M307.1 131.6h0M307.2 110.2h0M307.3 114.7h0M307.5 114.5h0M307.7 114.4h0M307.8 129.3h0M307.9 119.4h0M308.0 118.8h0M308.1 127.8h0M308.2 128.9h0M308.4 129.9h0M308.5 125.2h0M308.6 137.7h0M308.7 122.5h0M308.8 139.7h0M308.9 121.1h0M309.0 123.0h0M309.1 134.2h0M309.1 111.9h0M309.4 138.1h0M309.5 126.2h0M309.6 119.3h0M309.7 122.6h0M309.8 129.0h0M309.9 122.0h0M310.1 115.5h0M310.3 129.8h0M310.4 126.8h0M310.5 114.9h0M310.7 134.4h0M310.8 121.9h0M310.9 126.4h0M310.9 130.8h0M311.0 117.1h0M311.2 138.6h0M311.3 134.1h0M311.4 107.7h0M311.5 118.1h0M311.6 115.6h0M311.7 127.7h0M311.9 126.3h0M312.0 116.4h0M312.1 127.7h0M312.2 134.9h0M312.3 121.8h0M312.4 111.1h0M312.5 133.9h0M312.6 109.3h0M312.7 113.5h0M312.8 131.9h0M312.8 121.6h0M313.0 122.2h0M313.1 114.2h0M313.3 137.1h0M313.4 137.6h0M313.5 109.5h0M313.6 120.4h0M313.7 116.9h0M313.8 117.9h0M314.0 136.2h0M314.1 109.2h0M314.3 131.8h0M314.4 113.6h0M314.7 138.7h0M314.7 117.7h0M314.8 125.8h0M314.9 126.0h0M315.0 122.1h0M315.1 135.1h0M315.2 134.1h0M315.3 115.0h0M315.4 112.9h0M315.5 129.6h0M315.6 140.1h0M315.8 110.1h0M315.9 118.9h0M316.0 135.3h0M316.1 130.1h0M316.2 120.4h0M316.3 134.7h0M316.5 121.8h0M316.5 118.9h0M316.6 135.7h0M316.7 134.3h0M316.8 133.0h0M316.9 120.5h0M317.0 126.9h0M317.1 127.3h0M317.2 120.2h0M317.3 121.3h0M317.6 126.5h0M317.7 136.1h0M317.8 124.4h0M318.0 130.9h0M318.1 123.8h0M318.2 128.7h0M318.3 119.8h0M318.4 121.6h0M318.4 134.2h0M318.5 127.4h0M318.6 113.7h0M318.7 112.0h0M318.8 114.0h0M318.9 114.8h0M319.0 128.9h0M319.1 129.3h0M319.2 114.2h0M319.3 138.9h0M319.5 125.9h0M319.7 129.8h0M319.8 133.7h0M320.0 139.7h0M320.1 118.8h0M320.2 134.3h0M320.3 130.0h0M320.3 128.8h0M320.4 134.5h0M320.5 127.0h0M320.6 131.7h0M320.7 123.7h0M320.9 131.7h0M321.0 130.0h0M321.2 129.9h0M321.3 133.2h0M321.4 124.7h0M321.6 128.1h0M321.7 128.2h0M321.8 131.2h0M322.1 120.3h0M322.1 118.6h0M322.2 135.2h0M322.3 128.7h0M322.7 125.6h0M322.8 137.1h0M322.9 136.2h0M323.0 121.0h0M323.1 123.5h0M323.3 126.1h0M323.4 112.3h0M323.5 134.8h0M323.6 124.4h0M324.0 117.6h0M324.0 140.4h0M324.1 142.1h0M324.2 131.1h0M324.4 134.6h0M324.5 142.3h0M324.6 122.1h0M324.7 124.9h0M325.1 131.3h0M325.2 123.3h0M325.3 123.5h0M325.6 137.4h0M325.7 129.4h0M325.8 118.0h0M325.9 122.3h0M325.9 132.8h0M326.0 139.9h0M326.1 117.6h0M326.2 116.9h0M326.4 130.1h0M326.6 142.2h0M326.7 134.5h0M326.8 136.1h0M326.9 133.6h0M327.0 138.4h0M327.1 134.6h0M327.2 128.9h0M327.3 133.5h0M327.4 120.6h0M327.5 129.3h0M327.6 128.4h0M327.7 124.7h0M327.8 126.6h0M327.9 128.7h0M328.0 127.7h0M328.1 121.8h0M328.2 137.9h0M328.3 145.3h0M328.5 115.1h0M328.6 134.4h0M328.8 133.8h0M329.0 126.9h0M329.1 119.1h0M329.2 130.9h0M329.3 132.4h0M329.5 136.7h0M329.6 116.4h0M329.6 118.3h0M329.7 144.5h0M329.8 125.7h0M329.9 135.5h0M330.0 140.1h0M330.3 124.2h0M330.4 133.7h0M330.5 126.0h0M330.6 141.6h0M330.8 133.0h0M330.9 132.4h0M331.2 124.1h0M331.3 127.5h0M331.4 140.1h0M331.5 130.4h0M331.5 121.4h0M331.7 139.6h0M331.8 122.0h0M332.0 128.4h0M332.5 129.3h0M332.7 120.0h0M332.8 116.8h0M332.9 115.0h0M333.0 115.1h0M333.1 129.4h0M333.2 137.8h0M333.3 134.5h0M333.3 129.5h0M333.5 124.3h0M333.6 134.7h0M333.7 128.5h0M333.8 118.8h0M333.9 125.2h0M334.4 142.5h0M334.5 135.7h0M334.6 144.3h0M334.7 142.6h0M334.8 122.6h0M334.9 140.6h0M335.0 141.2h0M335.1 132.1h0M335.2 119.6h0M335.2 133.1h0M335.3 133.1h0M335.4 118.2h0M335.5 123.4h0M335.6 123.6h0M335.7 117.8h0M335.8 140.8h0M335.9 126.4h0M336.0 136.3h0M336.1 116.8h0M336.2 119.3h0M336.3 141.1h0M336.4 113.2h0M336.5 142.6h0M336.6 115.1h0M336.7 126.4h0M336.8 139.1h0M336.9 142.0h0M337.0 132.4h0M337.1 129.1h0M337.1 137.2h0M337.2 122.2h0M337.3 145.3h0M337.4 128.9h0M337.5 128.8h0M337.7 125.2h0M337.8 143.6h0M338.0 136.0h0M338.1 131.5h0M338.3 118.1h0M338.4 134.5h0M338.7 115.9h0M338.8 113.1h0M338.9 124.6h0M338.9 135.3h0M339.0 121.1h0M339.2 117.3h0M339.3 125.9h0M339.4 131.6h0M339.6 120.7h0M339.7 124.5h0M339.8 144.0h0M340.0 127.5h0M340.1 120.1h0M340.2 129.9h0M340.3 119.4h0M340.4 119.7h0M340.7 132.2h0M340.8 122.9h0M340.8 117.8h0M340.9 112.0h0M341.1 129.4h0M341.2 120.1h0M341.3 114.2h0M341.5 139.7h0M341.6 133.1h0M341.7 141.1h0M341.8 119.1h0M341.9 144.4h0M342.0 114.8h0M342.1 117.8h0M342.2 123.1h0M342.4 136.9h0M342.5 120.1h0M342.6 145.7h0M342.6 131.8h0M342.7 130.3h0M342.8 118.5h0M342.9 125.7h0M343.1 125.9h0M343.2 134.4h0M343.3 129.1h0M343.4 130.8h0M343.5 120.7h0M343.6 131.4h0M343.7 117.1h0M344.0 115.2h0M344.2 131.5h0M344.3 116.2h0M344.4 128.5h0M344.5 119.4h0M344.6 136.2h0M344.7 128.7h0M344.9 131.7h0M345.0 127.3h0M345.1 148.9h0M345.2 131.8h0M345.3 132.8h0M345.4 139.1h0M345.5 132.2h0M345.6 148.1h0M345.7 113.4h0M346.0 140.3h0M346.1 143.8h0M346.2 126.7h0M346.3 149.8h0M346.4 127.5h0M346.5 138.5h0M346.6 134.2h0M346.7 127.2h0M346.8 129.7h0M347.0 122.9h0M347.1 145.6h0M347.2 118.8h0M347.3 146.3h0M347.4 129.4h0M347.5 145.2h0M347.6 140.3h0M347.8 115.0h0M347.9 137.2h0M348.0 138.3h0M348.1 137.3h0M348.2 134.4h0M348.3 144.7h0M348.4 145.4h0M348.5 124.0h0M348.6 149.7h0M348.7 135.2h0M348.8 117.6h0M348.9 130.9h0M349.0 136.7h0M349.1 139.4h0M349.2 141.9h0M349.3 144.1h0M349.4 129.5h0M349.5 116.5h0M349.6 119.8h0M349.7 137.9h0M349.8 139.9h0M349.9 123.1h0M350.1 136.6h0M350.2 135.3h0M350.3 144.6h0M350.4 147.8h0M350.5 127.4h0M350.7 143.7h0M350.8 139.3h0M350.9 130.7h0M351.0 148.0h0M351.1 118.9h0M351.2 135.5h0M351.3 134.9h0M351.4 136.2h0M351.5 139.9h0M351.6 143.6h0M351.7 118.5h0M351.8 129.7h0M351.9 133.4h0M352.0 120.4h0M352.0 140.6h0M352.1 124.8h0M352.2 132.0h0M352.3 142.8h0M352.4 123.4h0M352.6 124.7h0M352.7 142.9h0M352.8 127.6h0M353.0 125.8h0M353.1 139.7h0M353.2 133.0h0M353.3 137.0h0M353.4 146.5h0M353.5 145.8h0M353.6 132.3h0M353.7 126.5h0M353.8 133.7h0M353.9 127.0h0M354.0 131.7h0M354.1 144.8h0M354.3 120.9h0M354.4 147.4h0M354.5 125.5h0M354.8 130.2h0M354.9 129.6h0M355.0 130.7h0M355.1 142.4h0M355.2 137.1h0M355.3 149.8h0M355.4 131.8h0M355.5 127.0h0M355.6 141.2h0M355.7 144.2h0M355.7 138.9h0M355.8 133.4h0M355.9 132.6h0M356.1 134.5h0M356.2 132.5h0M356.3 148.7h0M356.6 126.0h0M356.8 149.9h0M356.9 141.1h0M357.0 129.7h0M357.1 122.0h0M357.2 125.6h0M357.3 118.2h0M357.4 133.8h0M357.5 128.3h0M357.6 128.3h0M357.6 138.2h0M357.7 119.0h0M357.8 125.8h0M357.9 121.6h0M358.0 137.7h0M358.1 121.0h0M358.2 145.5h0M358.3 128.5h0M358.5 144.9h0M358.6 124.4h0M358.7 138.3h0M358.9 131.0h0M359.2 126.0h0M359.3 133.3h0M359.4 128.1h0M359.4 129.1h0M359.6 130.4h0M359.8 135.9h0M360.0 126.2h0M360.1 137.8h0M360.2 125.7h0M360.3 131.5h0M360.6 143.3h0M360.8 125.0h0M360.9 135.4h0M361.0 128.7h0M361.2 136.4h0M361.3 129.9h0M361.3 139.2h0M361.4 140.0h0M361.5 144.2h0M361.6 149.7h0M361.9 133.9h0M362.1 119.5h0M362.2 131.2h0M362.4 124.7h0M362.5 124.2h0M362.6 146.6h0M362.8 143.9h0M362.9 137.8h0M363.1 131.5h0M363.2 136.5h0M363.3 125.3h0M363.5 131.8h0M363.6 127.5h0M363.7 142.4h0M363.8 143.1h0M363.9 128.4h0M364.1 142.2h0M364.2 124.8h0M364.3 139.5h0M364.4 142.7h0M364.5 145.3h0M364.6 130.6h0M364.7 136.5h0M364.8 130.5h0M364.9 134.4h0M365.0 137.3h0M365.2 130.8h0M365.3 132.1h0M365.4 130.3h0M365.7 132.5h0M365.8 132.6h0M366.0 126.5h0M366.1 132.8h0M366.3 136.9h0M366.4 146.5h0M366.5 130.5h0M366.6 142.7h0M366.7 127.1h0M366.8 144.6h0M366.9 133.5h0M366.9 134.6h0M367.0 132.3h0M367.1 137.9h0M367.3 141.3h0M367.4 132.6h0M367.6 138.6h0M367.7 130.0h0M367.8 135.0h0M368.0 132.5h0M368.2 128.2h0M368.3 124.8h0M368.4 140.9h0M368.5 137.2h0M368.7 122.3h0M368.8 119.4h0M368.8 125.1h0M368.9 126.7h0M369.0 127.0h0M369.1 131.9h0M369.2 128.4h0M369.3 131.4h0M369.4 127.8h0M369.5 142.5h0M369.6 138.8h0M369.7 124.9h0M369.8 135.4h0M370.1 130.0h0M370.4 123.1h0M370.5 123.6h0M370.6 139.1h0M370.6 144.4h0M370.7 133.8h0M370.8 131.1h0M370.9 140.2h0M371.0 129.5h0M371.2 123.3h0M371.3 124.3h0M371.4 143.2h0M371.7 122.0h0M371.8 138.7h0M371.9 126.0h0M372.2 127.8h0M372.3 118.3h0M372.5 130.5h0M372.5 127.9h0M372.6 121.2h0M372.7 131.4h0M372.8 136.7h0M372.9 139.5h0M373.0 130.8h0M373.1 138.0h0M373.2 121.7h0M373.3 134.7h0M373.5 116.9h0M373.7 118.3h0M373.8 135.3h0M374.0 124.8h0M374.1 140.9h0M374.2 122.9h0M374.3 137.0h0M374.4 126.8h0M374.6 126.1h0M374.7 132.2h0M374.8 126.1h0M375.0 141.9h0M375.1 124.1h0M375.2 144.3h0M375.3 123.3h0M375.4 125.0h0M375.5 122.2h0M375.6 136.7h0M375.8 132.9h0M375.9 128.5h0M376.0 138.8h0M376.2 135.5h0M376.2 118.8h0M376.3 140.9h0M376.4 126.5h0M376.5 134.3h0M376.6 119.4h0M376.7 133.3h0M376.8 139.8h0M377.2 124.8h0M377.3 143.5h0M377.4 140.8h0M377.5 121.1h0M377.7 121.2h0M377.8 134.4h0M377.9 140.2h0M378.0 127.0h0M378.1 122.5h0M378.1 136.3h0M378.2 131.7h0M378.3 120.5h0M378.4 121.0h0M378.5 130.2h0M378.7 138.3h0M378.9 140.3h0M379.0 136.3h0M379.1 121.7h0M379.2 122.9h0M379.3 126.0h0M379.5 132.8h0M379.6 118.5h0M379.7 133.8h0M380.0 126.2h0M380.0 124.4h0M380.1 128.8h0M380.3 116.2h0M380.4 120.8h0M380.5 139.7h0M380.6 123.9h0M380.7 133.8h0M380.9 129.1h0M381.0 127.3h0M381.1 135.1h0M381.2 122.5h0M381.4 117.9h0M381.5 127.2h0M381.7 117.4h0M381.8 131.9h0M381.9 135.1h0M382.0 122.3h0M382.1 138.9h0M382.2 120.8h0M382.3 142.0h0M382.4 140.2h0M382.5 129.6h0M382.8 129.8h0M382.9 123.9h0M383.0 144.7h0M383.1 119.4h0M383.2 136.3h0M383.3 123.7h0M383.4 127.5h0M383.5 135.1h0M383.6 135.9h0M383.7 137.9h0M383.8 138.7h0M384.0 118.6h0M384.2 121.1h0M384.3 127.6h0M384.4 134.4h0M384.5 125.0h0M384.6 121.3h0M384.7 136.6h0M384.8 133.3h0M384.9 128.4h0M385.1 141.4h0M385.2 128.2h0M385.3 131.2h0M385.4 138.0h0M385.5 139.8h0M385.6 126.9h0M385.6 120.5h0M385.7 126.7h0M385.8 140.1h0M386.0 122.0h0M386.1 128.6h0M386.2 123.8h0M386.4 140.7h0M386.6 132.2h0M386.7 137.3h0M386.8 140.5h0M387.0 120.1h0M387.3 125.9h0M387.4 137.0h0M387.4 117.9h0M387.5 129.9h0M387.7 132.8h0M387.8 129.3h0M387.9 126.6h0M388.1 130.6h0M388.2 133.4h0M388.3 132.5h0M388.4 125.2h0M388.6 131.0h0M388.7 132.4h0M388.8 136.5h0M388.9 122.8h0M389.2 135.2h0M389.3 140.7h0M389.3 125.1h0M389.4 136.5h0M389.5 130.7h0M389.6 126.9h0M389.8 126.2h0M389.9 139.7h0M390.0 134.2h0M390.1 132.6h0M390.2 122.3h0M390.3 123.1h0M390.5 129.5h0M390.6 136.8h0M390.7 137.1h0M390.8 124.2h0M391.0 127.7h0M391.1 138.0h0M391.2 128.5h0M391.2 128.7h0M391.3 131.3h0M391.4 140.0h0M391.7 144.6h0M391.9 130.0h0M392.1 132.6h0M392.5 131.2h0M392.6 147.0h0M392.8 124.8h0M393.0 142.9h0M393.0 127.9h0M393.1 134.2h0M393.2 147.8h0M393.3 127.3h0M393.4 149.9h0M393.8 134.8h0M393.9 147.2h0M394.3 150.4h0M394.5 134.7h0M394.6 139.3h0M394.7 137.9h0M394.8 140.1h0M394.9 121.2h0M394.9 135.7h0M395.2 128.0h0M395.3 150.3h0M395.4 142.2h0M395.5 148.5h0M395.6 138.0h0M395.7 134.2h0M395.8 136.1h0M395.9 145.7h0M396.1 148.3h0M396.2 129.9h0M396.3 140.7h0M396.6 149.2h0M396.7 131.4h0M396.7 139.8h0M396.8 148.9h0M396.9 125.1h0M397.0 139.1h0M397.2 150.6h0M397.3 144.2h0M397.4 129.2h0M397.5 154.4h0M397.6 125.2h0M397.7 133.0h0M397.8 143.9h0M397.9 125.6h0M398.2 134.2h0M398.3 139.0h0M398.5 124.2h0M398.6 151.5h0M398.6 143.4h0M398.7 143.6h0M398.9 145.8h0M399.2 140.4h0M399.3 140.3h0M399.4 125.5h0M399.5 147.8h0M399.7 142.2h0M399.8 138.5h0M399.9 146.5h0M400.0 142.9h0M400.1 133.0h0M400.2 141.8h0M400.3 126.7h0M400.4 150.3h0M400.5 139.5h0M400.6 143.2h0M400.7 149.9h0M400.8 126.6h0M400.9 133.6h0M401.0 136.3h0M401.2 121.3h0M401.4 134.1h0M401.5 150.0h0M401.6 158.6h0M401.7 142.6h0M401.8 146.4h0M401.9 149.7h0M402.0 145.7h0M402.2 125.6h0M402.3 155.5h0M402.3 150.2h0M402.4 136.2h0M402.6 132.2h0M402.7 132.1h0M402.8 146.3h0M402.9 155.0h0M403.1 148.3h0M403.3 127.2h0M403.4 142.4h0M403.5 151.4h0M403.6 153.4h0M403.8 136.5h0M403.9 125.9h0M404.1 149.4h0M404.2 135.1h0M404.4 140.9h0M404.6 144.0h0M404.7 147.6h0M404.8 150.6h0M404.9 132.8h0M405.1 133.9h0M405.2 139.6h0M405.3 148.1h0M405.6 130.2h0M405.9 147.2h0M406.0 136.0h0M406.1 149.0h0M406.2 144.8h0M406.3 155.8h0M406.4 143.5h0M406.5 142.7h0M406.6 146.5h0M406.7 150.1h0M406.9 157.0h0M407.0 142.3h0M407.1 134.2h0M407.2 147.3h0M407.4 151.1h0M407.5 133.9h0M407.6 134.9h0M407.7 149.9h0M407.9 133.6h0M407.9 137.0h0M408.0 150.7h0M408.1 138.3h0M408.2 141.4h0M408.3 128.2h0M408.4 150.9h0M408.5 130.8h0M408.6 135.9h0M408.7 152.4h0M408.8 128.7h0M408.9 130.3h0M409.0 155.8h0M409.2 153.8h0M409.3 151.1h0M409.4 144.2h0M409.5 131.6h0M409.6 133.7h0M409.7 141.5h0M409.8 124.6h0M409.9 124.2h0M410.1 137.9h0M410.4 145.3h0M410.5 152.4h0M410.6 138.9h0M410.7 138.8h0M410.8 154.1h0M410.9 153.2h0M411.0 143.0h0M411.1 142.2h0M411.4 128.6h0M411.5 139.5h0M411.6 139.9h0M411.7 136.4h0M411.7 151.7h0M411.8 140.4h0M411.9 127.7h0M412.1 127.2h0M412.2 134.3h0M412.3 142.9h0M412.4 149.2h0M412.5 124.3h0M412.7 149.4h0M412.8 144.5h0M413.0 149.7h0M413.3 125.0h0M413.4 137.3h0M413.5 148.2h0M413.5 142.7h0M413.7 125.2h0M413.8 155.2h0M413.9 141.0h0M414.0 153.9h0M414.2 137.3h0M414.4 121.0h0M414.5 138.8h0M414.6 143.7h0M414.7 136.9h0M414.8 127.1h0M414.9 156.5h0M415.2 135.9h0M415.4 136.4h0M415.4 121.7h0M415.5 146.4h0M415.6 133.2h0M415.7 120.7h0M415.8 127.0h0M415.9 144.5h0M416.0 128.4h0M416.1 146.9h0M416.3 132.8h0M416.4 122.4h0M416.5 128.9h0M416.6 153.9h0M416.7 128.6h0M416.8 138.7h0M416.9 144.4h0M417.1 126.8h0M417.2 128.3h0M417.3 132.9h0M417.4 143.3h0M417.5 126.7h0M417.6 129.2h0M417.7 132.9h0M417.8 141.7h0M417.9 145.5h0M418.0 145.2h0M418.1 142.5h0M418.2 149.1h0M418.3 154.1h0M418.4 143.7h0M418.5 127.3h0M418.6 130.0h0M418.7 148.4h0M419.0 152.0h0M419.1 133.2h0M419.1 125.6h0M419.3 123.1h0M419.5 126.5h0M419.6 123.8h0M419.7 121.2h0M419.9 146.5h0M420.0 139.6h0M420.1 143.7h0M420.2 122.3h0M420.3 146.5h0M420.4 123.6h0M420.5 131.6h0M420.7 150.2h0M420.8 143.9h0M420.9 137.1h0M421.0 126.3h0M421.0 140.5h0M421.1 127.4h0M421.4 142.6h0M421.5 133.1h0M421.6 143.0h0M421.7 150.9h0M421.8 133.7h0M422.0 140.2h0M422.1 147.7h0M422.2 149.2h0M422.4 139.6h0M422.6 124.6h0M422.7 126.4h0M422.8 150.5h0M422.9 127.9h0M422.9 129.4h0M423.0 133.7h0M423.1 127.5h0M423.2 146.5h0M423.3 140.7h0M423.4 146.2h0M423.5 130.8h0M423.6 147.8h0M423.7 135.3h0M423.8 123.6h0M423.9 141.6h0M424.0 144.6h0M424.1 141.7h0M424.2 138.7h0M424.4 142.7h0M424.5 143.2h0M424.7 127.3h0M424.7 148.2h0M424.8 143.7h0M425.0 150.9h0M425.1 128.9h0M425.2 151.9h0M425.3 135.0h0M425.4 126.9h0M425.6 143.5h0M425.7 133.9h0M425.9 125.9h0M426.0 127.2h0M426.1 131.5h0M426.2 131.9h0M426.3 140.7h0M426.4 147.9h0M426.5 128.8h0M426.6 126.5h0M426.6 154.4h0M426.7 130.9h0M426.8 139.0h0M426.9 131.4h0M427.1 138.9h0M427.2 128.8h0M427.3 129.9h0M427.4 131.7h0M427.6 132.5h0M427.7 141.9h0M427.8 156.1h0M427.9 134.1h0M428.1 132.0h0M428.3 148.9h0M428.4 131.8h0M428.5 137.5h0M428.5 135.2h0M428.8 135.8h0M428.9 141.6h0M429.0 134.4h0M429.1 143.2h0M429.3 130.3h0M429.4 140.2h0M429.5 135.4h0M429.6 127.2h0M429.7 141.5h0M429.8 131.8h0M429.9 141.0h0M430.0 137.6h0M430.1 150.2h0M430.2 134.7h0M430.3 129.3h0M430.3 145.0h0M430.4 134.7h0M430.5 139.1h0M430.6 157.5h0M430.7 140.1h0M431.0 150.3h0M431.2 142.2h0M431.3 152.4h0M431.5 145.4h0M431.6 145.0h0M431.7 152.5h0M431.8 142.1h0M431.9 151.8h0M432.0 155.9h0M432.1 146.0h0M432.2 155.0h0M432.2 129.8h0M432.4 159.4h0M432.5 146.5h0M432.6 153.9h0M433.0 128.7h0M433.2 145.0h0M433.6 158.7h0M433.7 144.4h0M433.8 153.0h0M433.9 147.0h0M434.0 158.1h0M434.1 145.3h0M434.1 129.1h0M434.2 151.4h0M434.3 145.3h0M434.6 154.1h0M434.7 143.7h0M434.8 154.0h0M434.9 155.0h0M435.0 152.2h0M435.1 155.0h0M435.4 156.4h0M435.5 146.3h0M435.7 154.2h0M435.8 150.0h0M435.9 140.4h0M436.1 149.7h0M436.2 149.0h0M436.4 152.5h0M436.5 154.4h0M436.6 153.8h0M436.7 143.6h0M436.8 151.9h0M437.0 152.9h0M437.6 149.2h0M437.7 150.7h0M437.8 153.2h0M437.8 154.3h0M437.9 153.7h0M438.1 154.8h0M438.2 149.1h0M438.4 150.7h0M438.6 145.4h0M438.7 154.5h0M438.9 159.3h0M439.0 151.7h0M439.1 156.4h0M439.2 152.7h0M439.3 141.3h0M439.4 143.0h0M439.5 158.5h0M439.6 151.4h0M439.7 148.9h0M439.7 154.7h0M439.8 150.3h0M440.0 158.4h0M440.2 158.5h0M440.3 149.4h0M440.4 162.0h0M440.5 144.9h0M440.6 152.2h0M440.7 160.7h0M440.8 157.1h0M440.9 155.5h0M441.0 151.8h0M441.1 148.5h0M441.2 152.3h0M441.3 160.1h0M441.5 139.2h0M441.5 148.6h0M441.7 146.0h0M441.9 148.8h0M442.1 138.2h0M442.2 137.6h0M442.3 154.5h0M442.4 142.8h0M442.6 144.8h0M442.7 137.2h0M442.9 142.3h0M443.0 152.8h0M443.1 147.1h0M443.2 144.0h0M443.3 157.2h0M443.4 146.2h0M443.5 148.5h0M443.7 155.5h0M443.8 149.9h0M443.9 158.9h0M444.0 149.5h0M444.1 154.3h0M444.2 143.4h0M444.3 151.3h0M444.4 156.8h0M444.5 153.2h0M444.6 151.2h0M444.8 155.8h0M445.0 141.9h0M445.1 148.1h0M445.2 163.7h0M445.2 143.7h0M445.4 147.6h0M445.5 149.2h0M445.6 156.6h0M445.7 159.4h0M445.8 157.9h0M446.0 152.8h0M446.1 152.1h0M446.2 138.5h0M446.3 144.8h0M446.5 137.4h0M446.7 162.4h0M446.9 150.2h0M447.0 153.1h0M447.1 147.7h0M447.1 137.9h0M447.2 163.2h0M447.3 145.8h0M447.4 153.2h0M447.5 141.0h0M447.6 146.7h0M447.7 154.8h0M447.8 158.6h0M448.0 136.8h0M448.2 152.6h0M448.4 152.5h0M448.5 140.4h0M448.6 149.8h0M448.7 139.1h0M448.8 146.7h0M448.9 152.9h0M449.0 131.1h0M449.0 149.7h0M449.1 162.1h0M449.2 150.2h0M449.3 140.0h0M449.4 159.1h0M449.5 136.8h0M449.8 153.0h0M449.9 137.7h0M450.1 150.0h0M450.2 143.8h0M450.3 140.1h0M450.4 145.3h0M450.5 145.6h0M450.6 151.6h0M450.7 149.5h0M450.8 140.6h0M450.8 137.5h0M450.9 136.4h0M451.0 132.2h0M451.1 129.8h0M451.3 149.4h0M451.4 145.1h0M451.5 150.5h0M451.6 130.8h0M451.7 134.1h0M451.8 143.9h0M451.9 141.1h0M452.0 127.7h0M452.1 146.2h0M452.2 145.7h0M452.3 131.6h0M452.4 136.6h0M452.6 137.8h0M452.7 133.4h0M452.7 148.4h0M452.8 152.9h0M452.9 142.1h0M453.1 137.3h0M453.2 130.8h0M453.3 141.1h0M453.4 144.6h0M453.5 129.4h0M453.6 142.5h0M453.7 130.6h0M454.0 133.6h0M454.2 131.1h0M454.3 136.2h0M454.4 139.0h0M454.5 138.7h0M454.6 141.1h0M454.6 129.4h0M454.9 145.0h0M455.0 134.3h0M455.1 151.6h0M455.2 143.1h0M455.3 149.9h0M455.4 136.8h0M455.5 131.9h0M455.7 136.0h0M455.8 150.2h0M455.9 138.9h0M456.0 135.2h0M456.1 125.5h0M456.3 137.5h0M456.4 133.5h0M456.5 136.6h0M456.6 136.0h0M456.7 131.5h0M456.8 137.3h0M457.0 149.2h0M457.1 137.7h0M457.3 127.9h0M457.4 143.1h0M457.5 141.7h0M457.6 156.2h0M457.7 128.9h0M457.8 148.4h0M457.9 151.3h0M458.0 148.1h0M458.1 153.1h0M458.2 146.2h0M458.3 128.8h0M458.3 134.5h0M458.4 127.4h0M458.7 138.9h0M458.8 127.3h0M459.0 161.4h0M459.1 161.7h0M459.2 140.0h0M459.4 149.7h0M459.5 157.5h0M459.6 141.8h0M459.7 155.5h0M459.9 147.0h0M460.0 145.5h0M460.1 139.8h0M460.2 136.5h0M460.2 145.4h0M460.3 150.4h0M460.4 155.6h0M460.5 167.1h0M460.6 164.7h0M460.7 136.9h0M460.8 141.1h0M461.0 150.8h0M461.2 139.9h0M461.3 137.6h0M461.4 163.3h0M461.5 168.6h0M461.6 148.4h0M461.7 142.2h0M461.8 163.5h0M461.9 154.7h0M462.0 159.9h0M462.0 164.8h0M462.1 166.6h0M462.2 149.9h0M462.3 156.0h0M462.4 159.7h0M462.7 163.2h0M462.8 154.0h0M462.9 165.6h0M463.0 148.2h0M463.2 151.6h0M463.3 154.9h0M463.4 142.2h0M463.6 160.5h0M463.7 155.8h0M463.9 149.9h0M464.0 159.7h0M464.1 149.8h0M464.2 146.0h0M464.3 152.0h0M464.4 150.6h0M464.5 150.5h0M464.6 160.6h0M464.7 156.4h0M464.9 158.1h0M465.0 163.0h0M465.1 157.1h0M465.3 145.8h0M465.4 150.0h0M465.5 149.0h0M465.6 141.8h0M465.8 149.7h0M465.8 155.1h0M465.9 156.0h0M466.1 148.7h0M466.3 152.2h0M466.4 156.2h0M466.5 147.9h0M466.6 144.7h0M467.0 154.0h0M467.2 154.7h0M467.3 154.0h0M467.4 153.3h0M467.5 161.8h0M467.6 147.2h0M467.6 164.2h0M467.8 152.2h0M467.9 163.0h0M468.0 159.3h0M468.1 157.2h0M468.2 147.4h0M468.3 156.8h0M468.4 158.2h0M468.5 151.5h0M468.6 154.5h0M468.9 162.3h0M469.0 145.9h0M469.3 156.3h0" stroke="#1a6ec4" stroke-width="3.45" stroke-linecap="round" fill="none"/>
<line x1="68.75" y1="218.90" x2="68.75" y2="11.20" stroke="#333" stroke-width="1.4" stroke-dasharray="15.3 9.1"/>
<line x1="185.93" y1="218.90" x2="185.93" y2="11.20" stroke="#333" stroke-width="1.4" stroke-dasharray="15.3 9.1"/>
<g stroke="#262626" stroke-width="1.1" fill="none"><line x1="53.50" y1="218.90" x2="53.50" y2="214.70"/>
<line x1="53.50" y1="11.20" x2="53.50" y2="15.40"/>
<line x1="122.83" y1="218.90" x2="122.83" y2="214.70"/>
<line x1="122.83" y1="11.20" x2="122.83" y2="15.40"/>
<line x1="192.17" y1="218.90" x2="192.17" y2="214.70"/>
<line x1="192.17" y1="11.20" x2="192.17" y2="15.40"/>
<line x1="261.50" y1="218.90" x2="261.50" y2="214.70"/>
<line x1="261.50" y1="11.20" x2="261.50" y2="15.40"/>
<line x1="330.83" y1="218.90" x2="330.83" y2="214.70"/>
<line x1="330.83" y1="11.20" x2="330.83" y2="15.40"/>
<line x1="400.17" y1="218.90" x2="400.17" y2="214.70"/>
<line x1="400.17" y1="11.20" x2="400.17" y2="15.40"/>
<line x1="469.50" y1="218.90" x2="469.50" y2="214.70"/>
<line x1="469.50" y1="11.20" x2="469.50" y2="15.40"/>
<line x1="53.50" y1="218.90" x2="57.70" y2="218.90"/>
<line x1="469.50" y1="218.90" x2="465.30" y2="218.90"/>
<line x1="53.50" y1="184.28" x2="57.70" y2="184.28"/>
<line x1="469.50" y1="184.28" x2="465.30" y2="184.28"/>
<line x1="53.50" y1="149.67" x2="57.70" y2="149.67"/>
<line x1="469.50" y1="149.67" x2="465.30" y2="149.67"/>
<line x1="53.50" y1="115.05" x2="57.70" y2="115.05"/>
<line x1="469.50" y1="115.05" x2="465.30" y2="115.05"/>
<line x1="53.50" y1="80.43" x2="57.70" y2="80.43"/>
<line x1="469.50" y1="80.43" x2="465.30" y2="80.43"/>
<line x1="53.50" y1="45.82" x2="57.70" y2="45.82"/>
<line x1="469.50" y1="45.82" x2="465.30" y2="45.82"/>
<line x1="53.50" y1="11.20" x2="57.70" y2="11.20"/>
<line x1="469.50" y1="11.20" x2="465.30" y2="11.20"/>
<rect x="53.5" y="11.2" width="416.0" height="207.70000000000002" fill="none"/></g>
<g font-family="Liberation Sans, Arial, sans-serif" font-size="15.2" fill="#111" stroke="#111" stroke-width="0.28"><text x="53.50" y="240.50" text-anchor="middle">2008</text>
<text x="122.83" y="240.50" text-anchor="middle">2010</text>
<text x="192.17" y="240.50" text-anchor="middle">2012</text>
<text x="261.50" y="240.50" text-anchor="middle">2014</text>
<text x="330.83" y="240.50" text-anchor="middle">2016</text>
<text x="400.17" y="240.50" text-anchor="middle">2018</text>
<text x="469.50" y="240.50" text-anchor="middle">2020</text>
<text x="48.80" y="224.50" text-anchor="end">−30</text>
<text x="48.80" y="189.88" text-anchor="end">−20</text>
<text x="48.80" y="155.27" text-anchor="end">−10</text>
<text x="45.50" y="120.65" text-anchor="end">0</text>
<text x="45.50" y="86.03" text-anchor="end">10</text>
<text x="45.50" y="51.42" text-anchor="end">20</text>
<text x="45.50" y="16.80" text-anchor="end">30</text></g>
<text x="14.6" y="115.05" transform="rotate(-90 14.6 115.05)" text-anchor="middle" font-family="Liberation Sans, Arial, sans-serif" font-size="16.9" fill="#111" stroke="#111" stroke-width="0.28">Vertical displacement(mm)</text>
<text x="261.50" y="262.50" text-anchor="middle" font-family="Liberation Sans, Arial, sans-serif" font-size="16.6" letter-spacing="0.7" fill="#111" stroke="#111" stroke-width="0.28">Year</text>
<path d="M53.5 388.5h0M53.6 389.3h0M53.7 371.5h0M53.8 383.1h0M53.9 373.9h0M54.0 389.5h0M54.1 377.3h0M54.2 395.1h0M54.3 382.9h0M54.4 383.1h0M54.5 372.1h0M54.6 376.1h0M54.7 424.2h0M54.8 369.4h0M54.9 375.8h0M55.0 402.3h0M55.2 369.8h0M55.3 378.1h0M55.4 380.2h0M55.5 373.9h0M55.6 381.3h0M55.7 373.2h0M55.8 365.9h0M55.9 368.3h0M56.0 380.6h0M56.1 389.6h0M56.2 377.2h0M56.3 377.9h0M56.4 365.5h0M56.5 380.3h0M56.6 378.5h0M56.7 369.0h0M56.8 381.0h0M56.9 377.8h0M57.0 359.0h0M57.1 361.1h0M57.2 369.6h0M57.2 373.2h0M57.3 385.5h0M57.4 370.1h0M57.5 375.1h0M57.6 373.4h0M57.7 380.7h0M57.8 375.5h0M57.9 377.2h0M58.0 372.1h0M58.1 360.9h0M58.2 371.5h0M58.3 391.6h0M58.4 384.7h0M58.5 390.7h0M58.6 382.7h0M58.7 369.2h0M58.8 370.6h0M58.9 380.5h0M59.0 371.7h0M59.1 381.7h0M59.2 388.3h0M59.3 388.0h0M59.4 382.4h0M59.5 359.5h0M59.6 387.0h0M59.7 361.1h0M59.8 360.1h0M59.9 375.1h0M60.1 373.5h0M60.2 379.1h0M60.3 387.6h0M60.4 366.1h0M60.5 372.5h0M60.6 362.5h0M60.7 360.5h0M60.9 368.7h0M61.0 368.8h0M61.0 372.6h0M61.1 368.4h0M61.2 382.8h0M61.3 367.6h0M61.4 369.4h0M61.5 380.0h0M61.6 349.8h0M61.7 380.9h0M61.8 379.7h0M61.9 368.2h0M62.0 390.2h0M62.1 378.6h0M62.2 385.8h0M62.3 380.1h0M62.4 371.7h0M62.5 367.1h0M62.6 359.1h0M62.7 362.0h0M62.8 358.1h0M62.8 373.7h0M62.9 374.4h0M63.1 358.3h0M63.2 374.2h0M63.3 375.4h0M63.4 353.9h0M63.5 361.2h0M63.6 366.7h0M63.7 361.3h0M63.8 359.9h0M63.9 382.2h0M64.0 369.5h0M64.1 372.6h0M64.2 367.3h0M64.4 375.2h0M64.5 354.9h0M64.6 363.3h0M64.7 376.6h0M64.7 385.0h0M64.8 380.5h0M64.9 368.0h0M65.0 362.9h0M65.1 365.8h0M65.2 387.7h0M65.3 371.7h0M65.4 363.3h0M65.5 365.3h0M65.6 356.7h0M65.7 399.4h0M65.8 363.1h0M66.0 374.8h0M66.1 366.3h0M66.2 364.2h0M66.4 361.3h0M66.6 373.9h0M66.6 361.3h0M66.7 379.8h0M66.8 382.2h0M66.9 362.6h0M67.0 368.7h0M67.1 384.3h0M67.2 376.6h0M67.3 367.9h0M67.4 352.5h0M67.5 357.6h0M67.6 360.1h0M67.8 385.8h0M67.9 369.0h0M68.0 363.2h0M68.1 364.0h0M68.2 363.8h0M68.4 370.2h0M68.4 347.5h0M68.5 343.9h0M68.6 353.1h0M68.7 355.6h0M68.8 358.6h0M68.9 384.6h0M69.0 367.1h0M69.1 360.0h0M69.2 388.5h0M69.3 376.1h0M69.4 382.5h0M69.5 373.9h0M69.7 375.8h0M69.8 359.5h0M69.9 373.0h0M70.0 379.0h0M70.1 367.6h0M70.2 381.6h0M70.3 385.2h0M70.3 356.5h0M70.4 387.0h0M70.5 383.7h0M70.6 378.4h0M70.7 359.6h0M70.8 399.8h0M70.9 368.2h0M71.0 386.6h0M71.1 384.1h0M71.2 382.4h0M71.3 388.5h0M71.4 389.4h0M71.5 377.0h0M71.6 354.6h0M71.7 371.2h0M71.8 371.1h0M71.9 393.6h0M72.0 378.8h0M72.1 390.4h0M72.2 370.8h0M72.2 380.8h0M72.4 378.1h0M72.5 379.3h0M72.6 384.3h0M72.7 393.6h0M72.8 372.6h0M72.9 392.2h0M73.0 390.2h0M73.1 381.3h0M73.3 385.4h0M73.4 375.7h0M73.5 368.2h0M73.6 375.8h0M73.7 376.3h0M73.8 378.0h0M73.9 369.6h0M74.0 396.6h0M74.0 374.5h0M74.1 387.5h0M74.2 390.4h0M74.3 378.1h0M74.4 382.0h0M74.5 372.3h0M74.6 367.1h0M74.7 401.3h0M74.8 378.8h0M74.9 358.5h0M75.0 388.5h0M75.1 363.7h0M75.2 377.1h0M75.3 392.4h0M75.4 389.3h0M75.5 371.0h0M75.6 368.5h0M75.7 385.4h0M75.8 380.8h0M75.9 375.5h0M75.9 395.6h0M76.0 364.0h0M76.1 361.9h0M76.3 356.3h0M76.4 379.2h0M76.5 359.8h0M76.6 383.4h0M76.7 386.2h0M76.8 400.5h0M76.9 368.5h0M77.0 381.8h0M77.1 354.7h0M77.2 374.8h0M77.3 376.2h0M77.4 396.1h0M77.5 363.1h0M77.6 381.7h0M77.7 379.7h0M77.8 400.1h0M77.8 368.8h0M77.9 368.2h0M78.0 384.1h0M78.1 377.2h0M78.2 374.2h0M78.3 368.5h0M78.4 377.0h0M78.5 360.9h0M78.6 380.5h0M78.7 384.1h0M78.8 382.7h0M78.9 403.4h0M79.0 386.1h0M79.1 368.0h0M79.2 375.4h0M79.3 386.3h0M79.4 374.6h0M79.5 398.2h0M79.6 380.9h0M79.6 372.8h0M79.7 371.1h0M79.8 385.8h0M79.9 369.0h0M80.0 359.4h0M80.1 382.3h0M80.2 370.7h0M80.3 393.6h0M80.4 397.6h0M80.5 371.9h0M80.6 377.6h0M80.7 376.1h0M80.8 383.9h0M80.9 381.0h0M81.0 370.0h0M81.1 360.9h0M81.2 380.2h0M81.3 394.5h0M81.4 365.3h0M81.5 372.0h0M81.7 371.2h0M81.8 376.2h0M81.9 354.8h0M82.0 377.3h0M82.1 372.9h0M82.2 396.5h0M82.3 383.8h0M82.4 384.9h0M82.5 378.3h0M82.6 374.6h0M82.7 385.5h0M82.8 360.7h0M82.9 388.7h0M83.0 382.5h0M83.1 375.7h0M83.2 390.5h0M83.3 372.3h0M83.3 371.7h0M83.4 381.0h0M83.5 359.0h0M83.6 377.2h0M83.7 375.2h0M83.8 387.6h0M84.0 394.8h0M84.1 384.3h0M84.2 381.2h0M84.3 382.6h0M84.4 396.1h0M84.5 401.9h0M84.7 389.4h0M84.8 396.3h0M84.9 364.6h0M85.0 383.7h0M85.1 383.2h0M85.2 389.0h0M85.2 369.0h0M85.3 371.9h0M85.4 375.6h0M85.5 398.3h0M85.6 366.3h0M85.7 374.1h0M85.8 372.5h0M85.9 365.7h0M86.0 380.0h0M86.1 379.7h0M86.2 370.8h0M86.4 373.8h0M86.5 380.5h0M86.6 377.6h0M86.7 383.1h0M86.8 386.9h0M86.9 368.7h0M87.0 378.0h0M87.1 359.2h0M87.1 393.4h0M87.2 380.3h0M87.3 397.0h0M87.4 382.2h0M87.5 394.0h0M87.6 364.1h0M87.7 372.6h0M87.8 389.9h0M87.9 370.3h0M88.0 388.2h0M88.1 391.4h0M88.2 379.5h0M88.3 382.7h0M88.4 388.9h0M88.5 381.5h0M88.6 387.9h0M88.7 377.2h0M88.8 378.0h0M89.0 370.1h0M89.2 382.0h0M89.3 390.8h0M89.4 390.6h0M89.5 379.8h0M89.6 362.0h0M89.7 368.8h0M89.8 383.6h0M89.9 367.8h0M90.0 388.7h0M90.1 367.0h0M90.2 380.9h0M90.3 369.3h0M90.4 370.7h0M90.5 379.7h0M90.6 373.6h0M90.7 387.5h0M90.8 377.5h0M90.8 365.9h0M90.9 346.9h0M91.0 369.6h0M91.1 375.7h0M91.2 386.7h0M91.3 365.9h0M91.4 393.0h0M91.5 384.5h0M91.7 372.8h0M91.8 388.3h0M91.9 360.9h0M92.1 365.2h0M92.2 381.8h0M92.3 381.6h0M92.4 389.2h0M92.5 390.0h0M92.6 371.5h0M92.7 369.6h0M92.8 372.3h0M92.9 373.1h0M93.0 381.3h0M93.1 372.1h0M93.2 390.3h0M93.3 375.5h0M93.4 360.8h0M93.5 362.2h0M93.6 380.0h0M93.7 378.7h0M93.8 361.5h0M94.0 357.3h0M94.1 390.0h0M94.2 379.3h0M94.3 372.6h0M94.4 362.7h0M94.5 383.2h0M94.5 368.3h0M94.6 377.7h0M94.8 350.8h0M94.9 370.2h0M95.0 375.8h0M95.1 377.7h0M95.2 363.7h0M95.3 367.4h0M95.4 385.0h0M95.5 376.2h0M95.6 387.4h0M95.7 355.8h0M95.8 386.9h0M95.9 387.1h0M96.0 380.7h0M96.1 383.5h0M96.2 368.4h0M96.3 365.6h0M96.4 375.9h0M96.4 384.7h0M96.5 365.4h0M96.6 393.6h0M96.7 392.6h0M96.8 365.9h0M96.9 376.0h0M97.0 363.3h0M97.1 375.2h0M97.2 385.6h0M97.3 378.0h0M97.4 367.1h0M97.5 380.4h0M97.6 379.7h0M97.7 386.6h0M97.8 384.2h0M97.9 364.1h0M98.0 367.9h0M98.1 384.0h0M98.2 383.1h0M98.3 377.9h0M98.3 366.7h0M98.4 383.8h0M98.5 373.7h0M98.6 393.4h0M98.7 384.5h0M98.8 367.6h0M98.9 362.8h0M99.0 383.3h0M99.1 379.4h0M99.2 363.6h0M99.3 375.4h0M99.5 376.8h0M99.6 366.1h0M99.7 369.3h0M99.8 360.1h0M100.0 363.1h0M100.1 376.8h0M100.1 372.1h0M100.2 371.5h0M100.3 384.4h0M100.4 383.3h0M100.5 361.0h0M100.6 386.5h0M100.7 360.6h0M100.8 367.6h0M100.9 371.8h0M101.0 365.0h0M101.1 365.5h0M101.2 358.1h0M101.3 374.2h0M101.4 372.4h0M101.5 372.5h0M101.6 351.2h0M101.7 360.4h0M101.8 379.1h0M101.9 373.1h0M102.0 376.8h0M102.0 369.5h0M102.1 367.5h0M102.2 346.8h0M102.3 387.9h0M102.4 359.4h0M102.5 365.4h0M102.6 376.7h0M102.7 371.2h0M102.8 374.7h0M102.9 369.3h0M103.0 359.7h0M103.1 385.0h0M103.2 356.7h0M103.3 373.5h0M103.4 354.8h0M103.5 365.7h0M103.7 357.6h0M103.8 364.2h0M103.9 359.1h0M103.9 369.3h0M104.0 378.2h0M104.1 363.2h0M104.2 362.8h0M104.3 349.0h0M104.4 390.0h0M104.5 371.9h0M104.6 359.4h0M104.7 382.5h0M104.8 372.3h0M104.9 348.9h0M105.0 355.9h0M105.1 378.8h0M105.2 355.8h0M105.3 358.3h0M105.4 362.3h0M105.5 366.3h0M105.6 367.7h0M105.7 378.8h0M105.7 375.3h0M105.8 362.8h0M105.9 368.8h0M106.0 351.7h0M106.1 373.5h0M106.2 394.1h0M106.4 373.6h0M106.5 367.5h0M106.6 366.4h0M106.7 369.6h0M106.8 378.5h0M106.9 355.4h0M107.0 376.9h0M107.1 363.2h0M107.2 373.2h0M107.3 382.3h0M107.4 356.3h0M107.5 395.4h0M107.6 378.9h0M107.6 366.1h0M107.7 374.0h0M107.8 362.9h0M107.9 371.4h0M108.0 374.9h0M108.1 348.9h0M108.2 372.6h0M108.3 372.0h0M108.4 381.3h0M108.5 377.9h0M108.7 364.1h0M108.8 364.9h0M108.9 370.5h0M109.0 377.5h0M109.1 363.7h0M109.2 387.5h0M109.4 418.8h0M109.5 373.1h0M109.5 379.0h0M109.6 369.1h0M109.8 377.3h0M109.9 378.7h0M110.0 352.7h0M110.1 363.3h0M110.2 369.8h0M110.3 370.2h0M110.4 361.1h0M110.5 363.0h0M110.6 358.7h0M110.7 347.2h0M110.8 373.2h0M110.9 368.6h0M111.0 372.0h0M111.1 406.7h0M111.2 385.9h0M111.3 372.0h0M111.3 366.2h0M111.4 378.4h0M111.5 361.7h0M111.6 360.5h0M111.7 377.6h0M111.8 359.6h0M111.9 356.6h0M112.0 369.6h0M112.1 384.3h0M112.2 360.1h0M112.3 376.6h0M112.4 379.0h0M112.5 374.4h0M112.7 381.4h0M112.8 365.6h0M112.9 368.8h0M113.0 364.7h0M113.1 371.3h0M113.2 385.2h0M113.2 379.1h0M113.3 369.1h0M113.4 382.1h0M113.5 349.3h0M113.6 381.0h0M113.7 384.7h0M113.8 367.7h0M113.9 371.9h0M114.0 379.9h0M114.1 382.2h0M114.2 375.9h0M114.3 372.1h0M114.4 373.1h0M114.5 383.9h0M114.6 376.9h0M114.7 373.0h0M114.8 374.1h0M114.9 412.6h0M115.0 391.1h0M115.1 390.2h0M115.2 397.9h0M115.3 381.5h0M115.4 374.3h0M115.5 377.6h0M115.6 385.3h0M115.7 384.0h0M115.8 367.0h0M115.9 382.4h0M116.0 381.8h0M116.1 369.3h0M116.2 381.5h0M116.3 405.3h0M116.4 381.4h0M116.5 389.0h0M116.6 386.3h0M116.7 374.8h0M116.8 380.7h0M116.9 388.0h0M116.9 376.6h0M117.0 381.2h0M117.1 384.6h0M117.2 382.7h0M117.3 383.2h0M117.4 389.2h0M117.5 390.4h0M117.6 385.7h0M117.7 395.5h0M117.8 398.5h0M117.9 373.2h0M118.0 388.5h0M118.1 386.5h0M118.2 387.6h0M118.3 386.1h0M118.4 386.2h0M118.5 385.8h0M118.6 394.5h0M118.7 377.3h0M118.8 393.5h0M118.8 376.5h0M119.0 405.9h0M119.1 397.5h0M119.2 377.1h0M119.3 388.5h0M119.4 393.8h0M119.5 383.4h0M119.7 397.7h0M119.8 386.6h0M119.9 409.4h0M120.0 392.0h0M120.1 394.0h0M120.2 382.3h0M120.3 379.0h0M120.4 396.2h0M120.5 371.8h0M120.6 393.7h0M120.7 408.4h0M120.7 411.6h0M120.8 372.8h0M120.9 389.0h0M121.0 394.6h0M121.1 395.6h0M121.2 411.8h0M121.3 374.6h0M121.4 388.8h0M121.5 370.1h0M121.6 389.7h0M121.7 411.0h0M121.8 379.2h0M121.9 391.1h0M122.0 389.7h0M122.1 377.6h0M122.2 389.8h0M122.3 375.5h0M122.4 387.0h0M122.5 408.7h0M122.5 381.7h0M122.6 392.7h0M122.7 374.4h0M122.8 377.0h0M122.9 385.8h0M123.0 380.3h0M123.1 380.6h0M123.2 388.9h0M123.3 377.1h0M123.4 388.2h0M123.5 379.7h0M123.6 395.2h0M123.7 384.6h0M123.8 381.4h0M124.0 393.2h0M124.1 389.4h0M124.2 390.5h0M124.3 377.8h0M124.4 392.1h0M124.4 380.5h0M124.5 369.6h0M124.6 381.1h0M124.7 400.6h0M124.8 383.2h0M124.9 374.0h0M125.0 387.1h0M125.1 373.2h0M125.2 377.9h0M125.3 379.8h0M125.4 386.5h0M125.5 388.9h0M125.6 386.2h0M125.7 383.0h0M125.8 378.3h0M125.9 379.2h0M126.0 386.3h0M126.1 382.5h0M126.2 379.2h0M126.3 399.1h0M126.3 390.5h0M126.4 390.8h0M126.5 384.8h0M126.6 385.4h0M126.7 385.2h0M126.8 391.2h0M126.9 375.8h0M127.0 379.6h0M127.1 398.6h0M127.2 382.1h0M127.3 393.3h0M127.5 365.1h0M127.6 386.5h0M127.7 385.8h0M127.8 381.0h0M128.0 383.6h0M128.1 382.2h0M128.1 366.2h0M128.2 379.2h0M128.3 373.1h0M128.4 370.1h0M128.6 390.8h0M128.7 364.3h0M128.8 374.2h0M128.9 371.4h0M129.0 389.4h0M129.1 372.7h0M129.2 376.6h0M129.3 386.0h0M129.4 357.9h0M129.6 374.8h0M129.7 382.7h0M129.8 378.4h0M129.9 371.2h0M130.0 368.9h0M130.1 374.2h0M130.2 367.8h0M130.5 365.1h0M130.7 391.8h0M130.8 384.3h0M130.9 388.7h0M131.0 378.4h0M131.1 365.0h0M131.2 386.8h0M131.3 389.5h0M131.4 382.0h0M131.5 368.8h0M131.6 384.2h0M131.7 379.8h0M131.8 375.8h0M131.8 396.8h0M131.9 370.9h0M132.0 375.2h0M132.1 372.9h0M132.2 388.1h0M132.3 386.0h0M132.4 384.2h0M132.5 375.7h0M132.6 377.4h0M132.7 376.8h0M132.8 360.2h0M132.9 365.0h0M133.0 385.0h0M133.1 384.3h0M133.2 360.7h0M133.3 380.8h0M133.4 364.0h0M133.5 361.8h0M133.6 383.0h0M133.7 380.3h0M133.7 376.8h0M133.8 386.2h0M133.9 387.3h0M134.0 381.6h0M134.1 369.1h0M134.3 382.0h0M134.4 379.6h0M134.5 382.2h0M134.7 391.1h0M134.8 362.8h0M135.1 400.7h0M135.2 384.0h0M135.3 371.9h0M135.4 391.3h0M135.5 426.0h0M135.6 365.0h0M135.6 385.9h0M135.7 375.4h0M135.8 388.4h0M135.9 372.4h0M136.0 376.5h0M136.1 375.2h0M136.2 363.8h0M136.3 372.7h0M136.4 364.0h0M136.5 371.1h0M136.6 389.2h0M136.7 374.7h0M136.8 372.5h0M136.9 391.6h0M137.1 364.1h0M137.2 376.6h0M137.3 373.6h0M137.4 386.1h0M137.4 376.5h0M137.5 374.3h0M137.6 380.5h0M137.7 376.4h0M137.8 406.2h0M137.9 363.7h0M138.0 388.2h0M138.1 398.8h0M138.2 386.7h0M138.3 385.4h0M138.4 371.8h0M138.5 386.2h0M138.6 374.3h0M138.7 386.6h0M138.8 355.3h0M138.9 371.7h0M139.0 357.7h0M139.1 387.2h0M139.3 370.5h0M139.3 386.6h0M139.4 371.3h0M139.5 370.3h0M139.6 392.9h0M139.7 388.3h0M139.8 388.6h0M139.9 391.9h0M140.0 384.3h0M140.1 386.5h0M140.2 391.3h0M140.3 376.0h0M140.4 371.6h0M140.5 390.0h0M140.7 382.5h0M140.8 376.9h0M140.9 379.3h0M141.0 383.9h0M141.1 368.9h0M141.2 368.6h0M141.2 370.2h0M141.3 379.0h0M141.4 357.3h0M141.5 359.7h0M141.6 380.9h0M141.7 378.1h0M141.8 365.1h0M141.9 384.8h0M142.1 372.9h0M142.2 376.4h0M142.3 383.8h0M142.5 379.1h0M142.6 392.4h0M142.7 382.2h0M142.8 396.6h0M142.9 354.2h0M143.1 361.9h0M143.2 364.6h0M143.3 373.8h0M143.4 366.9h0M143.5 364.2h0M143.6 366.7h0M143.7 367.7h0M143.8 386.0h0M143.9 372.8h0M144.0 382.4h0M144.1 388.9h0M144.2 388.6h0M144.3 373.2h0M144.5 367.2h0M144.6 391.2h0M144.7 360.5h0M144.8 363.4h0M144.9 381.8h0M144.9 382.7h0M145.0 378.9h0M145.1 368.6h0M145.2 382.2h0M145.3 389.4h0M145.4 375.2h0M145.5 399.1h0M145.6 377.4h0M145.7 367.4h0M145.9 376.0h0M146.0 371.4h0M146.1 374.4h0M146.2 372.2h0M146.3 378.0h0M146.4 387.8h0M146.5 381.9h0M146.6 380.5h0M146.7 367.4h0M146.8 363.8h0M146.8 375.9h0M146.9 387.6h0M147.0 387.4h0M147.1 382.2h0M147.2 366.7h0M147.3 416.0h0M147.4 381.1h0M147.5 388.3h0M147.6 372.1h0M147.7 378.0h0M148.0 381.7h0M148.1 380.2h0M148.2 364.7h0M148.4 383.1h0M148.5 364.9h0M148.6 388.0h0M148.6 381.3h0M148.7 373.2h0M148.8 383.2h0M148.9 390.3h0M149.0 384.9h0M149.1 391.3h0M149.2 377.3h0M149.3 382.3h0M149.4 377.0h0M149.5 374.5h0M149.6 413.6h0M149.7 379.8h0M149.8 400.8h0M149.9 381.4h0M150.0 391.8h0M150.1 382.2h0M150.2 369.8h0M150.3 400.3h0M150.4 381.6h0M150.5 384.4h0M150.5 385.4h0M150.6 377.4h0M150.7 383.6h0M150.8 389.1h0M150.9 391.4h0M151.0 355.0h0M151.1 388.4h0M151.2 402.4h0M151.3 393.9h0M151.4 388.5h0M151.5 388.8h0M151.6 355.7h0M151.7 395.6h0M151.9 380.1h0M152.0 390.4h0M152.2 399.3h0M152.3 394.1h0M152.4 389.9h0M152.4 377.8h0M152.5 381.6h0M152.6 389.8h0M152.7 368.7h0M152.8 384.6h0M152.9 366.7h0M153.0 393.1h0M153.1 382.5h0M153.2 380.1h0M153.3 396.9h0M153.4 385.6h0M153.5 386.0h0M153.6 392.4h0M153.7 382.3h0M153.8 377.8h0M153.9 377.0h0M154.0 390.2h0M154.1 386.5h0M154.2 365.3h0M154.2 399.5h0M154.4 386.7h0M154.5 380.2h0M154.6 387.7h0M154.7 382.8h0M154.8 387.7h0M154.9 382.1h0M155.0 377.0h0M155.1 392.0h0M155.2 387.9h0M155.3 390.6h0M155.4 394.1h0M155.5 390.5h0M155.6 401.6h0M155.7 383.2h0M155.8 373.8h0M155.9 373.7h0M156.1 377.8h0M156.3 399.8h0M156.4 375.2h0M156.5 397.2h0M156.6 390.6h0M156.7 405.3h0M156.8 400.5h0M156.9 381.6h0M157.0 387.0h0M157.1 391.3h0M157.2 398.4h0M157.4 385.4h0M157.5 394.1h0M157.6 379.1h0M157.7 377.3h0M157.9 402.9h0M158.0 394.2h0M158.0 392.3h0M158.1 400.7h0M158.2 400.1h0M158.3 388.1h0M158.4 390.9h0M158.5 391.6h0M158.6 394.1h0M158.7 383.6h0M158.8 400.5h0M158.9 397.7h0M159.0 372.8h0M159.1 375.4h0M159.2 404.4h0M159.3 401.7h0M159.4 384.5h0M159.5 400.0h0M159.6 390.6h0M159.8 392.5h0M159.8 382.4h0M159.9 412.9h0M160.0 409.6h0M160.1 399.9h0M160.2 377.7h0M160.3 425.0h0M160.4 404.4h0M160.5 382.6h0M160.6 380.4h0M160.7 389.8h0M160.8 390.6h0M160.9 382.9h0M161.0 375.2h0M161.1 385.3h0M161.3 401.9h0M161.4 386.5h0M161.5 389.5h0M161.6 394.5h0M161.7 382.6h0M161.7 387.8h0M161.8 387.0h0M161.9 375.1h0M162.0 379.2h0M162.1 399.9h0M162.2 399.0h0M162.3 377.6h0M162.4 388.7h0M162.5 390.6h0M162.6 390.7h0M162.7 370.1h0M162.8 373.6h0M162.9 388.5h0M163.1 392.1h0M163.2 380.5h0M163.3 384.9h0M163.4 363.6h0M163.5 394.2h0M163.6 397.5h0M163.6 381.7h0M163.7 378.8h0M163.9 377.0h0M164.0 370.6h0M164.1 357.3h0M164.2 380.9h0M164.3 382.6h0M164.4 394.3h0M164.5 374.4h0M164.6 368.3h0M164.7 379.3h0M164.8 365.1h0M165.0 376.4h0M165.1 361.7h0M165.2 373.3h0M165.3 387.0h0M165.4 382.8h0M165.4 391.6h0M165.5 393.6h0M165.6 373.8h0M165.7 367.8h0M165.8 357.1h0M165.9 376.9h0M166.0 378.6h0M166.1 387.2h0M166.2 366.5h0M166.3 383.6h0M166.5 382.0h0M166.6 369.3h0M166.7 370.5h0M166.8 394.5h0M166.9 368.7h0M167.0 374.6h0M167.1 379.8h0M167.2 380.0h0M167.3 358.6h0M167.3 360.7h0M167.4 357.8h0M167.5 387.1h0M167.6 382.2h0M167.7 366.8h0M167.8 387.6h0M168.0 382.7h0M168.1 393.4h0M168.2 357.3h0M168.4 365.0h0M168.5 371.0h0M168.6 373.3h0M168.7 379.5h0M168.9 379.3h0M169.0 369.2h0M169.1 382.3h0M169.2 363.2h0M169.2 380.1h0M169.3 383.8h0M169.4 362.4h0M169.5 376.6h0M169.7 369.6h0M169.8 379.1h0M170.0 397.2h0M170.2 369.5h0M170.3 388.2h0M170.4 364.2h0M170.5 390.1h0M170.6 393.2h0M170.7 371.7h0M170.8 370.5h0M170.9 373.6h0M171.0 386.6h0M171.0 365.9h0M171.1 389.0h0M171.2 379.1h0M171.3 382.3h0M171.4 378.2h0M171.5 366.1h0M171.6 380.7h0M171.7 368.8h0M171.8 367.6h0M171.9 391.2h0M172.0 385.8h0M172.1 378.1h0M172.2 380.1h0M172.3 371.2h0M172.4 393.2h0M172.5 374.0h0M172.7 366.8h0M172.8 375.7h0M172.9 387.7h0M172.9 373.9h0M173.1 379.2h0M173.2 368.3h0M173.3 374.7h0M173.4 366.7h0M173.6 378.1h0M173.7 359.5h0M173.8 396.4h0M173.9 383.7h0M174.0 368.8h0M174.1 388.5h0M174.3 366.3h0M174.4 385.5h0M174.5 372.6h0M174.6 382.5h0M174.7 377.8h0M174.8 371.7h0M174.8 374.4h0M174.9 377.2h0M175.0 352.2h0M175.1 373.3h0M175.2 383.0h0M175.3 364.3h0M175.4 365.4h0M175.5 361.4h0M175.6 355.9h0M175.7 382.8h0M175.8 363.1h0M175.9 362.3h0M176.0 373.6h0M176.1 371.2h0M176.2 403.2h0M176.4 379.3h0M176.6 356.0h0M176.6 391.3h0M176.7 379.0h0M176.8 370.9h0M176.9 368.0h0M177.0 357.6h0M177.1 391.1h0M177.2 373.3h0M177.3 365.3h0M177.4 386.7h0M177.5 374.2h0M177.6 364.2h0M177.7 360.9h0M177.8 368.5h0M177.9 399.6h0M178.0 375.2h0M178.1 370.1h0M178.2 377.0h0M178.3 374.6h0M178.4 344.6h0M178.5 376.1h0M178.5 383.5h0M178.6 371.6h0M178.7 377.1h0M178.8 377.1h0M178.9 374.9h0M179.0 366.4h0M179.1 371.7h0M179.2 385.9h0M179.3 375.4h0M179.4 369.4h0M179.5 398.1h0M179.6 362.8h0M179.7 366.5h0M179.8 383.9h0M179.9 371.0h0M180.0 354.7h0M180.1 358.8h0M180.2 374.8h0M180.3 365.4h0M180.4 380.9h0M180.4 388.5h0M180.5 368.8h0M180.6 371.9h0M180.7 369.3h0M180.8 374.6h0M180.9 371.1h0M181.0 379.4h0M181.1 369.7h0M181.2 366.2h0M181.3 375.0h0M181.4 366.4h0M181.5 391.9h0M181.6 382.2h0M181.7 360.2h0M181.8 357.1h0M181.9 372.0h0M182.0 375.5h0M182.1 387.0h0M182.2 371.0h0M182.2 366.9h0M182.3 389.2h0M182.4 369.1h0M182.5 369.8h0M182.6 370.3h0M182.7 385.7h0M182.8 369.3h0M183.0 389.4h0M183.1 360.0h0M183.2 373.4h0M183.3 386.2h0M183.4 361.5h0M183.5 363.4h0M183.6 381.2h0M183.7 353.1h0M183.8 384.7h0M183.9 371.7h0M184.0 363.2h0M184.1 397.2h0M184.2 365.0h0M184.4 375.6h0M184.5 375.1h0M184.6 385.6h0M184.7 371.7h0M184.8 385.6h0M184.9 384.5h0M185.0 379.4h0M185.1 387.1h0M185.2 359.6h0M185.3 388.2h0M185.4 382.6h0M185.5 378.2h0M185.6 375.1h0M185.7 373.9h0M185.8 381.2h0M185.9 400.1h0M185.9 384.2h0M186.0 379.9h0M186.1 371.8h0M186.2 373.1h0M186.3 385.7h0M186.4 351.0h0M186.5 357.7h0M186.6 370.3h0M186.7 377.6h0M186.9 376.7h0M187.0 386.0h0M187.1 391.3h0M187.2 384.0h0M187.3 382.9h0M187.4 387.3h0M187.5 396.6h0M187.6 383.9h0M187.7 374.0h0M187.8 386.0h0M187.8 380.2h0M187.9 404.0h0M188.0 382.9h0M188.1 381.9h0M188.2 394.6h0M188.3 400.5h0M188.4 375.8h0M188.5 390.0h0M188.6 374.9h0M188.7 385.5h0M188.9 373.3h0M189.0 384.6h0M189.1 398.3h0M189.2 381.6h0M189.4 384.5h0M189.5 372.9h0M189.6 386.0h0M189.7 385.3h0M189.7 370.6h0M189.8 367.0h0M189.9 371.8h0M190.0 368.5h0M190.1 375.4h0M190.2 371.7h0M190.3 370.4h0M190.5 376.0h0M190.6 380.0h0M190.8 379.1h0M191.0 352.6h0M191.1 380.7h0M191.2 383.6h0M191.3 388.4h0M191.4 381.2h0M191.5 378.0h0M191.5 394.2h0M191.6 404.2h0M191.7 377.4h0M191.8 399.8h0M192.0 377.9h0M192.1 379.3h0M192.2 367.4h0M192.3 361.3h0M192.4 376.6h0M192.6 387.5h0M192.7 394.8h0M192.8 390.3h0M192.9 380.5h0M193.0 405.3h0M193.1 380.1h0M193.2 381.2h0M193.3 373.5h0M193.4 385.0h0M193.4 379.9h0M193.5 389.7h0M193.6 386.5h0M193.7 401.9h0M193.9 379.7h0M194.0 411.5h0M194.1 379.2h0M194.2 376.9h0M194.3 392.7h0M194.4 364.3h0M194.5 390.2h0M194.7 371.8h0M194.8 380.0h0M194.9 392.5h0M195.0 369.2h0M195.1 381.1h0M195.2 379.2h0M195.3 375.9h0M195.3 381.5h0M195.4 385.7h0M195.5 375.8h0M195.6 386.1h0M195.7 380.5h0M195.8 389.2h0M195.9 398.8h0M196.0 389.3h0M196.1 387.2h0M196.2 381.2h0M196.3 367.4h0M196.4 401.2h0M196.5 379.9h0M196.7 407.4h0M196.8 393.7h0M196.9 387.4h0M197.0 407.9h0M197.1 403.3h0M197.1 379.7h0M197.2 380.6h0M197.3 382.8h0M197.4 390.9h0M197.5 356.2h0M197.6 383.4h0M197.7 391.7h0M197.8 361.8h0M197.9 374.3h0M198.0 385.9h0M198.1 367.5h0M198.3 379.7h0M198.4 374.0h0M198.5 378.8h0M198.6 393.7h0M198.7 393.5h0M198.8 379.7h0M198.9 393.5h0M199.0 390.6h0M199.0 370.4h0M199.1 386.0h0M199.3 381.2h0M199.4 374.0h0M199.5 380.2h0M199.6 399.7h0M199.7 374.3h0M199.8 370.8h0M199.9 371.6h0M200.0 385.3h0M200.1 377.6h0M200.2 372.7h0M200.3 363.2h0M200.4 385.3h0M200.5 361.5h0M200.6 361.6h0M200.7 372.8h0M200.8 360.4h0M200.9 372.0h0M200.9 392.4h0M201.0 368.7h0M201.1 378.2h0M201.2 377.2h0M201.3 380.3h0M201.4 366.1h0M201.5 375.7h0M201.6 390.4h0M201.7 376.5h0M201.8 373.6h0M201.9 390.8h0M202.0 387.4h0M202.1 386.8h0M202.2 389.4h0M202.3 378.2h0M202.4 370.3h0M202.5 360.1h0M202.6 368.3h0M202.7 370.4h0M202.7 368.9h0M202.8 366.7h0M202.9 386.9h0M203.0 374.3h0M203.1 378.7h0M203.2 384.0h0M203.6 387.9h0M203.7 388.5h0M203.8 385.8h0M203.9 397.1h0M204.0 376.5h0M204.1 382.9h0M204.2 381.4h0M204.3 378.7h0M204.4 374.2h0M204.5 389.7h0M204.6 384.0h0M204.6 401.7h0M204.7 408.9h0M204.8 405.6h0M204.9 364.7h0M205.0 404.3h0M205.1 377.3h0M205.2 365.5h0M205.3 388.3h0M205.4 363.7h0M205.5 361.2h0M205.6 371.8h0M205.7 355.1h0M205.8 375.7h0M205.9 391.6h0M206.0 376.9h0M206.1 388.2h0M206.2 398.4h0M206.3 398.1h0M206.4 355.9h0M206.5 389.4h0M206.5 383.4h0M206.6 404.8h0M206.7 381.5h0M206.8 385.9h0M206.9 387.9h0M207.0 397.4h0M207.1 399.8h0M207.2 391.9h0M207.3 379.7h0M207.4 358.7h0M207.5 370.8h0M207.6 361.7h0M207.7 377.5h0M207.8 384.2h0M207.9 398.8h0M208.0 383.2h0M208.1 408.5h0M208.2 386.8h0M208.3 364.1h0M208.3 379.4h0M208.4 370.0h0M208.5 387.8h0M208.6 399.5h0M208.7 389.0h0M208.8 388.0h0M208.9 369.2h0M209.0 360.1h0M209.1 392.1h0M209.2 387.6h0M209.3 385.1h0M209.4 387.6h0M209.5 398.1h0M209.6 382.4h0M209.7 379.3h0M209.8 394.9h0M209.9 397.9h0M210.0 385.1h0M210.1 404.3h0M210.2 373.1h0M210.2 395.9h0M210.3 387.2h0M210.5 389.4h0M210.6 391.0h0M210.7 396.7h0M210.8 405.1h0M210.9 363.9h0M211.0 381.4h0M211.1 381.3h0M211.2 359.8h0M211.3 385.8h0M211.4 378.1h0M211.5 384.5h0M211.6 370.8h0M211.7 378.9h0M211.8 381.2h0M212.0 388.0h0M212.1 386.6h0M212.1 371.4h0M212.2 409.6h0M212.3 386.8h0M212.5 390.3h0M212.6 389.0h0M212.7 408.8h0M212.8 376.9h0M212.9 395.6h0M213.0 388.4h0M213.1 399.2h0M213.2 405.5h0M213.3 391.1h0M213.4 407.6h0M213.5 397.1h0M213.6 389.8h0M213.7 386.2h0M213.8 385.5h0M213.9 387.9h0M213.9 361.1h0M214.0 381.2h0M214.1 400.8h0M214.3 393.8h0M214.4 394.4h0M214.5 388.8h0M214.6 393.9h0M214.7 396.9h0M214.8 367.4h0M214.9 386.4h0M215.0 391.0h0M215.1 390.0h0M215.2 389.7h0M215.3 370.8h0M215.4 381.6h0M215.5 374.1h0M215.6 424.1h0M215.7 383.6h0M215.8 375.0h0M215.8 364.3h0M215.9 387.3h0M216.0 407.9h0M216.1 380.8h0M216.2 394.9h0M216.3 409.0h0M216.4 419.5h0M216.5 375.5h0M216.6 373.9h0M216.7 379.6h0M216.8 400.5h0M216.9 359.3h0M217.0 402.1h0M217.1 389.3h0M217.2 405.4h0M217.3 372.9h0M217.4 383.3h0M217.5 378.1h0M217.6 387.6h0M217.7 389.5h0M217.7 386.7h0M217.9 411.1h0M218.0 377.2h0M218.1 378.2h0M218.2 393.7h0M218.3 389.3h0M218.5 385.7h0M218.6 370.8h0M218.7 384.3h0M218.8 388.9h0M218.9 395.5h0M219.1 407.3h0M219.2 396.7h0M219.3 388.9h0M219.4 392.8h0M219.5 389.0h0M219.5 381.1h0M219.6 384.8h0M219.8 386.8h0M219.9 382.4h0M220.0 388.2h0M220.1 390.9h0M220.2 385.2h0M220.3 411.3h0M220.5 376.5h0M220.6 406.7h0M220.7 381.8h0M220.8 391.7h0M220.9 379.0h0M221.0 391.8h0M221.1 403.5h0M221.2 379.9h0M221.3 390.6h0M221.4 391.6h0M221.4 392.2h0M221.5 381.5h0M221.6 383.9h0M221.7 391.0h0M221.8 412.2h0M221.9 398.8h0M222.0 393.0h0M222.2 396.3h0M222.3 390.3h0M222.4 396.1h0M222.5 381.1h0M222.6 396.7h0M222.7 395.9h0M222.8 393.9h0M222.9 413.6h0M223.0 384.8h0M223.1 391.3h0M223.2 399.8h0M223.3 410.2h0M223.4 394.5h0M223.5 380.7h0M223.7 405.2h0M223.8 410.3h0M223.9 393.0h0M224.0 417.0h0M224.1 424.6h0M224.2 403.8h0M224.3 406.9h0M224.4 402.2h0M224.5 391.8h0M224.6 395.4h0M224.7 402.1h0M224.8 406.7h0M224.9 405.3h0M225.0 392.6h0M225.1 388.9h0M225.1 389.7h0M225.2 392.2h0M225.3 439.4h0M225.4 412.4h0M225.5 404.4h0M225.6 398.3h0M225.7 419.9h0M225.9 384.2h0M226.0 397.4h0M226.2 408.5h0M226.3 399.3h0M226.4 405.4h0M226.5 410.3h0M226.6 395.5h0M226.7 406.9h0M226.9 418.3h0M227.0 409.3h0M227.1 403.2h0M227.2 414.7h0M227.3 387.1h0M227.4 414.9h0M227.5 381.4h0M227.6 391.7h0M227.7 413.4h0M227.9 400.9h0M228.0 388.6h0M228.1 404.8h0M228.2 416.7h0M228.3 401.4h0M228.4 379.3h0M228.5 420.4h0M228.6 396.4h0M228.7 402.9h0M228.8 404.4h0M228.9 422.7h0M228.9 407.0h0M229.0 391.0h0M229.1 396.3h0M229.2 415.2h0M229.3 385.1h0M229.4 418.8h0M229.5 395.8h0M229.6 401.5h0M229.7 389.3h0M229.8 399.1h0M230.1 390.3h0M230.3 402.7h0M230.4 390.8h0M230.5 398.0h0M230.6 376.6h0M230.7 410.0h0M230.7 387.5h0M230.8 395.9h0M230.9 399.2h0M231.0 407.8h0M231.1 395.6h0M231.2 418.1h0M231.3 416.7h0M231.4 392.0h0M231.5 418.6h0M231.6 383.1h0M231.7 403.1h0M231.8 396.8h0M231.9 398.6h0M232.0 394.4h0M232.1 402.5h0M232.2 403.4h0M232.3 400.3h0M232.4 386.3h0M232.5 385.1h0M232.6 383.3h0M232.6 393.9h0M232.7 400.4h0M232.8 417.7h0M232.9 390.1h0M233.0 387.6h0M233.1 402.1h0M233.2 387.6h0M233.3 381.8h0M233.4 395.7h0M233.5 384.2h0M233.6 392.8h0M233.8 416.6h0M233.9 401.5h0M234.0 400.6h0M234.1 389.4h0M234.2 405.6h0M234.3 400.5h0M234.4 406.5h0M234.5 395.4h0M234.5 394.1h0M234.6 383.3h0M234.7 385.4h0M234.8 392.8h0M234.9 391.8h0M235.0 393.3h0M235.1 393.2h0M235.2 376.3h0M235.3 423.8h0M235.4 396.5h0M235.5 390.7h0M235.6 381.0h0M235.7 407.2h0M235.8 390.1h0M235.9 384.0h0M236.0 399.4h0M236.1 416.6h0M236.2 398.3h0M236.3 408.1h0M236.3 386.2h0M236.4 403.9h0M236.5 372.8h0M236.6 392.1h0M236.7 403.2h0M236.8 399.6h0M236.9 406.5h0M237.0 389.0h0M237.1 375.9h0M237.2 396.0h0M237.3 382.5h0M237.4 404.5h0M237.5 389.7h0M237.6 366.1h0M237.7 409.8h0M237.8 378.6h0M237.9 379.2h0M238.0 415.2h0M238.1 409.9h0M238.2 404.5h0M238.2 381.5h0M238.3 397.9h0M238.4 394.8h0M238.5 384.4h0M238.6 391.3h0M238.7 390.0h0M238.8 396.4h0M238.9 379.3h0M239.0 401.7h0M239.1 372.7h0M239.2 396.4h0M239.3 401.8h0M239.4 384.7h0M239.5 386.9h0M239.6 415.6h0M239.7 389.5h0M239.8 408.1h0M239.9 401.9h0M240.0 382.7h0M240.0 402.2h0M240.1 387.7h0M240.2 396.4h0M240.3 369.0h0M240.4 392.9h0M240.5 405.6h0M240.7 404.7h0M240.8 402.3h0M240.9 390.0h0M241.0 391.5h0M241.1 380.0h0M241.2 389.4h0M241.3 389.9h0M241.5 387.5h0M241.6 392.8h0M241.7 387.7h0M241.8 381.9h0M241.9 381.8h0M241.9 397.5h0M242.0 411.9h0M242.1 400.5h0M242.2 387.6h0M242.4 420.2h0M242.5 392.6h0M242.6 385.4h0M242.7 397.3h0M242.8 403.8h0M242.9 369.9h0M243.0 374.2h0M243.1 393.5h0M243.2 374.8h0M243.3 375.1h0M243.4 403.7h0M243.5 361.7h0M243.7 401.3h0M243.8 393.3h0M243.8 403.1h0M243.9 389.2h0M244.0 405.6h0M244.1 390.1h0M244.2 377.2h0M244.3 387.5h0M244.4 393.2h0M244.5 371.9h0M244.6 400.8h0M244.7 378.8h0M244.8 393.9h0M244.9 387.8h0M245.0 390.1h0M245.1 389.0h0M245.2 391.2h0M245.3 399.8h0M245.4 397.4h0M245.5 385.5h0M245.6 392.0h0M245.6 404.6h0M245.7 399.2h0M245.8 399.1h0M245.9 391.6h0M246.0 388.9h0M246.1 390.0h0M246.2 398.9h0M246.3 391.0h0M246.4 407.4h0M246.6 425.4h0M246.7 392.1h0M246.8 411.0h0M246.9 402.7h0M247.0 405.8h0M247.1 384.2h0M247.2 406.0h0M247.3 388.5h0M247.5 397.7h0M247.5 406.6h0M247.6 410.6h0M247.7 386.6h0M247.8 387.6h0M247.9 383.0h0M248.0 370.6h0M248.1 389.1h0M248.2 389.0h0M248.3 393.9h0M248.4 391.2h0M248.5 396.7h0M248.6 403.2h0M248.7 369.1h0M248.8 414.7h0M248.9 389.8h0M249.0 387.6h0M249.1 381.8h0M249.2 404.3h0M249.3 395.3h0M249.4 398.5h0M249.4 405.8h0M249.5 393.7h0M249.6 398.1h0M249.7 399.8h0M249.8 385.3h0M249.9 406.0h0M250.0 388.3h0M250.1 401.2h0M250.2 388.6h0M250.3 392.9h0M250.4 404.4h0M250.5 405.4h0M250.6 403.0h0M250.7 404.0h0M250.8 391.9h0M250.9 385.2h0M251.0 381.3h0M251.1 410.4h0M251.2 393.2h0M251.3 413.4h0M251.4 411.8h0M251.6 404.8h0M251.7 402.5h0M251.8 413.1h0M251.9 415.8h0M252.0 388.6h0M252.1 404.5h0M252.2 414.9h0M252.3 367.7h0M252.4 393.2h0M252.5 399.1h0M252.6 387.4h0M252.7 404.4h0M252.8 376.8h0M252.9 413.8h0M253.0 411.1h0M253.1 397.4h0M253.1 404.9h0M253.2 379.3h0M253.3 414.9h0M253.4 404.7h0M253.6 393.5h0M253.7 389.7h0M253.8 384.6h0M253.9 392.5h0M254.0 370.6h0M254.1 402.3h0M254.2 394.7h0M254.3 386.7h0M254.4 400.7h0M254.5 400.5h0M254.6 402.6h0M254.7 404.8h0M254.8 410.6h0M254.9 403.9h0M255.0 415.7h0M255.0 393.0h0M255.1 416.3h0M255.2 373.3h0M255.3 377.7h0M255.4 384.8h0M255.5 400.4h0M255.6 404.9h0M255.7 383.6h0M255.8 396.0h0M255.9 391.6h0M256.0 406.8h0M256.1 385.8h0M256.2 407.9h0M256.3 397.3h0M256.4 419.0h0M256.5 406.4h0M256.6 392.8h0M256.7 404.1h0M256.8 404.2h0M256.8 389.7h0M256.9 399.9h0M257.0 384.5h0M257.1 427.7h0M257.2 392.6h0M257.3 412.5h0M257.4 417.6h0M257.5 414.8h0M257.6 389.2h0M257.7 412.2h0M257.8 407.2h0M257.9 392.7h0M258.0 403.8h0M258.2 394.3h0M258.3 410.1h0M258.4 396.4h0M258.5 387.2h0M258.6 396.1h0M258.7 425.8h0M258.8 392.2h0M258.9 399.2h0M259.0 410.6h0M259.1 383.5h0M259.2 420.5h0M259.3 377.8h0M259.5 407.4h0M259.7 381.4h0M259.8 400.4h0M259.9 415.6h0M260.0 398.8h0M260.1 396.0h0M260.2 393.5h0M260.3 387.4h0M260.4 410.5h0M260.5 394.1h0M260.6 391.2h0M260.8 403.1h0M260.9 411.0h0M261.0 411.2h0M261.1 391.1h0M261.2 390.5h0M261.3 409.7h0M261.4 415.7h0M261.5 385.3h0M261.6 408.7h0M261.7 398.1h0M261.8 409.4h0M261.9 420.6h0M262.0 398.5h0M262.1 402.2h0M262.2 383.0h0M262.3 373.2h0M262.4 402.2h0M262.4 387.9h0M262.5 387.6h0M262.6 406.1h0M262.7 410.2h0M262.8 381.0h0M262.9 404.3h0M263.0 400.3h0M263.1 403.4h0M263.2 401.5h0M263.3 407.1h0M263.4 391.1h0M263.6 385.2h0M263.7 404.3h0M263.8 416.2h0M263.9 399.4h0M264.0 417.5h0M264.1 407.5h0M264.2 385.4h0M264.3 372.6h0M264.3 395.5h0M264.4 412.5h0M264.5 390.8h0M264.7 426.4h0M264.8 408.1h0M264.9 382.0h0M265.0 391.0h0M265.1 415.8h0M265.2 418.8h0M265.3 388.9h0M265.4 399.2h0M265.5 405.4h0M265.6 393.3h0M265.8 404.3h0M265.9 419.9h0M266.0 387.5h0M266.1 404.3h0M266.2 408.2h0M266.2 411.8h0M266.3 392.9h0M266.4 405.0h0M266.5 387.9h0M266.6 398.1h0M266.8 381.7h0M266.9 398.7h0M267.0 401.6h0M267.1 416.8h0M267.3 406.0h0M267.4 384.2h0M267.5 362.4h0M267.7 406.6h0M267.8 403.8h0M267.9 387.3h0M268.0 385.4h0M268.0 398.7h0M268.1 389.5h0M268.2 409.1h0M268.3 393.4h0M268.4 379.0h0M268.5 370.3h0M268.6 363.1h0M268.7 392.6h0M268.8 384.2h0M268.9 376.4h0M269.1 383.7h0M269.2 398.3h0M269.3 385.2h0M269.4 378.0h0M269.5 397.8h0M269.6 398.3h0M269.7 383.4h0M269.8 385.0h0M269.9 377.9h0M269.9 388.3h0M270.0 396.9h0M270.1 394.4h0M270.2 401.4h0M270.3 400.4h0M270.4 395.8h0M270.5 394.9h0M270.6 396.2h0M270.7 403.6h0M270.8 389.7h0M270.9 396.1h0M271.0 371.6h0M271.1 386.0h0M271.3 393.5h0M271.4 379.4h0M271.5 388.2h0M271.6 394.6h0M271.8 370.9h0M271.9 380.5h0M272.0 368.5h0M272.1 375.3h0M272.2 379.7h0M272.3 387.3h0M272.4 401.6h0M272.5 380.4h0M272.6 387.9h0M272.7 380.8h0M272.8 388.8h0M272.9 396.9h0M273.0 400.6h0M273.1 380.4h0M273.3 373.4h0M273.4 392.0h0M273.5 383.3h0M273.6 372.3h0M273.6 398.4h0M273.7 392.6h0M273.8 401.7h0M273.9 374.6h0M274.0 385.4h0M274.1 393.9h0M274.2 408.0h0M274.3 390.6h0M274.4 376.7h0M274.5 391.9h0M274.6 393.4h0M274.7 380.8h0M275.0 402.8h0M275.1 387.7h0M275.2 381.2h0M275.3 400.5h0M275.4 398.0h0M275.5 385.3h0M275.5 389.4h0M275.6 391.0h0M275.7 385.7h0M275.8 385.5h0M275.9 399.0h0M276.0 396.0h0M276.1 382.8h0M276.2 391.2h0M276.3 372.1h0M276.4 398.0h0M276.5 375.1h0M276.6 379.1h0M276.7 388.3h0M276.8 382.2h0M276.9 378.2h0M277.0 366.9h0M277.1 400.3h0M277.2 380.8h0M277.3 389.5h0M277.4 390.3h0M277.4 374.3h0M277.5 378.2h0M277.6 399.7h0M277.7 391.1h0M277.9 385.1h0M278.0 404.3h0M278.1 377.5h0M278.2 388.6h0M278.4 385.7h0M278.5 383.7h0M278.6 366.4h0M278.7 387.2h0M278.8 391.8h0M278.9 367.2h0M279.0 393.5h0M279.1 393.9h0M279.2 404.0h0M279.2 375.1h0M279.3 384.6h0M279.4 382.4h0M279.5 386.0h0M279.6 389.6h0M279.7 397.3h0M279.8 397.3h0M280.0 383.1h0M280.1 386.8h0M280.4 369.3h0M280.5 397.4h0M280.6 394.2h0M280.7 400.5h0M280.8 372.4h0M280.9 403.1h0M281.0 379.7h0M281.1 371.9h0M281.1 390.5h0M281.2 380.4h0M281.3 413.9h0M281.4 393.5h0M281.5 408.5h0M281.7 387.1h0M281.8 389.1h0M281.9 398.2h0M282.1 378.2h0M282.2 385.2h0M282.3 395.6h0M282.4 395.5h0M282.5 406.8h0M282.6 391.8h0M282.7 364.8h0M282.8 398.0h0M282.9 384.8h0M283.0 396.2h0M283.0 380.4h0M283.1 384.7h0M283.2 392.7h0M283.3 410.9h0M283.4 396.1h0M283.5 376.0h0M283.6 393.0h0M283.7 382.8h0M283.8 395.9h0M283.9 412.2h0M284.0 385.3h0M284.1 386.6h0M284.2 397.2h0M284.3 394.8h0M284.4 387.2h0M284.5 397.6h0M284.6 386.6h0M284.7 393.1h0M284.8 418.4h0M284.8 392.5h0M284.9 397.9h0M285.0 400.7h0M285.1 386.5h0M285.2 397.4h0M285.3 385.7h0M285.4 379.7h0M285.5 391.3h0M285.6 411.5h0M285.7 402.4h0M285.8 383.5h0M285.9 397.7h0M286.0 404.6h0M286.1 396.6h0M286.2 390.1h0M286.3 393.3h0M286.4 389.2h0M286.5 406.9h0M286.6 400.9h0M286.7 401.1h0M286.7 398.8h0M286.8 423.6h0M286.9 402.2h0M287.0 415.6h0M287.1 384.0h0M287.2 382.4h0M287.3 381.4h0M287.4 392.1h0M287.5 407.7h0M287.6 391.2h0M287.7 405.2h0M287.8 396.1h0M287.9 414.3h0M288.0 411.0h0M288.1 399.1h0M288.2 384.2h0M288.3 405.7h0M288.4 379.4h0M288.5 376.7h0M288.5 421.8h0M288.6 407.5h0M288.7 418.8h0M288.8 409.7h0M288.9 414.7h0M289.0 409.7h0M289.1 398.0h0M289.2 398.7h0M289.4 406.8h0M289.5 409.7h0M289.6 408.4h0M289.7 408.2h0M289.8 403.0h0M289.9 409.6h0M290.0 403.8h0M290.1 425.0h0M290.2 400.3h0M290.3 389.1h0M290.4 407.4h0M290.4 426.1h0M290.5 393.6h0M290.6 413.3h0M290.7 444.5h0M290.8 412.0h0M290.9 402.3h0M291.0 404.9h0M291.1 394.8h0M291.2 402.0h0M291.3 407.8h0M291.5 432.5h0M291.6 422.3h0M291.8 407.1h0M291.9 401.2h0M292.0 421.2h0M292.1 416.3h0M292.2 403.6h0M292.3 431.5h0M292.3 431.9h0M292.4 411.7h0M292.5 406.0h0M292.6 414.6h0M292.7 435.9h0M292.8 408.6h0M292.9 424.5h0M293.0 401.2h0M293.2 410.0h0M293.3 405.7h0M293.4 401.2h0M293.5 414.9h0M293.6 399.0h0M293.8 394.1h0M293.9 404.0h0M294.0 393.0h0M294.1 416.0h0M294.1 397.8h0M294.2 405.4h0M294.3 420.1h0M294.4 409.4h0M294.5 414.7h0M294.6 414.9h0M294.7 407.4h0M294.8 395.9h0M294.9 412.1h0M295.0 406.9h0M295.1 425.6h0M295.2 407.0h0M295.3 394.7h0M295.4 398.7h0M295.5 402.6h0M295.6 414.4h0M295.7 419.6h0M295.8 409.3h0M295.9 423.9h0M296.0 422.6h0M296.1 397.0h0M296.2 418.7h0M296.4 386.5h0M296.5 424.3h0M296.6 402.3h0M296.7 421.0h0M296.8 405.0h0M296.9 419.2h0M297.0 406.3h0M297.1 408.5h0M297.2 411.8h0M297.3 400.4h0M297.4 388.5h0M297.5 413.1h0M297.6 395.6h0M297.7 404.8h0M297.8 406.0h0M297.9 379.6h0M298.0 430.8h0M298.1 413.1h0M298.2 426.3h0M298.3 408.5h0M298.4 407.4h0M298.5 375.0h0M298.6 400.3h0M298.7 383.1h0M298.8 388.8h0M298.9 409.2h0M299.0 374.3h0M299.1 384.1h0M299.2 401.5h0M299.3 401.0h0M299.4 397.4h0M299.5 420.8h0M299.6 412.6h0M299.7 398.9h0M299.7 396.3h0M299.8 413.4h0M299.9 406.2h0M300.0 405.9h0M300.1 403.9h0M300.2 393.8h0M300.3 400.6h0M300.4 399.8h0M300.5 418.2h0M300.7 413.7h0M300.8 397.4h0M300.9 419.8h0M301.1 397.6h0M301.2 408.4h0M301.4 409.9h0M301.6 392.4h0M301.6 407.9h0M301.7 409.9h0M301.8 407.6h0M301.9 398.8h0M302.1 369.7h0M302.3 423.9h0M302.4 399.0h0M302.5 401.5h0M302.6 387.3h0M302.7 402.8h0M302.8 418.0h0M302.9 382.5h0M303.0 410.8h0M303.1 398.5h0M303.2 413.9h0M303.3 410.7h0M303.4 403.7h0M303.5 387.7h0M303.5 387.8h0M303.6 404.8h0M303.7 391.9h0M303.9 402.2h0M304.1 396.4h0M304.2 395.9h0M304.3 390.4h0M304.4 405.0h0M304.5 399.3h0M304.6 395.2h0M304.7 396.7h0M304.8 407.2h0M304.9 377.4h0M305.0 403.2h0M305.1 388.8h0M305.3 395.3h0M305.3 404.7h0M305.4 423.5h0M305.5 373.5h0M305.6 400.2h0M305.7 412.3h0M305.8 396.2h0M305.9 371.0h0M306.0 391.7h0M306.1 412.2h0M306.2 403.2h0M306.3 381.9h0M306.4 414.3h0M306.5 399.8h0M306.6 401.2h0M306.7 372.1h0M306.8 401.1h0M306.9 382.1h0M307.0 405.7h0M307.1 407.1h0M307.2 385.8h0M307.3 390.3h0M307.4 418.1h0M307.5 390.1h0M307.7 390.0h0M307.8 404.9h0M307.9 395.0h0M308.0 394.4h0M308.1 403.3h0M308.2 404.5h0M308.4 405.5h0M308.5 400.8h0M308.6 413.3h0M308.7 398.1h0M308.8 415.2h0M308.9 396.7h0M309.0 398.6h0M309.1 409.8h0M309.1 387.5h0M309.2 374.7h0M309.3 381.9h0M309.4 413.7h0M309.5 401.8h0M309.6 394.9h0M309.7 398.1h0M309.8 404.5h0M309.9 397.6h0M310.0 381.1h0M310.1 391.1h0M310.2 420.4h0M310.3 405.4h0M310.4 402.4h0M310.5 390.5h0M310.6 375.4h0M310.7 409.9h0M310.8 397.5h0M310.9 402.0h0M310.9 406.3h0M311.0 392.7h0M311.1 368.6h0M311.2 414.2h0M311.3 409.6h0M311.4 383.3h0M311.5 393.7h0M311.6 391.2h0M311.7 403.3h0M311.9 401.9h0M312.0 392.0h0M312.1 403.2h0M312.2 410.5h0M312.3 397.4h0M312.4 386.7h0M312.5 409.5h0M312.6 384.9h0M312.7 389.1h0M312.8 407.5h0M312.8 397.2h0M313.0 397.8h0M313.1 389.8h0M313.2 415.8h0M313.3 412.6h0M313.4 413.2h0M313.5 385.1h0M313.6 396.0h0M313.7 392.5h0M313.8 393.5h0M313.9 379.5h0M314.0 411.8h0M314.1 384.8h0M314.3 407.4h0M314.4 389.2h0M314.5 382.1h0M314.7 414.3h0M314.7 393.3h0M314.8 401.3h0M314.9 401.6h0M315.0 397.7h0M315.1 410.6h0M315.2 409.7h0M315.3 390.6h0M315.4 388.5h0M315.5 405.2h0M315.6 415.7h0M315.7 371.3h0M315.8 385.7h0M315.9 394.5h0M316.0 410.9h0M316.1 405.7h0M316.2 396.0h0M316.3 410.2h0M316.4 380.1h0M316.5 397.4h0M316.5 394.5h0M316.6 411.3h0M316.7 409.9h0M316.8 408.5h0M316.9 396.1h0M317.0 402.5h0M317.1 402.8h0M317.2 395.8h0M317.3 396.9h0M317.4 382.2h0M317.6 402.0h0M317.7 411.7h0M317.8 400.0h0M317.9 382.7h0M318.0 406.4h0M318.1 399.4h0M318.2 404.3h0M318.3 395.4h0M318.4 397.2h0M318.4 409.7h0M318.5 403.0h0M318.6 389.3h0M318.7 387.6h0M318.8 389.6h0M318.9 390.4h0M319.0 404.5h0M319.1 404.9h0M319.2 389.8h0M319.3 414.5h0M319.5 401.5h0M319.6 422.7h0M319.7 405.4h0M319.8 409.3h0M320.0 415.2h0M320.1 394.4h0M320.2 409.9h0M320.3 405.6h0M320.3 404.4h0M320.4 410.0h0M320.5 402.5h0M320.6 407.3h0M320.7 399.3h0M320.8 416.9h0M320.9 407.2h0M321.0 405.5h0M321.2 405.5h0M321.3 408.8h0M321.4 400.3h0M321.5 383.8h0M321.6 403.6h0M321.7 403.8h0M321.8 406.8h0M321.9 372.6h0M322.0 383.4h0M322.1 395.9h0M322.1 394.2h0M322.2 410.8h0M322.3 404.3h0M322.6 434.3h0M322.7 401.2h0M322.8 412.6h0M322.9 411.8h0M323.0 396.6h0M323.1 399.0h0M323.2 427.4h0M323.3 401.7h0M323.4 387.9h0M323.5 410.3h0M323.6 400.0h0M323.7 419.8h0M324.0 393.2h0M324.0 416.0h0M324.1 417.6h0M324.2 406.7h0M324.3 375.3h0M324.4 410.2h0M324.5 417.8h0M324.6 397.7h0M324.7 400.4h0M324.8 383.8h0M324.9 426.6h0M325.0 421.8h0M325.1 406.9h0M325.2 398.8h0M325.3 399.1h0M325.4 390.6h0M325.5 420.8h0M325.6 413.0h0M325.7 404.9h0M325.8 393.6h0M325.9 397.9h0M325.9 408.4h0M326.0 415.4h0M326.1 393.2h0M326.2 392.4h0M326.3 445.2h0M326.4 405.7h0M326.5 384.7h0M326.6 417.8h0M326.7 410.0h0M326.8 411.6h0M326.9 409.1h0M327.0 414.0h0M327.1 410.1h0M327.2 404.4h0M327.3 409.1h0M327.4 396.1h0M327.5 404.9h0M327.6 403.9h0M327.7 386.7h0M327.7 400.3h0M327.8 402.2h0M327.9 404.2h0M328.0 403.3h0M328.1 397.4h0M328.2 413.5h0M328.3 420.9h0M328.4 385.8h0M328.5 390.7h0M328.6 409.9h0M328.7 422.8h0M328.8 409.4h0M329.0 402.5h0M329.1 394.7h0M329.2 406.5h0M329.3 407.9h0M329.4 386.6h0M329.5 412.3h0M329.6 392.0h0M329.6 393.9h0M329.7 420.0h0M329.8 401.3h0M329.9 411.1h0M330.0 415.7h0M330.1 426.2h0M330.2 422.9h0M330.3 399.8h0M330.4 409.2h0M330.5 401.5h0M330.6 417.2h0M330.8 408.5h0M330.9 408.0h0M331.0 422.8h0M331.1 424.2h0M331.2 399.7h0M331.3 403.1h0M331.4 415.7h0M331.5 406.0h0M331.5 397.0h0M331.6 383.4h0M331.7 415.1h0M331.8 397.5h0M331.9 380.0h0M332.0 404.0h0M332.1 387.6h0M332.2 434.9h0M332.4 387.8h0M332.5 404.8h0M332.6 426.6h0M332.7 395.6h0M332.8 392.4h0M332.9 390.6h0M333.0 390.7h0M333.1 405.0h0M333.2 413.4h0M333.3 410.0h0M333.3 405.1h0M333.5 399.9h0M333.6 410.3h0M333.7 404.1h0M333.8 394.4h0M333.9 400.8h0M334.0 377.8h0M334.2 379.4h0M334.4 418.0h0M334.5 411.2h0M334.6 419.9h0M334.7 418.2h0M334.8 398.2h0M334.9 416.2h0M335.0 416.8h0M335.1 407.7h0M335.2 395.2h0M335.2 408.7h0M335.3 408.7h0M335.4 393.8h0M335.5 399.0h0M335.6 399.2h0M335.7 393.4h0M335.8 416.3h0M335.9 402.0h0M336.0 411.9h0M336.1 392.4h0M336.2 394.9h0M336.3 416.7h0M336.4 388.8h0M336.5 418.1h0M336.6 390.7h0M336.7 402.0h0M336.8 414.6h0M336.9 417.5h0M337.0 408.0h0M337.1 404.7h0M337.1 412.7h0M337.2 397.8h0M337.3 420.8h0M337.4 404.5h0M337.5 404.4h0M337.6 426.3h0M337.7 400.7h0M337.8 419.2h0M337.9 433.7h0M338.0 411.6h0M338.1 407.0h0M338.3 393.7h0M338.4 410.0h0M338.5 387.0h0M338.6 387.4h0M338.7 391.5h0M338.8 388.8h0M338.9 400.2h0M338.9 410.8h0M339.0 396.7h0M339.2 392.9h0M339.3 401.5h0M339.4 407.1h0M339.5 422.7h0M339.6 396.3h0M339.7 400.1h0M339.8 419.5h0M340.0 403.0h0M340.1 395.7h0M340.2 405.5h0M340.3 395.0h0M340.4 395.3h0M340.5 421.6h0M340.7 407.7h0M340.8 398.5h0M340.8 393.4h0M340.9 387.6h0M341.0 426.7h0M341.1 404.9h0M341.2 395.7h0M341.3 389.8h0M341.4 384.3h0M341.5 415.2h0M341.6 408.6h0M341.7 416.7h0M341.8 394.7h0M341.9 419.9h0M342.0 390.4h0M342.1 393.4h0M342.2 398.7h0M342.3 430.0h0M342.4 412.5h0M342.5 395.7h0M342.6 421.2h0M342.6 407.4h0M342.7 405.8h0M342.8 394.1h0M342.9 401.3h0M343.1 401.5h0M343.2 409.9h0M343.3 404.7h0M343.4 406.4h0M343.5 396.2h0M343.6 407.0h0M343.7 392.7h0M343.9 425.0h0M344.0 390.8h0M344.2 407.0h0M344.3 391.7h0M344.4 404.1h0M344.5 395.0h0M344.5 387.5h0M344.6 411.7h0M344.7 404.3h0M344.9 407.3h0M345.0 402.8h0M345.1 424.4h0M345.2 407.4h0M345.3 408.3h0M345.4 414.7h0M345.5 407.7h0M345.6 423.7h0M345.7 389.0h0M345.8 375.8h0M345.9 383.3h0M346.0 415.9h0M346.1 419.4h0M346.2 402.3h0M346.3 425.3h0M346.4 403.1h0M346.5 414.1h0M346.6 409.7h0M346.7 402.8h0M346.8 405.3h0M346.9 383.9h0M347.0 398.5h0M347.1 421.2h0M347.2 394.4h0M347.3 421.8h0M347.4 405.0h0M347.5 420.8h0M347.6 415.9h0M347.8 390.6h0M347.9 412.8h0M348.0 413.8h0M348.1 412.9h0M348.2 410.0h0M348.2 389.3h0M348.3 420.3h0M348.4 421.0h0M348.5 399.6h0M348.6 425.3h0M348.7 410.8h0M348.8 393.1h0M348.9 406.5h0M349.0 412.2h0M349.1 415.0h0M349.2 417.4h0M349.3 419.7h0M349.4 405.1h0M349.5 392.1h0M349.6 395.4h0M349.7 413.5h0M349.8 415.5h0M349.9 398.7h0M350.0 428.3h0M350.1 412.1h0M350.2 410.8h0M350.3 420.2h0M350.4 423.3h0M350.5 403.0h0M350.6 426.7h0M350.7 419.3h0M350.8 414.9h0M350.9 406.3h0M351.0 423.5h0M351.1 394.5h0M351.2 411.0h0M351.3 410.5h0M351.4 411.7h0M351.5 415.5h0M351.6 419.1h0M351.7 394.1h0M351.8 405.2h0M351.9 409.0h0M352.0 396.0h0M352.0 416.1h0M352.1 400.4h0M352.2 407.6h0M352.3 418.3h0M352.4 398.9h0M352.5 425.5h0M352.6 400.3h0M352.7 418.4h0M352.8 403.2h0M352.9 391.8h0M353.0 401.4h0M353.1 415.2h0M353.2 408.5h0M353.3 412.6h0M353.4 422.1h0M353.5 421.3h0M353.6 407.8h0M353.7 402.1h0M353.8 429.2h0M353.8 409.3h0M353.9 402.5h0M354.0 407.2h0M354.1 420.4h0M354.3 396.5h0M354.4 423.0h0M354.5 401.1h0M354.6 389.9h0M354.7 432.8h0M354.8 405.8h0M354.9 405.2h0M355.0 406.2h0M355.1 418.0h0M355.2 412.6h0M355.3 425.4h0M355.4 407.4h0M355.5 402.6h0M355.6 416.7h0M355.7 419.8h0M355.7 414.5h0M355.8 409.0h0M355.9 408.2h0M356.1 410.1h0M356.2 408.1h0M356.3 424.2h0M356.5 440.9h0M356.6 401.6h0M356.7 392.1h0M356.8 425.4h0M356.9 416.6h0M357.0 405.3h0M357.1 397.6h0M357.2 401.2h0M357.3 393.8h0M357.4 409.4h0M357.5 403.9h0M357.6 403.9h0M357.6 413.8h0M357.7 394.6h0M357.8 401.4h0M357.9 397.2h0M358.0 413.3h0M358.1 396.6h0M358.2 421.0h0M358.3 404.0h0M358.4 439.3h0M358.5 420.5h0M358.6 400.0h0M358.7 413.9h0M358.9 406.6h0M359.0 427.6h0M359.1 390.5h0M359.2 401.6h0M359.3 408.9h0M359.4 403.7h0M359.4 404.7h0M359.5 392.0h0M359.6 406.0h0M359.7 425.7h0M359.8 411.5h0M359.9 393.5h0M360.0 401.8h0M360.1 413.4h0M360.2 401.3h0M360.3 407.1h0M360.4 387.8h0M360.5 427.0h0M360.6 418.9h0M360.8 400.6h0M360.9 411.0h0M361.0 404.2h0M361.1 385.4h0M361.2 412.0h0M361.3 405.5h0M361.3 414.8h0M361.4 415.6h0M361.5 419.8h0M361.6 425.2h0M361.7 432.8h0M361.8 392.3h0M361.9 409.4h0M362.1 395.0h0M362.2 406.7h0M362.3 449.1h0M362.4 400.3h0M362.5 399.7h0M362.6 422.2h0M362.7 394.0h0M362.8 419.4h0M362.9 413.3h0M363.0 378.2h0M363.1 407.1h0M363.2 388.6h0M363.2 412.1h0M363.3 400.8h0M363.5 407.4h0M363.6 403.1h0M363.7 418.0h0M363.8 418.7h0M363.9 404.0h0M364.0 426.2h0M364.1 417.8h0M364.2 400.4h0M364.3 415.1h0M364.4 418.3h0M364.5 420.8h0M364.6 406.1h0M364.7 412.1h0M364.8 406.1h0M364.9 410.0h0M365.0 386.2h0M365.0 412.9h0M365.1 430.6h0M365.2 406.4h0M365.3 407.7h0M365.4 405.9h0M365.5 426.5h0M365.6 394.5h0M365.7 408.0h0M365.8 408.2h0M365.9 426.1h0M366.0 402.1h0M366.1 408.4h0M366.2 391.8h0M366.3 412.4h0M366.4 422.0h0M366.5 406.1h0M366.6 418.2h0M366.7 402.7h0M366.8 420.1h0M366.9 409.0h0M366.9 410.1h0M367.0 407.9h0M367.1 413.5h0M367.3 416.9h0M367.4 408.1h0M367.6 414.1h0M367.7 405.6h0M367.8 410.5h0M367.9 433.5h0M368.0 408.1h0M368.1 376.8h0M368.2 403.8h0M368.3 400.3h0M368.4 416.4h0M368.5 412.7h0M368.6 422.8h0M368.7 397.8h0M368.8 395.0h0M368.8 400.6h0M368.9 402.3h0M369.0 402.6h0M369.1 407.5h0M369.2 404.0h0M369.3 407.0h0M369.4 403.3h0M369.5 418.1h0M369.6 414.4h0M369.7 400.5h0M369.8 411.0h0M369.9 435.0h0M370.1 405.6h0M370.2 433.4h0M370.3 384.9h0M370.4 398.7h0M370.5 399.2h0M370.6 414.6h0M370.6 419.9h0M370.7 409.4h0M370.8 406.7h0M370.9 415.8h0M371.0 405.0h0M371.2 398.9h0M371.3 399.9h0M371.4 418.8h0M371.5 431.7h0M371.7 397.6h0M371.8 414.3h0M371.9 401.6h0M372.0 387.8h0M372.1 387.8h0M372.2 403.3h0M372.3 393.9h0M372.4 387.7h0M372.5 406.1h0M372.5 403.4h0M372.6 396.8h0M372.7 406.9h0M372.8 412.2h0M372.9 415.1h0M373.0 406.4h0M373.1 413.6h0M373.2 397.3h0M373.3 410.2h0M373.4 389.6h0M373.5 392.5h0M373.6 420.5h0M373.7 393.9h0M373.8 410.9h0M373.9 390.6h0M374.0 400.4h0M374.1 416.4h0M374.2 398.5h0M374.3 412.6h0M374.4 402.4h0M374.6 401.7h0M374.7 407.8h0M374.8 401.6h0M375.0 417.4h0M375.1 399.6h0M375.2 419.8h0M375.3 398.8h0M375.4 400.5h0M375.5 397.8h0M375.6 412.3h0M375.7 375.7h0M375.8 408.4h0M375.9 404.1h0M376.0 414.4h0M376.1 389.4h0M376.2 411.1h0M376.2 394.4h0M376.3 416.5h0M376.4 402.1h0M376.5 409.9h0M376.6 395.0h0M376.7 408.9h0M376.8 415.4h0M377.2 400.4h0M377.3 419.1h0M377.4 416.3h0M377.5 396.7h0M377.6 426.7h0M377.7 396.7h0M377.8 409.9h0M377.9 415.7h0M378.0 402.5h0M378.1 398.1h0M378.1 411.9h0M378.2 407.2h0M378.3 396.1h0M378.4 396.6h0M378.5 405.7h0M378.7 413.9h0M378.9 415.8h0M379.0 411.8h0M379.1 397.3h0M379.2 398.5h0M379.3 401.5h0M379.4 389.2h0M379.5 408.4h0M379.6 394.1h0M379.7 409.4h0M379.8 383.4h0M379.9 428.3h0M380.0 401.8h0M380.0 400.0h0M380.1 404.4h0M380.2 378.6h0M380.3 391.8h0M380.4 396.4h0M380.5 415.3h0M380.6 399.5h0M380.7 409.3h0M380.9 404.7h0M381.0 402.9h0M381.1 410.6h0M381.2 398.1h0M381.3 386.8h0M381.4 393.5h0M381.5 402.8h0M381.6 427.1h0M381.7 393.0h0M381.8 421.7h0M381.8 407.5h0M381.9 410.7h0M382.0 397.9h0M382.1 414.5h0M382.2 396.3h0M382.3 417.5h0M382.4 415.8h0M382.5 405.2h0M382.7 421.8h0M382.8 405.4h0M382.9 399.4h0M383.0 420.3h0M383.1 395.0h0M383.2 411.8h0M383.3 399.3h0M383.4 403.1h0M383.5 410.7h0M383.6 411.5h0M383.7 424.8h0M383.7 413.4h0M383.8 414.3h0M383.9 387.1h0M384.0 394.2h0M384.1 421.1h0M384.2 396.7h0M384.3 403.2h0M384.4 410.0h0M384.5 400.5h0M384.6 396.8h0M384.7 412.2h0M384.8 408.9h0M384.9 403.9h0M385.1 416.9h0M385.2 403.8h0M385.3 406.8h0M385.4 413.5h0M385.5 415.4h0M385.6 402.5h0M385.6 396.1h0M385.7 402.3h0M385.8 415.6h0M386.0 397.6h0M386.1 404.1h0M386.2 399.4h0M386.3 393.0h0M386.4 416.3h0M386.6 407.7h0M386.7 412.9h0M386.8 416.0h0M386.9 383.7h0M387.0 395.7h0M387.2 426.1h0M387.3 401.5h0M387.4 412.6h0M387.4 393.5h0M387.5 405.4h0M387.7 408.4h0M387.8 404.8h0M387.9 402.1h0M388.1 406.1h0M388.2 409.0h0M388.3 408.1h0M388.4 400.8h0M388.5 419.2h0M388.6 406.6h0M388.7 408.0h0M388.8 412.1h0M388.9 398.4h0M389.0 442.8h0M389.2 410.8h0M389.3 416.3h0M389.3 400.6h0M389.4 412.0h0M389.5 406.3h0M389.6 402.5h0M389.7 424.7h0M389.8 401.8h0M389.9 415.3h0M390.0 409.8h0M390.1 408.2h0M390.2 397.9h0M390.3 398.7h0M390.4 387.2h0M390.5 405.0h0M390.6 412.4h0M390.7 412.7h0M390.8 399.7h0M390.9 389.1h0M391.0 403.3h0M391.1 413.6h0M391.2 404.1h0M391.2 404.3h0M391.3 406.8h0M391.4 415.5h0M391.6 435.9h0M391.7 420.2h0M391.8 396.0h0M391.9 405.5h0M392.0 432.8h0M392.1 408.2h0M392.2 429.1h0M392.4 386.4h0M392.5 406.7h0M392.6 422.5h0M392.8 400.4h0M393.0 418.4h0M393.0 403.5h0M393.1 409.7h0M393.2 423.3h0M393.3 402.8h0M393.4 425.4h0M393.7 395.9h0M393.8 410.4h0M393.9 422.8h0M394.0 431.7h0M394.1 393.4h0M394.2 395.4h0M394.3 425.9h0M394.4 393.6h0M394.5 410.3h0M394.6 414.8h0M394.7 413.5h0M394.8 415.7h0M394.9 396.8h0M394.9 411.3h0M395.0 433.8h0M395.1 389.8h0M395.2 403.5h0M395.3 425.8h0M395.4 417.7h0M395.5 424.0h0M395.6 413.5h0M395.7 409.8h0M395.8 411.7h0M395.9 421.2h0M396.1 423.8h0M396.2 405.5h0M396.3 416.3h0M396.5 390.3h0M396.6 424.7h0M396.7 407.0h0M396.7 415.3h0M396.8 424.4h0M396.9 400.7h0M397.0 414.6h0M397.2 426.1h0M397.3 419.7h0M397.4 404.7h0M397.5 429.9h0M397.6 400.8h0M397.7 408.6h0M397.8 419.4h0M397.9 401.1h0M398.1 396.8h0M398.2 409.7h0M398.3 414.6h0M398.4 395.8h0M398.5 399.8h0M398.6 427.0h0M398.6 419.0h0M398.7 419.1h0M398.9 421.4h0M399.0 433.6h0M399.1 441.5h0M399.2 415.9h0M399.3 415.8h0M399.4 401.1h0M399.5 423.3h0M399.7 417.7h0M399.8 414.0h0M399.9 422.0h0M400.0 418.4h0M400.1 408.6h0M400.2 417.3h0M400.3 402.3h0M400.4 425.8h0M400.5 415.1h0M400.5 433.3h0M400.6 418.8h0M400.7 425.4h0M400.8 402.2h0M400.9 409.2h0M401.0 411.9h0M401.2 396.9h0M401.3 401.4h0M401.4 409.6h0M401.5 425.6h0M401.6 434.1h0M401.7 418.2h0M401.8 421.9h0M401.9 425.2h0M402.0 421.3h0M402.1 436.7h0M402.2 401.2h0M402.3 431.0h0M402.3 425.7h0M402.4 411.7h0M402.5 436.6h0M402.6 407.8h0M402.7 407.7h0M402.8 421.9h0M402.9 430.6h0M403.1 423.8h0M403.2 439.4h0M403.3 402.8h0M403.4 417.9h0M403.5 426.9h0M403.6 428.9h0M403.8 412.1h0M403.9 401.5h0M404.0 432.9h0M404.1 425.0h0M404.2 438.4h0M404.2 410.7h0M404.4 416.5h0M404.5 392.6h0M404.6 419.6h0M404.7 423.1h0M404.8 426.2h0M404.9 408.4h0M405.0 436.5h0M405.1 409.4h0M405.2 415.1h0M405.3 423.6h0M405.4 399.1h0M405.6 405.8h0M405.8 396.5h0M405.9 422.7h0M406.0 411.6h0M406.1 397.7h0M406.1 424.6h0M406.2 420.3h0M406.3 431.3h0M406.4 419.1h0M406.5 418.3h0M406.6 422.1h0M406.7 425.7h0M406.8 435.3h0M406.9 432.5h0M407.0 417.8h0M407.1 409.8h0M407.2 422.8h0M407.4 426.7h0M407.5 409.4h0M407.6 410.4h0M407.7 425.4h0M407.8 457.8h0M407.9 409.2h0M407.9 412.5h0M408.0 426.2h0M408.1 413.9h0M408.2 416.9h0M408.3 403.8h0M408.4 426.4h0M408.5 406.3h0M408.6 411.5h0M408.7 427.9h0M408.8 404.3h0M408.9 405.9h0M409.0 431.3h0M409.1 393.5h0M409.2 429.3h0M409.3 426.6h0M409.4 419.8h0M409.5 407.2h0M409.6 409.3h0M409.7 417.0h0M409.8 400.2h0M409.8 394.1h0M409.9 399.8h0M410.0 386.4h0M410.1 413.5h0M410.2 445.3h0M410.4 420.8h0M410.5 427.9h0M410.6 414.5h0M410.7 414.4h0M410.8 429.6h0M410.9 428.8h0M411.0 418.5h0M411.1 417.7h0M411.3 445.5h0M411.4 404.2h0M411.5 415.0h0M411.6 415.5h0M411.7 411.9h0M411.7 427.2h0M411.8 415.9h0M411.9 403.3h0M412.1 402.8h0M412.2 409.9h0M412.3 418.5h0M412.4 424.8h0M412.5 399.9h0M412.7 424.9h0M412.8 420.1h0M412.9 440.4h0M413.0 425.3h0M413.1 437.6h0M413.3 400.5h0M413.4 412.9h0M413.5 423.7h0M413.5 418.3h0M413.6 385.6h0M413.7 400.8h0M413.8 430.7h0M413.9 416.5h0M414.0 429.4h0M414.1 435.2h0M414.2 412.9h0M414.3 386.5h0M414.4 396.5h0M414.5 414.4h0M414.6 419.3h0M414.7 412.5h0M414.8 402.6h0M414.9 432.0h0M415.0 436.8h0M415.1 392.6h0M415.2 411.5h0M415.3 395.8h0M415.4 411.9h0M415.4 397.3h0M415.5 421.9h0M415.6 408.8h0M415.7 396.3h0M415.8 402.6h0M415.9 420.1h0M416.0 404.0h0M416.1 422.5h0M416.2 431.5h0M416.3 408.4h0M416.4 397.9h0M416.5 404.5h0M416.6 429.5h0M416.7 404.2h0M416.8 414.2h0M416.9 419.9h0M417.0 444.0h0M417.1 402.4h0M417.2 403.9h0M417.3 408.5h0M417.3 435.0h0M417.4 418.9h0M417.5 402.3h0M417.6 404.8h0M417.7 408.4h0M417.8 417.3h0M417.9 421.1h0M418.0 420.8h0M418.1 418.0h0M418.2 424.6h0M418.3 429.6h0M418.4 419.2h0M418.5 402.8h0M418.6 405.6h0M418.7 423.9h0M418.8 392.2h0M419.0 427.6h0M419.1 408.7h0M419.1 401.1h0M419.3 398.7h0M419.4 440.5h0M419.5 402.0h0M419.6 399.4h0M419.7 396.8h0M419.8 440.7h0M419.9 422.1h0M420.0 415.1h0M420.1 419.3h0M420.2 397.8h0M420.3 422.1h0M420.4 399.1h0M420.5 407.1h0M420.6 431.3h0M420.7 425.8h0M420.8 419.5h0M420.9 412.7h0M421.0 401.9h0M421.0 416.0h0M421.1 403.0h0M421.2 432.9h0M421.3 450.7h0M421.4 418.2h0M421.5 408.6h0M421.6 418.6h0M421.7 426.4h0M421.8 409.3h0M421.9 391.1h0M422.0 415.7h0M422.1 423.3h0M422.2 424.8h0M422.3 391.0h0M422.4 415.2h0M422.5 433.0h0M422.6 400.2h0M422.7 401.9h0M422.8 426.1h0M422.9 403.5h0M422.9 404.9h0M423.0 409.3h0M423.1 403.1h0M423.2 422.0h0M423.3 416.2h0M423.4 421.7h0M423.5 406.3h0M423.6 423.4h0M423.7 410.8h0M423.8 399.2h0M423.9 417.2h0M424.0 420.1h0M424.1 417.2h0M424.2 414.3h0M424.4 418.2h0M424.5 418.7h0M424.6 441.1h0M424.7 402.9h0M424.7 423.8h0M424.8 419.3h0M425.0 426.4h0M425.1 404.5h0M425.2 427.5h0M425.3 410.6h0M425.4 402.5h0M425.5 396.9h0M425.6 419.0h0M425.7 409.4h0M425.8 431.4h0M425.9 401.5h0M426.0 402.8h0M426.1 407.0h0M426.2 407.5h0M426.3 416.3h0M426.4 423.5h0M426.5 404.3h0M426.6 402.1h0M426.6 429.9h0M426.7 406.5h0M426.8 414.6h0M426.9 406.9h0M427.1 414.4h0M427.2 404.4h0M427.3 405.5h0M427.4 407.2h0M427.5 434.5h0M427.6 408.1h0M427.7 417.4h0M427.8 431.6h0M427.9 409.7h0M428.0 434.6h0M428.1 407.5h0M428.2 398.0h0M428.3 424.4h0M428.4 407.4h0M428.5 413.1h0M428.5 410.7h0M428.7 434.8h0M428.8 411.4h0M428.9 417.1h0M429.0 410.0h0M429.1 418.8h0M429.3 405.9h0M429.4 415.8h0M429.5 411.0h0M429.6 402.8h0M429.7 417.0h0M429.8 407.4h0M429.9 416.6h0M430.0 413.1h0M430.1 425.7h0M430.2 410.2h0M430.3 404.9h0M430.3 420.6h0M430.4 410.2h0M430.5 414.6h0M430.6 433.0h0M430.7 415.7h0M430.8 441.7h0M431.0 425.9h0M431.1 441.3h0M431.2 417.8h0M431.3 427.9h0M431.4 397.8h0M431.5 420.9h0M431.6 420.5h0M431.7 428.0h0M431.8 417.6h0M431.9 427.4h0M432.0 431.5h0M432.1 421.6h0M432.2 430.5h0M432.2 405.3h0M432.4 434.9h0M432.5 422.0h0M432.6 429.4h0M432.7 437.6h0M432.8 401.7h0M432.9 446.3h0M433.0 404.3h0M433.1 438.3h0M433.2 420.6h0M433.3 395.0h0M433.4 447.0h0M433.5 459.7h0M433.6 434.2h0M433.7 420.0h0M433.8 428.5h0M433.9 422.5h0M434.0 433.6h0M434.1 420.8h0M434.1 404.7h0M434.2 427.0h0M434.3 420.9h0M434.4 408.4h0M434.5 399.2h0M434.6 429.7h0M434.7 419.2h0M434.8 429.5h0M434.9 430.5h0M435.0 427.7h0M435.1 430.5h0M435.2 443.6h0M435.3 446.7h0M435.4 431.9h0M435.5 421.8h0M435.6 409.1h0M435.7 429.8h0M435.8 425.5h0M435.9 415.9h0M436.0 415.0h0M436.1 425.2h0M436.2 424.5h0M436.3 401.9h0M436.4 428.0h0M436.5 429.9h0M436.6 429.4h0M436.7 419.2h0M436.8 427.5h0M436.9 401.9h0M437.0 428.4h0M437.1 415.0h0M437.2 473.4h0M437.3 405.3h0M437.4 440.2h0M437.5 406.4h0M437.6 424.8h0M437.7 426.2h0M437.8 428.7h0M437.8 429.8h0M437.9 429.3h0M438.0 452.8h0M438.1 430.3h0M438.2 424.7h0M438.3 447.5h0M438.4 426.2h0M438.5 398.4h0M438.6 421.0h0M438.7 430.0h0M438.8 405.3h0M438.9 434.8h0M439.0 427.3h0M439.1 432.0h0M439.2 428.2h0M439.3 416.8h0M439.4 418.6h0M439.5 434.0h0M439.6 426.9h0M439.7 424.4h0M439.7 430.2h0M439.8 425.8h0M440.0 433.9h0M440.2 434.1h0M440.3 424.9h0M440.4 437.5h0M440.5 420.5h0M440.6 427.7h0M440.7 436.2h0M440.8 432.6h0M440.9 431.0h0M441.0 427.3h0M441.1 424.1h0M441.2 427.8h0M441.3 435.6h0M441.4 408.6h0M441.5 414.8h0M441.5 424.1h0M441.6 408.0h0M441.7 421.5h0M441.8 469.8h0M441.9 424.4h0M442.0 396.4h0M442.1 413.7h0M442.2 413.2h0M442.3 430.0h0M442.4 418.3h0M442.5 398.9h0M442.6 420.4h0M442.7 412.8h0M442.8 410.6h0M442.9 417.8h0M443.0 428.3h0M443.1 422.6h0M443.2 419.5h0M443.3 432.7h0M443.4 396.3h0M443.4 421.8h0M443.5 424.0h0M443.6 409.1h0M443.7 431.0h0M443.8 425.4h0M443.9 434.5h0M444.0 425.1h0M444.1 429.9h0M444.2 419.0h0M444.3 426.8h0M444.4 432.3h0M444.5 428.7h0M444.6 426.7h0M444.8 431.3h0M444.9 439.4h0M445.0 417.4h0M445.1 423.6h0M445.2 439.2h0M445.2 419.2h0M445.3 440.2h0M445.4 423.1h0M445.5 424.7h0M445.6 432.1h0M445.7 434.9h0M445.8 433.4h0M445.9 401.3h0M446.0 428.4h0M446.1 427.7h0M446.2 414.1h0M446.3 420.4h0M446.5 412.9h0M446.6 439.5h0M446.7 437.9h0M446.8 396.2h0M446.9 425.7h0M447.0 428.6h0M447.1 423.2h0M447.1 413.4h0M447.2 438.7h0M447.3 421.4h0M447.4 428.7h0M447.5 416.6h0M447.6 422.2h0M447.7 430.3h0M447.8 434.1h0M447.9 452.2h0M448.0 412.3h0M448.1 440.7h0M448.2 428.1h0M448.3 404.0h0M448.4 428.0h0M448.5 415.9h0M448.6 425.3h0M448.7 414.6h0M448.8 422.3h0M448.9 428.4h0M449.0 406.6h0M449.0 425.3h0M449.1 437.6h0M449.2 425.7h0M449.3 415.5h0M449.4 434.6h0M449.5 412.4h0M449.6 439.5h0M449.7 396.6h0M449.8 428.5h0M449.9 413.3h0M450.0 440.2h0M450.1 425.5h0M450.2 419.3h0M450.3 415.7h0M450.4 420.9h0M450.5 421.2h0M450.6 427.1h0M450.7 425.0h0M450.8 416.2h0M450.8 413.1h0M450.9 412.0h0M451.0 407.7h0M451.1 405.4h0M451.2 439.9h0M451.3 424.9h0M451.4 420.6h0M451.5 426.1h0M451.6 406.3h0M451.7 409.6h0M451.8 419.4h0M451.9 416.6h0M452.0 403.3h0M452.1 421.8h0M452.2 421.3h0M452.3 407.1h0M452.4 412.2h0M452.5 401.2h0M452.6 413.3h0M452.7 408.9h0M452.7 423.9h0M452.8 428.5h0M452.9 417.7h0M453.0 448.3h0M453.1 412.8h0M453.2 406.3h0M453.3 416.7h0M453.4 420.1h0M453.5 405.0h0M453.6 418.0h0M453.7 406.2h0M453.8 392.2h0M454.0 409.1h0M454.2 406.6h0M454.3 411.8h0M454.4 414.6h0M454.5 414.3h0M454.6 416.7h0M454.6 404.9h0M454.8 436.1h0M454.9 420.5h0M455.0 409.8h0M455.1 427.2h0M455.2 418.6h0M455.3 425.4h0M455.4 412.3h0M455.5 407.4h0M455.6 400.6h0M455.7 411.6h0M455.8 425.7h0M455.9 414.5h0M456.0 410.8h0M456.1 401.1h0M456.2 442.1h0M456.3 413.1h0M456.4 438.4h0M456.4 409.1h0M456.5 412.2h0M456.6 411.6h0M456.7 407.1h0M456.8 412.9h0M457.0 424.8h0M457.1 413.2h0M457.3 403.4h0M457.4 418.7h0M457.5 417.2h0M457.6 431.7h0M457.7 404.5h0M457.8 423.9h0M457.9 426.9h0M458.0 423.6h0M458.1 428.6h0M458.2 421.8h0M458.3 404.3h0M458.3 410.1h0M458.4 403.0h0M458.5 402.5h0M458.6 399.4h0M458.7 414.4h0M458.8 402.9h0M458.9 393.9h0M459.0 436.9h0M459.1 437.2h0M459.2 415.5h0M459.4 425.2h0M459.5 433.0h0M459.6 417.3h0M459.7 431.0h0M459.8 448.3h0M459.9 422.5h0M460.0 421.0h0M460.1 415.3h0M460.2 412.0h0M460.2 420.9h0M460.3 426.0h0M460.4 431.1h0M460.5 442.6h0M460.6 440.2h0M460.7 412.5h0M460.8 416.7h0M460.9 400.7h0M461.0 426.3h0M461.1 445.3h0M461.2 415.4h0M461.3 413.2h0M461.4 438.8h0M461.5 444.1h0M461.6 424.0h0M461.7 417.7h0M461.8 439.0h0M461.9 430.2h0M462.0 435.4h0M462.0 440.3h0M462.1 442.1h0M462.2 425.5h0M462.3 431.6h0M462.4 435.2h0M462.5 457.7h0M462.6 407.6h0M462.7 438.7h0M462.8 429.5h0M462.9 441.1h0M463.0 423.7h0M463.1 445.6h0M463.2 427.1h0M463.3 430.5h0M463.4 417.8h0M463.5 458.5h0M463.6 436.0h0M463.7 431.3h0M463.8 404.5h0M463.9 445.8h0M463.9 425.5h0M464.0 435.2h0M464.1 425.4h0M464.2 421.5h0M464.3 427.5h0M464.4 426.2h0M464.5 426.0h0M464.6 436.1h0M464.7 431.9h0M464.8 448.6h0M464.9 433.7h0M465.0 438.5h0M465.1 432.7h0M465.3 421.4h0M465.4 425.5h0M465.5 424.6h0M465.6 417.4h0M465.7 457.7h0M465.8 425.3h0M465.8 430.6h0M465.9 431.5h0M466.0 445.5h0M466.1 424.2h0M466.2 417.4h0M466.3 427.8h0M466.4 431.7h0M466.5 423.5h0M466.6 420.3h0M466.7 409.9h0M466.8 416.9h0M467.0 429.6h0M467.2 430.2h0M467.3 429.5h0M467.4 428.9h0M467.5 437.3h0M467.6 422.7h0M467.6 439.7h0M467.7 441.0h0M467.8 427.8h0M467.9 438.5h0M468.0 434.8h0M468.1 432.7h0M468.2 423.0h0M468.3 432.3h0M468.4 433.8h0M468.5 427.0h0M468.6 430.0h0M468.7 440.6h0M468.8 409.4h0M468.9 437.8h0M469.0 421.5h0M469.1 411.7h0M469.2 440.0h0M469.3 431.8h0M469.4 442.4h0M469.5 421.0h0M172.8 333.0h0M205.3 319.5h0M225.8 447.0h0M246.6 434.2h0M308.6 352.3h0M325.6 352.0h0M328.8 456.6h0M433.4 460.4h0M467.8 470.5h0M422.4 369.9h0M423.4 376.1h0M458.4 377.5h0M459.4 383.7h0" stroke="#e4fafa" stroke-width="9" stroke-linecap="round" fill="none"/>
<path d="M54.7 424.2h0M55.0 402.3h0M65.7 399.4h0M68.5 343.9h0M90.9 346.9h0M107.5 395.4h0M109.4 418.8h0M111.1 406.7h0M135.5 426.0h0M137.8 406.2h0M147.3 416.0h0M149.6 413.6h0M151.0 355.0h0M151.6 355.7h0M159.9 412.9h0M160.3 425.0h0M176.2 403.2h0M178.4 344.6h0M191.0 352.6h0M215.6 424.1h0M216.4 419.5h0M225.3 439.4h0M235.3 423.8h0M237.6 366.1h0M242.4 420.2h0M243.5 361.7h0M246.6 425.4h0M257.1 427.7h0M264.7 426.4h0M267.5 362.4h0M268.6 363.1h0M290.7 444.5h0M315.7 371.3h0M321.9 372.6h0M322.6 434.3h0M324.3 375.3h0M326.3 445.2h0M332.2 434.9h0M345.8 375.8h0M354.7 432.8h0M356.5 440.9h0M358.4 439.3h0M362.3 449.1h0M363.0 378.2h0M368.1 376.8h0M375.7 375.7h0M389.0 442.8h0M407.8 457.8h0M421.3 450.7h0M433.5 459.7h0M437.2 473.4h0M438.0 452.8h0M441.8 469.8h0M447.9 452.2h0M453.0 448.3h0M453.8 392.2h0M172.8 333.0h0M205.3 319.5h0M225.8 447.0h0M246.6 434.2h0M308.6 352.3h0M325.6 352.0h0M328.8 456.6h0M433.4 460.4h0M467.8 470.5h0M422.4 369.9h0M423.4 376.1h0M458.4 377.5h0M459.4 383.7h0" stroke="#2a3a94" stroke-width="3.45" stroke-linecap="round" fill="none"/>
<path d="M54.2 395.1h0M61.6 349.8h0M68.4 347.5h0M70.8 399.8h0M94.8 350.8h0M98.6 393.4h0M102.2 346.8h0M106.2 394.1h0M110.7 347.2h0M113.5 349.3h0M114.9 412.6h0M116.3 405.3h0M124.7 400.6h0M126.3 399.1h0M129.4 357.9h0M131.8 396.8h0M135.1 400.7h0M138.1 398.8h0M138.8 355.3h0M142.9 354.2h0M145.5 399.1h0M154.2 365.3h0M160.0 409.6h0M175.0 352.2h0M177.9 399.6h0M179.5 398.1h0M183.7 353.1h0M186.4 351.0h0M192.3 361.3h0M194.0 411.5h0M197.0 407.9h0M197.5 356.2h0M204.7 408.9h0M205.7 355.1h0M215.8 364.3h0M216.9 359.3h0M224.1 424.6h0M230.6 376.6h0M252.3 367.7h0M252.8 376.8h0M254.0 370.6h0M255.2 373.3h0M258.7 425.8h0M262.3 373.2h0M264.3 372.6h0M274.2 408.0h0M278.6 366.4h0M282.7 364.8h0M291.5 432.5h0M292.3 431.9h0M292.7 435.9h0M296.4 386.5h0M298.0 430.8h0M298.5 375.0h0M299.0 374.3h0M302.1 369.7h0M305.4 423.5h0M310.2 420.4h0M311.1 368.6h0M319.6 422.7h0M323.2 427.4h0M331.9 380.0h0M334.0 377.8h0M334.2 379.4h0M337.9 433.7h0M342.3 430.0h0M345.9 383.3h0M361.1 385.4h0M361.7 432.8h0M367.9 433.5h0M369.9 435.0h0M370.2 433.4h0M371.5 431.7h0M377.6 426.7h0M379.8 383.4h0M379.9 428.3h0M380.2 378.6h0M386.9 383.7h0M390.4 387.2h0M391.6 435.9h0M392.0 432.8h0M392.4 386.4h0M399.1 441.5h0M409.1 393.5h0M410.0 386.4h0M410.2 445.3h0M411.3 445.5h0M413.6 385.6h0M414.3 386.5h0M417.0 444.0h0M419.8 440.7h0M421.9 391.1h0M422.3 391.0h0M424.6 441.1h0M433.3 395.0h0M435.3 446.7h0M442.0 396.4h0M445.9 401.3h0M449.7 396.6h0M458.9 393.9h0M462.5 457.7h0M463.5 458.5h0M465.7 457.7h0M466.7 409.9h0M468.8 409.4h0M469.1 411.7h0" stroke="#2548a6" stroke-width="3.45" stroke-linecap="round" fill="none"/>
<path d="M74.7 401.3h0M76.8 400.5h0M77.1 354.7h0M78.9 403.4h0M81.9 354.8h0M83.5 359.0h0M84.5 401.9h0M87.1 359.2h0M94.0 357.3h0M95.7 355.8h0M96.6 393.6h0M101.6 351.2h0M104.3 349.0h0M104.4 390.0h0M104.9 348.9h0M108.1 348.9h0M109.2 387.5h0M115.2 397.9h0M119.0 405.9h0M119.9 409.4h0M120.7 408.4h0M120.7 411.6h0M121.2 411.8h0M121.7 411.0h0M122.5 408.7h0M127.1 398.6h0M139.0 357.7h0M141.4 357.3h0M142.8 396.6h0M149.8 400.8h0M150.3 400.3h0M151.2 402.4h0M152.7 368.7h0M152.9 366.7h0M164.1 357.3h0M165.8 357.1h0M167.3 358.6h0M167.4 357.8h0M170.0 397.2h0M173.8 396.4h0M175.6 355.9h0M180.0 354.7h0M184.1 397.2h0M185.9 400.1h0M186.5 357.7h0M187.9 404.0h0M191.6 404.2h0M193.0 405.3h0M193.7 401.9h0M194.4 364.3h0M196.4 401.2h0M196.7 407.4h0M197.1 403.3h0M199.6 399.7h0M204.8 405.6h0M205.0 404.3h0M206.4 355.9h0M211.2 359.8h0M213.9 361.1h0M214.8 367.4h0M218.6 370.8h0M228.4 379.3h0M228.9 422.7h0M236.1 416.6h0M236.5 372.8h0M238.0 415.2h0M239.6 415.6h0M240.3 369.0h0M242.0 411.9h0M242.9 369.9h0M243.0 374.2h0M243.2 374.8h0M243.3 375.1h0M248.0 370.6h0M248.7 369.1h0M253.2 379.3h0M255.3 377.7h0M259.3 377.8h0M265.2 418.8h0M265.9 419.9h0M267.1 416.8h0M268.5 370.3h0M271.8 370.9h0M272.0 368.5h0M277.0 366.9h0M278.9 367.2h0M281.1 371.9h0M281.3 413.9h0M284.8 418.4h0M286.8 423.6h0M288.5 376.7h0M288.5 421.8h0M290.1 425.0h0M292.3 431.5h0M297.4 388.5h0M297.9 379.6h0M298.7 383.1h0M302.3 423.9h0M304.9 377.4h0M305.5 373.5h0M305.9 371.0h0M306.3 381.9h0M306.7 372.1h0M306.9 382.1h0M309.2 374.7h0M310.6 375.4h0M316.4 380.1h0M321.5 383.8h0M322.0 383.4h0M324.8 383.8h0M324.9 426.6h0M326.5 384.7h0M330.1 426.2h0M331.1 424.2h0M331.6 383.4h0M332.6 426.6h0M337.6 426.3h0M341.4 384.3h0M346.9 383.9h0M350.0 428.3h0M353.8 429.2h0M360.4 387.8h0M365.0 386.2h0M365.1 430.6h0M365.6 394.5h0M366.2 391.8h0M370.3 384.9h0M372.0 387.8h0M372.1 387.8h0M372.4 387.7h0M381.3 386.8h0M381.6 427.1h0M382.7 421.8h0M383.7 424.8h0M383.9 387.1h0M387.2 426.1h0M390.9 389.1h0M394.0 431.7h0M395.0 433.8h0M395.1 389.8h0M396.5 390.3h0M403.2 439.4h0M404.2 438.4h0M404.5 392.6h0M409.8 394.1h0M412.9 440.4h0M413.1 437.6h0M414.1 435.2h0M415.0 436.8h0M415.1 392.6h0M418.8 392.2h0M419.4 440.5h0M421.2 432.9h0M430.8 441.7h0M431.1 441.3h0M431.4 397.8h0M432.9 446.3h0M433.4 447.0h0M434.5 399.2h0M435.2 443.6h0M437.4 440.2h0M438.3 447.5h0M438.5 398.4h0M442.5 398.9h0M443.4 396.3h0M446.8 396.2h0M454.8 436.1h0M459.8 448.3h0M463.8 404.5h0M464.8 448.6h0" stroke="#2058b4" stroke-width="3.45" stroke-linecap="round" fill="none"/>
<path d="M53.5 388.5h0M53.6 389.3h0M54.0 389.5h0M56.1 389.6h0M57.0 359.0h0M57.1 361.1h0M58.3 391.6h0M58.5 390.7h0M59.5 359.5h0M62.0 390.2h0M63.4 353.9h0M64.5 354.9h0M67.4 352.5h0M68.6 353.1h0M68.7 355.6h0M70.3 356.5h0M71.6 354.6h0M71.9 393.6h0M72.7 393.6h0M74.0 396.6h0M74.9 358.5h0M75.9 395.6h0M76.1 361.9h0M76.3 356.3h0M76.5 359.8h0M77.4 396.1h0M77.8 400.1h0M78.5 360.9h0M79.5 398.2h0M80.0 359.4h0M80.3 393.6h0M80.4 397.6h0M81.1 360.9h0M81.3 394.5h0M82.2 396.5h0M82.8 360.7h0M84.4 396.1h0M84.8 396.3h0M84.9 364.6h0M85.5 398.3h0M87.3 397.0h0M91.9 360.9h0M96.7 392.6h0M102.3 387.9h0M106.0 351.7h0M106.9 355.4h0M110.0 352.7h0M111.8 359.6h0M111.9 356.6h0M115.8 367.0h0M117.8 398.5h0M121.5 370.1h0M127.5 365.1h0M128.1 366.2h0M128.7 364.3h0M132.8 360.2h0M133.2 360.7h0M133.5 361.8h0M134.8 362.8h0M135.6 365.0h0M136.2 363.8h0M136.4 364.0h0M137.1 364.1h0M141.5 359.7h0M142.6 392.4h0M144.7 360.5h0M150.2 369.8h0M152.2 399.3h0M155.8 373.8h0M155.9 373.7h0M156.7 405.3h0M163.4 363.6h0M165.1 361.7h0M166.8 394.5h0M167.3 360.7h0M168.1 393.4h0M168.2 357.3h0M170.6 393.2h0M172.4 393.2h0M173.7 359.5h0M176.6 356.0h0M176.6 391.3h0M177.0 357.6h0M177.1 391.1h0M181.5 391.9h0M181.8 357.1h0M183.1 360.0h0M184.0 363.2h0M185.2 359.6h0M187.5 396.6h0M188.2 394.6h0M188.3 400.5h0M189.1 398.3h0M189.8 367.0h0M191.5 394.2h0M191.8 399.8h0M192.2 367.4h0M192.7 394.8h0M195.9 398.8h0M196.3 367.4h0M197.8 361.8h0M200.5 361.5h0M200.6 361.6h0M200.8 360.4h0M202.5 360.1h0M203.9 397.1h0M204.6 401.7h0M205.5 361.2h0M206.2 398.4h0M206.3 398.1h0M206.6 404.8h0M207.4 358.7h0M207.5 370.8h0M207.6 361.7h0M208.1 408.5h0M208.3 364.1h0M208.4 370.0h0M208.9 369.2h0M209.0 360.1h0M210.1 404.3h0M210.8 405.1h0M210.9 363.9h0M211.6 370.8h0M212.1 371.4h0M212.2 409.6h0M212.7 408.8h0M213.2 405.5h0M213.4 407.6h0M214.1 400.8h0M215.3 370.8h0M216.0 407.9h0M216.3 409.0h0M216.6 373.9h0M216.8 400.5h0M217.0 402.1h0M217.2 405.4h0M217.3 372.9h0M217.9 411.1h0M220.3 411.3h0M221.8 412.2h0M222.9 413.6h0M224.0 417.0h0M225.7 419.9h0M226.9 418.3h0M227.5 381.4h0M228.5 420.4h0M231.3 416.7h0M231.5 418.6h0M232.8 417.7h0M233.8 416.6h0M235.2 376.3h0M237.1 375.9h0M237.7 409.8h0M238.1 409.9h0M239.1 372.7h0M244.2 377.2h0M244.5 371.9h0M244.7 378.8h0M246.8 411.0h0M248.8 414.7h0M249.1 381.8h0M251.0 381.3h0M251.3 413.4h0M256.4 419.0h0M257.0 384.5h0M257.4 417.6h0M259.2 420.5h0M259.7 381.4h0M261.9 420.6h0M262.8 381.0h0M263.8 416.2h0M264.0 417.5h0M265.1 415.8h0M268.2 409.1h0M271.0 371.6h0M273.3 373.4h0M273.6 372.3h0M278.0 404.3h0M279.2 404.0h0M280.4 369.3h0M280.8 372.4h0M281.5 408.5h0M282.5 406.8h0M283.3 410.9h0M283.5 376.0h0M283.9 412.2h0M287.0 415.6h0M288.4 379.4h0M288.7 418.8h0M290.3 389.1h0M290.4 426.1h0M292.9 424.5h0M293.8 394.1h0M294.0 393.0h0M295.1 425.6h0M295.3 394.7h0M296.0 422.6h0M296.5 424.3h0M298.2 426.3h0M298.8 388.8h0M299.1 384.1h0M299.5 420.8h0M300.5 418.2h0M300.9 419.8h0M302.8 418.0h0M302.9 382.5h0M305.1 388.8h0M306.4 414.3h0M307.4 418.1h0M309.3 381.9h0M310.0 381.1h0M313.2 415.8h0M313.9 379.5h0M314.5 382.1h0M317.4 382.2h0M317.9 382.7h0M320.8 416.9h0M323.7 419.8h0M325.0 421.8h0M325.4 390.6h0M325.5 420.8h0M327.7 386.7h0M328.4 385.8h0M328.7 422.8h0M329.4 386.6h0M330.2 422.9h0M331.0 422.8h0M332.1 387.6h0M332.4 387.8h0M338.5 387.0h0M338.6 387.4h0M339.5 422.7h0M340.5 421.6h0M341.0 426.7h0M343.9 425.0h0M344.5 387.5h0M348.2 389.3h0M350.6 426.7h0M352.5 425.5h0M352.9 391.8h0M354.6 389.9h0M356.7 392.1h0M359.0 427.6h0M359.1 390.5h0M359.5 392.0h0M359.7 425.7h0M359.9 393.5h0M360.5 427.0h0M361.8 392.3h0M362.7 394.0h0M363.2 388.6h0M364.0 426.2h0M365.5 426.5h0M365.9 426.1h0M368.6 422.8h0M373.4 389.6h0M373.6 420.5h0M373.9 390.6h0M376.1 389.4h0M379.4 389.2h0M381.8 421.7h0M384.1 421.1h0M386.3 393.0h0M388.5 419.2h0M389.7 424.7h0M391.8 396.0h0M392.2 429.1h0M393.7 395.9h0M394.1 393.4h0M394.2 395.4h0M394.4 393.6h0M398.4 395.8h0M399.0 433.6h0M400.5 433.3h0M401.3 401.4h0M402.1 436.7h0M402.5 436.6h0M404.0 432.9h0M405.0 436.5h0M405.4 399.1h0M405.8 396.5h0M406.1 397.7h0M406.8 435.3h0M415.3 395.8h0M416.2 431.5h0M417.3 435.0h0M420.6 431.3h0M422.5 433.0h0M425.5 396.9h0M425.8 431.4h0M427.5 434.5h0M428.0 434.6h0M428.2 398.0h0M428.7 434.8h0M432.7 437.6h0M432.8 401.7h0M433.1 438.3h0M434.4 408.4h0M435.6 409.1h0M436.0 415.0h0M436.3 401.9h0M436.9 401.9h0M437.1 415.0h0M437.3 405.3h0M437.5 406.4h0M438.8 405.3h0M441.4 408.6h0M441.6 408.0h0M442.8 410.6h0M443.6 409.1h0M444.9 439.4h0M445.3 440.2h0M446.6 439.5h0M448.1 440.7h0M448.3 404.0h0M449.6 439.5h0M450.0 440.2h0M451.2 439.9h0M452.5 401.2h0M455.6 400.6h0M456.2 442.1h0M456.4 438.4h0M458.5 402.5h0M458.6 399.4h0M460.9 400.7h0M461.1 445.3h0M462.6 407.6h0M463.1 445.6h0M463.9 445.8h0M466.0 445.5h0M466.2 417.4h0M466.8 416.9h0M467.7 441.0h0M468.7 440.6h0M469.2 440.0h0M469.4 442.4h0M469.5 421.0h0" stroke="#1c66be" stroke-width="3.45" stroke-linecap="round" fill="none"/>
<path d="M53.7 371.5h0M53.8 383.1h0M53.9 373.9h0M54.1 377.3h0M54.3 382.9h0M54.4 383.1h0M54.5 372.1h0M54.6 376.1h0M54.8 369.4h0M54.9 375.8h0M55.2 369.8h0M55.3 378.1h0M55.4 380.2h0M55.5 373.9h0M55.6 381.3h0M55.7 373.2h0M55.8 365.9h0M55.9 368.3h0M56.0 380.6h0M56.2 377.2h0M56.3 377.9h0M56.4 365.5h0M56.5 380.3h0M56.6 378.5h0M56.7 369.0h0M56.8 381.0h0M56.9 377.8h0M57.2 369.6h0M57.2 373.2h0M57.3 385.5h0M57.4 370.1h0M57.5 375.1h0M57.6 373.4h0M57.7 380.7h0M57.8 375.5h0M57.9 377.2h0M58.0 372.1h0M58.1 360.9h0M58.2 371.5h0M58.4 384.7h0M58.6 382.7h0M58.7 369.2h0M58.8 370.6h0M58.9 380.5h0M59.0 371.7h0M59.1 381.7h0M59.2 388.3h0M59.3 388.0h0M59.4 382.4h0M59.6 387.0h0M59.7 361.1h0M59.8 360.1h0M59.9 375.1h0M60.1 373.5h0M60.2 379.1h0M60.3 387.6h0M60.4 366.1h0M60.5 372.5h0M60.6 362.5h0M60.7 360.5h0M60.9 368.7h0M61.0 368.8h0M61.0 372.6h0M61.1 368.4h0M61.2 382.8h0M61.3 367.6h0M61.4 369.4h0M61.5 380.0h0M61.7 380.9h0M61.8 379.7h0M61.9 368.2h0M62.1 378.6h0M62.2 385.8h0M62.3 380.1h0M62.4 371.7h0M62.5 367.1h0M62.6 359.1h0M62.7 362.0h0M62.8 358.1h0M62.8 373.7h0M62.9 374.4h0M63.1 358.3h0M63.2 374.2h0M63.3 375.4h0M63.5 361.2h0M63.6 366.7h0M63.7 361.3h0M63.8 359.9h0M63.9 382.2h0M64.0 369.5h0M64.1 372.6h0M64.2 367.3h0M64.4 375.2h0M64.6 363.3h0M64.7 376.6h0M64.7 385.0h0M64.8 380.5h0M64.9 368.0h0M65.0 362.9h0M65.1 365.8h0M65.2 387.7h0M65.3 371.7h0M65.4 363.3h0M65.5 365.3h0M65.6 356.7h0M65.8 363.1h0M66.0 374.8h0M66.1 366.3h0M66.2 364.2h0M66.4 361.3h0M66.6 373.9h0M66.6 361.3h0M66.7 379.8h0M66.8 382.2h0M66.9 362.6h0M67.0 368.7h0M67.1 384.3h0M67.2 376.6h0M67.3 367.9h0M67.5 357.6h0M67.6 360.1h0M67.8 385.8h0M67.9 369.0h0M68.0 363.2h0M68.1 364.0h0M68.2 363.8h0M68.4 370.2h0M68.8 358.6h0M68.9 384.6h0M69.0 367.1h0M69.1 360.0h0M69.2 388.5h0M69.3 376.1h0M69.4 382.5h0M69.5 373.9h0M69.7 375.8h0M69.8 359.5h0M69.9 373.0h0M70.0 379.0h0M70.1 367.6h0M70.2 381.6h0M70.3 385.2h0M70.4 387.0h0M70.5 383.7h0M70.6 378.4h0M70.7 359.6h0M70.9 368.2h0M71.0 386.6h0M71.1 384.1h0M71.2 382.4h0M71.3 388.5h0M71.4 389.4h0M71.5 377.0h0M71.7 371.2h0M71.8 371.1h0M72.0 378.8h0M72.1 390.4h0M72.2 370.8h0M72.2 380.8h0M72.4 378.1h0M72.5 379.3h0M72.6 384.3h0M72.8 372.6h0M72.9 392.2h0M73.0 390.2h0M73.1 381.3h0M73.3 385.4h0M73.4 375.7h0M73.5 368.2h0M73.6 375.8h0M73.7 376.3h0M73.8 378.0h0M73.9 369.6h0M74.0 374.5h0M74.1 387.5h0M74.2 390.4h0M74.3 378.1h0M74.4 382.0h0M74.5 372.3h0M74.6 367.1h0M74.8 378.8h0M75.0 388.5h0M75.1 363.7h0M75.2 377.1h0M75.3 392.4h0M75.4 389.3h0M75.5 371.0h0M75.6 368.5h0M75.7 385.4h0M75.8 380.8h0M75.9 375.5h0M76.0 364.0h0M76.4 379.2h0M76.6 383.4h0M76.7 386.2h0M76.9 368.5h0M77.0 381.8h0M77.2 374.8h0M77.3 376.2h0M77.5 363.1h0M77.6 381.7h0M77.7 379.7h0M77.8 368.8h0M77.9 368.2h0M78.0 384.1h0M78.1 377.2h0M78.2 374.2h0M78.3 368.5h0M78.4 377.0h0M78.6 380.5h0M78.7 384.1h0M78.8 382.7h0M79.0 386.1h0M79.1 368.0h0M79.2 375.4h0M79.3 386.3h0M79.4 374.6h0M79.6 380.9h0M79.6 372.8h0M79.7 371.1h0M79.8 385.8h0M79.9 369.0h0M80.1 382.3h0M80.2 370.7h0M80.5 371.9h0M80.6 377.6h0M80.7 376.1h0M80.8 383.9h0M80.9 381.0h0M81.0 370.0h0M81.2 380.2h0M81.4 365.3h0M81.5 372.0h0M81.7 371.2h0M81.8 376.2h0M82.0 377.3h0M82.1 372.9h0M82.3 383.8h0M82.4 384.9h0M82.5 378.3h0M82.6 374.6h0M82.7 385.5h0M82.9 388.7h0M83.0 382.5h0M83.1 375.7h0M83.2 390.5h0M83.3 372.3h0M83.3 371.7h0M83.4 381.0h0M83.6 377.2h0M83.7 375.2h0M83.8 387.6h0M84.0 394.8h0M84.1 384.3h0M84.2 381.2h0M84.3 382.6h0M84.7 389.4h0M85.0 383.7h0M85.1 383.2h0M85.2 389.0h0M85.2 369.0h0M85.3 371.9h0M85.4 375.6h0M85.6 366.3h0M85.7 374.1h0M85.8 372.5h0M85.9 365.7h0M86.0 380.0h0M86.1 379.7h0M86.2 370.8h0M86.4 373.8h0M86.5 380.5h0M86.6 377.6h0M86.7 383.1h0M86.8 386.9h0M86.9 368.7h0M87.0 378.0h0M87.1 393.4h0M87.2 380.3h0M87.4 382.2h0M87.5 394.0h0M87.6 364.1h0M87.7 372.6h0M87.8 389.9h0M87.9 370.3h0M88.0 388.2h0M88.1 391.4h0M88.2 379.5h0M88.3 382.7h0M88.4 388.9h0M88.5 381.5h0M88.6 387.9h0M88.7 377.2h0M88.8 378.0h0M89.0 370.1h0M89.2 382.0h0M89.3 390.8h0M89.4 390.6h0M89.5 379.8h0M89.6 362.0h0M89.7 368.8h0M89.8 383.6h0M89.9 367.8h0M90.0 388.7h0M90.1 367.0h0M90.2 380.9h0M90.3 369.3h0M90.4 370.7h0M90.5 379.7h0M90.6 373.6h0M90.7 387.5h0M90.8 377.5h0M90.8 365.9h0M91.0 369.6h0M91.1 375.7h0M91.2 386.7h0M91.3 365.9h0M91.4 393.0h0M91.5 384.5h0M91.7 372.8h0M91.8 388.3h0M92.1 365.2h0M92.2 381.8h0M92.3 381.6h0M92.4 389.2h0M92.5 390.0h0M92.6 371.5h0M92.7 369.6h0M92.8 372.3h0M92.9 373.1h0M93.0 381.3h0M93.1 372.1h0M93.2 390.3h0M93.3 375.5h0M93.4 360.8h0M93.5 362.2h0M93.6 380.0h0M93.7 378.7h0M93.8 361.5h0M94.1 390.0h0M94.2 379.3h0M94.3 372.6h0M94.4 362.7h0M94.5 383.2h0M94.5 368.3h0M94.6 377.7h0M94.9 370.2h0M95.0 375.8h0M95.1 377.7h0M95.2 363.7h0M95.3 367.4h0M95.4 385.0h0M95.5 376.2h0M95.6 387.4h0M95.8 386.9h0M95.9 387.1h0M96.0 380.7h0M96.1 383.5h0M96.2 368.4h0M96.3 365.6h0M96.4 375.9h0M96.4 384.7h0M96.5 365.4h0M96.8 365.9h0M96.9 376.0h0M97.0 363.3h0M97.1 375.2h0M97.2 385.6h0M97.3 378.0h0M97.4 367.1h0M97.5 380.4h0M97.6 379.7h0M97.7 386.6h0M97.8 384.2h0M97.9 364.1h0M98.0 367.9h0M98.1 384.0h0M98.2 383.1h0M98.3 377.9h0M98.3 366.7h0M98.4 383.8h0M98.5 373.7h0M98.7 384.5h0M98.8 367.6h0M98.9 362.8h0M99.0 383.3h0M99.1 379.4h0M99.2 363.6h0M99.3 375.4h0M99.5 376.8h0M99.6 366.1h0M99.7 369.3h0M99.8 360.1h0M100.0 363.1h0M100.1 376.8h0M100.1 372.1h0M100.2 371.5h0M100.3 384.4h0M100.4 383.3h0M100.5 361.0h0M100.6 386.5h0M100.7 360.6h0M100.8 367.6h0M100.9 371.8h0M101.0 365.0h0M101.1 365.5h0M101.2 358.1h0M101.3 374.2h0M101.4 372.4h0M101.5 372.5h0M101.7 360.4h0M101.8 379.1h0M101.9 373.1h0M102.0 376.8h0M102.0 369.5h0M102.1 367.5h0M102.4 359.4h0M102.5 365.4h0M102.6 376.7h0M102.7 371.2h0M102.8 374.7h0M102.9 369.3h0M103.0 359.7h0M103.1 385.0h0M103.2 356.7h0M103.3 373.5h0M103.4 354.8h0M103.5 365.7h0M103.7 357.6h0M103.8 364.2h0M103.9 359.1h0M103.9 369.3h0M104.0 378.2h0M104.1 363.2h0M104.2 362.8h0M104.5 371.9h0M104.6 359.4h0M104.7 382.5h0M104.8 372.3h0M105.0 355.9h0M105.1 378.8h0M105.2 355.8h0M105.3 358.3h0M105.4 362.3h0M105.5 366.3h0M105.6 367.7h0M105.7 378.8h0M105.7 375.3h0M105.8 362.8h0M105.9 368.8h0M106.1 373.5h0M106.4 373.6h0M106.5 367.5h0M106.6 366.4h0M106.7 369.6h0M106.8 378.5h0M107.0 376.9h0M107.1 363.2h0M107.2 373.2h0M107.3 382.3h0M107.4 356.3h0M107.6 378.9h0M107.6 366.1h0M107.7 374.0h0M107.8 362.9h0M107.9 371.4h0M108.0 374.9h0M108.2 372.6h0M108.3 372.0h0M108.4 381.3h0M108.5 377.9h0M108.7 364.1h0M108.8 364.9h0M108.9 370.5h0M109.0 377.5h0M109.1 363.7h0M109.5 373.1h0M109.5 379.0h0M109.6 369.1h0M109.8 377.3h0M109.9 378.7h0M110.1 363.3h0M110.2 369.8h0M110.3 370.2h0M110.4 361.1h0M110.5 363.0h0M110.6 358.7h0M110.8 373.2h0M110.9 368.6h0M111.0 372.0h0M111.2 385.9h0M111.3 372.0h0M111.3 366.2h0M111.4 378.4h0M111.5 361.7h0M111.6 360.5h0M111.7 377.6h0M112.0 369.6h0M112.1 384.3h0M112.2 360.1h0M112.3 376.6h0M112.4 379.0h0M112.5 374.4h0M112.7 381.4h0M112.8 365.6h0M112.9 368.8h0M113.0 364.7h0M113.1 371.3h0M113.2 385.2h0M113.2 379.1h0M113.3 369.1h0M113.4 382.1h0M113.6 381.0h0M113.7 384.7h0M113.8 367.7h0M113.9 371.9h0M114.0 379.9h0M114.1 382.2h0M114.2 375.9h0M114.3 372.1h0M114.4 373.1h0M114.5 383.9h0M114.6 376.9h0M114.7 373.0h0M114.8 374.1h0M115.0 391.1h0M115.1 390.2h0M115.3 381.5h0M115.4 374.3h0M115.5 377.6h0M115.6 385.3h0M115.7 384.0h0M115.9 382.4h0M116.0 381.8h0M116.1 369.3h0M116.2 381.5h0M116.4 381.4h0M116.5 389.0h0M116.6 386.3h0M116.7 374.8h0M116.8 380.7h0M116.9 388.0h0M116.9 376.6h0M117.0 381.2h0M117.1 384.6h0M117.2 382.7h0M117.3 383.2h0M117.4 389.2h0M117.5 390.4h0M117.6 385.7h0M117.7 395.5h0M117.9 373.2h0M118.0 388.5h0M118.1 386.5h0M118.2 387.6h0M118.3 386.1h0M118.4 386.2h0M118.5 385.8h0M118.6 394.5h0M118.7 377.3h0M118.8 393.5h0M118.8 376.5h0M119.1 397.5h0M119.2 377.1h0M119.3 388.5h0M119.4 393.8h0M119.5 383.4h0M119.7 397.7h0M119.8 386.6h0M120.0 392.0h0M120.1 394.0h0M120.2 382.3h0M120.3 379.0h0M120.4 396.2h0M120.5 371.8h0M120.6 393.7h0M120.8 372.8h0M120.9 389.0h0M121.0 394.6h0M121.1 395.6h0M121.3 374.6h0M121.4 388.8h0M121.6 389.7h0M121.8 379.2h0M121.9 391.1h0M122.0 389.7h0M122.1 377.6h0M122.2 389.8h0M122.3 375.5h0M122.4 387.0h0M122.5 381.7h0M122.6 392.7h0M122.7 374.4h0M122.8 377.0h0M122.9 385.8h0M123.0 380.3h0M123.1 380.6h0M123.2 388.9h0M123.3 377.1h0M123.4 388.2h0M123.5 379.7h0M123.6 395.2h0M123.7 384.6h0M123.8 381.4h0M124.0 393.2h0M124.1 389.4h0M124.2 390.5h0M124.3 377.8h0M124.4 392.1h0M124.4 380.5h0M124.5 369.6h0M124.6 381.1h0M124.8 383.2h0M124.9 374.0h0M125.0 387.1h0M125.1 373.2h0M125.2 377.9h0M125.3 379.8h0M125.4 386.5h0M125.5 388.9h0M125.6 386.2h0M125.7 383.0h0M125.8 378.3h0M125.9 379.2h0M126.0 386.3h0M126.1 382.5h0M126.2 379.2h0M126.3 390.5h0M126.4 390.8h0M126.5 384.8h0M126.6 385.4h0M126.7 385.2h0M126.8 391.2h0M126.9 375.8h0M127.0 379.6h0M127.2 382.1h0M127.3 393.3h0M127.6 386.5h0M127.7 385.8h0M127.8 381.0h0M128.0 383.6h0M128.1 382.2h0M128.2 379.2h0M128.3 373.1h0M128.4 370.1h0M128.6 390.8h0M128.8 374.2h0M128.9 371.4h0M129.0 389.4h0M129.1 372.7h0M129.2 376.6h0M129.3 386.0h0M129.6 374.8h0M129.7 382.7h0M129.8 378.4h0M129.9 371.2h0M130.0 368.9h0M130.1 374.2h0M130.2 367.8h0M130.5 365.1h0M130.7 391.8h0M130.8 384.3h0M130.9 388.7h0M131.0 378.4h0M131.1 365.0h0M131.2 386.8h0M131.3 389.5h0M131.4 382.0h0M131.5 368.8h0M131.6 384.2h0M131.7 379.8h0M131.8 375.8h0M131.9 370.9h0M132.0 375.2h0M132.1 372.9h0M132.2 388.1h0M132.3 386.0h0M132.4 384.2h0M132.5 375.7h0M132.6 377.4h0M132.7 376.8h0M132.9 365.0h0M133.0 385.0h0M133.1 384.3h0M133.3 380.8h0M133.4 364.0h0M133.6 383.0h0M133.7 380.3h0M133.7 376.8h0M133.8 386.2h0M133.9 387.3h0M134.0 381.6h0M134.1 369.1h0M134.3 382.0h0M134.4 379.6h0M134.5 382.2h0M134.7 391.1h0M135.2 384.0h0M135.3 371.9h0M135.4 391.3h0M135.6 385.9h0M135.7 375.4h0M135.8 388.4h0M135.9 372.4h0M136.0 376.5h0M136.1 375.2h0M136.3 372.7h0M136.5 371.1h0M136.6 389.2h0M136.7 374.7h0M136.8 372.5h0M136.9 391.6h0M137.2 376.6h0M137.3 373.6h0M137.4 386.1h0M137.4 376.5h0M137.5 374.3h0M137.6 380.5h0M137.7 376.4h0M137.9 363.7h0M138.0 388.2h0M138.2 386.7h0M138.3 385.4h0M138.4 371.8h0M138.5 386.2h0M138.6 374.3h0M138.7 386.6h0M138.9 371.7h0M139.1 387.2h0M139.3 370.5h0M139.3 386.6h0M139.4 371.3h0M139.5 370.3h0M139.6 392.9h0M139.7 388.3h0M139.8 388.6h0M139.9 391.9h0M140.0 384.3h0M140.1 386.5h0M140.2 391.3h0M140.3 376.0h0M140.4 371.6h0M140.5 390.0h0M140.7 382.5h0M140.8 376.9h0M140.9 379.3h0M141.0 383.9h0M141.1 368.9h0M141.2 368.6h0M141.2 370.2h0M141.3 379.0h0M141.6 380.9h0M141.7 378.1h0M141.8 365.1h0M141.9 384.8h0M142.1 372.9h0M142.2 376.4h0M142.3 383.8h0M142.5 379.1h0M142.7 382.2h0M143.1 361.9h0M143.2 364.6h0M143.3 373.8h0M143.4 366.9h0M143.5 364.2h0M143.6 366.7h0M143.7 367.7h0M143.8 386.0h0M143.9 372.8h0M144.0 382.4h0M144.1 388.9h0M144.2 388.6h0M144.3 373.2h0M144.5 367.2h0M144.6 391.2h0M144.8 363.4h0M144.9 381.8h0M144.9 382.7h0M145.0 378.9h0M145.1 368.6h0M145.2 382.2h0M145.3 389.4h0M145.4 375.2h0M145.6 377.4h0M145.7 367.4h0M145.9 376.0h0M146.0 371.4h0M146.1 374.4h0M146.2 372.2h0M146.3 378.0h0M146.4 387.8h0M146.5 381.9h0M146.6 380.5h0M146.7 367.4h0M146.8 363.8h0M146.8 375.9h0M146.9 387.6h0M147.0 387.4h0M147.1 382.2h0M147.2 366.7h0M147.4 381.1h0M147.5 388.3h0M147.6 372.1h0M147.7 378.0h0M148.0 381.7h0M148.1 380.2h0M148.2 364.7h0M148.4 383.1h0M148.5 364.9h0M148.6 388.0h0M148.6 381.3h0M148.7 373.2h0M148.8 383.2h0M148.9 390.3h0M149.0 384.9h0M149.1 391.3h0M149.2 377.3h0M149.3 382.3h0M149.4 377.0h0M149.5 374.5h0M149.7 379.8h0M149.9 381.4h0M150.0 391.8h0M150.1 382.2h0M150.4 381.6h0M150.5 384.4h0M150.5 385.4h0M150.6 377.4h0M150.7 383.6h0M150.8 389.1h0M150.9 391.4h0M151.1 388.4h0M151.3 393.9h0M151.4 388.5h0M151.5 388.8h0M151.7 395.6h0M151.9 380.1h0M152.0 390.4h0M152.3 394.1h0M152.4 389.9h0M152.4 377.8h0M152.5 381.6h0M152.6 389.8h0M152.8 384.6h0M153.0 393.1h0M153.1 382.5h0M153.2 380.1h0M153.3 396.9h0M153.4 385.6h0M153.5 386.0h0M153.6 392.4h0M153.7 382.3h0M153.8 377.8h0M153.9 377.0h0M154.0 390.2h0M154.1 386.5h0M154.2 399.5h0M154.4 386.7h0M154.5 380.2h0M154.6 387.7h0M154.7 382.8h0M154.8 387.7h0M154.9 382.1h0M155.0 377.0h0M155.1 392.0h0M155.2 387.9h0M155.3 390.6h0M155.4 394.1h0M155.5 390.5h0M155.6 401.6h0M155.7 383.2h0M156.1 377.8h0M156.3 399.8h0M156.4 375.2h0M156.5 397.2h0M156.6 390.6h0M156.8 400.5h0M156.9 381.6h0M157.0 387.0h0M157.1 391.3h0M157.2 398.4h0M157.4 385.4h0M157.5 394.1h0M157.6 379.1h0M157.7 377.3h0M157.9 402.9h0M158.0 394.2h0M158.0 392.3h0M158.1 400.7h0M158.2 400.1h0M158.3 388.1h0M158.4 390.9h0M158.5 391.6h0M158.6 394.1h0M158.7 383.6h0M158.8 400.5h0M158.9 397.7h0M159.0 372.8h0M159.1 375.4h0M159.2 404.4h0M159.3 401.7h0M159.4 384.5h0M159.5 400.0h0M159.6 390.6h0M159.8 392.5h0M159.8 382.4h0M160.1 399.9h0M160.2 377.7h0M160.4 404.4h0M160.5 382.6h0M160.6 380.4h0M160.7 389.8h0M160.8 390.6h0M160.9 382.9h0M161.0 375.2h0M161.1 385.3h0M161.3 401.9h0M161.4 386.5h0M161.5 389.5h0M161.6 394.5h0M161.7 382.6h0M161.7 387.8h0M161.8 387.0h0M161.9 375.1h0M162.0 379.2h0M162.1 399.9h0M162.2 399.0h0M162.3 377.6h0M162.4 388.7h0M162.5 390.6h0M162.6 390.7h0M162.7 370.1h0M162.8 373.6h0M162.9 388.5h0M163.1 392.1h0M163.2 380.5h0M163.3 384.9h0M163.5 394.2h0M163.6 397.5h0M163.6 381.7h0M163.7 378.8h0M163.9 377.0h0M164.0 370.6h0M164.2 380.9h0M164.3 382.6h0M164.4 394.3h0M164.5 374.4h0M164.6 368.3h0M164.7 379.3h0M164.8 365.1h0M165.0 376.4h0M165.2 373.3h0M165.3 387.0h0M165.4 382.8h0M165.4 391.6h0M165.5 393.6h0M165.6 373.8h0M165.7 367.8h0M165.9 376.9h0M166.0 378.6h0M166.1 387.2h0M166.2 366.5h0M166.3 383.6h0M166.5 382.0h0M166.6 369.3h0M166.7 370.5h0M166.9 368.7h0M167.0 374.6h0M167.1 379.8h0M167.2 380.0h0M167.5 387.1h0M167.6 382.2h0M167.7 366.8h0M167.8 387.6h0M168.0 382.7h0M168.4 365.0h0M168.5 371.0h0M168.6 373.3h0M168.7 379.5h0M168.9 379.3h0M169.0 369.2h0M169.1 382.3h0M169.2 363.2h0M169.2 380.1h0M169.3 383.8h0M169.4 362.4h0M169.5 376.6h0M169.7 369.6h0M169.8 379.1h0M170.2 369.5h0M170.3 388.2h0M170.4 364.2h0M170.5 390.1h0M170.7 371.7h0M170.8 370.5h0M170.9 373.6h0M171.0 386.6h0M171.0 365.9h0M171.1 389.0h0M171.2 379.1h0M171.3 382.3h0M171.4 378.2h0M171.5 366.1h0M171.6 380.7h0M171.7 368.8h0M171.8 367.6h0M171.9 391.2h0M172.0 385.8h0M172.1 378.1h0M172.2 380.1h0M172.3 371.2h0M172.5 374.0h0M172.7 366.8h0M172.8 375.7h0M172.9 387.7h0M172.9 373.9h0M173.1 379.2h0M173.2 368.3h0M173.3 374.7h0M173.4 366.7h0M173.6 378.1h0M173.9 383.7h0M174.0 368.8h0M174.1 388.5h0M174.3 366.3h0M174.4 385.5h0M174.5 372.6h0M174.6 382.5h0M174.7 377.8h0M174.8 371.7h0M174.8 374.4h0M174.9 377.2h0M175.1 373.3h0M175.2 383.0h0M175.3 364.3h0M175.4 365.4h0M175.5 361.4h0M175.7 382.8h0M175.8 363.1h0M175.9 362.3h0M176.0 373.6h0M176.1 371.2h0M176.4 379.3h0M176.7 379.0h0M176.8 370.9h0M176.9 368.0h0M177.2 373.3h0M177.3 365.3h0M177.4 386.7h0M177.5 374.2h0M177.6 364.2h0M177.7 360.9h0M177.8 368.5h0M178.0 375.2h0M178.1 370.1h0M178.2 377.0h0M178.3 374.6h0M178.5 376.1h0M178.5 383.5h0M178.6 371.6h0M178.7 377.1h0M178.8 377.1h0M178.9 374.9h0M179.0 366.4h0M179.1 371.7h0M179.2 385.9h0M179.3 375.4h0M179.4 369.4h0M179.6 362.8h0M179.7 366.5h0M179.8 383.9h0M179.9 371.0h0M180.1 358.8h0M180.2 374.8h0M180.3 365.4h0M180.4 380.9h0M180.4 388.5h0M180.5 368.8h0M180.6 371.9h0M180.7 369.3h0M180.8 374.6h0M180.9 371.1h0M181.0 379.4h0M181.1 369.7h0M181.2 366.2h0M181.3 375.0h0M181.4 366.4h0M181.6 382.2h0M181.7 360.2h0M181.9 372.0h0M182.0 375.5h0M182.1 387.0h0M182.2 371.0h0M182.2 366.9h0M182.3 389.2h0M182.4 369.1h0M182.5 369.8h0M182.6 370.3h0M182.7 385.7h0M182.8 369.3h0M183.0 389.4h0M183.2 373.4h0M183.3 386.2h0M183.4 361.5h0M183.5 363.4h0M183.6 381.2h0M183.8 384.7h0M183.9 371.7h0M184.2 365.0h0M184.4 375.6h0M184.5 375.1h0M184.6 385.6h0M184.7 371.7h0M184.8 385.6h0M184.9 384.5h0M185.0 379.4h0M185.1 387.1h0M185.3 388.2h0M185.4 382.6h0M185.5 378.2h0M185.6 375.1h0M185.7 373.9h0M185.8 381.2h0M185.9 384.2h0M186.0 379.9h0M186.1 371.8h0M186.2 373.1h0M186.3 385.7h0M186.6 370.3h0M186.7 377.6h0M186.9 376.7h0M187.0 386.0h0M187.1 391.3h0M187.2 384.0h0M187.3 382.9h0M187.4 387.3h0M187.6 383.9h0M187.7 374.0h0M187.8 386.0h0M187.8 380.2h0M188.0 382.9h0M188.1 381.9h0M188.4 375.8h0M188.5 390.0h0M188.6 374.9h0M188.7 385.5h0M188.9 373.3h0M189.0 384.6h0M189.2 381.6h0M189.4 384.5h0M189.5 372.9h0M189.6 386.0h0M189.7 385.3h0M189.7 370.6h0M189.9 371.8h0M190.0 368.5h0M190.1 375.4h0M190.2 371.7h0M190.3 370.4h0M190.5 376.0h0M190.6 380.0h0M190.8 379.1h0M191.1 380.7h0M191.2 383.6h0M191.3 388.4h0M191.4 381.2h0M191.5 378.0h0M191.7 377.4h0M192.0 377.9h0M192.1 379.3h0M192.4 376.6h0M192.6 387.5h0M192.8 390.3h0M192.9 380.5h0M193.1 380.1h0M193.2 381.2h0M193.3 373.5h0M193.4 385.0h0M193.4 379.9h0M193.5 389.7h0M193.6 386.5h0M193.9 379.7h0M194.1 379.2h0M194.2 376.9h0M194.3 392.7h0M194.5 390.2h0M194.7 371.8h0M194.8 380.0h0M194.9 392.5h0M195.0 369.2h0M195.1 381.1h0M195.2 379.2h0M195.3 375.9h0M195.3 381.5h0M195.4 385.7h0M195.5 375.8h0M195.6 386.1h0M195.7 380.5h0M195.8 389.2h0M196.0 389.3h0M196.1 387.2h0M196.2 381.2h0M196.5 379.9h0M196.8 393.7h0M196.9 387.4h0M197.1 379.7h0M197.2 380.6h0M197.3 382.8h0M197.4 390.9h0M197.6 383.4h0M197.7 391.7h0M197.9 374.3h0M198.0 385.9h0M198.1 367.5h0M198.3 379.7h0M198.4 374.0h0M198.5 378.8h0M198.6 393.7h0M198.7 393.5h0M198.8 379.7h0M198.9 393.5h0M199.0 390.6h0M199.0 370.4h0M199.1 386.0h0M199.3 381.2h0M199.4 374.0h0M199.5 380.2h0M199.7 374.3h0M199.8 370.8h0M199.9 371.6h0M200.0 385.3h0M200.1 377.6h0M200.2 372.7h0M200.3 363.2h0M200.4 385.3h0M200.7 372.8h0M200.9 372.0h0M200.9 392.4h0M201.0 368.7h0M201.1 378.2h0M201.2 377.2h0M201.3 380.3h0M201.4 366.1h0M201.5 375.7h0M201.6 390.4h0M201.7 376.5h0M201.8 373.6h0M201.9 390.8h0M202.0 387.4h0M202.1 386.8h0M202.2 389.4h0M202.3 378.2h0M202.4 370.3h0M202.6 368.3h0M202.7 370.4h0M202.7 368.9h0M202.8 366.7h0M202.9 386.9h0M203.0 374.3h0M203.1 378.7h0M203.2 384.0h0M203.6 387.9h0M203.7 388.5h0M203.8 385.8h0M204.0 376.5h0M204.1 382.9h0M204.2 381.4h0M204.3 378.7h0M204.4 374.2h0M204.5 389.7h0M204.6 384.0h0M204.9 364.7h0M205.1 377.3h0M205.2 365.5h0M205.3 388.3h0M205.4 363.7h0M205.6 371.8h0M205.8 375.7h0M205.9 391.6h0M206.0 376.9h0M206.1 388.2h0M206.5 389.4h0M206.5 383.4h0M206.7 381.5h0M206.8 385.9h0M206.9 387.9h0M207.0 397.4h0M207.1 399.8h0M207.2 391.9h0M207.3 379.7h0M207.7 377.5h0M207.8 384.2h0M207.9 398.8h0M208.0 383.2h0M208.2 386.8h0M208.3 379.4h0M208.5 387.8h0M208.6 399.5h0M208.7 389.0h0M208.8 388.0h0M209.1 392.1h0M209.2 387.6h0M209.3 385.1h0M209.4 387.6h0M209.5 398.1h0M209.6 382.4h0M209.7 379.3h0M209.8 394.9h0M209.9 397.9h0M210.0 385.1h0M210.2 373.1h0M210.2 395.9h0M210.3 387.2h0M210.5 389.4h0M210.6 391.0h0M210.7 396.7h0M211.0 381.4h0M211.1 381.3h0M211.3 385.8h0M211.4 378.1h0M211.5 384.5h0M211.7 378.9h0M211.8 381.2h0M212.0 388.0h0M212.1 386.6h0M212.3 386.8h0M212.5 390.3h0M212.6 389.0h0M212.8 376.9h0M212.9 395.6h0M213.0 388.4h0M213.1 399.2h0M213.3 391.1h0M213.5 397.1h0M213.6 389.8h0M213.7 386.2h0M213.8 385.5h0M213.9 387.9h0M214.0 381.2h0M214.3 393.8h0M214.4 394.4h0M214.5 388.8h0M214.6 393.9h0M214.7 396.9h0M214.9 386.4h0M215.0 391.0h0M215.1 390.0h0M215.2 389.7h0M215.4 381.6h0M215.5 374.1h0M215.7 383.6h0M215.8 375.0h0M215.9 387.3h0M216.1 380.8h0M216.2 394.9h0M216.5 375.5h0M216.7 379.6h0M217.1 389.3h0M217.4 383.3h0M217.5 378.1h0M217.6 387.6h0M217.7 389.5h0M217.7 386.7h0M218.0 377.2h0M218.1 378.2h0M218.2 393.7h0M218.3 389.3h0M218.5 385.7h0M218.7 384.3h0M218.8 388.9h0M218.9 395.5h0M219.1 407.3h0M219.2 396.7h0M219.3 388.9h0M219.4 392.8h0M219.5 389.0h0M219.5 381.1h0M219.6 384.8h0M219.8 386.8h0M219.9 382.4h0M220.0 388.2h0M220.1 390.9h0M220.2 385.2h0M220.5 376.5h0M220.6 406.7h0M220.7 381.8h0M220.8 391.7h0M220.9 379.0h0M221.0 391.8h0M221.1 403.5h0M221.2 379.9h0M221.3 390.6h0M221.4 391.6h0M221.4 392.2h0M221.5 381.5h0M221.6 383.9h0M221.7 391.0h0M221.9 398.8h0M222.0 393.0h0M222.2 396.3h0M222.3 390.3h0M222.4 396.1h0M222.5 381.1h0M222.6 396.7h0M222.7 395.9h0M222.8 393.9h0M223.0 384.8h0M223.1 391.3h0M223.2 399.8h0M223.3 410.2h0M223.4 394.5h0M223.5 380.7h0M223.7 405.2h0M223.8 410.3h0M223.9 393.0h0M224.2 403.8h0M224.3 406.9h0M224.4 402.2h0M224.5 391.8h0M224.6 395.4h0M224.7 402.1h0M224.8 406.7h0M224.9 405.3h0M225.0 392.6h0M225.1 388.9h0M225.1 389.7h0M225.2 392.2h0M225.4 412.4h0M225.5 404.4h0M225.6 398.3h0M225.9 384.2h0M226.0 397.4h0M226.2 408.5h0M226.3 399.3h0M226.4 405.4h0M226.5 410.3h0M226.6 395.5h0M226.7 406.9h0M227.0 409.3h0M227.1 403.2h0M227.2 414.7h0M227.3 387.1h0M227.4 414.9h0M227.6 391.7h0M227.7 413.4h0M227.9 400.9h0M228.0 388.6h0M228.1 404.8h0M228.2 416.7h0M228.3 401.4h0M228.6 396.4h0M228.7 402.9h0M228.8 404.4h0M228.9 407.0h0M229.0 391.0h0M229.1 396.3h0M229.2 415.2h0M229.3 385.1h0M229.4 418.8h0M229.5 395.8h0M229.6 401.5h0M229.7 389.3h0M229.8 399.1h0M230.1 390.3h0M230.3 402.7h0M230.4 390.8h0M230.5 398.0h0M230.7 410.0h0M230.7 387.5h0M230.8 395.9h0M230.9 399.2h0M231.0 407.8h0M231.1 395.6h0M231.2 418.1h0M231.4 392.0h0M231.6 383.1h0M231.7 403.1h0M231.8 396.8h0M231.9 398.6h0M232.0 394.4h0M232.1 402.5h0M232.2 403.4h0M232.3 400.3h0M232.4 386.3h0M232.5 385.1h0M232.6 383.3h0M232.6 393.9h0M232.7 400.4h0M232.9 390.1h0M233.0 387.6h0M233.1 402.1h0M233.2 387.6h0M233.3 381.8h0M233.4 395.7h0M233.5 384.2h0M233.6 392.8h0M233.9 401.5h0M234.0 400.6h0M234.1 389.4h0M234.2 405.6h0M234.3 400.5h0M234.4 406.5h0M234.5 395.4h0M234.5 394.1h0M234.6 383.3h0M234.7 385.4h0M234.8 392.8h0M234.9 391.8h0M235.0 393.3h0M235.1 393.2h0M235.4 396.5h0M235.5 390.7h0M235.6 381.0h0M235.7 407.2h0M235.8 390.1h0M235.9 384.0h0M236.0 399.4h0M236.2 398.3h0M236.3 408.1h0M236.3 386.2h0M236.4 403.9h0M236.6 392.1h0M236.7 403.2h0M236.8 399.6h0M236.9 406.5h0M237.0 389.0h0M237.2 396.0h0M237.3 382.5h0M237.4 404.5h0M237.5 389.7h0M237.8 378.6h0M237.9 379.2h0M238.2 404.5h0M238.2 381.5h0M238.3 397.9h0M238.4 394.8h0M238.5 384.4h0M238.6 391.3h0M238.7 390.0h0M238.8 396.4h0M238.9 379.3h0M239.0 401.7h0M239.2 396.4h0M239.3 401.8h0M239.4 384.7h0M239.5 386.9h0M239.7 389.5h0M239.8 408.1h0M239.9 401.9h0M240.0 382.7h0M240.0 402.2h0M240.1 387.7h0M240.2 396.4h0M240.4 392.9h0M240.5 405.6h0M240.7 404.7h0M240.8 402.3h0M240.9 390.0h0M241.0 391.5h0M241.1 380.0h0M241.2 389.4h0M241.3 389.9h0M241.5 387.5h0M241.6 392.8h0M241.7 387.7h0M241.8 381.9h0M241.9 381.8h0M241.9 397.5h0M242.1 400.5h0M242.2 387.6h0M242.5 392.6h0M242.6 385.4h0M242.7 397.3h0M242.8 403.8h0M243.1 393.5h0M243.4 403.7h0M243.7 401.3h0M243.8 393.3h0M243.8 403.1h0M243.9 389.2h0M244.0 405.6h0M244.1 390.1h0M244.3 387.5h0M244.4 393.2h0M244.6 400.8h0M244.8 393.9h0M244.9 387.8h0M245.0 390.1h0M245.1 389.0h0M245.2 391.2h0M245.3 399.8h0M245.4 397.4h0M245.5 385.5h0M245.6 392.0h0M245.6 404.6h0M245.7 399.2h0M245.8 399.1h0M245.9 391.6h0M246.0 388.9h0M246.1 390.0h0M246.2 398.9h0M246.3 391.0h0M246.4 407.4h0M246.7 392.1h0M246.9 402.7h0M247.0 405.8h0M247.1 384.2h0M247.2 406.0h0M247.3 388.5h0M247.5 397.7h0M247.5 406.6h0M247.6 410.6h0M247.7 386.6h0M247.8 387.6h0M247.9 383.0h0M248.1 389.1h0M248.2 389.0h0M248.3 393.9h0M248.4 391.2h0M248.5 396.7h0M248.6 403.2h0M248.9 389.8h0M249.0 387.6h0M249.2 404.3h0M249.3 395.3h0M249.4 398.5h0M249.4 405.8h0M249.5 393.7h0M249.6 398.1h0M249.7 399.8h0M249.8 385.3h0M249.9 406.0h0M250.0 388.3h0M250.1 401.2h0M250.2 388.6h0M250.3 392.9h0M250.4 404.4h0M250.5 405.4h0M250.6 403.0h0M250.7 404.0h0M250.8 391.9h0M250.9 385.2h0M251.1 410.4h0M251.2 393.2h0M251.4 411.8h0M251.6 404.8h0M251.7 402.5h0M251.8 413.1h0M251.9 415.8h0M252.0 388.6h0M252.1 404.5h0M252.2 414.9h0M252.4 393.2h0M252.5 399.1h0M252.6 387.4h0M252.7 404.4h0M252.9 413.8h0M253.0 411.1h0M253.1 397.4h0M253.1 404.9h0M253.3 414.9h0M253.4 404.7h0M253.6 393.5h0M253.7 389.7h0M253.8 384.6h0M253.9 392.5h0M254.1 402.3h0M254.2 394.7h0M254.3 386.7h0M254.4 400.7h0M254.5 400.5h0M254.6 402.6h0M254.7 404.8h0M254.8 410.6h0M254.9 403.9h0M255.0 415.7h0M255.0 393.0h0M255.1 416.3h0M255.4 384.8h0M255.5 400.4h0M255.6 404.9h0M255.7 383.6h0M255.8 396.0h0M255.9 391.6h0M256.0 406.8h0M256.1 385.8h0M256.2 407.9h0M256.3 397.3h0M256.5 406.4h0M256.6 392.8h0M256.7 404.1h0M256.8 404.2h0M256.8 389.7h0M256.9 399.9h0M257.2 392.6h0M257.3 412.5h0M257.5 414.8h0M257.6 389.2h0M257.7 412.2h0M257.8 407.2h0M257.9 392.7h0M258.0 403.8h0M258.2 394.3h0M258.3 410.1h0M258.4 396.4h0M258.5 387.2h0M258.6 396.1h0M258.8 392.2h0M258.9 399.2h0M259.0 410.6h0M259.1 383.5h0M259.5 407.4h0M259.8 400.4h0M259.9 415.6h0M260.0 398.8h0M260.1 396.0h0M260.2 393.5h0M260.3 387.4h0M260.4 410.5h0M260.5 394.1h0M260.6 391.2h0M260.8 403.1h0M260.9 411.0h0M261.0 411.2h0M261.1 391.1h0M261.2 390.5h0M261.3 409.7h0M261.4 415.7h0M261.5 385.3h0M261.6 408.7h0M261.7 398.1h0M261.8 409.4h0M262.0 398.5h0M262.1 402.2h0M262.2 383.0h0M262.4 402.2h0M262.4 387.9h0M262.5 387.6h0M262.6 406.1h0M262.7 410.2h0M262.9 404.3h0M263.0 400.3h0M263.1 403.4h0M263.2 401.5h0M263.3 407.1h0M263.4 391.1h0M263.6 385.2h0M263.7 404.3h0M263.9 399.4h0M264.1 407.5h0M264.2 385.4h0M264.3 395.5h0M264.4 412.5h0M264.5 390.8h0M264.8 408.1h0M264.9 382.0h0M265.0 391.0h0M265.3 388.9h0M265.4 399.2h0M265.5 405.4h0M265.6 393.3h0M265.8 404.3h0M266.0 387.5h0M266.1 404.3h0M266.2 408.2h0M266.2 411.8h0M266.3 392.9h0M266.4 405.0h0M266.5 387.9h0M266.6 398.1h0M266.8 381.7h0M266.9 398.7h0M267.0 401.6h0M267.3 406.0h0M267.4 384.2h0M267.7 406.6h0M267.8 403.8h0M267.9 387.3h0M268.0 385.4h0M268.0 398.7h0M268.1 389.5h0M268.3 393.4h0M268.4 379.0h0M268.7 392.6h0M268.8 384.2h0M268.9 376.4h0M269.1 383.7h0M269.2 398.3h0M269.3 385.2h0M269.4 378.0h0M269.5 397.8h0M269.6 398.3h0M269.7 383.4h0M269.8 385.0h0M269.9 377.9h0M269.9 388.3h0M270.0 396.9h0M270.1 394.4h0M270.2 401.4h0M270.3 400.4h0M270.4 395.8h0M270.5 394.9h0M270.6 396.2h0M270.7 403.6h0M270.8 389.7h0M270.9 396.1h0M271.1 386.0h0M271.3 393.5h0M271.4 379.4h0M271.5 388.2h0M271.6 394.6h0M271.9 380.5h0M272.1 375.3h0M272.2 379.7h0M272.3 387.3h0M272.4 401.6h0M272.5 380.4h0M272.6 387.9h0M272.7 380.8h0M272.8 388.8h0M272.9 396.9h0M273.0 400.6h0M273.1 380.4h0M273.4 392.0h0M273.5 383.3h0M273.6 398.4h0M273.7 392.6h0M273.8 401.7h0M273.9 374.6h0M274.0 385.4h0M274.1 393.9h0M274.3 390.6h0M274.4 376.7h0M274.5 391.9h0M274.6 393.4h0M274.7 380.8h0M275.0 402.8h0M275.1 387.7h0M275.2 381.2h0M275.3 400.5h0M275.4 398.0h0M275.5 385.3h0M275.5 389.4h0M275.6 391.0h0M275.7 385.7h0M275.8 385.5h0M275.9 399.0h0M276.0 396.0h0M276.1 382.8h0M276.2 391.2h0M276.3 372.1h0M276.4 398.0h0M276.5 375.1h0M276.6 379.1h0M276.7 388.3h0M276.8 382.2h0M276.9 378.2h0M277.1 400.3h0M277.2 380.8h0M277.3 389.5h0M277.4 390.3h0M277.4 374.3h0M277.5 378.2h0M277.6 399.7h0M277.7 391.1h0M277.9 385.1h0M278.1 377.5h0M278.2 388.6h0M278.4 385.7h0M278.5 383.7h0M278.7 387.2h0M278.8 391.8h0M279.0 393.5h0M279.1 393.9h0M279.2 375.1h0M279.3 384.6h0M279.4 382.4h0M279.5 386.0h0M279.6 389.6h0M279.7 397.3h0M279.8 397.3h0M280.0 383.1h0M280.1 386.8h0M280.5 397.4h0M280.6 394.2h0M280.7 400.5h0M280.9 403.1h0M281.0 379.7h0M281.1 390.5h0M281.2 380.4h0M281.4 393.5h0M281.7 387.1h0M281.8 389.1h0M281.9 398.2h0M282.1 378.2h0M282.2 385.2h0M282.3 395.6h0M282.4 395.5h0M282.6 391.8h0M282.8 398.0h0M282.9 384.8h0M283.0 396.2h0M283.0 380.4h0M283.1 384.7h0M283.2 392.7h0M283.4 396.1h0M283.6 393.0h0M283.7 382.8h0M283.8 395.9h0M284.0 385.3h0M284.1 386.6h0M284.2 397.2h0M284.3 394.8h0M284.4 387.2h0M284.5 397.6h0M284.6 386.6h0M284.7 393.1h0M284.8 392.5h0M284.9 397.9h0M285.0 400.7h0M285.1 386.5h0M285.2 397.4h0M285.3 385.7h0M285.4 379.7h0M285.5 391.3h0M285.6 411.5h0M285.7 402.4h0M285.8 383.5h0M285.9 397.7h0M286.0 404.6h0M286.1 396.6h0M286.2 390.1h0M286.3 393.3h0M286.4 389.2h0M286.5 406.9h0M286.6 400.9h0M286.7 401.1h0M286.7 398.8h0M286.9 402.2h0M287.1 384.0h0M287.2 382.4h0M287.3 381.4h0M287.4 392.1h0M287.5 407.7h0M287.6 391.2h0M287.7 405.2h0M287.8 396.1h0M287.9 414.3h0M288.0 411.0h0M288.1 399.1h0M288.2 384.2h0M288.3 405.7h0M288.6 407.5h0M288.8 409.7h0M288.9 414.7h0M289.0 409.7h0M289.1 398.0h0M289.2 398.7h0M289.4 406.8h0M289.5 409.7h0M289.6 408.4h0M289.7 408.2h0M289.8 403.0h0M289.9 409.6h0M290.0 403.8h0M290.2 400.3h0M290.4 407.4h0M290.5 393.6h0M290.6 413.3h0M290.8 412.0h0M290.9 402.3h0M291.0 404.9h0M291.1 394.8h0M291.2 402.0h0M291.3 407.8h0M291.6 422.3h0M291.8 407.1h0M291.9 401.2h0M292.0 421.2h0M292.1 416.3h0M292.2 403.6h0M292.4 411.7h0M292.5 406.0h0M292.6 414.6h0M292.8 408.6h0M293.0 401.2h0M293.2 410.0h0M293.3 405.7h0M293.4 401.2h0M293.5 414.9h0M293.6 399.0h0M293.9 404.0h0M294.1 416.0h0M294.1 397.8h0M294.2 405.4h0M294.3 420.1h0M294.4 409.4h0M294.5 414.7h0M294.6 414.9h0M294.7 407.4h0M294.8 395.9h0M294.9 412.1h0M295.0 406.9h0M295.2 407.0h0M295.4 398.7h0M295.5 402.6h0M295.6 414.4h0M295.7 419.6h0M295.8 409.3h0M295.9 423.9h0M296.1 397.0h0M296.2 418.7h0M296.6 402.3h0M296.7 421.0h0M296.8 405.0h0M296.9 419.2h0M297.0 406.3h0M297.1 408.5h0M297.2 411.8h0M297.3 400.4h0M297.5 413.1h0M297.6 395.6h0M297.7 404.8h0M297.8 406.0h0M298.1 413.1h0M298.3 408.5h0M298.4 407.4h0M298.6 400.3h0M298.9 409.2h0M299.2 401.5h0M299.3 401.0h0M299.4 397.4h0M299.6 412.6h0M299.7 398.9h0M299.7 396.3h0M299.8 413.4h0M299.9 406.2h0M300.0 405.9h0M300.1 403.9h0M300.2 393.8h0M300.3 400.6h0M300.4 399.8h0M300.7 413.7h0M300.8 397.4h0M301.1 397.6h0M301.2 408.4h0M301.4 409.9h0M301.6 392.4h0M301.6 407.9h0M301.7 409.9h0M301.8 407.6h0M301.9 398.8h0M302.4 399.0h0M302.5 401.5h0M302.6 387.3h0M302.7 402.8h0M303.0 410.8h0M303.1 398.5h0M303.2 413.9h0M303.3 410.7h0M303.4 403.7h0M303.5 387.7h0M303.5 387.8h0M303.6 404.8h0M303.7 391.9h0M303.9 402.2h0M304.1 396.4h0M304.2 395.9h0M304.3 390.4h0M304.4 405.0h0M304.5 399.3h0M304.6 395.2h0M304.7 396.7h0M304.8 407.2h0M305.0 403.2h0M305.3 395.3h0M305.3 404.7h0M305.6 400.2h0M305.7 412.3h0M305.8 396.2h0M306.0 391.7h0M306.1 412.2h0M306.2 403.2h0M306.5 399.8h0M306.6 401.2h0M306.8 401.1h0M307.0 405.7h0M307.1 407.1h0M307.2 385.8h0M307.3 390.3h0M307.5 390.1h0M307.7 390.0h0M307.8 404.9h0M307.9 395.0h0M308.0 394.4h0M308.1 403.3h0M308.2 404.5h0M308.4 405.5h0M308.5 400.8h0M308.6 413.3h0M308.7 398.1h0M308.8 415.2h0M308.9 396.7h0M309.0 398.6h0M309.1 409.8h0M309.1 387.5h0M309.4 413.7h0M309.5 401.8h0M309.6 394.9h0M309.7 398.1h0M309.8 404.5h0M309.9 397.6h0M310.1 391.1h0M310.3 405.4h0M310.4 402.4h0M310.5 390.5h0M310.7 409.9h0M310.8 397.5h0M310.9 402.0h0M310.9 406.3h0M311.0 392.7h0M311.2 414.2h0M311.3 409.6h0M311.4 383.3h0M311.5 393.7h0M311.6 391.2h0M311.7 403.3h0M311.9 401.9h0M312.0 392.0h0M312.1 403.2h0M312.2 410.5h0M312.3 397.4h0M312.4 386.7h0M312.5 409.5h0M312.6 384.9h0M312.7 389.1h0M312.8 407.5h0M312.8 397.2h0M313.0 397.8h0M313.1 389.8h0M313.3 412.6h0M313.4 413.2h0M313.5 385.1h0M313.6 396.0h0M313.7 392.5h0M313.8 393.5h0M314.0 411.8h0M314.1 384.8h0M314.3 407.4h0M314.4 389.2h0M314.7 414.3h0M314.7 393.3h0M314.8 401.3h0M314.9 401.6h0M315.0 397.7h0M315.1 410.6h0M315.2 409.7h0M315.3 390.6h0M315.4 388.5h0M315.5 405.2h0M315.6 415.7h0M315.8 385.7h0M315.9 394.5h0M316.0 410.9h0M316.1 405.7h0M316.2 396.0h0M316.3 410.2h0M316.5 397.4h0M316.5 394.5h0M316.6 411.3h0M316.7 409.9h0M316.8 408.5h0M316.9 396.1h0M317.0 402.5h0M317.1 402.8h0M317.2 395.8h0M317.3 396.9h0M317.6 402.0h0M317.7 411.7h0M317.8 400.0h0M318.0 406.4h0M318.1 399.4h0M318.2 404.3h0M318.3 395.4h0M318.4 397.2h0M318.4 409.7h0M318.5 403.0h0M318.6 389.3h0M318.7 387.6h0M318.8 389.6h0M318.9 390.4h0M319.0 404.5h0M319.1 404.9h0M319.2 389.8h0M319.3 414.5h0M319.5 401.5h0M319.7 405.4h0M319.8 409.3h0M320.0 415.2h0M320.1 394.4h0M320.2 409.9h0M320.3 405.6h0M320.3 404.4h0M320.4 410.0h0M320.5 402.5h0M320.6 407.3h0M320.7 399.3h0M320.9 407.2h0M321.0 405.5h0M321.2 405.5h0M321.3 408.8h0M321.4 400.3h0M321.6 403.6h0M321.7 403.8h0M321.8 406.8h0M322.1 395.9h0M322.1 394.2h0M322.2 410.8h0M322.3 404.3h0M322.7 401.2h0M322.8 412.6h0M322.9 411.8h0M323.0 396.6h0M323.1 399.0h0M323.3 401.7h0M323.4 387.9h0M323.5 410.3h0M323.6 400.0h0M324.0 393.2h0M324.0 416.0h0M324.1 417.6h0M324.2 406.7h0M324.4 410.2h0M324.5 417.8h0M324.6 397.7h0M324.7 400.4h0M325.1 406.9h0M325.2 398.8h0M325.3 399.1h0M325.6 413.0h0M325.7 404.9h0M325.8 393.6h0M325.9 397.9h0M325.9 408.4h0M326.0 415.4h0M326.1 393.2h0M326.2 392.4h0M326.4 405.7h0M326.6 417.8h0M326.7 410.0h0M326.8 411.6h0M326.9 409.1h0M327.0 414.0h0M327.1 410.1h0M327.2 404.4h0M327.3 409.1h0M327.4 396.1h0M327.5 404.9h0M327.6 403.9h0M327.7 400.3h0M327.8 402.2h0M327.9 404.2h0M328.0 403.3h0M328.1 397.4h0M328.2 413.5h0M328.3 420.9h0M328.5 390.7h0M328.6 409.9h0M328.8 409.4h0M329.0 402.5h0M329.1 394.7h0M329.2 406.5h0M329.3 407.9h0M329.5 412.3h0M329.6 392.0h0M329.6 393.9h0M329.7 420.0h0M329.8 401.3h0M329.9 411.1h0M330.0 415.7h0M330.3 399.8h0M330.4 409.2h0M330.5 401.5h0M330.6 417.2h0M330.8 408.5h0M330.9 408.0h0M331.2 399.7h0M331.3 403.1h0M331.4 415.7h0M331.5 406.0h0M331.5 397.0h0M331.7 415.1h0M331.8 397.5h0M332.0 404.0h0M332.5 404.8h0M332.7 395.6h0M332.8 392.4h0M332.9 390.6h0M333.0 390.7h0M333.1 405.0h0M333.2 413.4h0M333.3 410.0h0M333.3 405.1h0M333.5 399.9h0M333.6 410.3h0M333.7 404.1h0M333.8 394.4h0M333.9 400.8h0M334.4 418.0h0M334.5 411.2h0M334.6 419.9h0M334.7 418.2h0M334.8 398.2h0M334.9 416.2h0M335.0 416.8h0M335.1 407.7h0M335.2 395.2h0M335.2 408.7h0M335.3 408.7h0M335.4 393.8h0M335.5 399.0h0M335.6 399.2h0M335.7 393.4h0M335.8 416.3h0M335.9 402.0h0M336.0 411.9h0M336.1 392.4h0M336.2 394.9h0M336.3 416.7h0M336.4 388.8h0M336.5 418.1h0M336.6 390.7h0M336.7 402.0h0M336.8 414.6h0M336.9 417.5h0M337.0 408.0h0M337.1 404.7h0M337.1 412.7h0M337.2 397.8h0M337.3 420.8h0M337.4 404.5h0M337.5 404.4h0M337.7 400.7h0M337.8 419.2h0M338.0 411.6h0M338.1 407.0h0M338.3 393.7h0M338.4 410.0h0M338.7 391.5h0M338.8 388.8h0M338.9 400.2h0M338.9 410.8h0M339.0 396.7h0M339.2 392.9h0M339.3 401.5h0M339.4 407.1h0M339.6 396.3h0M339.7 400.1h0M339.8 419.5h0M340.0 403.0h0M340.1 395.7h0M340.2 405.5h0M340.3 395.0h0M340.4 395.3h0M340.7 407.7h0M340.8 398.5h0M340.8 393.4h0M340.9 387.6h0M341.1 404.9h0M341.2 395.7h0M341.3 389.8h0M341.5 415.2h0M341.6 408.6h0M341.7 416.7h0M341.8 394.7h0M341.9 419.9h0M342.0 390.4h0M342.1 393.4h0M342.2 398.7h0M342.4 412.5h0M342.5 395.7h0M342.6 421.2h0M342.6 407.4h0M342.7 405.8h0M342.8 394.1h0M342.9 401.3h0M343.1 401.5h0M343.2 409.9h0M343.3 404.7h0M343.4 406.4h0M343.5 396.2h0M343.6 407.0h0M343.7 392.7h0M344.0 390.8h0M344.2 407.0h0M344.3 391.7h0M344.4 404.1h0M344.5 395.0h0M344.6 411.7h0M344.7 404.3h0M344.9 407.3h0M345.0 402.8h0M345.1 424.4h0M345.2 407.4h0M345.3 408.3h0M345.4 414.7h0M345.5 407.7h0M345.6 423.7h0M345.7 389.0h0M346.0 415.9h0M346.1 419.4h0M346.2 402.3h0M346.3 425.3h0M346.4 403.1h0M346.5 414.1h0M346.6 409.7h0M346.7 402.8h0M346.8 405.3h0M347.0 398.5h0M347.1 421.2h0M347.2 394.4h0M347.3 421.8h0M347.4 405.0h0M347.5 420.8h0M347.6 415.9h0M347.8 390.6h0M347.9 412.8h0M348.0 413.8h0M348.1 412.9h0M348.2 410.0h0M348.3 420.3h0M348.4 421.0h0M348.5 399.6h0M348.6 425.3h0M348.7 410.8h0M348.8 393.1h0M348.9 406.5h0M349.0 412.2h0M349.1 415.0h0M349.2 417.4h0M349.3 419.7h0M349.4 405.1h0M349.5 392.1h0M349.6 395.4h0M349.7 413.5h0M349.8 415.5h0M349.9 398.7h0M350.1 412.1h0M350.2 410.8h0M350.3 420.2h0M350.4 423.3h0M350.5 403.0h0M350.7 419.3h0M350.8 414.9h0M350.9 406.3h0M351.0 423.5h0M351.1 394.5h0M351.2 411.0h0M351.3 410.5h0M351.4 411.7h0M351.5 415.5h0M351.6 419.1h0M351.7 394.1h0M351.8 405.2h0M351.9 409.0h0M352.0 396.0h0M352.0 416.1h0M352.1 400.4h0M352.2 407.6h0M352.3 418.3h0M352.4 398.9h0M352.6 400.3h0M352.7 418.4h0M352.8 403.2h0M353.0 401.4h0M353.1 415.2h0M353.2 408.5h0M353.3 412.6h0M353.4 422.1h0M353.5 421.3h0M353.6 407.8h0M353.7 402.1h0M353.8 409.3h0M353.9 402.5h0M354.0 407.2h0M354.1 420.4h0M354.3 396.5h0M354.4 423.0h0M354.5 401.1h0M354.8 405.8h0M354.9 405.2h0M355.0 406.2h0M355.1 418.0h0M355.2 412.6h0M355.3 425.4h0M355.4 407.4h0M355.5 402.6h0M355.6 416.7h0M355.7 419.8h0M355.7 414.5h0M355.8 409.0h0M355.9 408.2h0M356.1 410.1h0M356.2 408.1h0M356.3 424.2h0M356.6 401.6h0M356.8 425.4h0M356.9 416.6h0M357.0 405.3h0M357.1 397.6h0M357.2 401.2h0M357.3 393.8h0M357.4 409.4h0M357.5 403.9h0M357.6 403.9h0M357.6 413.8h0M357.7 394.6h0M357.8 401.4h0M357.9 397.2h0M358.0 413.3h0M358.1 396.6h0M358.2 421.0h0M358.3 404.0h0M358.5 420.5h0M358.6 400.0h0M358.7 413.9h0M358.9 406.6h0M359.2 401.6h0M359.3 408.9h0M359.4 403.7h0M359.4 404.7h0M359.6 406.0h0M359.8 411.5h0M360.0 401.8h0M360.1 413.4h0M360.2 401.3h0M360.3 407.1h0M360.6 418.9h0M360.8 400.6h0M360.9 411.0h0M361.0 404.2h0M361.2 412.0h0M361.3 405.5h0M361.3 414.8h0M361.4 415.6h0M361.5 419.8h0M361.6 425.2h0M361.9 409.4h0M362.1 395.0h0M362.2 406.7h0M362.4 400.3h0M362.5 399.7h0M362.6 422.2h0M362.8 419.4h0M362.9 413.3h0M363.1 407.1h0M363.2 412.1h0M363.3 400.8h0M363.5 407.4h0M363.6 403.1h0M363.7 418.0h0M363.8 418.7h0M363.9 404.0h0M364.1 417.8h0M364.2 400.4h0M364.3 415.1h0M364.4 418.3h0M364.5 420.8h0M364.6 406.1h0M364.7 412.1h0M364.8 406.1h0M364.9 410.0h0M365.0 412.9h0M365.2 406.4h0M365.3 407.7h0M365.4 405.9h0M365.7 408.0h0M365.8 408.2h0M366.0 402.1h0M366.1 408.4h0M366.3 412.4h0M366.4 422.0h0M366.5 406.1h0M366.6 418.2h0M366.7 402.7h0M366.8 420.1h0M366.9 409.0h0M366.9 410.1h0M367.0 407.9h0M367.1 413.5h0M367.3 416.9h0M367.4 408.1h0M367.6 414.1h0M367.7 405.6h0M367.8 410.5h0M368.0 408.1h0M368.2 403.8h0M368.3 400.3h0M368.4 416.4h0M368.5 412.7h0M368.7 397.8h0M368.8 395.0h0M368.8 400.6h0M368.9 402.3h0M369.0 402.6h0M369.1 407.5h0M369.2 404.0h0M369.3 407.0h0M369.4 403.3h0M369.5 418.1h0M369.6 414.4h0M369.7 400.5h0M369.8 411.0h0M370.1 405.6h0M370.4 398.7h0M370.5 399.2h0M370.6 414.6h0M370.6 419.9h0M370.7 409.4h0M370.8 406.7h0M370.9 415.8h0M371.0 405.0h0M371.2 398.9h0M371.3 399.9h0M371.4 418.8h0M371.7 397.6h0M371.8 414.3h0M371.9 401.6h0M372.2 403.3h0M372.3 393.9h0M372.5 406.1h0M372.5 403.4h0M372.6 396.8h0M372.7 406.9h0M372.8 412.2h0M372.9 415.1h0M373.0 406.4h0M373.1 413.6h0M373.2 397.3h0M373.3 410.2h0M373.5 392.5h0M373.7 393.9h0M373.8 410.9h0M374.0 400.4h0M374.1 416.4h0M374.2 398.5h0M374.3 412.6h0M374.4 402.4h0M374.6 401.7h0M374.7 407.8h0M374.8 401.6h0M375.0 417.4h0M375.1 399.6h0M375.2 419.8h0M375.3 398.8h0M375.4 400.5h0M375.5 397.8h0M375.6 412.3h0M375.8 408.4h0M375.9 404.1h0M376.0 414.4h0M376.2 411.1h0M376.2 394.4h0M376.3 416.5h0M376.4 402.1h0M376.5 409.9h0M376.6 395.0h0M376.7 408.9h0M376.8 415.4h0M377.2 400.4h0M377.3 419.1h0M377.4 416.3h0M377.5 396.7h0M377.7 396.7h0M377.8 409.9h0M377.9 415.7h0M378.0 402.5h0M378.1 398.1h0M378.1 411.9h0M378.2 407.2h0M378.3 396.1h0M378.4 396.6h0M378.5 405.7h0M378.7 413.9h0M378.9 415.8h0M379.0 411.8h0M379.1 397.3h0M379.2 398.5h0M379.3 401.5h0M379.5 408.4h0M379.6 394.1h0M379.7 409.4h0M380.0 401.8h0M380.0 400.0h0M380.1 404.4h0M380.3 391.8h0M380.4 396.4h0M380.5 415.3h0M380.6 399.5h0M380.7 409.3h0M380.9 404.7h0M381.0 402.9h0M381.1 410.6h0M381.2 398.1h0M381.4 393.5h0M381.5 402.8h0M381.7 393.0h0M381.8 407.5h0M381.9 410.7h0M382.0 397.9h0M382.1 414.5h0M382.2 396.3h0M382.3 417.5h0M382.4 415.8h0M382.5 405.2h0M382.8 405.4h0M382.9 399.4h0M383.0 420.3h0M383.1 395.0h0M383.2 411.8h0M383.3 399.3h0M383.4 403.1h0M383.5 410.7h0M383.6 411.5h0M383.7 413.4h0M383.8 414.3h0M384.0 394.2h0M384.2 396.7h0M384.3 403.2h0M384.4 410.0h0M384.5 400.5h0M384.6 396.8h0M384.7 412.2h0M384.8 408.9h0M384.9 403.9h0M385.1 416.9h0M385.2 403.8h0M385.3 406.8h0M385.4 413.5h0M385.5 415.4h0M385.6 402.5h0M385.6 396.1h0M385.7 402.3h0M385.8 415.6h0M386.0 397.6h0M386.1 404.1h0M386.2 399.4h0M386.4 416.3h0M386.6 407.7h0M386.7 412.9h0M386.8 416.0h0M387.0 395.7h0M387.3 401.5h0M387.4 412.6h0M387.4 393.5h0M387.5 405.4h0M387.7 408.4h0M387.8 404.8h0M387.9 402.1h0M388.1 406.1h0M388.2 409.0h0M388.3 408.1h0M388.4 400.8h0M388.6 406.6h0M388.7 408.0h0M388.8 412.1h0M388.9 398.4h0M389.2 410.8h0M389.3 416.3h0M389.3 400.6h0M389.4 412.0h0M389.5 406.3h0M389.6 402.5h0M389.8 401.8h0M389.9 415.3h0M390.0 409.8h0M390.1 408.2h0M390.2 397.9h0M390.3 398.7h0M390.5 405.0h0M390.6 412.4h0M390.7 412.7h0M390.8 399.7h0M391.0 403.3h0M391.1 413.6h0M391.2 404.1h0M391.2 404.3h0M391.3 406.8h0M391.4 415.5h0M391.7 420.2h0M391.9 405.5h0M392.1 408.2h0M392.5 406.7h0M392.6 422.5h0M392.8 400.4h0M393.0 418.4h0M393.0 403.5h0M393.1 409.7h0M393.2 423.3h0M393.3 402.8h0M393.4 425.4h0M393.8 410.4h0M393.9 422.8h0M394.3 425.9h0M394.5 410.3h0M394.6 414.8h0M394.7 413.5h0M394.8 415.7h0M394.9 396.8h0M394.9 411.3h0M395.2 403.5h0M395.3 425.8h0M395.4 417.7h0M395.5 424.0h0M395.6 413.5h0M395.7 409.8h0M395.8 411.7h0M395.9 421.2h0M396.1 423.8h0M396.2 405.5h0M396.3 416.3h0M396.6 424.7h0M396.7 407.0h0M396.7 415.3h0M396.8 424.4h0M396.9 400.7h0M397.0 414.6h0M397.2 426.1h0M397.3 419.7h0M397.4 404.7h0M397.5 429.9h0M397.6 400.8h0M397.7 408.6h0M397.8 419.4h0M397.9 401.1h0M398.1 396.8h0M398.2 409.7h0M398.3 414.6h0M398.5 399.8h0M398.6 427.0h0M398.6 419.0h0M398.7 419.1h0M398.9 421.4h0M399.2 415.9h0M399.3 415.8h0M399.4 401.1h0M399.5 423.3h0M399.7 417.7h0M399.8 414.0h0M399.9 422.0h0M400.0 418.4h0M400.1 408.6h0M400.2 417.3h0M400.3 402.3h0M400.4 425.8h0M400.5 415.1h0M400.6 418.8h0M400.7 425.4h0M400.8 402.2h0M400.9 409.2h0M401.0 411.9h0M401.2 396.9h0M401.4 409.6h0M401.5 425.6h0M401.6 434.1h0M401.7 418.2h0M401.8 421.9h0M401.9 425.2h0M402.0 421.3h0M402.2 401.2h0M402.3 431.0h0M402.3 425.7h0M402.4 411.7h0M402.6 407.8h0M402.7 407.7h0M402.8 421.9h0M402.9 430.6h0M403.1 423.8h0M403.3 402.8h0M403.4 417.9h0M403.5 426.9h0M403.6 428.9h0M403.8 412.1h0M403.9 401.5h0M404.1 425.0h0M404.2 410.7h0M404.4 416.5h0M404.6 419.6h0M404.7 423.1h0M404.8 426.2h0M404.9 408.4h0M405.1 409.4h0M405.2 415.1h0M405.3 423.6h0M405.6 405.8h0M405.9 422.7h0M406.0 411.6h0M406.1 424.6h0M406.2 420.3h0M406.3 431.3h0M406.4 419.1h0M406.5 418.3h0M406.6 422.1h0M406.7 425.7h0M406.9 432.5h0M407.0 417.8h0M407.1 409.8h0M407.2 422.8h0M407.4 426.7h0M407.5 409.4h0M407.6 410.4h0M407.7 425.4h0M407.9 409.2h0M407.9 412.5h0M408.0 426.2h0M408.1 413.9h0M408.2 416.9h0M408.3 403.8h0M408.4 426.4h0M408.5 406.3h0M408.6 411.5h0M408.7 427.9h0M408.8 404.3h0M408.9 405.9h0M409.0 431.3h0M409.2 429.3h0M409.3 426.6h0M409.4 419.8h0M409.5 407.2h0M409.6 409.3h0M409.7 417.0h0M409.8 400.2h0M409.9 399.8h0M410.1 413.5h0M410.4 420.8h0M410.5 427.9h0M410.6 414.5h0M410.7 414.4h0M410.8 429.6h0M410.9 428.8h0M411.0 418.5h0M411.1 417.7h0M411.4 404.2h0M411.5 415.0h0M411.6 415.5h0M411.7 411.9h0M411.7 427.2h0M411.8 415.9h0M411.9 403.3h0M412.1 402.8h0M412.2 409.9h0M412.3 418.5h0M412.4 424.8h0M412.5 399.9h0M412.7 424.9h0M412.8 420.1h0M413.0 425.3h0M413.3 400.5h0M413.4 412.9h0M413.5 423.7h0M413.5 418.3h0M413.7 400.8h0M413.8 430.7h0M413.9 416.5h0M414.0 429.4h0M414.2 412.9h0M414.4 396.5h0M414.5 414.4h0M414.6 419.3h0M414.7 412.5h0M414.8 402.6h0M414.9 432.0h0M415.2 411.5h0M415.4 411.9h0M415.4 397.3h0M415.5 421.9h0M415.6 408.8h0M415.7 396.3h0M415.8 402.6h0M415.9 420.1h0M416.0 404.0h0M416.1 422.5h0M416.3 408.4h0M416.4 397.9h0M416.5 404.5h0M416.6 429.5h0M416.7 404.2h0M416.8 414.2h0M416.9 419.9h0M417.1 402.4h0M417.2 403.9h0M417.3 408.5h0M417.4 418.9h0M417.5 402.3h0M417.6 404.8h0M417.7 408.4h0M417.8 417.3h0M417.9 421.1h0M418.0 420.8h0M418.1 418.0h0M418.2 424.6h0M418.3 429.6h0M418.4 419.2h0M418.5 402.8h0M418.6 405.6h0M418.7 423.9h0M419.0 427.6h0M419.1 408.7h0M419.1 401.1h0M419.3 398.7h0M419.5 402.0h0M419.6 399.4h0M419.7 396.8h0M419.9 422.1h0M420.0 415.1h0M420.1 419.3h0M420.2 397.8h0M420.3 422.1h0M420.4 399.1h0M420.5 407.1h0M420.7 425.8h0M420.8 419.5h0M420.9 412.7h0M421.0 401.9h0M421.0 416.0h0M421.1 403.0h0M421.4 418.2h0M421.5 408.6h0M421.6 418.6h0M421.7 426.4h0M421.8 409.3h0M422.0 415.7h0M422.1 423.3h0M422.2 424.8h0M422.4 415.2h0M422.6 400.2h0M422.7 401.9h0M422.8 426.1h0M422.9 403.5h0M422.9 404.9h0M423.0 409.3h0M423.1 403.1h0M423.2 422.0h0M423.3 416.2h0M423.4 421.7h0M423.5 406.3h0M423.6 423.4h0M423.7 410.8h0M423.8 399.2h0M423.9 417.2h0M424.0 420.1h0M424.1 417.2h0M424.2 414.3h0M424.4 418.2h0M424.5 418.7h0M424.7 402.9h0M424.7 423.8h0M424.8 419.3h0M425.0 426.4h0M425.1 404.5h0M425.2 427.5h0M425.3 410.6h0M425.4 402.5h0M425.6 419.0h0M425.7 409.4h0M425.9 401.5h0M426.0 402.8h0M426.1 407.0h0M426.2 407.5h0M426.3 416.3h0M426.4 423.5h0M426.5 404.3h0M426.6 402.1h0M426.6 429.9h0M426.7 406.5h0M426.8 414.6h0M426.9 406.9h0M427.1 414.4h0M427.2 404.4h0M427.3 405.5h0M427.4 407.2h0M427.6 408.1h0M427.7 417.4h0M427.8 431.6h0M427.9 409.7h0M428.1 407.5h0M428.3 424.4h0M428.4 407.4h0M428.5 413.1h0M428.5 410.7h0M428.8 411.4h0M428.9 417.1h0M429.0 410.0h0M429.1 418.8h0M429.3 405.9h0M429.4 415.8h0M429.5 411.0h0M429.6 402.8h0M429.7 417.0h0M429.8 407.4h0M429.9 416.6h0M430.0 413.1h0M430.1 425.7h0M430.2 410.2h0M430.3 404.9h0M430.3 420.6h0M430.4 410.2h0M430.5 414.6h0M430.6 433.0h0M430.7 415.7h0M431.0 425.9h0M431.2 417.8h0M431.3 427.9h0M431.5 420.9h0M431.6 420.5h0M431.7 428.0h0M431.8 417.6h0M431.9 427.4h0M432.0 431.5h0M432.1 421.6h0M432.2 430.5h0M432.2 405.3h0M432.4 434.9h0M432.5 422.0h0M432.6 429.4h0M433.0 404.3h0M433.2 420.6h0M433.6 434.2h0M433.7 420.0h0M433.8 428.5h0M433.9 422.5h0M434.0 433.6h0M434.1 420.8h0M434.1 404.7h0M434.2 427.0h0M434.3 420.9h0M434.6 429.7h0M434.7 419.2h0M434.8 429.5h0M434.9 430.5h0M435.0 427.7h0M435.1 430.5h0M435.4 431.9h0M435.5 421.8h0M435.7 429.8h0M435.8 425.5h0M435.9 415.9h0M436.1 425.2h0M436.2 424.5h0M436.4 428.0h0M436.5 429.9h0M436.6 429.4h0M436.7 419.2h0M436.8 427.5h0M437.0 428.4h0M437.6 424.8h0M437.7 426.2h0M437.8 428.7h0M437.8 429.8h0M437.9 429.3h0M438.1 430.3h0M438.2 424.7h0M438.4 426.2h0M438.6 421.0h0M438.7 430.0h0M438.9 434.8h0M439.0 427.3h0M439.1 432.0h0M439.2 428.2h0M439.3 416.8h0M439.4 418.6h0M439.5 434.0h0M439.6 426.9h0M439.7 424.4h0M439.7 430.2h0M439.8 425.8h0M440.0 433.9h0M440.2 434.1h0M440.3 424.9h0M440.4 437.5h0M440.5 420.5h0M440.6 427.7h0M440.7 436.2h0M440.8 432.6h0M440.9 431.0h0M441.0 427.3h0M441.1 424.1h0M441.2 427.8h0M441.3 435.6h0M441.5 414.8h0M441.5 424.1h0M441.7 421.5h0M441.9 424.4h0M442.1 413.7h0M442.2 413.2h0M442.3 430.0h0M442.4 418.3h0M442.6 420.4h0M442.7 412.8h0M442.9 417.8h0M443.0 428.3h0M443.1 422.6h0M443.2 419.5h0M443.3 432.7h0M443.4 421.8h0M443.5 424.0h0M443.7 431.0h0M443.8 425.4h0M443.9 434.5h0M444.0 425.1h0M444.1 429.9h0M444.2 419.0h0M444.3 426.8h0M444.4 432.3h0M444.5 428.7h0M444.6 426.7h0M444.8 431.3h0M445.0 417.4h0M445.1 423.6h0M445.2 439.2h0M445.2 419.2h0M445.4 423.1h0M445.5 424.7h0M445.6 432.1h0M445.7 434.9h0M445.8 433.4h0M446.0 428.4h0M446.1 427.7h0M446.2 414.1h0M446.3 420.4h0M446.5 412.9h0M446.7 437.9h0M446.9 425.7h0M447.0 428.6h0M447.1 423.2h0M447.1 413.4h0M447.2 438.7h0M447.3 421.4h0M447.4 428.7h0M447.5 416.6h0M447.6 422.2h0M447.7 430.3h0M447.8 434.1h0M448.0 412.3h0M448.2 428.1h0M448.4 428.0h0M448.5 415.9h0M448.6 425.3h0M448.7 414.6h0M448.8 422.3h0M448.9 428.4h0M449.0 406.6h0M449.0 425.3h0M449.1 437.6h0M449.2 425.7h0M449.3 415.5h0M449.4 434.6h0M449.5 412.4h0M449.8 428.5h0M449.9 413.3h0M450.1 425.5h0M450.2 419.3h0M450.3 415.7h0M450.4 420.9h0M450.5 421.2h0M450.6 427.1h0M450.7 425.0h0M450.8 416.2h0M450.8 413.1h0M450.9 412.0h0M451.0 407.7h0M451.1 405.4h0M451.3 424.9h0M451.4 420.6h0M451.5 426.1h0M451.6 406.3h0M451.7 409.6h0M451.8 419.4h0M451.9 416.6h0M452.0 403.3h0M452.1 421.8h0M452.2 421.3h0M452.3 407.1h0M452.4 412.2h0M452.6 413.3h0M452.7 408.9h0M452.7 423.9h0M452.8 428.5h0M452.9 417.7h0M453.1 412.8h0M453.2 406.3h0M453.3 416.7h0M453.4 420.1h0M453.5 405.0h0M453.6 418.0h0M453.7 406.2h0M454.0 409.1h0M454.2 406.6h0M454.3 411.8h0M454.4 414.6h0M454.5 414.3h0M454.6 416.7h0M454.6 404.9h0M454.9 420.5h0M455.0 409.8h0M455.1 427.2h0M455.2 418.6h0M455.3 425.4h0M455.4 412.3h0M455.5 407.4h0M455.7 411.6h0M455.8 425.7h0M455.9 414.5h0M456.0 410.8h0M456.1 401.1h0M456.3 413.1h0M456.4 409.1h0M456.5 412.2h0M456.6 411.6h0M456.7 407.1h0M456.8 412.9h0M457.0 424.8h0M457.1 413.2h0M457.3 403.4h0M457.4 418.7h0M457.5 417.2h0M457.6 431.7h0M457.7 404.5h0M457.8 423.9h0M457.9 426.9h0M458.0 423.6h0M458.1 428.6h0M458.2 421.8h0M458.3 404.3h0M458.3 410.1h0M458.4 403.0h0M458.7 414.4h0M458.8 402.9h0M459.0 436.9h0M459.1 437.2h0M459.2 415.5h0M459.4 425.2h0M459.5 433.0h0M459.6 417.3h0M459.7 431.0h0M459.9 422.5h0M460.0 421.0h0M460.1 415.3h0M460.2 412.0h0M460.2 420.9h0M460.3 426.0h0M460.4 431.1h0M460.5 442.6h0M460.6 440.2h0M460.7 412.5h0M460.8 416.7h0M461.0 426.3h0M461.2 415.4h0M461.3 413.2h0M461.4 438.8h0M461.5 444.1h0M461.6 424.0h0M461.7 417.7h0M461.8 439.0h0M461.9 430.2h0M462.0 435.4h0M462.0 440.3h0M462.1 442.1h0M462.2 425.5h0M462.3 431.6h0M462.4 435.2h0M462.7 438.7h0M462.8 429.5h0M462.9 441.1h0M463.0 423.7h0M463.2 427.1h0M463.3 430.5h0M463.4 417.8h0M463.6 436.0h0M463.7 431.3h0M463.9 425.5h0M464.0 435.2h0M464.1 425.4h0M464.2 421.5h0M464.3 427.5h0M464.4 426.2h0M464.5 426.0h0M464.6 436.1h0M464.7 431.9h0M464.9 433.7h0M465.0 438.5h0M465.1 432.7h0M465.3 421.4h0M465.4 425.5h0M465.5 424.6h0M465.6 417.4h0M465.8 425.3h0M465.8 430.6h0M465.9 431.5h0M466.1 424.2h0M466.3 427.8h0M466.4 431.7h0M466.5 423.5h0M466.6 420.3h0M467.0 429.6h0M467.2 430.2h0M467.3 429.5h0M467.4 428.9h0M467.5 437.3h0M467.6 422.7h0M467.6 439.7h0M467.8 427.8h0M467.9 438.5h0M468.0 434.8h0M468.1 432.7h0M468.2 423.0h0M468.3 432.3h0M468.4 433.8h0M468.5 427.0h0M468.6 430.0h0M468.9 437.8h0M469.0 421.5h0M469.3 431.8h0" stroke="#1a6ec4" stroke-width="3.45" stroke-linecap="round" fill="none"/>
<line x1="68.75" y1="500.00" x2="68.75" y2="292.70" stroke="#333" stroke-width="1.4" stroke-dasharray="15.3 9.1"/>
<line x1="185.93" y1="500.00" x2="185.93" y2="292.70" stroke="#333" stroke-width="1.4" stroke-dasharray="15.3 9.1"/>
<g stroke="#262626" stroke-width="1.1" fill="none"><line x1="53.50" y1="500.00" x2="53.50" y2="495.80"/>
<line x1="53.50" y1="292.70" x2="53.50" y2="296.90"/>
<line x1="122.83" y1="500.00" x2="122.83" y2="495.80"/>
<line x1="122.83" y1="292.70" x2="122.83" y2="296.90"/>
<line x1="192.17" y1="500.00" x2="192.17" y2="495.80"/>
<line x1="192.17" y1="292.70" x2="192.17" y2="296.90"/>
<line x1="261.50" y1="500.00" x2="261.50" y2="495.80"/>
<line x1="261.50" y1="292.70" x2="261.50" y2="296.90"/>
<line x1="330.83" y1="500.00" x2="330.83" y2="495.80"/>
<line x1="330.83" y1="292.70" x2="330.83" y2="296.90"/>
<line x1="400.17" y1="500.00" x2="400.17" y2="495.80"/>
<line x1="400.17" y1="292.70" x2="400.17" y2="296.90"/>
<line x1="469.50" y1="500.00" x2="469.50" y2="495.80"/>
<line x1="469.50" y1="292.70" x2="469.50" y2="296.90"/>
<line x1="53.50" y1="500.00" x2="57.70" y2="500.00"/>
<line x1="469.50" y1="500.00" x2="465.30" y2="500.00"/>
<line x1="53.50" y1="465.45" x2="57.70" y2="465.45"/>
<line x1="469.50" y1="465.45" x2="465.30" y2="465.45"/>
<line x1="53.50" y1="430.90" x2="57.70" y2="430.90"/>
<line x1="469.50" y1="430.90" x2="465.30" y2="430.90"/>
<line x1="53.50" y1="396.35" x2="57.70" y2="396.35"/>
<line x1="469.50" y1="396.35" x2="465.30" y2="396.35"/>
<line x1="53.50" y1="361.80" x2="57.70" y2="361.80"/>
<line x1="469.50" y1="361.80" x2="465.30" y2="361.80"/>
<line x1="53.50" y1="327.25" x2="57.70" y2="327.25"/>
<line x1="469.50" y1="327.25" x2="465.30" y2="327.25"/>
<line x1="53.50" y1="292.70" x2="57.70" y2="292.70"/>
<line x1="469.50" y1="292.70" x2="465.30" y2="292.70"/>
<rect x="53.5" y="292.7" width="416.0" height="207.3" fill="none"/></g>
<g font-family="Liberation Sans, Arial, sans-serif" font-size="15.2" fill="#111" stroke="#111" stroke-width="0.28"><text x="53.50" y="521.60" text-anchor="middle">2008</text>
<text x="122.83" y="521.60" text-anchor="middle">2010</text>
<text x="192.17" y="521.60" text-anchor="middle">2012</text>
<text x="261.50" y="521.60" text-anchor="middle">2014</text>
<text x="330.83" y="521.60" text-anchor="middle">2016</text>
<text x="400.17" y="521.60" text-anchor="middle">2018</text>
<text x="469.50" y="521.60" text-anchor="middle">2020</text>
<text x="48.80" y="505.60" text-anchor="end">−30</text>
<text x="48.80" y="471.05" text-anchor="end">−20</text>
<text x="48.80" y="436.50" text-anchor="end">−10</text>
<text x="45.50" y="401.95" text-anchor="end">0</text>
<text x="45.50" y="367.40" text-anchor="end">10</text>
<text x="45.50" y="332.85" text-anchor="end">20</text>
<text x="45.50" y="298.30" text-anchor="end">30</text></g>
<text x="14.6" y="396.35" transform="rotate(-90 14.6 396.35)" text-anchor="middle" font-family="Liberation Sans, Arial, sans-serif" font-size="16.9" fill="#111" stroke="#111" stroke-width="0.28">Vertical displacement(mm)</text>
<text x="261.50" y="543.60" text-anchor="middle" font-family="Liberation Sans, Arial, sans-serif" font-size="16.6" letter-spacing="0.7" fill="#111" stroke="#111" stroke-width="0.28">Year</text>
<path d="M69.4 331.7 L84.8 326.3 L80.5 331.7 L84.8 337.1 Z" fill="#000" stroke="#000" stroke-width="0.7" stroke-linejoin="round"/><line x1="80.5" y1="331.7" x2="91.0" y2="331.7" stroke="#111" stroke-width="1.4"/>
<path d="M183.8 331.7 L199.5 326.3 L195.1 331.7 L199.5 337.1 Z" fill="#000" stroke="#000" stroke-width="0.7" stroke-linejoin="round"/><line x1="195.1" y1="331.7" x2="204.8" y2="331.7" stroke="#111" stroke-width="1.4"/>
<g font-family="Liberation Sans, Arial, sans-serif" font-size="15.3" fill="#000" stroke="#000" stroke-width="0.25"><text x="96.3" y="337.2">11/06/2008</text><text x="209.5" y="337.2">26/10/2011</text></g>
</svg>
</body></html>
